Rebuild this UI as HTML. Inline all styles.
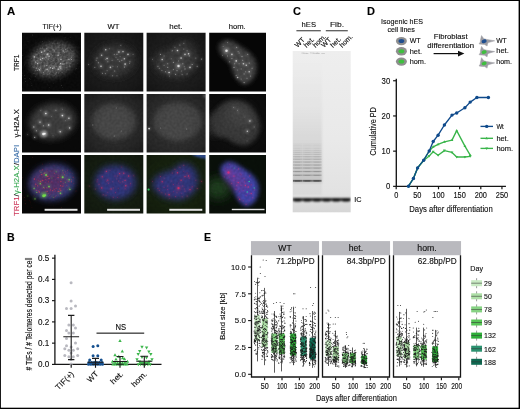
<!DOCTYPE html>
<html><head><meta charset="utf-8"><title>Figure</title>
<style>
html,body{margin:0;padding:0;background:#fff;}
svg{display:block;font-family:"Liberation Sans", sans-serif;}
text{stroke:#000;stroke-width:0.12px;}
</style></head><body>
<svg width="520" height="409" viewBox="0 0 520 409">
<rect width="520" height="409" fill="#fff"/>
<defs>
<filter id="b1" x="-30%" y="-30%" width="160%" height="160%"><feGaussianBlur stdDeviation="1"/></filter>
<filter id="b2" x="-30%" y="-30%" width="160%" height="160%"><feGaussianBlur stdDeviation="2"/></filter>
<filter id="b3" x="-30%" y="-30%" width="160%" height="160%"><feGaussianBlur stdDeviation="3"/></filter>
<filter id="b5" x="-40%" y="-40%" width="180%" height="180%"><feGaussianBlur stdDeviation="5"/></filter>
<filter id="bd" x="-50%" y="-50%" width="200%" height="200%"><feGaussianBlur stdDeviation="0.45"/></filter>
<filter id="bd2" x="-50%" y="-50%" width="200%" height="200%"><feGaussianBlur stdDeviation="0.75"/></filter>
<filter id="gbl" filterUnits="userSpaceOnUse" x="285" y="130" width="75" height="70"><feGaussianBlur stdDeviation="0.76"/></filter>
<filter id="gbi" filterUnits="userSpaceOnUse" x="285" y="185" width="75" height="30"><feGaussianBlur stdDeviation="0.85"/></filter>
</defs>
<clipPath id="cp00"><rect x="22" y="32.8" width="59" height="58.7"/></clipPath>
<clipPath id="cp01"><rect x="22" y="94" width="59" height="58.599999999999994"/></clipPath>
<clipPath id="cp02"><rect x="22" y="155" width="59" height="58.599999999999994"/></clipPath>
<clipPath id="cp10"><rect x="84.3" y="32.8" width="59.000000000000014" height="58.7"/></clipPath>
<clipPath id="cp11"><rect x="84.3" y="94" width="59.000000000000014" height="58.599999999999994"/></clipPath>
<clipPath id="cp12"><rect x="84.3" y="155" width="59.000000000000014" height="58.599999999999994"/></clipPath>
<clipPath id="cp20"><rect x="146.6" y="32.8" width="59.0" height="58.7"/></clipPath>
<clipPath id="cp21"><rect x="146.6" y="94" width="59.0" height="58.599999999999994"/></clipPath>
<clipPath id="cp22"><rect x="146.6" y="155" width="59.0" height="58.599999999999994"/></clipPath>
<clipPath id="cp30"><rect x="209.2" y="32.8" width="56.80000000000001" height="58.7"/></clipPath>
<clipPath id="cp31"><rect x="209.2" y="94" width="56.80000000000001" height="58.599999999999994"/></clipPath>
<clipPath id="cp32"><rect x="209.2" y="155" width="56.80000000000001" height="58.599999999999994"/></clipPath>
<radialGradient id="vig" cx="0.5" cy="0.5" r="0.75"><stop offset="0.25" stop-color="#000" stop-opacity="0"/><stop offset="0.6" stop-color="#000" stop-opacity="0.35"/><stop offset="1" stop-color="#000" stop-opacity="1"/></radialGradient>
<filter id="grain" x="0" y="0" width="100%" height="100%" color-interpolation-filters="sRGB">
<feTurbulence type="fractalNoise" baseFrequency="0.4" numOctaves="1" seed="4" result="n"/>
<feColorMatrix in="n" type="matrix" values="1 0 0 0 0  1 0 0 0 0  1 0 0 0 0  0 0 0 0 1" result="g"/>
<feComposite in="SourceGraphic" in2="g" operator="arithmetic" k1="0.3" k2="0.85" k3="0" k4="0"/></filter>
<filter id="grain2" x="0" y="0" width="100%" height="100%" color-interpolation-filters="sRGB">
<feTurbulence type="fractalNoise" baseFrequency="0.45" numOctaves="1" seed="9" result="n"/>
<feColorMatrix in="n" type="matrix" values="1.5 0 0 0 -0.25  1.5 0 0 0 -0.25  1.5 0 0 0 -0.25  0 0 0 0 1" result="g"/>
<feComposite in="SourceGraphic" in2="g" operator="arithmetic" k1="0.7" k2="0.65" k3="0" k4="0"/></filter>
<g clip-path="url(#cp00)"><g filter="url(#grain2)">
<rect x="19" y="29.799999999999997" width="65" height="64.7" fill="#0a0a0a"/>
<path d="M76.3 53.7 C77.0 56.5 76.6 60.0 75.3 63.0 C74.0 65.9 71.3 69.0 68.3 71.3 C65.3 73.6 61.1 75.5 57.2 76.5 C53.4 77.4 48.7 77.7 45.0 77.1 C41.3 76.5 37.5 75.0 34.9 73.0 C32.4 71.1 30.4 68.1 29.7 65.3 C29.0 62.5 29.4 59.0 30.7 56.0 C32.0 53.1 34.7 50.0 37.7 47.7 C40.7 45.4 44.9 43.5 48.8 42.5 C52.6 41.6 57.3 41.3 61.0 41.9 C64.7 42.5 68.5 44.0 71.1 46.0 C73.6 47.9 75.6 50.9 76.3 53.7Z" fill="#4a4a4a" filter="url(#b3)" opacity="1"/>
</g>
<g fill="#999" filter="url(#bd)">
<circle cx="67.9" cy="55.7" r="0.35" opacity="0.49"/>
<circle cx="24.3" cy="64.9" r="0.28" opacity="0.42"/>
<circle cx="77.5" cy="63.4" r="0.27" opacity="0.35"/>
<circle cx="53.9" cy="75.1" r="0.35" opacity="0.37"/>
<circle cx="70.9" cy="63.6" r="0.33" opacity="0.48"/>
<circle cx="34.4" cy="73.2" r="0.33" opacity="0.42"/>
<circle cx="29.2" cy="90.9" r="0.32" opacity="0.17"/>
<circle cx="38.2" cy="56.4" r="0.25" opacity="0.30"/>
<circle cx="46.8" cy="74.0" r="0.32" opacity="0.24"/>
<circle cx="35.2" cy="76.5" r="0.44" opacity="0.33"/>
<circle cx="34.9" cy="80.1" r="0.33" opacity="0.22"/>
<circle cx="29.6" cy="78.6" r="0.41" opacity="0.37"/>
<circle cx="49.7" cy="66.0" r="0.30" opacity="0.49"/>
<circle cx="42.8" cy="70.5" r="0.41" opacity="0.44"/>
<circle cx="49.6" cy="50.2" r="0.36" opacity="0.19"/>
<circle cx="71.2" cy="53.7" r="0.42" opacity="0.24"/>
<circle cx="44.2" cy="47.8" r="0.34" opacity="0.22"/>
<circle cx="22.2" cy="75.4" r="0.31" opacity="0.24"/>
<circle cx="39.8" cy="61.1" r="0.34" opacity="0.37"/>
<circle cx="60.9" cy="54.2" r="0.44" opacity="0.45"/>
<circle cx="25.4" cy="81.6" r="0.43" opacity="0.42"/>
<circle cx="30.3" cy="81.8" r="0.38" opacity="0.16"/>
<circle cx="22.7" cy="89.0" r="0.38" opacity="0.24"/>
<circle cx="28.0" cy="41.2" r="0.30" opacity="0.42"/>
<circle cx="42.4" cy="41.8" r="0.43" opacity="0.43"/>
<circle cx="31.9" cy="85.4" r="0.37" opacity="0.42"/>
<circle cx="61.4" cy="85.5" r="0.41" opacity="0.44"/>
<circle cx="33.6" cy="73.7" r="0.36" opacity="0.41"/>
<circle cx="47.9" cy="84.9" r="0.36" opacity="0.24"/>
<circle cx="35.8" cy="41.0" r="0.35" opacity="0.17"/>
<circle cx="49.6" cy="41.3" r="0.35" opacity="0.32"/>
<circle cx="53.8" cy="83.7" r="0.25" opacity="0.44"/>
<circle cx="49.6" cy="66.0" r="0.38" opacity="0.44"/>
<circle cx="44.1" cy="57.5" r="0.44" opacity="0.18"/>
<circle cx="59.6" cy="70.3" r="0.26" opacity="0.36"/>
<circle cx="62.3" cy="87.8" r="0.32" opacity="0.49"/>
<circle cx="52.1" cy="61.4" r="0.43" opacity="0.16"/>
<circle cx="64.4" cy="69.7" r="0.32" opacity="0.45"/>
<circle cx="43.6" cy="60.8" r="0.36" opacity="0.42"/>
<circle cx="34.4" cy="58.5" r="0.33" opacity="0.34"/>
<circle cx="70.8" cy="50.1" r="0.42" opacity="0.29"/>
<circle cx="51.7" cy="48.8" r="0.35" opacity="0.49"/>
<circle cx="60.6" cy="79.5" r="0.32" opacity="0.26"/>
<circle cx="39.7" cy="67.4" r="0.38" opacity="0.42"/>
<circle cx="24.4" cy="75.4" r="0.43" opacity="0.34"/>
<circle cx="24.9" cy="50.5" r="0.25" opacity="0.22"/>
<circle cx="76.4" cy="68.7" r="0.38" opacity="0.43"/>
<circle cx="75.7" cy="68.9" r="0.37" opacity="0.37"/>
<circle cx="63.1" cy="68.0" r="0.39" opacity="0.22"/>
<circle cx="61.4" cy="59.8" r="0.40" opacity="0.19"/>
<circle cx="32.7" cy="35.0" r="0.40" opacity="0.47"/>
<circle cx="60.7" cy="54.6" r="0.41" opacity="0.43"/>
<circle cx="55.2" cy="48.0" r="0.31" opacity="0.30"/>
<circle cx="40.8" cy="58.2" r="0.38" opacity="0.48"/>
<circle cx="25.2" cy="66.3" r="0.26" opacity="0.19"/>
<circle cx="69.8" cy="66.7" r="0.43" opacity="0.31"/>
<circle cx="22.8" cy="55.6" r="0.37" opacity="0.48"/>
<circle cx="79.9" cy="60.9" r="0.33" opacity="0.19"/>
<circle cx="60.0" cy="45.3" r="0.28" opacity="0.16"/>
<circle cx="22.3" cy="73.1" r="0.27" opacity="0.49"/>
<circle cx="27.2" cy="84.1" r="0.28" opacity="0.16"/>
<circle cx="64.4" cy="47.1" r="0.40" opacity="0.22"/>
<circle cx="25.0" cy="78.5" r="0.39" opacity="0.45"/>
<circle cx="65.1" cy="37.8" r="0.38" opacity="0.40"/>
<circle cx="49.2" cy="87.8" r="0.30" opacity="0.49"/>
<circle cx="64.3" cy="33.5" r="0.25" opacity="0.38"/>
<circle cx="70.2" cy="37.5" r="0.31" opacity="0.41"/>
<circle cx="31.8" cy="83.6" r="0.35" opacity="0.17"/>
<circle cx="43.7" cy="66.7" r="0.34" opacity="0.39"/>
<circle cx="30.5" cy="79.8" r="0.32" opacity="0.38"/>
</g>
<g fill="#bbb" filter="url(#bd)">
<circle cx="60.8" cy="44.6" r="0.34" opacity="0.15"/>
<circle cx="48.2" cy="56.1" r="0.37" opacity="0.27"/>
<circle cx="35.5" cy="64.0" r="0.54" opacity="0.19"/>
<circle cx="40.1" cy="48.2" r="0.54" opacity="0.22"/>
<circle cx="35.4" cy="54.9" r="0.39" opacity="0.44"/>
<circle cx="58.0" cy="47.7" r="0.51" opacity="0.30"/>
<circle cx="42.0" cy="54.4" r="0.31" opacity="0.32"/>
<circle cx="47.0" cy="46.9" r="0.39" opacity="0.47"/>
<circle cx="51.5" cy="59.0" r="0.35" opacity="0.28"/>
<circle cx="46.0" cy="51.6" r="0.52" opacity="0.16"/>
<circle cx="67.6" cy="48.2" r="0.40" opacity="0.43"/>
<circle cx="54.3" cy="47.7" r="0.49" opacity="0.16"/>
<circle cx="54.9" cy="43.7" r="0.31" opacity="0.17"/>
<circle cx="54.2" cy="75.5" r="0.53" opacity="0.24"/>
<circle cx="69.1" cy="66.1" r="0.49" opacity="0.46"/>
<circle cx="42.4" cy="55.0" r="0.38" opacity="0.25"/>
<circle cx="38.3" cy="68.6" r="0.54" opacity="0.37"/>
<circle cx="54.4" cy="68.8" r="0.37" opacity="0.40"/>
<circle cx="45.5" cy="50.2" r="0.38" opacity="0.25"/>
<circle cx="67.1" cy="67.5" r="0.30" opacity="0.41"/>
<circle cx="40.9" cy="60.1" r="0.53" opacity="0.37"/>
<circle cx="42.3" cy="65.9" r="0.54" opacity="0.16"/>
<circle cx="73.2" cy="57.7" r="0.36" opacity="0.32"/>
<circle cx="73.1" cy="55.0" r="0.54" opacity="0.48"/>
<circle cx="40.6" cy="50.4" r="0.40" opacity="0.24"/>
<circle cx="39.6" cy="49.6" r="0.41" opacity="0.32"/>
<circle cx="58.5" cy="72.9" r="0.53" opacity="0.21"/>
<circle cx="68.1" cy="58.8" r="0.50" opacity="0.41"/>
<circle cx="59.8" cy="69.5" r="0.51" opacity="0.42"/>
<circle cx="34.6" cy="64.9" r="0.45" opacity="0.26"/>
<circle cx="64.1" cy="58.8" r="0.38" opacity="0.28"/>
<circle cx="38.8" cy="69.2" r="0.50" opacity="0.18"/>
<circle cx="45.6" cy="69.6" r="0.35" opacity="0.41"/>
<circle cx="73.9" cy="56.0" r="0.36" opacity="0.17"/>
<circle cx="48.6" cy="74.4" r="0.31" opacity="0.34"/>
<circle cx="62.9" cy="48.5" r="0.38" opacity="0.49"/>
<circle cx="37.3" cy="70.4" r="0.52" opacity="0.50"/>
<circle cx="46.4" cy="61.1" r="0.37" opacity="0.18"/>
<circle cx="54.2" cy="74.0" r="0.32" opacity="0.32"/>
<circle cx="50.1" cy="71.9" r="0.48" opacity="0.31"/>
<circle cx="67.4" cy="49.8" r="0.36" opacity="0.30"/>
<circle cx="42.0" cy="52.6" r="0.46" opacity="0.39"/>
<circle cx="41.5" cy="62.4" r="0.49" opacity="0.45"/>
<circle cx="42.4" cy="56.8" r="0.47" opacity="0.19"/>
<circle cx="46.5" cy="58.1" r="0.51" opacity="0.25"/>
<circle cx="56.7" cy="73.0" r="0.44" opacity="0.28"/>
<circle cx="49.5" cy="73.5" r="0.48" opacity="0.22"/>
<circle cx="53.1" cy="60.6" r="0.36" opacity="0.24"/>
<circle cx="54.0" cy="43.4" r="0.34" opacity="0.46"/>
<circle cx="50.4" cy="48.9" r="0.44" opacity="0.26"/>
<circle cx="38.5" cy="58.6" r="0.40" opacity="0.50"/>
<circle cx="63.0" cy="61.4" r="0.43" opacity="0.23"/>
<circle cx="45.3" cy="60.1" r="0.50" opacity="0.38"/>
<circle cx="55.5" cy="69.0" r="0.55" opacity="0.19"/>
<circle cx="35.6" cy="61.5" r="0.42" opacity="0.44"/>
<circle cx="41.9" cy="52.0" r="0.51" opacity="0.47"/>
<circle cx="65.0" cy="59.8" r="0.31" opacity="0.25"/>
<circle cx="55.7" cy="68.2" r="0.33" opacity="0.22"/>
<circle cx="71.3" cy="57.6" r="0.54" opacity="0.35"/>
<circle cx="58.0" cy="59.7" r="0.53" opacity="0.28"/>
<circle cx="53.5" cy="65.9" r="0.52" opacity="0.31"/>
<circle cx="50.9" cy="60.6" r="0.36" opacity="0.42"/>
<circle cx="52.0" cy="74.3" r="0.54" opacity="0.19"/>
<circle cx="61.8" cy="72.1" r="0.45" opacity="0.37"/>
<circle cx="72.6" cy="51.5" r="0.35" opacity="0.28"/>
<circle cx="55.6" cy="74.3" r="0.34" opacity="0.22"/>
<circle cx="68.0" cy="47.4" r="0.36" opacity="0.36"/>
<circle cx="36.3" cy="57.6" r="0.46" opacity="0.22"/>
<circle cx="34.1" cy="65.2" r="0.30" opacity="0.26"/>
<circle cx="37.7" cy="66.7" r="0.47" opacity="0.21"/>
<circle cx="60.1" cy="47.6" r="0.38" opacity="0.22"/>
<circle cx="48.5" cy="59.1" r="0.50" opacity="0.34"/>
<circle cx="38.0" cy="57.2" r="0.32" opacity="0.19"/>
<circle cx="53.7" cy="54.1" r="0.40" opacity="0.34"/>
<circle cx="39.5" cy="53.4" r="0.46" opacity="0.18"/>
<circle cx="55.4" cy="57.5" r="0.34" opacity="0.39"/>
<circle cx="58.5" cy="59.9" r="0.40" opacity="0.25"/>
<circle cx="42.8" cy="47.1" r="0.38" opacity="0.48"/>
<circle cx="49.6" cy="73.3" r="0.38" opacity="0.35"/>
<circle cx="67.1" cy="51.4" r="0.39" opacity="0.30"/>
<circle cx="56.1" cy="66.2" r="0.52" opacity="0.50"/>
<circle cx="61.3" cy="57.0" r="0.39" opacity="0.22"/>
<circle cx="58.9" cy="69.6" r="0.48" opacity="0.22"/>
<circle cx="51.0" cy="54.1" r="0.30" opacity="0.47"/>
<circle cx="55.3" cy="73.8" r="0.41" opacity="0.44"/>
<circle cx="42.7" cy="47.1" r="0.40" opacity="0.46"/>
<circle cx="54.2" cy="50.7" r="0.42" opacity="0.21"/>
<circle cx="44.7" cy="53.0" r="0.30" opacity="0.34"/>
<circle cx="64.5" cy="52.5" r="0.46" opacity="0.47"/>
<circle cx="53.0" cy="48.7" r="0.32" opacity="0.37"/>
<circle cx="63.3" cy="61.2" r="0.39" opacity="0.33"/>
<circle cx="39.3" cy="58.7" r="0.34" opacity="0.25"/>
<circle cx="67.1" cy="57.2" r="0.43" opacity="0.47"/>
<circle cx="52.8" cy="70.7" r="0.33" opacity="0.32"/>
<circle cx="48.3" cy="59.7" r="0.50" opacity="0.49"/>
<circle cx="46.0" cy="70.6" r="0.35" opacity="0.19"/>
<circle cx="62.1" cy="64.0" r="0.54" opacity="0.49"/>
<circle cx="48.8" cy="54.4" r="0.42" opacity="0.17"/>
<circle cx="34.0" cy="67.6" r="0.53" opacity="0.29"/>
<circle cx="42.2" cy="48.2" r="0.53" opacity="0.37"/>
<circle cx="69.4" cy="65.2" r="0.51" opacity="0.21"/>
<circle cx="43.4" cy="50.9" r="0.50" opacity="0.23"/>
<circle cx="43.8" cy="58.1" r="0.40" opacity="0.45"/>
<circle cx="37.8" cy="57.7" r="0.51" opacity="0.21"/>
<circle cx="42.5" cy="74.9" r="0.35" opacity="0.29"/>
<circle cx="73.9" cy="61.1" r="0.43" opacity="0.28"/>
<circle cx="44.6" cy="54.7" r="0.33" opacity="0.24"/>
<circle cx="51.9" cy="59.6" r="0.48" opacity="0.46"/>
<circle cx="39.8" cy="59.7" r="0.31" opacity="0.35"/>
<circle cx="34.8" cy="56.1" r="0.49" opacity="0.16"/>
<circle cx="44.3" cy="50.6" r="0.51" opacity="0.19"/>
<circle cx="56.8" cy="60.5" r="0.45" opacity="0.34"/>
<circle cx="64.1" cy="64.8" r="0.46" opacity="0.26"/>
<circle cx="62.6" cy="72.2" r="0.41" opacity="0.35"/>
<circle cx="48.1" cy="53.7" r="0.41" opacity="0.38"/>
<circle cx="62.9" cy="64.3" r="0.41" opacity="0.30"/>
<circle cx="70.3" cy="63.8" r="0.31" opacity="0.37"/>
<circle cx="63.3" cy="69.9" r="0.42" opacity="0.23"/>
<circle cx="37.0" cy="60.3" r="0.49" opacity="0.42"/>
<circle cx="53.2" cy="70.7" r="0.41" opacity="0.21"/>
<circle cx="66.5" cy="70.4" r="0.42" opacity="0.19"/>
<circle cx="56.7" cy="72.6" r="0.33" opacity="0.30"/>
<circle cx="61.1" cy="66.0" r="0.32" opacity="0.30"/>
<circle cx="36.8" cy="54.8" r="0.43" opacity="0.16"/>
<circle cx="35.5" cy="70.7" r="0.46" opacity="0.18"/>
<circle cx="55.6" cy="63.8" r="0.48" opacity="0.42"/>
<circle cx="58.6" cy="65.5" r="0.43" opacity="0.17"/>
<circle cx="66.2" cy="67.8" r="0.43" opacity="0.28"/>
<circle cx="53.1" cy="60.7" r="0.54" opacity="0.20"/>
<circle cx="60.0" cy="45.0" r="0.51" opacity="0.50"/>
<circle cx="63.5" cy="51.2" r="0.48" opacity="0.44"/>
<circle cx="63.1" cy="49.6" r="0.35" opacity="0.49"/>
<circle cx="52.7" cy="55.6" r="0.42" opacity="0.48"/>
<circle cx="52.1" cy="65.6" r="0.53" opacity="0.21"/>
<circle cx="64.8" cy="63.4" r="0.50" opacity="0.48"/>
<circle cx="59.3" cy="45.4" r="0.32" opacity="0.27"/>
<circle cx="37.4" cy="51.3" r="0.49" opacity="0.21"/>
<circle cx="63.8" cy="53.0" r="0.52" opacity="0.25"/>
<circle cx="56.0" cy="43.2" r="0.50" opacity="0.20"/>
<circle cx="60.6" cy="65.9" r="0.43" opacity="0.47"/>
<circle cx="60.8" cy="52.5" r="0.35" opacity="0.24"/>
<circle cx="53.7" cy="58.3" r="0.43" opacity="0.26"/>
<circle cx="51.5" cy="46.7" r="0.31" opacity="0.21"/>
<circle cx="70.4" cy="49.4" r="0.34" opacity="0.48"/>
<circle cx="31.7" cy="58.1" r="0.47" opacity="0.46"/>
<circle cx="50.8" cy="51.8" r="0.34" opacity="0.42"/>
<circle cx="40.2" cy="62.2" r="0.33" opacity="0.34"/>
<circle cx="37.1" cy="60.3" r="0.46" opacity="0.28"/>
<circle cx="67.2" cy="59.8" r="0.52" opacity="0.34"/>
<circle cx="70.1" cy="66.3" r="0.45" opacity="0.46"/>
<circle cx="41.1" cy="72.8" r="0.33" opacity="0.50"/>
<circle cx="52.4" cy="43.6" r="0.46" opacity="0.29"/>
<circle cx="50.8" cy="52.9" r="0.50" opacity="0.24"/>
<circle cx="37.1" cy="54.3" r="0.55" opacity="0.35"/>
<circle cx="44.9" cy="70.9" r="0.39" opacity="0.42"/>
<circle cx="68.0" cy="46.8" r="0.41" opacity="0.21"/>
<circle cx="70.8" cy="52.5" r="0.49" opacity="0.17"/>
<circle cx="47.3" cy="55.9" r="0.50" opacity="0.24"/>
<circle cx="46.8" cy="57.1" r="0.46" opacity="0.49"/>
<circle cx="35.4" cy="70.7" r="0.45" opacity="0.38"/>
<circle cx="43.5" cy="74.1" r="0.38" opacity="0.15"/>
<circle cx="41.9" cy="51.7" r="0.31" opacity="0.20"/>
<circle cx="53.5" cy="49.1" r="0.45" opacity="0.30"/>
<circle cx="47.4" cy="74.8" r="0.43" opacity="0.46"/>
<circle cx="58.8" cy="73.3" r="0.33" opacity="0.23"/>
<circle cx="72.5" cy="61.1" r="0.46" opacity="0.16"/>
<circle cx="62.7" cy="44.4" r="0.30" opacity="0.27"/>
<circle cx="63.3" cy="57.9" r="0.33" opacity="0.28"/>
<circle cx="64.2" cy="64.3" r="0.36" opacity="0.35"/>
<circle cx="51.8" cy="54.3" r="0.45" opacity="0.22"/>
<circle cx="44.1" cy="67.5" r="0.46" opacity="0.32"/>
<circle cx="59.9" cy="52.8" r="0.33" opacity="0.48"/>
<circle cx="55.5" cy="56.0" r="0.36" opacity="0.20"/>
<circle cx="40.1" cy="73.1" r="0.32" opacity="0.37"/>
<circle cx="52.9" cy="50.1" r="0.52" opacity="0.42"/>
<circle cx="50.8" cy="47.4" r="0.40" opacity="0.24"/>
<circle cx="46.0" cy="45.8" r="0.30" opacity="0.38"/>
<circle cx="41.5" cy="51.4" r="0.44" opacity="0.27"/>
<circle cx="56.1" cy="72.5" r="0.46" opacity="0.31"/>
<circle cx="64.0" cy="56.6" r="0.53" opacity="0.41"/>
<circle cx="49.2" cy="60.3" r="0.36" opacity="0.47"/>
<circle cx="47.6" cy="54.1" r="0.31" opacity="0.34"/>
<circle cx="53.2" cy="63.8" r="0.40" opacity="0.23"/>
<circle cx="69.1" cy="50.0" r="0.31" opacity="0.42"/>
<circle cx="42.9" cy="51.1" r="0.30" opacity="0.34"/>
<circle cx="48.6" cy="57.7" r="0.54" opacity="0.20"/>
<circle cx="32.3" cy="66.5" r="0.35" opacity="0.36"/>
<circle cx="70.5" cy="58.6" r="0.43" opacity="0.37"/>
<circle cx="48.2" cy="73.8" r="0.50" opacity="0.21"/>
<circle cx="54.0" cy="65.6" r="0.38" opacity="0.26"/>
<circle cx="59.5" cy="68.4" r="0.31" opacity="0.46"/>
<circle cx="51.1" cy="61.2" r="0.50" opacity="0.40"/>
<circle cx="41.2" cy="73.5" r="0.30" opacity="0.45"/>
<circle cx="59.4" cy="52.9" r="0.49" opacity="0.31"/>
<circle cx="36.5" cy="51.2" r="0.49" opacity="0.31"/>
<circle cx="59.0" cy="66.1" r="0.36" opacity="0.19"/>
<circle cx="54.1" cy="62.3" r="0.36" opacity="0.16"/>
<circle cx="48.0" cy="50.3" r="0.38" opacity="0.41"/>
<circle cx="57.5" cy="43.1" r="0.47" opacity="0.45"/>
<circle cx="44.2" cy="58.2" r="0.48" opacity="0.24"/>
<circle cx="70.0" cy="58.7" r="0.44" opacity="0.30"/>
<circle cx="41.3" cy="51.0" r="0.50" opacity="0.33"/>
<circle cx="52.9" cy="65.3" r="0.37" opacity="0.37"/>
<circle cx="49.5" cy="51.4" r="0.54" opacity="0.23"/>
<circle cx="60.4" cy="73.7" r="0.52" opacity="0.16"/>
<circle cx="45.8" cy="56.8" r="0.37" opacity="0.23"/>
<circle cx="61.1" cy="49.4" r="0.49" opacity="0.48"/>
<circle cx="66.1" cy="67.5" r="0.49" opacity="0.26"/>
<circle cx="53.2" cy="49.6" r="0.52" opacity="0.26"/>
<circle cx="73.8" cy="53.2" r="0.36" opacity="0.47"/>
<circle cx="67.2" cy="50.5" r="0.46" opacity="0.39"/>
<circle cx="40.7" cy="68.2" r="0.47" opacity="0.49"/>
<circle cx="43.9" cy="74.6" r="0.42" opacity="0.44"/>
<circle cx="52.8" cy="49.0" r="0.47" opacity="0.45"/>
<circle cx="40.8" cy="56.7" r="0.41" opacity="0.40"/>
<circle cx="37.4" cy="55.9" r="0.44" opacity="0.26"/>
<circle cx="33.5" cy="55.9" r="0.35" opacity="0.37"/>
<circle cx="72.1" cy="53.8" r="0.32" opacity="0.47"/>
<circle cx="60.3" cy="55.4" r="0.34" opacity="0.16"/>
<circle cx="47.4" cy="53.9" r="0.33" opacity="0.48"/>
</g>
<g fill="#fff" filter="url(#b1)">
<circle cx="46.9" cy="48.8" r="1.27" opacity="0.14"/>
<circle cx="60.6" cy="63.5" r="1.68" opacity="0.15"/>
<circle cx="60.8" cy="66.6" r="1.24" opacity="0.14"/>
<circle cx="35.8" cy="62.2" r="1.76" opacity="0.11"/>
<circle cx="47.6" cy="69.0" r="1.28" opacity="0.12"/>
<circle cx="58.3" cy="69.2" r="1.64" opacity="0.18"/>
<circle cx="58.2" cy="53.1" r="1.26" opacity="0.11"/>
<circle cx="63.2" cy="50.7" r="1.32" opacity="0.12"/>
<circle cx="45.8" cy="57.2" r="1.51" opacity="0.11"/>
<circle cx="44.4" cy="66.0" r="1.38" opacity="0.11"/>
<circle cx="47.8" cy="54.1" r="1.82" opacity="0.17"/>
<circle cx="71.4" cy="59.6" r="1.22" opacity="0.19"/>
<circle cx="66.9" cy="63.0" r="1.22" opacity="0.13"/>
<circle cx="34.4" cy="56.9" r="1.83" opacity="0.18"/>
<circle cx="50.5" cy="67.7" r="1.66" opacity="0.14"/>
<circle cx="46.9" cy="65.6" r="1.29" opacity="0.16"/>
<circle cx="54.5" cy="51.0" r="1.22" opacity="0.11"/>
<circle cx="65.7" cy="49.6" r="1.42" opacity="0.09"/>
<circle cx="52.7" cy="68.4" r="1.43" opacity="0.18"/>
<circle cx="40.5" cy="59.3" r="1.63" opacity="0.14"/>
<circle cx="47.0" cy="69.4" r="1.59" opacity="0.14"/>
<circle cx="43.5" cy="72.8" r="1.25" opacity="0.15"/>
<circle cx="44.4" cy="51.0" r="1.43" opacity="0.17"/>
<circle cx="60.9" cy="59.4" r="1.78" opacity="0.14"/>
<circle cx="37.6" cy="63.6" r="1.55" opacity="0.17"/>
<circle cx="36.4" cy="68.1" r="1.44" opacity="0.11"/>
<circle cx="60.8" cy="68.1" r="1.65" opacity="0.18"/>
<circle cx="58.1" cy="55.2" r="1.68" opacity="0.17"/>
<circle cx="49.1" cy="56.3" r="1.74" opacity="0.16"/>
<circle cx="41.4" cy="52.4" r="1.59" opacity="0.14"/>
<circle cx="68.9" cy="59.5" r="1.37" opacity="0.16"/>
<circle cx="48.2" cy="71.0" r="1.22" opacity="0.13"/>
<circle cx="42.5" cy="58.3" r="1.69" opacity="0.17"/>
<circle cx="54.2" cy="67.1" r="1.58" opacity="0.12"/>
<circle cx="63.0" cy="63.9" r="1.44" opacity="0.14"/>
<circle cx="47.0" cy="54.3" r="1.58" opacity="0.13"/>
<circle cx="39.4" cy="69.8" r="1.62" opacity="0.19"/>
<circle cx="59.4" cy="66.7" r="1.28" opacity="0.16"/>
</g>
<g fill="#eee" filter="url(#bd2)">
<circle cx="46.9" cy="48.8" r="0.50" opacity="0.56"/>
<circle cx="60.6" cy="63.5" r="0.66" opacity="0.62"/>
<circle cx="60.8" cy="66.6" r="0.48" opacity="0.57"/>
<circle cx="35.8" cy="62.2" r="0.69" opacity="0.47"/>
<circle cx="47.6" cy="69.0" r="0.50" opacity="0.50"/>
<circle cx="58.3" cy="69.2" r="0.64" opacity="0.74"/>
<circle cx="58.2" cy="53.1" r="0.49" opacity="0.43"/>
<circle cx="63.2" cy="50.7" r="0.52" opacity="0.51"/>
<circle cx="45.8" cy="57.2" r="0.59" opacity="0.43"/>
<circle cx="44.4" cy="66.0" r="0.54" opacity="0.45"/>
<circle cx="47.8" cy="54.1" r="0.71" opacity="0.69"/>
<circle cx="71.4" cy="59.6" r="0.48" opacity="0.79"/>
<circle cx="66.9" cy="63.0" r="0.48" opacity="0.53"/>
<circle cx="34.4" cy="56.9" r="0.72" opacity="0.72"/>
<circle cx="50.5" cy="67.7" r="0.65" opacity="0.56"/>
<circle cx="46.9" cy="65.6" r="0.50" opacity="0.65"/>
<circle cx="54.5" cy="51.0" r="0.48" opacity="0.45"/>
<circle cx="65.7" cy="49.6" r="0.55" opacity="0.38"/>
<circle cx="52.7" cy="68.4" r="0.56" opacity="0.72"/>
<circle cx="40.5" cy="59.3" r="0.64" opacity="0.59"/>
<circle cx="47.0" cy="69.4" r="0.62" opacity="0.57"/>
<circle cx="43.5" cy="72.8" r="0.49" opacity="0.63"/>
<circle cx="44.4" cy="51.0" r="0.56" opacity="0.69"/>
<circle cx="60.9" cy="59.4" r="0.70" opacity="0.55"/>
<circle cx="37.6" cy="63.6" r="0.60" opacity="0.70"/>
<circle cx="36.4" cy="68.1" r="0.56" opacity="0.46"/>
<circle cx="60.8" cy="68.1" r="0.64" opacity="0.76"/>
<circle cx="58.1" cy="55.2" r="0.66" opacity="0.68"/>
<circle cx="49.1" cy="56.3" r="0.68" opacity="0.67"/>
<circle cx="41.4" cy="52.4" r="0.62" opacity="0.56"/>
<circle cx="68.9" cy="59.5" r="0.53" opacity="0.64"/>
<circle cx="48.2" cy="71.0" r="0.48" opacity="0.55"/>
<circle cx="42.5" cy="58.3" r="0.66" opacity="0.68"/>
<circle cx="54.2" cy="67.1" r="0.62" opacity="0.47"/>
<circle cx="63.0" cy="63.9" r="0.56" opacity="0.56"/>
<circle cx="47.0" cy="54.3" r="0.62" opacity="0.54"/>
<circle cx="39.4" cy="69.8" r="0.63" opacity="0.78"/>
<circle cx="59.4" cy="66.7" r="0.50" opacity="0.65"/>
</g>
</g>
<g clip-path="url(#cp10)"><g filter="url(#grain)">
<rect x="81.3" y="29.799999999999997" width="65.00000000000001" height="64.7" fill="#1e1e1e"/>
<path d="M136.5 58.9 C136.8 61.7 135.9 65.0 134.3 67.6 C132.7 70.2 129.9 72.8 126.8 74.5 C123.8 76.2 119.7 77.4 116.1 77.7 C112.4 78.1 108.2 77.6 104.9 76.4 C101.6 75.3 98.4 73.2 96.4 70.9 C94.3 68.6 92.9 65.5 92.7 62.7 C92.4 59.9 93.3 56.6 94.9 54.0 C96.5 51.4 99.3 48.8 102.4 47.1 C105.4 45.4 109.5 44.2 113.1 43.9 C116.8 43.5 121.0 44.0 124.3 45.2 C127.6 46.3 130.8 48.4 132.8 50.7 C134.9 53.0 136.3 56.1 136.5 58.9Z" fill="#303030" filter="url(#b3)" opacity="1"/>
<path d="M128.2 58.6 C128.4 60.2 127.9 62.2 126.8 63.7 C125.8 65.3 124.0 66.8 122.0 67.8 C120.1 68.8 117.5 69.6 115.2 69.8 C112.8 70.0 110.2 69.7 108.1 69.0 C106.0 68.4 103.9 67.2 102.7 65.8 C101.4 64.5 100.5 62.7 100.4 61.0 C100.2 59.4 100.7 57.4 101.8 55.9 C102.8 54.3 104.6 52.8 106.6 51.8 C108.5 50.8 111.1 50.0 113.4 49.8 C115.8 49.6 118.4 49.9 120.5 50.6 C122.6 51.2 124.7 52.4 125.9 53.8 C127.2 55.1 128.1 56.9 128.2 58.6Z" fill="#3a3a3a" filter="url(#b5)" opacity="0.5"/>
<rect x="84.3" y="32.8" width="59.000000000000014" height="58.7" fill="url(#vig)" opacity="0.45"/>
</g>
<g fill="#fff" filter="url(#b1)">
<circle cx="105.7" cy="49.8" r="1.95" opacity="0.17"/>
<circle cx="109.3" cy="48.7" r="1.43" opacity="0.08"/>
<circle cx="118.9" cy="52.0" r="1.95" opacity="0.19"/>
<circle cx="123.0" cy="51.6" r="1.95" opacity="0.16"/>
<circle cx="128.0" cy="54.4" r="1.95" opacity="0.18"/>
<circle cx="133.1" cy="54.2" r="1.43" opacity="0.09"/>
<circle cx="101.6" cy="55.2" r="1.95" opacity="0.16"/>
<circle cx="116.9" cy="54.4" r="1.43" opacity="0.10"/>
<circle cx="120.1" cy="56.6" r="1.43" opacity="0.07"/>
<circle cx="107.1" cy="58.5" r="1.95" opacity="0.18"/>
<circle cx="105.7" cy="59.5" r="1.43" opacity="0.07"/>
<circle cx="116.0" cy="57.3" r="1.43" opacity="0.07"/>
<circle cx="117.9" cy="59.5" r="1.43" opacity="0.09"/>
<circle cx="121.8" cy="60.2" r="1.43" opacity="0.12"/>
<circle cx="124.4" cy="58.8" r="1.95" opacity="0.16"/>
<circle cx="96.3" cy="60.2" r="1.43" opacity="0.08"/>
<circle cx="107.8" cy="61.7" r="1.43" opacity="0.11"/>
<circle cx="98.4" cy="62.7" r="1.43" opacity="0.13"/>
<circle cx="129.9" cy="61.7" r="1.43" opacity="0.10"/>
<circle cx="119.4" cy="61.2" r="1.43" opacity="0.09"/>
<circle cx="125.1" cy="64.1" r="1.95" opacity="0.21"/>
<circle cx="129.5" cy="63.4" r="1.43" opacity="0.07"/>
<circle cx="101.0" cy="66.3" r="1.95" opacity="0.20"/>
<circle cx="94.8" cy="67.4" r="1.43" opacity="0.09"/>
<circle cx="110.4" cy="67.4" r="1.95" opacity="0.16"/>
<circle cx="112.9" cy="66.3" r="1.43" opacity="0.07"/>
<circle cx="117.5" cy="66.7" r="1.43" opacity="0.09"/>
<circle cx="124.4" cy="67.1" r="1.43" opacity="0.12"/>
<circle cx="107.1" cy="70.6" r="1.43" opacity="0.08"/>
<circle cx="114.7" cy="71.0" r="1.43" opacity="0.10"/>
<circle cx="102.5" cy="73.2" r="1.43" opacity="0.11"/>
<circle cx="105.4" cy="73.6" r="1.43" opacity="0.09"/>
<circle cx="112.6" cy="75.7" r="1.43" opacity="0.10"/>
<circle cx="116.9" cy="75.8" r="1.43" opacity="0.07"/>
<circle cx="120.8" cy="45.4" r="1.43" opacity="0.07"/>
<circle cx="88.6" cy="64.5" r="1.43" opacity="0.08"/>
<circle cx="97.0" cy="58.1" r="1.43" opacity="0.11"/>
<circle cx="112.1" cy="60.2" r="1.43" opacity="0.09"/>
<circle cx="114.3" cy="54.4" r="1.43" opacity="0.09"/>
</g>
<g fill="#e0e0e0" filter="url(#bd2)">
<circle cx="105.7" cy="49.8" r="0.78" opacity="0.70"/>
<circle cx="109.3" cy="48.7" r="0.57" opacity="0.31"/>
<circle cx="118.9" cy="52.0" r="0.78" opacity="0.78"/>
<circle cx="123.0" cy="51.6" r="0.78" opacity="0.65"/>
<circle cx="128.0" cy="54.4" r="0.78" opacity="0.75"/>
<circle cx="133.1" cy="54.2" r="0.57" opacity="0.37"/>
<circle cx="101.6" cy="55.2" r="0.78" opacity="0.64"/>
<circle cx="116.9" cy="54.4" r="0.57" opacity="0.41"/>
<circle cx="120.1" cy="56.6" r="0.57" opacity="0.28"/>
<circle cx="107.1" cy="58.5" r="0.78" opacity="0.73"/>
<circle cx="105.7" cy="59.5" r="0.57" opacity="0.29"/>
<circle cx="116.0" cy="57.3" r="0.57" opacity="0.29"/>
<circle cx="117.9" cy="59.5" r="0.57" opacity="0.38"/>
<circle cx="121.8" cy="60.2" r="0.57" opacity="0.49"/>
<circle cx="124.4" cy="58.8" r="0.78" opacity="0.66"/>
<circle cx="96.3" cy="60.2" r="0.57" opacity="0.33"/>
<circle cx="107.8" cy="61.7" r="0.57" opacity="0.44"/>
<circle cx="98.4" cy="62.7" r="0.57" opacity="0.53"/>
<circle cx="129.9" cy="61.7" r="0.57" opacity="0.43"/>
<circle cx="119.4" cy="61.2" r="0.57" opacity="0.38"/>
<circle cx="125.1" cy="64.1" r="0.78" opacity="0.85"/>
<circle cx="129.5" cy="63.4" r="0.57" opacity="0.28"/>
<circle cx="101.0" cy="66.3" r="0.78" opacity="0.82"/>
<circle cx="94.8" cy="67.4" r="0.57" opacity="0.35"/>
<circle cx="110.4" cy="67.4" r="0.78" opacity="0.66"/>
<circle cx="112.9" cy="66.3" r="0.57" opacity="0.30"/>
<circle cx="117.5" cy="66.7" r="0.57" opacity="0.35"/>
<circle cx="124.4" cy="67.1" r="0.57" opacity="0.49"/>
<circle cx="107.1" cy="70.6" r="0.57" opacity="0.32"/>
<circle cx="114.7" cy="71.0" r="0.57" opacity="0.43"/>
<circle cx="102.5" cy="73.2" r="0.57" opacity="0.44"/>
<circle cx="105.4" cy="73.6" r="0.57" opacity="0.37"/>
<circle cx="112.6" cy="75.7" r="0.57" opacity="0.42"/>
<circle cx="116.9" cy="75.8" r="0.57" opacity="0.29"/>
<circle cx="120.8" cy="45.4" r="0.57" opacity="0.29"/>
<circle cx="88.6" cy="64.5" r="0.57" opacity="0.33"/>
<circle cx="97.0" cy="58.1" r="0.57" opacity="0.45"/>
<circle cx="112.1" cy="60.2" r="0.57" opacity="0.39"/>
<circle cx="114.3" cy="54.4" r="0.57" opacity="0.35"/>
</g>
</g>
<g clip-path="url(#cp20)"><g filter="url(#grain)">
<rect x="143.6" y="29.799999999999997" width="65.0" height="64.7" fill="#202020"/>
<path d="M152.5 61.7 C152.8 59.5 154.1 56.3 156.1 54.4 C158.1 52.5 161.9 51.3 164.8 50.1 C167.7 48.9 171.0 48.5 173.4 47.2 C175.8 45.9 176.8 43.1 179.2 42.2 C181.6 41.2 185.2 40.7 187.9 41.5 C190.5 42.3 193.4 44.8 195.1 47.2 C196.8 49.6 197.7 53.0 198.0 55.9 C198.3 58.8 198.2 61.9 197.2 64.5 C196.2 67.2 194.7 69.6 192.2 71.8 C189.7 74.0 185.7 76.7 182.1 77.5 C178.5 78.3 174.2 77.5 170.6 76.8 C167.0 76.1 163.3 74.8 160.5 73.2 C157.7 71.6 155.3 69.3 154.0 67.4 C152.7 65.5 152.2 63.9 152.5 61.7Z" fill="#363636" filter="url(#b3)" opacity="1"/>
<path d="M191.8 58.4 C192.3 59.8 192.3 61.6 191.7 63.2 C191.1 64.8 189.9 66.6 188.4 67.9 C186.9 69.2 184.7 70.5 182.7 71.3 C180.6 72.0 178.2 72.4 176.2 72.3 C174.1 72.3 172.0 71.7 170.6 70.9 C169.1 70.0 167.9 68.7 167.4 67.2 C166.9 65.8 166.9 64.0 167.5 62.4 C168.1 60.8 169.3 59.0 170.8 57.7 C172.3 56.4 174.5 55.1 176.5 54.3 C178.6 53.6 181.0 53.2 183.0 53.3 C185.1 53.3 187.2 53.9 188.6 54.7 C190.1 55.6 191.3 56.9 191.8 58.4Z" fill="#404040" filter="url(#b5)" opacity="0.5"/>
<rect x="146.6" y="32.8" width="59.0" height="58.7" fill="url(#vig)" opacity="0.45"/>
</g>
<g fill="#fff" filter="url(#b1)">
<circle cx="179.9" cy="45.1" r="1.43" opacity="0.10"/>
<circle cx="183.8" cy="43.2" r="1.43" opacity="0.10"/>
<circle cx="174.9" cy="47.2" r="1.43" opacity="0.09"/>
<circle cx="172.3" cy="50.8" r="1.43" opacity="0.12"/>
<circle cx="177.5" cy="50.5" r="1.95" opacity="0.19"/>
<circle cx="183.8" cy="49.1" r="1.43" opacity="0.08"/>
<circle cx="187.1" cy="50.8" r="1.43" opacity="0.10"/>
<circle cx="185.0" cy="54.4" r="1.95" opacity="0.18"/>
<circle cx="188.6" cy="53.7" r="1.95" opacity="0.20"/>
<circle cx="189.3" cy="55.9" r="1.43" opacity="0.11"/>
<circle cx="195.8" cy="58.1" r="1.43" opacity="0.09"/>
<circle cx="201.6" cy="59.1" r="1.43" opacity="0.13"/>
<circle cx="152.5" cy="59.2" r="1.43" opacity="0.07"/>
<circle cx="162.2" cy="59.5" r="1.95" opacity="0.18"/>
<circle cx="160.5" cy="54.4" r="1.43" opacity="0.12"/>
<circle cx="164.1" cy="55.9" r="1.43" opacity="0.08"/>
<circle cx="181.1" cy="58.1" r="1.95" opacity="0.18"/>
<circle cx="178.5" cy="60.9" r="1.43" opacity="0.07"/>
<circle cx="173.4" cy="62.4" r="1.43" opacity="0.11"/>
<circle cx="167.7" cy="63.8" r="1.43" opacity="0.12"/>
<circle cx="178.5" cy="66.0" r="1.43" opacity="0.10"/>
<circle cx="182.8" cy="63.8" r="1.43" opacity="0.12"/>
<circle cx="184.3" cy="66.7" r="1.43" opacity="0.09"/>
<circle cx="167.7" cy="67.4" r="1.43" opacity="0.11"/>
<circle cx="157.9" cy="66.3" r="1.43" opacity="0.11"/>
<circle cx="159.3" cy="68.2" r="1.43" opacity="0.10"/>
<circle cx="161.9" cy="70.6" r="1.43" opacity="0.10"/>
<circle cx="165.5" cy="71.8" r="1.43" opacity="0.12"/>
<circle cx="169.1" cy="72.5" r="1.95" opacity="0.21"/>
<circle cx="173.4" cy="69.6" r="1.43" opacity="0.10"/>
<circle cx="177.0" cy="70.6" r="1.43" opacity="0.11"/>
<circle cx="181.4" cy="71.0" r="1.43" opacity="0.07"/>
<circle cx="185.0" cy="68.9" r="1.43" opacity="0.11"/>
<circle cx="190.0" cy="67.4" r="1.95" opacity="0.19"/>
<circle cx="192.2" cy="64.5" r="1.43" opacity="0.13"/>
<circle cx="197.2" cy="66.3" r="1.43" opacity="0.12"/>
<circle cx="187.1" cy="73.9" r="1.43" opacity="0.08"/>
<circle cx="182.1" cy="74.6" r="1.43" opacity="0.09"/>
<circle cx="175.6" cy="74.4" r="1.43" opacity="0.11"/>
<circle cx="169.4" cy="76.1" r="1.43" opacity="0.07"/>
<circle cx="164.1" cy="65.3" r="1.43" opacity="0.10"/>
<circle cx="171.3" cy="58.8" r="1.43" opacity="0.08"/>
<circle cx="178.5" cy="66.0" r="3.10" opacity="0.22"/>
</g>
<g fill="#e0e0e0" filter="url(#bd2)">
<circle cx="179.9" cy="45.1" r="0.57" opacity="0.43"/>
<circle cx="183.8" cy="43.2" r="0.57" opacity="0.39"/>
<circle cx="174.9" cy="47.2" r="0.57" opacity="0.35"/>
<circle cx="172.3" cy="50.8" r="0.57" opacity="0.48"/>
<circle cx="177.5" cy="50.5" r="0.78" opacity="0.79"/>
<circle cx="183.8" cy="49.1" r="0.57" opacity="0.34"/>
<circle cx="187.1" cy="50.8" r="0.57" opacity="0.43"/>
<circle cx="185.0" cy="54.4" r="0.78" opacity="0.75"/>
<circle cx="188.6" cy="53.7" r="0.78" opacity="0.83"/>
<circle cx="189.3" cy="55.9" r="0.57" opacity="0.47"/>
<circle cx="195.8" cy="58.1" r="0.57" opacity="0.35"/>
<circle cx="201.6" cy="59.1" r="0.57" opacity="0.53"/>
<circle cx="152.5" cy="59.2" r="0.57" opacity="0.30"/>
<circle cx="162.2" cy="59.5" r="0.78" opacity="0.72"/>
<circle cx="160.5" cy="54.4" r="0.57" opacity="0.47"/>
<circle cx="164.1" cy="55.9" r="0.57" opacity="0.31"/>
<circle cx="181.1" cy="58.1" r="0.78" opacity="0.74"/>
<circle cx="178.5" cy="60.9" r="0.57" opacity="0.28"/>
<circle cx="173.4" cy="62.4" r="0.57" opacity="0.45"/>
<circle cx="167.7" cy="63.8" r="0.57" opacity="0.48"/>
<circle cx="178.5" cy="66.0" r="0.57" opacity="0.42"/>
<circle cx="182.8" cy="63.8" r="0.57" opacity="0.51"/>
<circle cx="184.3" cy="66.7" r="0.57" opacity="0.35"/>
<circle cx="167.7" cy="67.4" r="0.57" opacity="0.46"/>
<circle cx="157.9" cy="66.3" r="0.57" opacity="0.43"/>
<circle cx="159.3" cy="68.2" r="0.57" opacity="0.43"/>
<circle cx="161.9" cy="70.6" r="0.57" opacity="0.39"/>
<circle cx="165.5" cy="71.8" r="0.57" opacity="0.50"/>
<circle cx="169.1" cy="72.5" r="0.78" opacity="0.84"/>
<circle cx="173.4" cy="69.6" r="0.57" opacity="0.40"/>
<circle cx="177.0" cy="70.6" r="0.57" opacity="0.45"/>
<circle cx="181.4" cy="71.0" r="0.57" opacity="0.29"/>
<circle cx="185.0" cy="68.9" r="0.57" opacity="0.46"/>
<circle cx="190.0" cy="67.4" r="0.78" opacity="0.78"/>
<circle cx="192.2" cy="64.5" r="0.57" opacity="0.54"/>
<circle cx="197.2" cy="66.3" r="0.57" opacity="0.49"/>
<circle cx="187.1" cy="73.9" r="0.57" opacity="0.35"/>
<circle cx="182.1" cy="74.6" r="0.57" opacity="0.37"/>
<circle cx="175.6" cy="74.4" r="0.57" opacity="0.45"/>
<circle cx="169.4" cy="76.1" r="0.57" opacity="0.28"/>
<circle cx="164.1" cy="65.3" r="0.57" opacity="0.39"/>
<circle cx="171.3" cy="58.8" r="0.57" opacity="0.32"/>
<circle cx="178.5" cy="66.0" r="1.24" opacity="0.90"/>
</g>
</g>
<g clip-path="url(#cp30)"><g filter="url(#grain)">
<rect x="206.2" y="29.799999999999997" width="62.80000000000001" height="64.7" fill="#060606"/>
<path d="M218.9 45.8 C219.4 43.5 221.9 41.5 223.9 40.7 C225.9 39.8 228.4 39.8 231.1 40.7 C233.8 41.5 236.4 43.5 239.8 45.8 C243.2 48.1 248.5 51.3 251.3 54.4 C254.1 57.5 255.8 60.9 256.4 64.5 C257.0 68.1 256.2 73.0 254.9 76.1 C253.6 79.2 250.7 82.1 248.4 83.3 C246.1 84.5 243.6 84.8 241.2 83.3 C238.8 81.8 235.9 78.0 234.0 74.6 C232.1 71.2 231.9 66.5 229.7 63.1 C227.5 59.7 222.8 57.3 221.0 54.4 C219.2 51.5 218.4 48.1 218.9 45.8Z" fill="#414141" filter="url(#b2)" opacity="1"/>
</g>
<g fill="#fff" filter="url(#b1)">
<circle cx="227.5" cy="42.6" r="1.43" opacity="0.07"/>
<circle cx="223.2" cy="46.5" r="1.43" opacity="0.07"/>
<circle cx="226.5" cy="50.8" r="1.43" opacity="0.12"/>
<circle cx="222.5" cy="55.2" r="1.43" opacity="0.07"/>
<circle cx="227.5" cy="55.9" r="1.43" opacity="0.08"/>
<circle cx="231.9" cy="54.4" r="1.95" opacity="0.18"/>
<circle cx="236.6" cy="47.2" r="1.43" opacity="0.12"/>
<circle cx="238.1" cy="51.6" r="1.43" opacity="0.07"/>
<circle cx="239.1" cy="53.0" r="1.43" opacity="0.10"/>
<circle cx="231.9" cy="58.5" r="1.43" opacity="0.10"/>
<circle cx="236.2" cy="60.9" r="1.95" opacity="0.20"/>
<circle cx="242.0" cy="56.6" r="1.43" opacity="0.12"/>
<circle cx="247.7" cy="54.2" r="1.43" opacity="0.12"/>
<circle cx="239.1" cy="63.8" r="1.43" opacity="0.08"/>
<circle cx="243.4" cy="63.8" r="1.95" opacity="0.18"/>
<circle cx="246.3" cy="65.3" r="1.95" opacity="0.17"/>
<circle cx="249.2" cy="63.1" r="1.43" opacity="0.12"/>
<circle cx="234.0" cy="67.4" r="1.43" opacity="0.13"/>
<circle cx="237.6" cy="70.0" r="1.43" opacity="0.08"/>
<circle cx="241.2" cy="68.9" r="1.43" opacity="0.08"/>
<circle cx="245.6" cy="71.8" r="1.43" opacity="0.08"/>
<circle cx="249.2" cy="71.8" r="1.95" opacity="0.17"/>
<circle cx="252.1" cy="68.2" r="1.43" opacity="0.10"/>
<circle cx="244.1" cy="73.9" r="1.43" opacity="0.10"/>
<circle cx="236.2" cy="75.4" r="1.43" opacity="0.08"/>
<circle cx="237.6" cy="77.5" r="1.95" opacity="0.15"/>
<circle cx="241.2" cy="79.0" r="1.43" opacity="0.09"/>
<circle cx="247.0" cy="78.3" r="1.43" opacity="0.09"/>
<circle cx="250.6" cy="76.1" r="1.43" opacity="0.10"/>
<circle cx="244.1" cy="82.6" r="1.43" opacity="0.13"/>
<circle cx="234.7" cy="63.8" r="1.43" opacity="0.11"/>
<circle cx="229.7" cy="61.7" r="1.43" opacity="0.10"/>
<circle cx="242.7" cy="60.2" r="1.43" opacity="0.11"/>
<circle cx="226.5" cy="50.8" r="3.22" opacity="0.22"/>
</g>
<g fill="#e8e8e8" filter="url(#bd2)">
<circle cx="227.5" cy="42.6" r="0.57" opacity="0.30"/>
<circle cx="223.2" cy="46.5" r="0.57" opacity="0.29"/>
<circle cx="226.5" cy="50.8" r="0.57" opacity="0.48"/>
<circle cx="222.5" cy="55.2" r="0.57" opacity="0.30"/>
<circle cx="227.5" cy="55.9" r="0.57" opacity="0.34"/>
<circle cx="231.9" cy="54.4" r="0.78" opacity="0.72"/>
<circle cx="236.6" cy="47.2" r="0.57" opacity="0.51"/>
<circle cx="238.1" cy="51.6" r="0.57" opacity="0.29"/>
<circle cx="239.1" cy="53.0" r="0.57" opacity="0.39"/>
<circle cx="231.9" cy="58.5" r="0.57" opacity="0.42"/>
<circle cx="236.2" cy="60.9" r="0.78" opacity="0.83"/>
<circle cx="242.0" cy="56.6" r="0.57" opacity="0.49"/>
<circle cx="247.7" cy="54.2" r="0.57" opacity="0.50"/>
<circle cx="239.1" cy="63.8" r="0.57" opacity="0.35"/>
<circle cx="243.4" cy="63.8" r="0.78" opacity="0.72"/>
<circle cx="246.3" cy="65.3" r="0.78" opacity="0.71"/>
<circle cx="249.2" cy="63.1" r="0.57" opacity="0.51"/>
<circle cx="234.0" cy="67.4" r="0.57" opacity="0.53"/>
<circle cx="237.6" cy="70.0" r="0.57" opacity="0.31"/>
<circle cx="241.2" cy="68.9" r="0.57" opacity="0.32"/>
<circle cx="245.6" cy="71.8" r="0.57" opacity="0.33"/>
<circle cx="249.2" cy="71.8" r="0.78" opacity="0.68"/>
<circle cx="252.1" cy="68.2" r="0.57" opacity="0.40"/>
<circle cx="244.1" cy="73.9" r="0.57" opacity="0.43"/>
<circle cx="236.2" cy="75.4" r="0.57" opacity="0.34"/>
<circle cx="237.6" cy="77.5" r="0.78" opacity="0.63"/>
<circle cx="241.2" cy="79.0" r="0.57" opacity="0.38"/>
<circle cx="247.0" cy="78.3" r="0.57" opacity="0.37"/>
<circle cx="250.6" cy="76.1" r="0.57" opacity="0.42"/>
<circle cx="244.1" cy="82.6" r="0.57" opacity="0.53"/>
<circle cx="234.7" cy="63.8" r="0.57" opacity="0.46"/>
<circle cx="229.7" cy="61.7" r="0.57" opacity="0.41"/>
<circle cx="242.7" cy="60.2" r="0.57" opacity="0.44"/>
<circle cx="226.5" cy="50.8" r="1.29" opacity="0.90"/>
</g>
</g>
<g clip-path="url(#cp01)"><g filter="url(#grain)">
<rect x="19" y="91" width="65" height="64.6" fill="#090909"/>
<path d="M75.6 117.3 C76.2 120.3 75.6 123.8 74.1 126.7 C72.6 129.6 69.9 132.6 66.8 134.7 C63.7 136.8 59.5 138.4 55.6 139.1 C51.8 139.8 47.2 139.7 43.6 138.8 C40.0 137.9 36.4 136.0 34.0 133.8 C31.6 131.6 29.9 128.4 29.4 125.5 C28.8 122.5 29.4 119.0 30.9 116.1 C32.4 113.2 35.1 110.2 38.2 108.1 C41.3 106.0 45.5 104.4 49.4 103.7 C53.2 103.0 57.8 103.1 61.4 104.0 C65.0 104.9 68.6 106.8 71.0 109.0 C73.4 111.2 75.1 114.4 75.6 117.3Z" fill="#3a3a3a" filter="url(#b3)" opacity="1"/>
</g>
<g fill="#fff" filter="url(#b1)">
<circle cx="45.8" cy="113.5" r="2.42" opacity="0.27"/>
<circle cx="62.4" cy="115.6" r="2.42" opacity="0.27"/>
<circle cx="68.9" cy="118.2" r="1.98" opacity="0.24"/>
<circle cx="55.9" cy="110.2" r="1.54" opacity="0.15"/>
<circle cx="40.0" cy="122.1" r="1.98" opacity="0.24"/>
<circle cx="48.7" cy="125.0" r="2.20" opacity="0.26"/>
<circle cx="43.4" cy="125.7" r="1.54" opacity="0.18"/>
<circle cx="33.8" cy="126.9" r="1.76" opacity="0.21"/>
<circle cx="36.4" cy="130.8" r="1.54" opacity="0.18"/>
<circle cx="69.6" cy="127.9" r="1.98" opacity="0.24"/>
<circle cx="60.2" cy="131.8" r="1.98" opacity="0.24"/>
<circle cx="43.4" cy="134.1" r="3.74" opacity="0.30"/>
<circle cx="44.8" cy="133.7" r="2.64" opacity="0.30"/>
<circle cx="34.7" cy="137.3" r="1.76" opacity="0.21"/>
<circle cx="27.5" cy="134.4" r="1.32" opacity="0.12"/>
<circle cx="51.6" cy="116.4" r="1.32" opacity="0.12"/>
<circle cx="40.8" cy="110.6" r="1.32" opacity="0.12"/>
<circle cx="62.4" cy="109.2" r="1.32" opacity="0.12"/>
<circle cx="65.3" cy="120.7" r="1.32" opacity="0.12"/>
<circle cx="53.0" cy="135.8" r="1.32" opacity="0.10"/>
</g>
<g fill="#fff" filter="url(#bd2)">
<circle cx="45.8" cy="113.5" r="0.83" opacity="0.77"/>
<circle cx="62.4" cy="115.6" r="0.83" opacity="0.77"/>
<circle cx="68.9" cy="118.2" r="0.68" opacity="0.68"/>
<circle cx="55.9" cy="110.2" r="0.52" opacity="0.42"/>
<circle cx="40.0" cy="122.1" r="0.68" opacity="0.68"/>
<circle cx="48.7" cy="125.0" r="0.75" opacity="0.72"/>
<circle cx="43.4" cy="125.7" r="0.52" opacity="0.51"/>
<circle cx="33.8" cy="126.9" r="0.60" opacity="0.59"/>
<circle cx="36.4" cy="130.8" r="0.52" opacity="0.51"/>
<circle cx="69.6" cy="127.9" r="0.68" opacity="0.68"/>
<circle cx="60.2" cy="131.8" r="0.68" opacity="0.68"/>
<circle cx="43.4" cy="134.1" r="1.27" opacity="0.85"/>
<circle cx="44.8" cy="133.7" r="0.90" opacity="0.85"/>
<circle cx="34.7" cy="137.3" r="0.60" opacity="0.59"/>
<circle cx="27.5" cy="134.4" r="0.45" opacity="0.34"/>
<circle cx="51.6" cy="116.4" r="0.45" opacity="0.34"/>
<circle cx="40.8" cy="110.6" r="0.45" opacity="0.34"/>
<circle cx="62.4" cy="109.2" r="0.45" opacity="0.34"/>
<circle cx="65.3" cy="120.7" r="0.45" opacity="0.34"/>
<circle cx="53.0" cy="135.8" r="0.45" opacity="0.30"/>
</g>
</g>
<g clip-path="url(#cp11)"><g filter="url(#grain)">
<rect x="81.3" y="91" width="65.00000000000001" height="64.6" fill="#2d2d2d"/>
<path d="M136.4 121.4 C136.4 124.5 135.3 128.0 133.4 130.7 C131.5 133.3 128.4 135.9 125.2 137.4 C121.9 139.0 117.7 139.9 113.9 139.9 C110.2 139.9 105.9 139.0 102.7 137.4 C99.4 135.9 96.3 133.3 94.4 130.7 C92.5 128.0 91.4 124.5 91.4 121.4 C91.4 118.3 92.5 114.8 94.4 112.2 C96.3 109.5 99.4 106.9 102.6 105.4 C105.9 103.8 110.1 102.9 113.9 102.9 C117.6 102.9 121.9 103.8 125.2 105.4 C128.4 106.9 131.5 109.5 133.4 112.1 C135.3 114.8 136.4 118.3 136.4 121.4Z" fill="#4a4a4a" filter="url(#b2)" opacity="0.9"/>
<rect x="84.3" y="94" width="59.000000000000014" height="58.599999999999994" fill="url(#vig)" opacity="0.45"/>
</g>
<g fill="#fff" filter="url(#bd2)">
<circle cx="116.3" cy="108.0" r="0.60" opacity="0.30"/>
<circle cx="114.3" cy="136.0" r="0.60" opacity="0.30"/>
<circle cx="92.8" cy="125.0" r="0.70" opacity="0.25"/>
<circle cx="121.3" cy="131.0" r="0.60" opacity="0.25"/>
</g>
</g>
<g clip-path="url(#cp21)"><g filter="url(#grain)">
<rect x="143.6" y="91" width="65.0" height="64.6" fill="#2f2f2f"/>
<path d="M202.1 121.4 C202.1 124.7 200.9 128.3 198.8 131.2 C196.8 134.0 193.4 136.7 189.8 138.3 C186.3 139.9 181.7 140.9 177.6 140.9 C173.5 140.9 168.9 139.9 165.3 138.3 C161.8 136.7 158.4 134.0 156.4 131.2 C154.3 128.3 153.1 124.7 153.1 121.4 C153.1 118.2 154.3 114.5 156.4 111.7 C158.4 108.8 161.8 106.1 165.3 104.5 C168.9 102.9 173.5 101.9 177.6 101.9 C181.7 101.9 186.3 102.9 189.8 104.5 C193.4 106.1 196.8 108.8 198.8 111.6 C200.9 114.5 202.1 118.2 202.1 121.4Z" fill="#4a4a4a" filter="url(#b2)" opacity="0.9"/>
<rect x="146.6" y="94" width="59.0" height="58.599999999999994" fill="url(#vig)" opacity="0.35"/>
</g>
<g fill="#fff" filter="url(#b1)">
<circle cx="149.1" cy="128.6" r="1.50" opacity="0.25"/>
<circle cx="204.6" cy="96.0" r="1.60" opacity="0.30"/>
</g>
<g fill="#fff" filter="url(#bd2)">
<circle cx="149.1" cy="128.6" r="0.90" opacity="0.75"/>
<circle cx="160.6" cy="128.0" r="0.60" opacity="0.30"/>
<circle cx="186.6" cy="129.0" r="0.60" opacity="0.30"/>
</g>
</g>
<g clip-path="url(#cp31)"><g filter="url(#grain)">
<rect x="206.2" y="91" width="62.80000000000001" height="64.6" fill="#0e0e0e"/>
<path d="M227.2 125.0 C227.2 127.0 226.6 129.3 225.6 131.0 C224.6 132.7 222.9 134.4 221.2 135.4 C219.5 136.4 217.2 137.0 215.2 137.0 C213.2 137.0 210.9 136.4 209.2 135.4 C207.5 134.4 205.8 132.7 204.8 131.0 C203.8 129.3 203.2 127.0 203.2 125.0 C203.2 123.0 203.8 120.7 204.8 119.0 C205.8 117.3 207.5 115.6 209.2 114.6 C210.9 113.6 213.2 113.0 215.2 113.0 C217.2 113.0 219.5 113.6 221.2 114.6 C222.9 115.6 224.6 117.3 225.6 119.0 C226.6 120.7 227.2 123.0 227.2 125.0Z" fill="#2c2c2c" filter="url(#b3)" opacity="1"/>
<path d="M211.2 124.0 C210.7 120.2 212.2 115.5 214.2 112.0 C216.2 108.5 219.7 105.0 223.2 103.0 C226.7 101.0 231.2 99.8 235.2 100.0 C239.2 100.2 243.7 101.7 247.2 104.0 C250.7 106.3 254.0 110.3 256.2 114.0 C258.4 117.7 260.2 122.0 260.2 126.0 C260.2 130.0 258.4 134.8 256.2 138.0 C254.0 141.2 250.5 144.0 247.2 145.0 C243.9 146.0 239.5 145.0 236.2 144.0 C232.9 143.0 230.4 140.5 227.2 139.0 C224.0 137.5 219.9 137.5 217.2 135.0 C214.5 132.5 211.7 127.8 211.2 124.0Z" fill="#3b3b3b" filter="url(#b2)" opacity="0.95"/>
<path d="M252.4 118.8 C251.7 120.5 250.4 122.2 248.7 123.3 C247.1 124.4 244.7 125.2 242.5 125.3 C240.3 125.5 237.6 125.1 235.4 124.3 C233.2 123.5 230.9 122.1 229.4 120.6 C227.8 119.0 226.5 116.9 225.9 115.0 C225.4 113.1 225.4 110.9 226.0 109.2 C226.7 107.5 228.0 105.8 229.7 104.7 C231.3 103.6 233.7 102.8 235.9 102.7 C238.1 102.5 240.8 102.9 243.0 103.7 C245.2 104.5 247.5 105.9 249.0 107.4 C250.6 109.0 251.9 111.1 252.5 113.0 C253.0 114.9 253.0 117.1 252.4 118.8Z" fill="#484848" filter="url(#b5)" opacity="0.6"/>
<rect x="209.2" y="94" width="56.80000000000001" height="58.599999999999994" fill="url(#vig)" opacity="0.3"/>
</g>
<g fill="#fff" filter="url(#b1)">
<circle cx="233.7" cy="107.3" r="1.54" opacity="0.12"/>
<circle cx="237.6" cy="110.3" r="1.54" opacity="0.12"/>
<circle cx="244.8" cy="117.1" r="1.32" opacity="0.07"/>
<circle cx="249.9" cy="121.0" r="2.20" opacity="0.19"/>
<circle cx="254.2" cy="126.9" r="1.54" opacity="0.11"/>
<circle cx="247.3" cy="131.2" r="2.20" opacity="0.19"/>
<circle cx="247.0" cy="140.9" r="1.32" opacity="0.06"/>
</g>
<g fill="#fff" filter="url(#bd2)">
<circle cx="233.7" cy="107.3" r="0.49" opacity="0.42"/>
<circle cx="237.6" cy="110.3" r="0.49" opacity="0.42"/>
<circle cx="244.8" cy="117.1" r="0.42" opacity="0.24"/>
<circle cx="249.9" cy="121.0" r="0.70" opacity="0.66"/>
<circle cx="254.2" cy="126.9" r="0.49" opacity="0.39"/>
<circle cx="247.3" cy="131.2" r="0.70" opacity="0.66"/>
<circle cx="247.0" cy="140.9" r="0.42" opacity="0.21"/>
</g>
</g>
<g clip-path="url(#cp02)"><g filter="url(#grain)">
<rect x="19" y="152" width="65" height="64.6" fill="#070707"/>
<path d="M75.6 178.3 C76.2 181.3 75.6 184.8 74.1 187.7 C72.6 190.6 69.9 193.6 66.8 195.7 C63.7 197.8 59.5 199.4 55.6 200.1 C51.8 200.8 47.2 200.7 43.6 199.8 C40.0 198.9 36.4 197.0 34.0 194.8 C31.6 192.6 29.9 189.4 29.4 186.5 C28.8 183.5 29.4 180.0 30.9 177.1 C32.4 174.2 35.1 171.2 38.2 169.1 C41.3 167.0 45.5 165.4 49.4 164.7 C53.2 164.0 57.8 164.1 61.4 165.0 C65.0 165.9 68.6 167.8 71.0 170.0 C73.4 172.2 75.1 175.4 75.6 178.3Z" fill="#38407f" filter="url(#b3)" opacity="1"/>
<path d="M67.7 178.9 C68.1 181.0 67.6 183.6 66.5 185.7 C65.3 187.8 63.2 190.0 60.8 191.5 C58.4 193.0 55.2 194.3 52.3 194.8 C49.3 195.3 45.8 195.3 43.1 194.7 C40.3 194.0 37.6 192.7 35.8 191.1 C34.0 189.5 32.6 187.3 32.3 185.1 C31.9 183.0 32.4 180.4 33.5 178.3 C34.7 176.2 36.8 174.0 39.2 172.5 C41.6 171.0 44.8 169.7 47.7 169.2 C50.7 168.7 54.2 168.7 56.9 169.3 C59.7 170.0 62.4 171.3 64.2 172.9 C66.0 174.5 67.4 176.7 67.7 178.9Z" fill="#5a2a5c" filter="url(#b3)" opacity="0.7"/>
</g>
<g fill="#b02828" filter="url(#bd)">
<circle cx="67.9" cy="177.9" r="0.42" opacity="0.34"/>
<circle cx="24.3" cy="187.1" r="0.34" opacity="0.30"/>
<circle cx="77.5" cy="185.6" r="0.32" opacity="0.25"/>
<circle cx="53.9" cy="197.3" r="0.42" opacity="0.26"/>
<circle cx="70.9" cy="185.8" r="0.40" opacity="0.34"/>
<circle cx="34.4" cy="195.4" r="0.39" opacity="0.29"/>
<circle cx="29.2" cy="213.1" r="0.39" opacity="0.12"/>
<circle cx="38.2" cy="178.6" r="0.30" opacity="0.21"/>
<circle cx="46.8" cy="196.2" r="0.38" opacity="0.17"/>
<circle cx="35.2" cy="198.7" r="0.53" opacity="0.23"/>
<circle cx="34.9" cy="202.3" r="0.39" opacity="0.16"/>
<circle cx="29.6" cy="200.8" r="0.49" opacity="0.26"/>
<circle cx="49.7" cy="188.2" r="0.35" opacity="0.34"/>
<circle cx="42.8" cy="192.7" r="0.50" opacity="0.30"/>
<circle cx="49.6" cy="172.4" r="0.43" opacity="0.14"/>
<circle cx="71.2" cy="175.9" r="0.50" opacity="0.17"/>
<circle cx="44.2" cy="170.0" r="0.40" opacity="0.15"/>
<circle cx="22.2" cy="197.6" r="0.37" opacity="0.17"/>
<circle cx="39.8" cy="183.3" r="0.40" opacity="0.26"/>
<circle cx="60.9" cy="176.4" r="0.52" opacity="0.31"/>
<circle cx="25.4" cy="203.8" r="0.52" opacity="0.30"/>
<circle cx="30.3" cy="204.0" r="0.45" opacity="0.11"/>
<circle cx="22.7" cy="211.2" r="0.46" opacity="0.17"/>
<circle cx="28.0" cy="163.4" r="0.36" opacity="0.30"/>
<circle cx="42.4" cy="164.0" r="0.52" opacity="0.30"/>
<circle cx="31.9" cy="207.6" r="0.45" opacity="0.30"/>
<circle cx="61.4" cy="207.7" r="0.49" opacity="0.31"/>
<circle cx="33.6" cy="195.9" r="0.43" opacity="0.29"/>
<circle cx="47.9" cy="207.1" r="0.43" opacity="0.17"/>
<circle cx="35.8" cy="163.2" r="0.42" opacity="0.12"/>
<circle cx="49.6" cy="163.5" r="0.42" opacity="0.23"/>
<circle cx="53.8" cy="205.9" r="0.30" opacity="0.31"/>
<circle cx="49.6" cy="188.2" r="0.46" opacity="0.31"/>
<circle cx="44.1" cy="179.7" r="0.53" opacity="0.12"/>
<circle cx="59.6" cy="192.5" r="0.31" opacity="0.25"/>
<circle cx="62.3" cy="210.0" r="0.38" opacity="0.35"/>
<circle cx="52.1" cy="183.6" r="0.52" opacity="0.11"/>
<circle cx="64.4" cy="191.9" r="0.38" opacity="0.32"/>
<circle cx="43.6" cy="183.0" r="0.43" opacity="0.29"/>
<circle cx="34.4" cy="180.7" r="0.40" opacity="0.24"/>
<circle cx="70.8" cy="172.3" r="0.50" opacity="0.20"/>
<circle cx="51.7" cy="171.0" r="0.42" opacity="0.34"/>
<circle cx="60.6" cy="201.7" r="0.38" opacity="0.18"/>
<circle cx="39.7" cy="189.6" r="0.45" opacity="0.30"/>
<circle cx="24.4" cy="197.6" r="0.51" opacity="0.24"/>
<circle cx="24.9" cy="172.7" r="0.30" opacity="0.15"/>
<circle cx="76.4" cy="190.9" r="0.46" opacity="0.30"/>
<circle cx="75.7" cy="191.1" r="0.45" opacity="0.26"/>
<circle cx="63.1" cy="190.2" r="0.46" opacity="0.16"/>
<circle cx="61.4" cy="182.0" r="0.48" opacity="0.13"/>
<circle cx="32.7" cy="157.2" r="0.49" opacity="0.33"/>
<circle cx="60.7" cy="176.8" r="0.50" opacity="0.30"/>
<circle cx="55.2" cy="170.2" r="0.37" opacity="0.21"/>
<circle cx="40.8" cy="180.4" r="0.45" opacity="0.33"/>
<circle cx="25.2" cy="188.5" r="0.31" opacity="0.13"/>
<circle cx="69.8" cy="188.9" r="0.52" opacity="0.21"/>
<circle cx="22.8" cy="177.8" r="0.44" opacity="0.33"/>
<circle cx="79.9" cy="183.1" r="0.40" opacity="0.13"/>
<circle cx="60.0" cy="167.5" r="0.34" opacity="0.11"/>
<circle cx="22.3" cy="195.3" r="0.33" opacity="0.34"/>
<circle cx="27.2" cy="206.3" r="0.33" opacity="0.11"/>
<circle cx="64.4" cy="169.3" r="0.48" opacity="0.15"/>
<circle cx="25.0" cy="200.7" r="0.47" opacity="0.31"/>
<circle cx="65.1" cy="160.0" r="0.45" opacity="0.28"/>
<circle cx="49.2" cy="210.0" r="0.36" opacity="0.34"/>
<circle cx="64.3" cy="155.7" r="0.30" opacity="0.26"/>
<circle cx="70.2" cy="159.7" r="0.37" opacity="0.28"/>
<circle cx="31.8" cy="205.8" r="0.42" opacity="0.12"/>
<circle cx="43.7" cy="188.9" r="0.41" opacity="0.27"/>
<circle cx="30.5" cy="202.0" r="0.39" opacity="0.26"/>
</g>
<g fill="#c03050" filter="url(#bd2)">
<circle cx="60.8" cy="166.8" r="0.45" opacity="0.14"/>
<circle cx="48.2" cy="178.3" r="0.48" opacity="0.25"/>
<circle cx="35.5" cy="186.2" r="0.70" opacity="0.17"/>
<circle cx="40.1" cy="170.4" r="0.70" opacity="0.20"/>
<circle cx="35.4" cy="177.1" r="0.51" opacity="0.39"/>
<circle cx="58.0" cy="169.9" r="0.66" opacity="0.27"/>
<circle cx="42.0" cy="176.6" r="0.41" opacity="0.28"/>
<circle cx="47.0" cy="169.1" r="0.51" opacity="0.42"/>
<circle cx="51.5" cy="181.2" r="0.45" opacity="0.25"/>
<circle cx="46.0" cy="173.8" r="0.68" opacity="0.14"/>
<circle cx="67.6" cy="170.4" r="0.52" opacity="0.39"/>
<circle cx="54.3" cy="169.9" r="0.64" opacity="0.15"/>
<circle cx="54.9" cy="165.9" r="0.40" opacity="0.15"/>
<circle cx="54.2" cy="197.7" r="0.69" opacity="0.22"/>
<circle cx="69.1" cy="188.3" r="0.63" opacity="0.42"/>
<circle cx="42.4" cy="177.2" r="0.50" opacity="0.22"/>
<circle cx="38.3" cy="190.8" r="0.70" opacity="0.33"/>
<circle cx="54.4" cy="191.0" r="0.48" opacity="0.36"/>
<circle cx="45.5" cy="172.4" r="0.49" opacity="0.22"/>
<circle cx="67.1" cy="189.7" r="0.39" opacity="0.37"/>
<circle cx="40.9" cy="182.3" r="0.69" opacity="0.33"/>
<circle cx="42.3" cy="188.1" r="0.70" opacity="0.14"/>
<circle cx="73.2" cy="179.9" r="0.47" opacity="0.28"/>
<circle cx="73.1" cy="177.2" r="0.70" opacity="0.44"/>
<circle cx="40.6" cy="172.6" r="0.52" opacity="0.21"/>
<circle cx="39.6" cy="171.8" r="0.53" opacity="0.29"/>
<circle cx="58.5" cy="195.1" r="0.69" opacity="0.19"/>
<circle cx="68.1" cy="181.0" r="0.65" opacity="0.37"/>
<circle cx="59.8" cy="191.7" r="0.66" opacity="0.38"/>
<circle cx="34.6" cy="187.1" r="0.59" opacity="0.24"/>
<circle cx="64.1" cy="181.0" r="0.49" opacity="0.25"/>
<circle cx="38.8" cy="191.4" r="0.64" opacity="0.16"/>
<circle cx="45.6" cy="191.8" r="0.45" opacity="0.37"/>
<circle cx="73.9" cy="178.2" r="0.47" opacity="0.16"/>
<circle cx="48.6" cy="196.6" r="0.40" opacity="0.31"/>
<circle cx="62.9" cy="170.7" r="0.50" opacity="0.44"/>
<circle cx="37.3" cy="192.6" r="0.68" opacity="0.45"/>
<circle cx="46.4" cy="183.3" r="0.48" opacity="0.16"/>
<circle cx="54.2" cy="196.2" r="0.42" opacity="0.29"/>
<circle cx="50.1" cy="194.1" r="0.62" opacity="0.28"/>
<circle cx="67.4" cy="172.0" r="0.47" opacity="0.27"/>
<circle cx="42.0" cy="174.8" r="0.59" opacity="0.35"/>
<circle cx="41.5" cy="184.6" r="0.63" opacity="0.40"/>
<circle cx="42.4" cy="179.0" r="0.61" opacity="0.17"/>
<circle cx="46.5" cy="180.3" r="0.66" opacity="0.23"/>
<circle cx="56.7" cy="195.2" r="0.57" opacity="0.25"/>
<circle cx="49.5" cy="195.7" r="0.63" opacity="0.20"/>
<circle cx="53.1" cy="182.8" r="0.47" opacity="0.21"/>
<circle cx="54.0" cy="165.6" r="0.44" opacity="0.41"/>
<circle cx="50.4" cy="171.1" r="0.58" opacity="0.24"/>
<circle cx="38.5" cy="180.8" r="0.52" opacity="0.45"/>
<circle cx="63.0" cy="183.6" r="0.55" opacity="0.21"/>
<circle cx="45.3" cy="182.3" r="0.65" opacity="0.34"/>
<circle cx="55.5" cy="191.2" r="0.71" opacity="0.17"/>
<circle cx="35.6" cy="183.7" r="0.54" opacity="0.39"/>
<circle cx="41.9" cy="174.2" r="0.66" opacity="0.42"/>
<circle cx="65.0" cy="182.0" r="0.40" opacity="0.23"/>
<circle cx="55.7" cy="190.4" r="0.43" opacity="0.19"/>
<circle cx="71.3" cy="179.8" r="0.71" opacity="0.32"/>
<circle cx="58.0" cy="181.9" r="0.69" opacity="0.25"/>
<circle cx="53.5" cy="188.1" r="0.67" opacity="0.28"/>
<circle cx="50.9" cy="182.8" r="0.47" opacity="0.38"/>
<circle cx="52.0" cy="196.5" r="0.70" opacity="0.17"/>
<circle cx="61.8" cy="194.3" r="0.58" opacity="0.33"/>
<circle cx="72.6" cy="173.7" r="0.46" opacity="0.25"/>
<circle cx="55.6" cy="196.5" r="0.44" opacity="0.20"/>
<circle cx="68.0" cy="169.6" r="0.47" opacity="0.32"/>
<circle cx="36.3" cy="179.8" r="0.60" opacity="0.20"/>
<circle cx="34.1" cy="187.4" r="0.39" opacity="0.24"/>
<circle cx="37.7" cy="188.9" r="0.61" opacity="0.19"/>
<circle cx="60.1" cy="169.8" r="0.49" opacity="0.20"/>
<circle cx="48.5" cy="181.3" r="0.65" opacity="0.31"/>
<circle cx="38.0" cy="179.4" r="0.41" opacity="0.17"/>
<circle cx="53.7" cy="176.3" r="0.52" opacity="0.31"/>
<circle cx="39.5" cy="175.6" r="0.60" opacity="0.16"/>
<circle cx="55.4" cy="179.7" r="0.44" opacity="0.35"/>
<circle cx="58.5" cy="182.1" r="0.52" opacity="0.22"/>
<circle cx="42.8" cy="169.3" r="0.49" opacity="0.44"/>
<circle cx="49.6" cy="195.5" r="0.49" opacity="0.31"/>
<circle cx="67.1" cy="173.6" r="0.51" opacity="0.27"/>
<circle cx="56.1" cy="188.4" r="0.67" opacity="0.45"/>
<circle cx="61.3" cy="179.2" r="0.51" opacity="0.20"/>
<circle cx="58.9" cy="191.8" r="0.63" opacity="0.20"/>
<circle cx="51.0" cy="176.3" r="0.39" opacity="0.42"/>
<circle cx="55.3" cy="196.0" r="0.53" opacity="0.39"/>
<circle cx="42.7" cy="169.3" r="0.52" opacity="0.41"/>
<circle cx="54.2" cy="172.9" r="0.54" opacity="0.19"/>
<circle cx="44.7" cy="175.2" r="0.39" opacity="0.31"/>
<circle cx="64.5" cy="174.7" r="0.60" opacity="0.42"/>
<circle cx="53.0" cy="170.9" r="0.42" opacity="0.33"/>
<circle cx="63.3" cy="183.4" r="0.51" opacity="0.29"/>
<circle cx="39.3" cy="180.9" r="0.44" opacity="0.22"/>
<circle cx="67.1" cy="179.4" r="0.56" opacity="0.43"/>
<circle cx="52.8" cy="192.9" r="0.43" opacity="0.29"/>
<circle cx="48.3" cy="181.9" r="0.65" opacity="0.44"/>
<circle cx="46.0" cy="192.8" r="0.45" opacity="0.17"/>
<circle cx="62.1" cy="186.2" r="0.70" opacity="0.44"/>
<circle cx="48.8" cy="176.6" r="0.55" opacity="0.15"/>
<circle cx="34.0" cy="189.8" r="0.69" opacity="0.26"/>
<circle cx="42.2" cy="170.4" r="0.68" opacity="0.33"/>
<circle cx="69.4" cy="187.4" r="0.66" opacity="0.19"/>
<circle cx="43.4" cy="173.1" r="0.65" opacity="0.20"/>
<circle cx="43.8" cy="180.3" r="0.52" opacity="0.40"/>
<circle cx="37.8" cy="179.9" r="0.66" opacity="0.19"/>
<circle cx="42.5" cy="197.1" r="0.46" opacity="0.26"/>
<circle cx="73.9" cy="183.3" r="0.56" opacity="0.26"/>
<circle cx="44.6" cy="176.9" r="0.43" opacity="0.21"/>
<circle cx="51.9" cy="181.8" r="0.63" opacity="0.42"/>
<circle cx="39.8" cy="181.9" r="0.40" opacity="0.31"/>
<circle cx="34.8" cy="178.3" r="0.64" opacity="0.15"/>
</g>
<g fill="#e03a50" filter="url(#bd2)">
<circle cx="46.9" cy="171.0" r="0.55" opacity="0.50"/>
<circle cx="60.6" cy="185.7" r="0.73" opacity="0.55"/>
<circle cx="60.8" cy="188.8" r="0.54" opacity="0.50"/>
<circle cx="35.8" cy="184.4" r="0.77" opacity="0.42"/>
<circle cx="47.6" cy="191.2" r="0.56" opacity="0.44"/>
<circle cx="58.3" cy="191.4" r="0.71" opacity="0.66"/>
<circle cx="58.2" cy="175.3" r="0.55" opacity="0.38"/>
<circle cx="63.2" cy="172.9" r="0.57" opacity="0.45"/>
<circle cx="45.8" cy="179.4" r="0.66" opacity="0.38"/>
<circle cx="44.4" cy="188.2" r="0.60" opacity="0.40"/>
<circle cx="47.8" cy="176.3" r="0.79" opacity="0.61"/>
<circle cx="71.4" cy="181.8" r="0.53" opacity="0.70"/>
<circle cx="66.9" cy="185.2" r="0.53" opacity="0.47"/>
<circle cx="34.4" cy="179.1" r="0.80" opacity="0.64"/>
<circle cx="50.5" cy="189.9" r="0.72" opacity="0.49"/>
<circle cx="46.9" cy="187.8" r="0.56" opacity="0.58"/>
<circle cx="54.5" cy="173.2" r="0.53" opacity="0.40"/>
<circle cx="65.7" cy="171.8" r="0.62" opacity="0.33"/>
<circle cx="52.7" cy="190.6" r="0.62" opacity="0.64"/>
<circle cx="40.5" cy="181.5" r="0.71" opacity="0.52"/>
<circle cx="47.0" cy="191.6" r="0.69" opacity="0.51"/>
<circle cx="43.5" cy="195.0" r="0.54" opacity="0.56"/>
<circle cx="44.4" cy="173.2" r="0.62" opacity="0.62"/>
<circle cx="60.9" cy="181.6" r="0.77" opacity="0.49"/>
<circle cx="37.6" cy="185.8" r="0.67" opacity="0.62"/>
<circle cx="36.4" cy="190.3" r="0.63" opacity="0.41"/>
<circle cx="60.8" cy="190.3" r="0.72" opacity="0.67"/>
<circle cx="58.1" cy="177.4" r="0.73" opacity="0.60"/>
<circle cx="49.1" cy="178.5" r="0.76" opacity="0.59"/>
<circle cx="41.4" cy="174.6" r="0.69" opacity="0.50"/>
<circle cx="68.9" cy="181.7" r="0.59" opacity="0.57"/>
<circle cx="48.2" cy="193.2" r="0.53" opacity="0.49"/>
<circle cx="42.5" cy="180.5" r="0.73" opacity="0.61"/>
<circle cx="54.2" cy="189.3" r="0.69" opacity="0.42"/>
<circle cx="63.0" cy="186.1" r="0.63" opacity="0.50"/>
<circle cx="47.0" cy="176.5" r="0.69" opacity="0.48"/>
<circle cx="39.4" cy="192.0" r="0.70" opacity="0.69"/>
<circle cx="59.4" cy="188.9" r="0.55" opacity="0.58"/>
</g>
<g fill="#70e050" filter="url(#b1)">
<circle cx="45.8" cy="174.5" r="2.20" opacity="0.27"/>
<circle cx="62.4" cy="176.6" r="2.20" opacity="0.27"/>
<circle cx="68.9" cy="179.2" r="1.80" opacity="0.24"/>
<circle cx="55.9" cy="171.2" r="1.40" opacity="0.15"/>
<circle cx="40.0" cy="183.1" r="1.80" opacity="0.24"/>
<circle cx="48.7" cy="186.0" r="2.00" opacity="0.26"/>
<circle cx="43.4" cy="186.7" r="1.40" opacity="0.18"/>
<circle cx="33.8" cy="187.9" r="1.60" opacity="0.21"/>
<circle cx="36.4" cy="191.8" r="1.40" opacity="0.18"/>
<circle cx="69.6" cy="188.9" r="1.80" opacity="0.24"/>
<circle cx="60.2" cy="192.8" r="1.80" opacity="0.24"/>
<circle cx="43.4" cy="195.1" r="3.40" opacity="0.30"/>
<circle cx="44.8" cy="194.7" r="2.40" opacity="0.30"/>
<circle cx="34.7" cy="198.3" r="1.60" opacity="0.21"/>
<circle cx="27.5" cy="195.4" r="1.20" opacity="0.12"/>
<circle cx="51.6" cy="177.4" r="1.20" opacity="0.12"/>
<circle cx="40.8" cy="171.6" r="1.20" opacity="0.12"/>
<circle cx="62.4" cy="170.2" r="1.20" opacity="0.12"/>
<circle cx="65.3" cy="181.7" r="1.20" opacity="0.12"/>
<circle cx="53.0" cy="196.8" r="1.20" opacity="0.10"/>
</g>
<g fill="#74e04a" filter="url(#bd2)">
<circle cx="46.1" cy="175.1" r="0.99" opacity="0.81"/>
<circle cx="62.7" cy="177.2" r="0.99" opacity="0.81"/>
<circle cx="69.2" cy="179.8" r="0.81" opacity="0.72"/>
<circle cx="56.2" cy="171.8" r="0.63" opacity="0.45"/>
<circle cx="40.3" cy="183.7" r="0.81" opacity="0.72"/>
<circle cx="49.0" cy="186.6" r="0.90" opacity="0.77"/>
<circle cx="43.7" cy="187.3" r="0.63" opacity="0.54"/>
<circle cx="34.1" cy="188.5" r="0.72" opacity="0.63"/>
<circle cx="36.7" cy="192.4" r="0.63" opacity="0.54"/>
<circle cx="69.9" cy="189.5" r="0.81" opacity="0.72"/>
<circle cx="60.5" cy="193.4" r="0.81" opacity="0.72"/>
<circle cx="43.7" cy="195.7" r="1.53" opacity="0.90"/>
<circle cx="45.1" cy="195.3" r="1.08" opacity="0.90"/>
<circle cx="35.0" cy="198.9" r="0.72" opacity="0.63"/>
<circle cx="27.8" cy="196.0" r="0.54" opacity="0.36"/>
<circle cx="51.9" cy="178.0" r="0.54" opacity="0.36"/>
<circle cx="41.1" cy="172.2" r="0.54" opacity="0.36"/>
<circle cx="62.7" cy="170.8" r="0.54" opacity="0.36"/>
<circle cx="65.6" cy="182.3" r="0.54" opacity="0.36"/>
<circle cx="53.3" cy="197.4" r="0.54" opacity="0.32"/>
</g>
</g>
<g clip-path="url(#cp12)"><g filter="url(#grain)">
<rect x="81.3" y="152" width="65.00000000000001" height="64.6" fill="#161f12"/>
<path d="M136.3 182.4 C136.3 185.3 135.2 188.6 133.5 191.2 C131.7 193.7 128.8 196.1 125.8 197.6 C122.8 199.0 118.8 199.9 115.3 199.9 C111.8 199.9 107.8 199.0 104.8 197.6 C101.8 196.1 98.9 193.7 97.1 191.2 C95.4 188.6 94.3 185.3 94.3 182.4 C94.3 179.5 95.4 176.2 97.1 173.7 C98.9 171.1 101.8 168.7 104.8 167.2 C107.8 165.8 111.8 164.9 115.3 164.9 C118.8 164.9 122.8 165.8 125.8 167.2 C128.8 168.7 131.7 171.1 133.5 173.6 C135.2 176.2 136.3 179.5 136.3 182.4Z" fill="#2e3478" filter="url(#b3)" opacity="1"/>
<rect x="84.3" y="155" width="59.000000000000014" height="58.599999999999994" fill="url(#vig)" opacity="0.3"/>
</g>
<g fill="#d03070" filter="url(#b1)">
<circle cx="106.4" cy="171.4" r="1.87" opacity="0.23"/>
<circle cx="110.0" cy="170.3" r="1.36" opacity="0.10"/>
<circle cx="119.6" cy="173.6" r="1.87" opacity="0.26"/>
<circle cx="123.7" cy="173.2" r="1.87" opacity="0.22"/>
<circle cx="128.7" cy="176.0" r="1.87" opacity="0.25"/>
<circle cx="133.8" cy="175.8" r="1.36" opacity="0.12"/>
<circle cx="102.3" cy="176.8" r="1.87" opacity="0.21"/>
<circle cx="117.6" cy="176.0" r="1.36" opacity="0.14"/>
<circle cx="120.8" cy="178.2" r="1.36" opacity="0.09"/>
<circle cx="107.8" cy="180.1" r="1.87" opacity="0.24"/>
<circle cx="106.4" cy="181.1" r="1.36" opacity="0.10"/>
<circle cx="116.7" cy="178.9" r="1.36" opacity="0.10"/>
<circle cx="118.6" cy="181.1" r="1.36" opacity="0.13"/>
<circle cx="122.5" cy="181.8" r="1.36" opacity="0.16"/>
<circle cx="125.1" cy="180.4" r="1.87" opacity="0.22"/>
<circle cx="97.0" cy="181.8" r="1.36" opacity="0.11"/>
<circle cx="108.5" cy="183.3" r="1.36" opacity="0.15"/>
<circle cx="99.1" cy="184.3" r="1.36" opacity="0.18"/>
<circle cx="130.6" cy="183.3" r="1.36" opacity="0.14"/>
<circle cx="120.1" cy="182.8" r="1.36" opacity="0.13"/>
<circle cx="125.8" cy="185.7" r="1.87" opacity="0.28"/>
<circle cx="130.2" cy="185.0" r="1.36" opacity="0.09"/>
<circle cx="101.7" cy="187.9" r="1.87" opacity="0.27"/>
<circle cx="95.5" cy="189.0" r="1.36" opacity="0.12"/>
<circle cx="111.1" cy="189.0" r="1.87" opacity="0.22"/>
<circle cx="113.6" cy="187.9" r="1.36" opacity="0.10"/>
<circle cx="118.2" cy="188.3" r="1.36" opacity="0.12"/>
<circle cx="125.1" cy="188.7" r="1.36" opacity="0.16"/>
<circle cx="107.8" cy="192.2" r="1.36" opacity="0.11"/>
<circle cx="115.4" cy="192.6" r="1.36" opacity="0.14"/>
<circle cx="103.2" cy="194.8" r="1.36" opacity="0.15"/>
<circle cx="106.1" cy="195.2" r="1.36" opacity="0.12"/>
<circle cx="113.3" cy="197.3" r="1.36" opacity="0.14"/>
<circle cx="117.6" cy="197.4" r="1.36" opacity="0.10"/>
<circle cx="121.5" cy="167.0" r="1.36" opacity="0.10"/>
<circle cx="89.3" cy="186.1" r="1.36" opacity="0.11"/>
<circle cx="97.7" cy="179.7" r="1.36" opacity="0.15"/>
<circle cx="112.8" cy="181.8" r="1.36" opacity="0.13"/>
<circle cx="115.0" cy="176.0" r="1.36" opacity="0.12"/>
</g>
<g fill="#d82f60" filter="url(#bd2)">
<circle cx="106.4" cy="171.4" r="0.72" opacity="0.62"/>
<circle cx="110.0" cy="170.3" r="0.53" opacity="0.28"/>
<circle cx="119.6" cy="173.6" r="0.72" opacity="0.69"/>
<circle cx="123.7" cy="173.2" r="0.72" opacity="0.57"/>
<circle cx="128.7" cy="176.0" r="0.72" opacity="0.67"/>
<circle cx="133.8" cy="175.8" r="0.53" opacity="0.33"/>
<circle cx="102.3" cy="176.8" r="0.72" opacity="0.57"/>
<circle cx="117.6" cy="176.0" r="0.53" opacity="0.36"/>
<circle cx="120.8" cy="178.2" r="0.53" opacity="0.25"/>
<circle cx="107.8" cy="180.1" r="0.72" opacity="0.65"/>
<circle cx="106.4" cy="181.1" r="0.53" opacity="0.26"/>
<circle cx="116.7" cy="178.9" r="0.53" opacity="0.26"/>
<circle cx="118.6" cy="181.1" r="0.53" opacity="0.34"/>
<circle cx="122.5" cy="181.8" r="0.53" opacity="0.44"/>
<circle cx="125.1" cy="180.4" r="0.72" opacity="0.58"/>
<circle cx="97.0" cy="181.8" r="0.53" opacity="0.29"/>
<circle cx="108.5" cy="183.3" r="0.53" opacity="0.39"/>
<circle cx="99.1" cy="184.3" r="0.53" opacity="0.47"/>
<circle cx="130.6" cy="183.3" r="0.53" opacity="0.38"/>
<circle cx="120.1" cy="182.8" r="0.53" opacity="0.34"/>
<circle cx="125.8" cy="185.7" r="0.72" opacity="0.76"/>
<circle cx="130.2" cy="185.0" r="0.53" opacity="0.25"/>
<circle cx="101.7" cy="187.9" r="0.72" opacity="0.73"/>
<circle cx="95.5" cy="189.0" r="0.53" opacity="0.31"/>
<circle cx="111.1" cy="189.0" r="0.72" opacity="0.59"/>
<circle cx="113.6" cy="187.9" r="0.53" opacity="0.27"/>
<circle cx="118.2" cy="188.3" r="0.53" opacity="0.31"/>
<circle cx="125.1" cy="188.7" r="0.53" opacity="0.44"/>
<circle cx="107.8" cy="192.2" r="0.53" opacity="0.28"/>
<circle cx="115.4" cy="192.6" r="0.53" opacity="0.38"/>
<circle cx="103.2" cy="194.8" r="0.53" opacity="0.39"/>
<circle cx="106.1" cy="195.2" r="0.53" opacity="0.33"/>
<circle cx="113.3" cy="197.3" r="0.53" opacity="0.37"/>
<circle cx="117.6" cy="197.4" r="0.53" opacity="0.26"/>
<circle cx="121.5" cy="167.0" r="0.53" opacity="0.25"/>
<circle cx="89.3" cy="186.1" r="0.53" opacity="0.29"/>
<circle cx="97.7" cy="179.7" r="0.53" opacity="0.40"/>
<circle cx="112.8" cy="181.8" r="0.53" opacity="0.34"/>
<circle cx="115.0" cy="176.0" r="0.53" opacity="0.32"/>
</g>
</g>
<g clip-path="url(#cp22)"><g filter="url(#grain)">
<rect x="143.6" y="152" width="65.0" height="64.6" fill="#17230f"/>
<path d="M152.5 183.9 C152.8 181.7 154.1 178.5 156.1 176.6 C158.1 174.7 161.9 173.5 164.8 172.3 C167.7 171.1 171.0 170.7 173.4 169.4 C175.8 168.1 176.8 165.4 179.2 164.4 C181.6 163.4 185.2 162.9 187.9 163.7 C190.5 164.5 193.4 167.0 195.1 169.4 C196.8 171.8 197.7 175.2 198.0 178.1 C198.3 181.0 198.2 184.0 197.2 186.7 C196.2 189.3 194.7 191.8 192.2 194.0 C189.7 196.2 185.7 198.9 182.1 199.7 C178.5 200.5 174.2 199.7 170.6 199.0 C167.0 198.3 163.3 197.0 160.5 195.4 C157.7 193.8 155.3 191.5 154.0 189.6 C152.7 187.7 152.2 186.1 152.5 183.9Z" fill="#2e3478" filter="url(#b3)" opacity="1"/>
<ellipse cx="202.6" cy="156" rx="11" ry="2.2" transform="rotate(12 202.6 156)" fill="#3c62b8" filter="url(#b1)"/>
<rect x="146.6" y="155" width="59.0" height="58.599999999999994" fill="url(#vig)" opacity="0.3"/>
</g>
<g fill="#d03070" filter="url(#b1)">
<circle cx="179.9" cy="167.3" r="1.36" opacity="0.14"/>
<circle cx="183.8" cy="165.4" r="1.36" opacity="0.13"/>
<circle cx="174.9" cy="169.4" r="1.36" opacity="0.12"/>
<circle cx="172.3" cy="173.0" r="1.36" opacity="0.16"/>
<circle cx="177.5" cy="172.7" r="1.87" opacity="0.26"/>
<circle cx="183.8" cy="171.3" r="1.36" opacity="0.11"/>
<circle cx="187.1" cy="173.0" r="1.36" opacity="0.14"/>
<circle cx="185.0" cy="176.6" r="1.87" opacity="0.25"/>
<circle cx="188.6" cy="175.9" r="1.87" opacity="0.28"/>
<circle cx="189.3" cy="178.1" r="1.36" opacity="0.16"/>
<circle cx="195.8" cy="180.3" r="1.36" opacity="0.12"/>
<circle cx="201.6" cy="181.3" r="1.36" opacity="0.18"/>
<circle cx="152.5" cy="181.4" r="1.36" opacity="0.10"/>
<circle cx="162.2" cy="181.7" r="1.87" opacity="0.24"/>
<circle cx="160.5" cy="176.6" r="1.36" opacity="0.16"/>
<circle cx="164.1" cy="178.1" r="1.36" opacity="0.10"/>
<circle cx="181.1" cy="180.3" r="1.87" opacity="0.25"/>
<circle cx="178.5" cy="183.1" r="1.36" opacity="0.09"/>
<circle cx="173.4" cy="184.6" r="1.36" opacity="0.15"/>
<circle cx="167.7" cy="186.0" r="1.36" opacity="0.16"/>
<circle cx="178.5" cy="188.2" r="1.36" opacity="0.14"/>
<circle cx="182.8" cy="186.0" r="1.36" opacity="0.17"/>
<circle cx="184.3" cy="188.9" r="1.36" opacity="0.12"/>
<circle cx="167.7" cy="189.6" r="1.36" opacity="0.15"/>
<circle cx="157.9" cy="188.5" r="1.36" opacity="0.14"/>
<circle cx="159.3" cy="190.4" r="1.36" opacity="0.14"/>
<circle cx="161.9" cy="192.8" r="1.36" opacity="0.13"/>
<circle cx="165.5" cy="194.0" r="1.36" opacity="0.17"/>
<circle cx="169.1" cy="194.7" r="1.87" opacity="0.28"/>
<circle cx="173.4" cy="191.8" r="1.36" opacity="0.13"/>
<circle cx="177.0" cy="192.8" r="1.36" opacity="0.15"/>
<circle cx="181.4" cy="193.2" r="1.36" opacity="0.10"/>
<circle cx="185.0" cy="191.1" r="1.36" opacity="0.15"/>
<circle cx="190.0" cy="189.6" r="1.87" opacity="0.26"/>
<circle cx="192.2" cy="186.7" r="1.36" opacity="0.18"/>
<circle cx="197.2" cy="188.5" r="1.36" opacity="0.16"/>
<circle cx="187.1" cy="196.1" r="1.36" opacity="0.12"/>
<circle cx="182.1" cy="196.8" r="1.36" opacity="0.12"/>
<circle cx="175.6" cy="196.6" r="1.36" opacity="0.15"/>
<circle cx="169.4" cy="198.3" r="1.36" opacity="0.09"/>
<circle cx="164.1" cy="187.5" r="1.36" opacity="0.13"/>
<circle cx="171.3" cy="181.0" r="1.36" opacity="0.11"/>
<circle cx="178.5" cy="188.2" r="2.97" opacity="0.30"/>
</g>
<g fill="#d82f60" filter="url(#bd2)">
<circle cx="179.9" cy="167.3" r="0.53" opacity="0.38"/>
<circle cx="183.8" cy="165.4" r="0.53" opacity="0.35"/>
<circle cx="174.9" cy="169.4" r="0.53" opacity="0.31"/>
<circle cx="172.3" cy="173.0" r="0.53" opacity="0.43"/>
<circle cx="177.5" cy="172.7" r="0.72" opacity="0.70"/>
<circle cx="183.8" cy="171.3" r="0.53" opacity="0.30"/>
<circle cx="187.1" cy="173.0" r="0.53" opacity="0.38"/>
<circle cx="185.0" cy="176.6" r="0.72" opacity="0.67"/>
<circle cx="188.6" cy="175.9" r="0.72" opacity="0.74"/>
<circle cx="189.3" cy="178.1" r="0.53" opacity="0.42"/>
<circle cx="195.8" cy="180.3" r="0.53" opacity="0.31"/>
<circle cx="201.6" cy="181.3" r="0.53" opacity="0.48"/>
<circle cx="152.5" cy="181.4" r="0.53" opacity="0.27"/>
<circle cx="162.2" cy="181.7" r="0.72" opacity="0.64"/>
<circle cx="160.5" cy="176.6" r="0.53" opacity="0.42"/>
<circle cx="164.1" cy="178.1" r="0.53" opacity="0.28"/>
<circle cx="181.1" cy="180.3" r="0.72" opacity="0.66"/>
<circle cx="178.5" cy="183.1" r="0.53" opacity="0.25"/>
<circle cx="173.4" cy="184.6" r="0.53" opacity="0.40"/>
<circle cx="167.7" cy="186.0" r="0.53" opacity="0.42"/>
<circle cx="178.5" cy="188.2" r="0.53" opacity="0.38"/>
<circle cx="182.8" cy="186.0" r="0.53" opacity="0.45"/>
<circle cx="184.3" cy="188.9" r="0.53" opacity="0.32"/>
<circle cx="167.7" cy="189.6" r="0.53" opacity="0.41"/>
<circle cx="157.9" cy="188.5" r="0.53" opacity="0.38"/>
<circle cx="159.3" cy="190.4" r="0.53" opacity="0.38"/>
<circle cx="161.9" cy="192.8" r="0.53" opacity="0.35"/>
<circle cx="165.5" cy="194.0" r="0.53" opacity="0.44"/>
<circle cx="169.1" cy="194.7" r="0.72" opacity="0.75"/>
<circle cx="173.4" cy="191.8" r="0.53" opacity="0.35"/>
<circle cx="177.0" cy="192.8" r="0.53" opacity="0.40"/>
<circle cx="181.4" cy="193.2" r="0.53" opacity="0.25"/>
<circle cx="185.0" cy="191.1" r="0.53" opacity="0.41"/>
<circle cx="190.0" cy="189.6" r="0.72" opacity="0.69"/>
<circle cx="192.2" cy="186.7" r="0.53" opacity="0.48"/>
<circle cx="197.2" cy="188.5" r="0.53" opacity="0.44"/>
<circle cx="187.1" cy="196.1" r="0.53" opacity="0.31"/>
<circle cx="182.1" cy="196.8" r="0.53" opacity="0.33"/>
<circle cx="175.6" cy="196.6" r="0.53" opacity="0.40"/>
<circle cx="169.4" cy="198.3" r="0.53" opacity="0.25"/>
<circle cx="164.1" cy="187.5" r="0.53" opacity="0.35"/>
<circle cx="171.3" cy="181.0" r="0.53" opacity="0.28"/>
<circle cx="178.5" cy="188.2" r="1.15" opacity="0.80"/>
</g>
<g fill="#30d060" filter="url(#bd2)">
<circle cx="148.6" cy="189.6" r="1.10" opacity="0.90"/>
</g>
</g>
<g clip-path="url(#cp32)"><g filter="url(#grain)">
<rect x="206.2" y="152" width="62.80000000000001" height="64.6" fill="#090f09"/>
<path d="M231.2 188.2 C231.2 190.0 230.5 192.1 229.5 193.7 C228.4 195.3 226.6 196.8 224.7 197.7 C222.8 198.6 220.4 199.2 218.2 199.2 C216.0 199.2 213.6 198.6 211.7 197.7 C209.8 196.8 208.0 195.3 206.9 193.7 C205.9 192.1 205.2 190.0 205.2 188.2 C205.2 186.4 205.9 184.3 206.9 182.7 C208.0 181.1 209.8 179.6 211.7 178.7 C213.6 177.8 216.0 177.2 218.2 177.2 C220.4 177.2 222.8 177.8 224.7 178.7 C226.6 179.6 228.4 181.1 229.5 182.7 C230.5 184.3 231.2 186.4 231.2 188.2Z" fill="#1a3a1a" filter="url(#b5)" opacity="1"/>
<path d="M220.9 167.5 C221.4 165.2 223.9 163.2 225.9 162.4 C227.9 161.6 230.4 161.6 233.1 162.4 C235.8 163.2 238.4 165.2 241.8 167.5 C245.2 169.8 250.5 173.0 253.3 176.1 C256.1 179.2 257.8 182.6 258.4 186.2 C259.0 189.8 258.2 194.7 256.9 197.8 C255.6 200.9 252.7 203.8 250.4 205.0 C248.1 206.2 245.6 206.4 243.2 205.0 C240.8 203.6 237.9 199.7 236.0 196.3 C234.1 192.9 233.9 188.2 231.7 184.8 C229.5 181.4 224.8 179.0 223.0 176.1 C221.2 173.2 220.4 169.8 220.9 167.5Z" fill="#3c42a2" filter="url(#b2)" opacity="1"/>
<path d="M242.1 173.2 C243.7 175.1 245.2 177.6 246.0 179.7 C246.8 181.9 247.2 184.3 247.0 186.1 C246.8 187.9 246.0 189.5 244.8 190.5 C243.7 191.5 241.9 192.0 240.1 191.8 C238.3 191.7 236.0 190.9 234.1 189.8 C232.1 188.6 229.9 186.7 228.3 184.8 C226.7 182.9 225.2 180.4 224.4 178.3 C223.6 176.1 223.2 173.7 223.4 171.9 C223.6 170.1 224.4 168.5 225.6 167.5 C226.7 166.5 228.5 166.0 230.3 166.2 C232.1 166.3 234.4 167.1 236.3 168.2 C238.3 169.4 240.5 171.3 242.1 173.2Z" fill="#6a3a90" filter="url(#b3)" opacity="0.5"/>
</g>
<g fill="#d03090" filter="url(#b1)">
<circle cx="229.5" cy="164.3" r="1.36" opacity="0.10"/>
<circle cx="225.2" cy="168.2" r="1.36" opacity="0.10"/>
<circle cx="228.5" cy="172.5" r="1.36" opacity="0.16"/>
<circle cx="224.5" cy="176.9" r="1.36" opacity="0.10"/>
<circle cx="229.5" cy="177.6" r="1.36" opacity="0.11"/>
<circle cx="233.9" cy="176.1" r="1.87" opacity="0.24"/>
<circle cx="238.6" cy="168.9" r="1.36" opacity="0.17"/>
<circle cx="240.1" cy="173.3" r="1.36" opacity="0.10"/>
<circle cx="241.1" cy="174.7" r="1.36" opacity="0.13"/>
<circle cx="233.9" cy="180.2" r="1.36" opacity="0.14"/>
<circle cx="238.2" cy="182.6" r="1.87" opacity="0.28"/>
<circle cx="244.0" cy="178.3" r="1.36" opacity="0.16"/>
<circle cx="249.7" cy="175.9" r="1.36" opacity="0.17"/>
<circle cx="241.1" cy="185.5" r="1.36" opacity="0.12"/>
<circle cx="245.4" cy="185.5" r="1.87" opacity="0.24"/>
<circle cx="248.3" cy="187.0" r="1.87" opacity="0.24"/>
<circle cx="251.2" cy="184.8" r="1.36" opacity="0.17"/>
<circle cx="236.0" cy="189.1" r="1.36" opacity="0.18"/>
<circle cx="239.6" cy="191.7" r="1.36" opacity="0.10"/>
<circle cx="243.2" cy="190.6" r="1.36" opacity="0.11"/>
<circle cx="247.6" cy="193.5" r="1.36" opacity="0.11"/>
<circle cx="251.2" cy="193.5" r="1.87" opacity="0.23"/>
<circle cx="254.1" cy="189.9" r="1.36" opacity="0.13"/>
<circle cx="246.1" cy="195.6" r="1.36" opacity="0.14"/>
<circle cx="238.2" cy="197.1" r="1.36" opacity="0.11"/>
<circle cx="239.6" cy="199.2" r="1.87" opacity="0.21"/>
<circle cx="243.2" cy="200.7" r="1.36" opacity="0.13"/>
<circle cx="249.0" cy="200.0" r="1.36" opacity="0.12"/>
<circle cx="252.6" cy="197.8" r="1.36" opacity="0.14"/>
<circle cx="246.1" cy="204.3" r="1.36" opacity="0.18"/>
<circle cx="236.7" cy="185.5" r="1.36" opacity="0.15"/>
<circle cx="231.7" cy="183.4" r="1.36" opacity="0.14"/>
<circle cx="244.7" cy="181.9" r="1.36" opacity="0.15"/>
<circle cx="228.5" cy="172.5" r="3.08" opacity="0.30"/>
</g>
<g fill="#dc3078" filter="url(#bd2)">
<circle cx="229.5" cy="164.3" r="0.53" opacity="0.27"/>
<circle cx="225.2" cy="168.2" r="0.53" opacity="0.25"/>
<circle cx="228.5" cy="172.5" r="0.53" opacity="0.42"/>
<circle cx="224.5" cy="176.9" r="0.53" opacity="0.27"/>
<circle cx="229.5" cy="177.6" r="0.53" opacity="0.30"/>
<circle cx="233.9" cy="176.1" r="0.72" opacity="0.64"/>
<circle cx="238.6" cy="168.9" r="0.53" opacity="0.45"/>
<circle cx="240.1" cy="173.3" r="0.53" opacity="0.26"/>
<circle cx="241.1" cy="174.7" r="0.53" opacity="0.35"/>
<circle cx="233.9" cy="180.2" r="0.53" opacity="0.37"/>
<circle cx="238.2" cy="182.6" r="0.72" opacity="0.74"/>
<circle cx="244.0" cy="178.3" r="0.53" opacity="0.44"/>
<circle cx="249.7" cy="175.9" r="0.53" opacity="0.45"/>
<circle cx="241.1" cy="185.5" r="0.53" opacity="0.31"/>
<circle cx="245.4" cy="185.5" r="0.72" opacity="0.64"/>
<circle cx="248.3" cy="187.0" r="0.72" opacity="0.63"/>
<circle cx="251.2" cy="184.8" r="0.53" opacity="0.45"/>
<circle cx="236.0" cy="189.1" r="0.53" opacity="0.47"/>
<circle cx="239.6" cy="191.7" r="0.53" opacity="0.28"/>
<circle cx="243.2" cy="190.6" r="0.53" opacity="0.28"/>
<circle cx="247.6" cy="193.5" r="0.53" opacity="0.30"/>
<circle cx="251.2" cy="193.5" r="0.72" opacity="0.61"/>
<circle cx="254.1" cy="189.9" r="0.53" opacity="0.36"/>
<circle cx="246.1" cy="195.6" r="0.53" opacity="0.38"/>
<circle cx="238.2" cy="197.1" r="0.53" opacity="0.30"/>
<circle cx="239.6" cy="199.2" r="0.72" opacity="0.56"/>
<circle cx="243.2" cy="200.7" r="0.53" opacity="0.34"/>
<circle cx="249.0" cy="200.0" r="0.53" opacity="0.33"/>
<circle cx="252.6" cy="197.8" r="0.53" opacity="0.38"/>
<circle cx="246.1" cy="204.3" r="0.53" opacity="0.47"/>
<circle cx="236.7" cy="185.5" r="0.53" opacity="0.41"/>
<circle cx="231.7" cy="183.4" r="0.53" opacity="0.36"/>
<circle cx="244.7" cy="181.9" r="0.53" opacity="0.39"/>
<circle cx="228.5" cy="172.5" r="1.19" opacity="0.80"/>
</g>
<g fill="#30d0a0" filter="url(#bd2)">
<circle cx="249.2" cy="181.5" r="0.80" opacity="0.80"/>
<circle cx="254.2" cy="188.0" r="0.70" opacity="0.70"/>
<circle cx="247.2" cy="192.0" r="0.80" opacity="0.80"/>
<circle cx="234.2" cy="168.0" r="0.60" opacity="0.50"/>
</g>
</g>
<rect x="44.6" y="208.8" width="32.9" height="2" fill="#e4e4e4"/>
<rect x="107.1" y="208.8" width="32.900000000000006" height="2" fill="#e4e4e4"/>
<rect x="169.3" y="208.8" width="33.0" height="2" fill="#e4e4e4"/>
<rect x="231.8" y="208.8" width="32.69999999999999" height="1.4" fill="#e4e4e4"/>
<text x="7" y="15" font-size="11.4" text-anchor="start" fill="#000" font-weight="bold">A</text>
<text x="52.1" y="29.3" font-size="7.2" text-anchor="middle" fill="#111" font-weight="normal" textLength="19.2" lengthAdjust="spacingAndGlyphs">TIF(+)</text>
<text x="113.5" y="29.3" font-size="7.2" text-anchor="middle" fill="#111" font-weight="normal" textLength="12" lengthAdjust="spacingAndGlyphs">WT</text>
<text x="175.9" y="29.3" font-size="7.2" text-anchor="middle" fill="#111" font-weight="normal" textLength="13.3" lengthAdjust="spacingAndGlyphs">het.</text>
<text x="237.2" y="29.3" font-size="7.2" text-anchor="middle" fill="#111" font-weight="normal" textLength="17" lengthAdjust="spacingAndGlyphs">hom.</text>
<text x="19" y="62.8" font-size="7.2" text-anchor="middle" fill="#111" font-weight="normal" transform="rotate(-90 19 62.8)" textLength="16.6" lengthAdjust="spacingAndGlyphs">TRF1</text>
<text x="19" y="123.4" font-size="7.2" text-anchor="middle" fill="#111" font-weight="normal" transform="rotate(-90 19 123.4)" textLength="28.4" lengthAdjust="spacingAndGlyphs">γ-H2A.X</text>
<text x="19" y="180.4" font-size="7.2" text-anchor="middle" textLength="71" lengthAdjust="spacingAndGlyphs" transform="rotate(-90 19 180.4)"><tspan fill="#cc3558" stroke="#cc3558">TRF1</tspan><tspan fill="#222">/</tspan><tspan fill="#38a853" stroke="#38a853">γ-H2A.X</tspan><tspan fill="#222">/</tspan><tspan fill="#3a6ea8" stroke="#3a6ea8">DAPI</tspan></text>
<text x="293" y="15" font-size="11" text-anchor="start" fill="#000" font-weight="bold">C</text>
<text x="308.8" y="27.2" font-size="8" text-anchor="middle" fill="#111" font-weight="normal" textLength="14.4" lengthAdjust="spacingAndGlyphs">hES</text>
<text x="337" y="27.2" font-size="8" text-anchor="middle" fill="#111" font-weight="normal" textLength="14.2" lengthAdjust="spacingAndGlyphs">Fib.</text>
<rect x="296.4" y="30.3" width="24.4" height="0.95" fill="#222"/>
<rect x="325.8" y="30.3" width="22" height="0.95" fill="#222"/>
<text x="297.6" y="48" font-size="7" text-anchor="start" fill="#111" font-weight="normal" transform="rotate(-45 297.6 48)">WT</text>
<text x="306.4" y="48" font-size="7" text-anchor="start" fill="#111" font-weight="normal" transform="rotate(-45 306.4 48)">het.</text>
<text x="315.4" y="48" font-size="7" text-anchor="start" fill="#111" font-weight="normal" transform="rotate(-45 315.4 48)">hom.</text>
<text x="324" y="48" font-size="7" text-anchor="start" fill="#111" font-weight="normal" transform="rotate(-45 324 48)">WT</text>
<text x="333" y="48" font-size="7" text-anchor="start" fill="#111" font-weight="normal" transform="rotate(-45 333 48)">het.</text>
<text x="342.2" y="48" font-size="7" text-anchor="start" fill="#111" font-weight="normal" transform="rotate(-45 342.2 48)">hom.</text>
<linearGradient id="gelbg" x1="0" y1="0" x2="0" y2="1"><stop offset="0" stop-color="#eeeeee"/><stop offset="0.55" stop-color="#e9e9e9"/><stop offset="0.88" stop-color="#e2e2e2"/><stop offset="1" stop-color="#d6d6d6"/></linearGradient>
<rect x="292.7" y="51" width="58" height="161.3" fill="url(#gelbg)"/>
<clipPath id="gelclip"><rect x="292.7" y="51" width="58" height="161.3"/></clipPath>
<linearGradient id="smear" x1="0" y1="0" x2="0" y2="1"><stop offset="0" stop-color="#000" stop-opacity="0"/><stop offset="0.35" stop-color="#000" stop-opacity="0.025"/><stop offset="0.7" stop-color="#000" stop-opacity="0.08"/><stop offset="1" stop-color="#000" stop-opacity="0.14"/></linearGradient>
<g clip-path="url(#gelclip)">
<rect x="292" y="60" width="30" height="123" fill="url(#smear)" filter="url(#b1)"/>
<rect x="292" y="183" width="30" height="12" fill="#000" opacity="0.03" filter="url(#b1)"/>
<g fill="#888" opacity="0.45" filter="url(#bd)">
<rect x="311.6" y="52.7" width="2.5" height="0.7"/>
<rect x="316.0" y="53.2" width="3.5" height="0.7"/>
<rect x="309.9" y="52.6" width="1.7" height="0.7"/>
<rect x="321.3" y="53.0" width="3.6" height="0.7"/>
<rect x="303.3" y="52.9" width="3.9" height="0.7"/>
<rect x="317.3" y="52.9" width="2.3" height="0.7"/>
<rect x="306.0" y="53.2" width="2.4" height="0.7"/>
<rect x="313.2" y="52.9" width="3.7" height="0.7"/>
<rect x="316.6" y="52.6" width="1.5" height="0.7"/>
<rect x="301.4" y="52.7" width="3.0" height="0.7"/>
</g>
<g filter="url(#gbl)">
<rect x="292.85" y="179.85" width="9.37" height="1.9" fill="#000" opacity="0.50"/>
<rect x="294.9" y="180.05" width="5.3" height="1.9" fill="#000" opacity="0.17"/>
<rect x="292.85" y="174.57" width="9.37" height="1.25" fill="#000" opacity="0.21"/>
<rect x="294.9" y="174.77" width="5.3" height="1.25" fill="#000" opacity="0.07"/>
<rect x="292.85" y="170.88" width="9.37" height="1.25" fill="#000" opacity="0.20"/>
<rect x="294.9" y="171.07" width="5.3" height="1.25" fill="#000" opacity="0.07"/>
<rect x="292.85" y="167.38" width="9.37" height="1.25" fill="#000" opacity="0.18"/>
<rect x="294.9" y="167.57" width="5.3" height="1.25" fill="#000" opacity="0.06"/>
<rect x="292.85" y="164.38" width="9.37" height="1.25" fill="#000" opacity="0.16"/>
<rect x="294.9" y="164.57" width="5.3" height="1.25" fill="#000" opacity="0.06"/>
<rect x="292.85" y="161.38" width="9.37" height="1.25" fill="#000" opacity="0.15"/>
<rect x="294.9" y="161.57" width="5.3" height="1.25" fill="#000" opacity="0.05"/>
<rect x="292.85" y="158.57" width="9.37" height="1.25" fill="#000" opacity="0.13"/>
<rect x="294.9" y="158.77" width="5.3" height="1.25" fill="#000" opacity="0.04"/>
<rect x="292.85" y="156.07" width="9.37" height="1.25" fill="#000" opacity="0.11"/>
<rect x="294.9" y="156.27" width="5.3" height="1.25" fill="#000" opacity="0.04"/>
<rect x="292.85" y="153.68" width="9.37" height="1.25" fill="#000" opacity="0.09"/>
<rect x="294.9" y="153.88" width="5.3" height="1.25" fill="#000" opacity="0.03"/>
<rect x="292.85" y="151.68" width="9.37" height="1.25" fill="#000" opacity="0.08"/>
<rect x="294.9" y="151.88" width="5.3" height="1.25" fill="#000" opacity="0.03"/>
<rect x="292.85" y="149.78" width="9.37" height="1.25" fill="#000" opacity="0.06"/>
<rect x="294.9" y="149.97" width="5.3" height="1.25" fill="#000" opacity="0.02"/>
<rect x="292.85" y="147.97" width="9.37" height="1.25" fill="#000" opacity="0.04"/>
<rect x="294.9" y="148.17" width="5.3" height="1.25" fill="#000" opacity="0.02"/>
<rect x="292.85" y="146.38" width="9.37" height="1.25" fill="#000" opacity="0.03"/>
<rect x="294.9" y="146.57" width="5.3" height="1.25" fill="#000" opacity="0.01"/>
<rect x="292.85" y="144.88" width="9.37" height="1.25" fill="#000" opacity="0.03"/>
<rect x="294.9" y="145.07" width="5.3" height="1.25" fill="#000" opacity="0.01"/>
<rect x="292.85" y="143.47" width="9.37" height="1.25" fill="#000" opacity="0.03"/>
<rect x="294.9" y="143.67" width="5.3" height="1.25" fill="#000" opacity="0.01"/>
<rect x="302.52" y="179.85" width="9.37" height="1.9" fill="#000" opacity="0.50"/>
<rect x="304.6" y="180.05" width="5.3" height="1.9" fill="#000" opacity="0.17"/>
<rect x="302.52" y="174.57" width="9.37" height="1.25" fill="#000" opacity="0.21"/>
<rect x="304.6" y="174.77" width="5.3" height="1.25" fill="#000" opacity="0.07"/>
<rect x="302.52" y="170.88" width="9.37" height="1.25" fill="#000" opacity="0.20"/>
<rect x="304.6" y="171.07" width="5.3" height="1.25" fill="#000" opacity="0.07"/>
<rect x="302.52" y="167.38" width="9.37" height="1.25" fill="#000" opacity="0.18"/>
<rect x="304.6" y="167.57" width="5.3" height="1.25" fill="#000" opacity="0.06"/>
<rect x="302.52" y="164.38" width="9.37" height="1.25" fill="#000" opacity="0.16"/>
<rect x="304.6" y="164.57" width="5.3" height="1.25" fill="#000" opacity="0.06"/>
<rect x="302.52" y="161.38" width="9.37" height="1.25" fill="#000" opacity="0.15"/>
<rect x="304.6" y="161.57" width="5.3" height="1.25" fill="#000" opacity="0.05"/>
<rect x="302.52" y="158.57" width="9.37" height="1.25" fill="#000" opacity="0.13"/>
<rect x="304.6" y="158.77" width="5.3" height="1.25" fill="#000" opacity="0.04"/>
<rect x="302.52" y="156.07" width="9.37" height="1.25" fill="#000" opacity="0.11"/>
<rect x="304.6" y="156.27" width="5.3" height="1.25" fill="#000" opacity="0.04"/>
<rect x="302.52" y="153.68" width="9.37" height="1.25" fill="#000" opacity="0.09"/>
<rect x="304.6" y="153.88" width="5.3" height="1.25" fill="#000" opacity="0.03"/>
<rect x="302.52" y="151.68" width="9.37" height="1.25" fill="#000" opacity="0.08"/>
<rect x="304.6" y="151.88" width="5.3" height="1.25" fill="#000" opacity="0.03"/>
<rect x="302.52" y="149.78" width="9.37" height="1.25" fill="#000" opacity="0.06"/>
<rect x="304.6" y="149.97" width="5.3" height="1.25" fill="#000" opacity="0.02"/>
<rect x="302.52" y="147.97" width="9.37" height="1.25" fill="#000" opacity="0.04"/>
<rect x="304.6" y="148.17" width="5.3" height="1.25" fill="#000" opacity="0.02"/>
<rect x="302.52" y="146.38" width="9.37" height="1.25" fill="#000" opacity="0.03"/>
<rect x="304.6" y="146.57" width="5.3" height="1.25" fill="#000" opacity="0.01"/>
<rect x="302.52" y="144.88" width="9.37" height="1.25" fill="#000" opacity="0.03"/>
<rect x="304.6" y="145.07" width="5.3" height="1.25" fill="#000" opacity="0.01"/>
<rect x="302.52" y="143.47" width="9.37" height="1.25" fill="#000" opacity="0.03"/>
<rect x="304.6" y="143.67" width="5.3" height="1.25" fill="#000" opacity="0.01"/>
<rect x="312.19" y="179.85" width="9.37" height="1.9" fill="#000" opacity="0.50"/>
<rect x="314.2" y="180.05" width="5.3" height="1.9" fill="#000" opacity="0.17"/>
<rect x="312.19" y="174.57" width="9.37" height="1.25" fill="#000" opacity="0.21"/>
<rect x="314.2" y="174.77" width="5.3" height="1.25" fill="#000" opacity="0.07"/>
<rect x="312.19" y="170.88" width="9.37" height="1.25" fill="#000" opacity="0.20"/>
<rect x="314.2" y="171.07" width="5.3" height="1.25" fill="#000" opacity="0.07"/>
<rect x="312.19" y="167.38" width="9.37" height="1.25" fill="#000" opacity="0.18"/>
<rect x="314.2" y="167.57" width="5.3" height="1.25" fill="#000" opacity="0.06"/>
<rect x="312.19" y="164.38" width="9.37" height="1.25" fill="#000" opacity="0.16"/>
<rect x="314.2" y="164.57" width="5.3" height="1.25" fill="#000" opacity="0.06"/>
<rect x="312.19" y="161.38" width="9.37" height="1.25" fill="#000" opacity="0.15"/>
<rect x="314.2" y="161.57" width="5.3" height="1.25" fill="#000" opacity="0.05"/>
<rect x="312.19" y="158.57" width="9.37" height="1.25" fill="#000" opacity="0.13"/>
<rect x="314.2" y="158.77" width="5.3" height="1.25" fill="#000" opacity="0.04"/>
<rect x="312.19" y="156.07" width="9.37" height="1.25" fill="#000" opacity="0.11"/>
<rect x="314.2" y="156.27" width="5.3" height="1.25" fill="#000" opacity="0.04"/>
<rect x="312.19" y="153.68" width="9.37" height="1.25" fill="#000" opacity="0.09"/>
<rect x="314.2" y="153.88" width="5.3" height="1.25" fill="#000" opacity="0.03"/>
<rect x="312.19" y="151.68" width="9.37" height="1.25" fill="#000" opacity="0.08"/>
<rect x="314.2" y="151.88" width="5.3" height="1.25" fill="#000" opacity="0.03"/>
<rect x="312.19" y="149.78" width="9.37" height="1.25" fill="#000" opacity="0.06"/>
<rect x="314.2" y="149.97" width="5.3" height="1.25" fill="#000" opacity="0.02"/>
<rect x="312.19" y="147.97" width="9.37" height="1.25" fill="#000" opacity="0.04"/>
<rect x="314.2" y="148.17" width="5.3" height="1.25" fill="#000" opacity="0.02"/>
<rect x="312.19" y="146.38" width="9.37" height="1.25" fill="#000" opacity="0.03"/>
<rect x="314.2" y="146.57" width="5.3" height="1.25" fill="#000" opacity="0.01"/>
<rect x="312.19" y="144.88" width="9.37" height="1.25" fill="#000" opacity="0.03"/>
<rect x="314.2" y="145.07" width="5.3" height="1.25" fill="#000" opacity="0.01"/>
<rect x="312.19" y="143.47" width="9.37" height="1.25" fill="#000" opacity="0.03"/>
<rect x="314.2" y="143.67" width="5.3" height="1.25" fill="#000" opacity="0.01"/>
</g>
<g filter="url(#gbi)">
<rect x="292.5" y="198.3" width="10.1" height="2.5" fill="#000" opacity="0.92"/>
<rect x="294.3" y="198.6" width="6.5" height="2.9" fill="#000" opacity="0.92"/>
<rect x="302.2" y="198.3" width="10.1" height="2.5" fill="#000" opacity="0.92"/>
<rect x="304.0" y="198.6" width="6.5" height="2.9" fill="#000" opacity="0.92"/>
<rect x="311.8" y="198.3" width="10.1" height="2.5" fill="#000" opacity="0.92"/>
<rect x="313.6" y="198.6" width="6.5" height="2.9" fill="#000" opacity="0.92"/>
<rect x="321.5" y="198.3" width="10.1" height="2.5" fill="#000" opacity="0.92"/>
<rect x="323.3" y="198.6" width="6.5" height="2.9" fill="#000" opacity="0.92"/>
<rect x="331.2" y="198.3" width="10.1" height="2.5" fill="#000" opacity="0.92"/>
<rect x="333.0" y="198.6" width="6.5" height="2.9" fill="#000" opacity="0.92"/>
<rect x="340.9" y="198.3" width="10.1" height="2.5" fill="#000" opacity="0.92"/>
<rect x="342.7" y="198.6" width="6.5" height="2.9" fill="#000" opacity="0.92"/>
</g>
</g>
<text x="354.2" y="202.3" font-size="7.4" text-anchor="start" fill="#111" font-weight="normal" textLength="7.3" lengthAdjust="spacingAndGlyphs">IC</text>
<text x="367" y="15" font-size="11" text-anchor="start" fill="#000" font-weight="bold">D</text>
<text x="402" y="24" font-size="7.3" text-anchor="middle" fill="#111" font-weight="normal" textLength="42" lengthAdjust="spacingAndGlyphs">Isogenic hES</text>
<text x="401.2" y="32.4" font-size="7.3" text-anchor="middle" fill="#111" font-weight="normal" textLength="27.5" lengthAdjust="spacingAndGlyphs">cell lines</text>
<ellipse cx="401.4" cy="41.1" rx="5.5" ry="4.2" fill="#8f8f8f"/>
<ellipse cx="401.4" cy="41.1" rx="2.9" ry="2" fill="#1f4e8f"/>
<text x="409.7" y="43.4" font-size="7.3" text-anchor="start" fill="#111" font-weight="normal" textLength="10.9" lengthAdjust="spacingAndGlyphs">WT</text>
<ellipse cx="401.4" cy="51.2" rx="5.5" ry="4.2" fill="#8f8f8f"/>
<ellipse cx="401.4" cy="51.2" rx="2.9" ry="2" fill="#3fbf3f"/>
<text x="409.7" y="53.5" font-size="7.3" text-anchor="start" fill="#111" font-weight="normal" textLength="12.4" lengthAdjust="spacingAndGlyphs">het.</text>
<ellipse cx="401.4" cy="61.6" rx="5.5" ry="4.2" fill="#8f8f8f"/>
<ellipse cx="401.4" cy="61.6" rx="2.9" ry="2" fill="#3fbf3f"/>
<text x="409.7" y="63.9" font-size="7.3" text-anchor="start" fill="#111" font-weight="normal" textLength="16.3" lengthAdjust="spacingAndGlyphs">hom.</text>
<text x="450.7" y="39.3" font-size="7.3" text-anchor="middle" fill="#111" font-weight="normal" textLength="33.8" lengthAdjust="spacingAndGlyphs">Fibroblast</text>
<text x="450.7" y="47.6" font-size="7.3" text-anchor="middle" fill="#111" font-weight="normal" textLength="46.7" lengthAdjust="spacingAndGlyphs">differentiation</text>
<rect x="433.6" y="53" width="25" height="1.2" fill="#111"/><path d="M458 50.8 L464.4 53.6 L458 56.4 Z" fill="#111"/>
<path d="M481.5 35.6 L483.8 38.7 L486.6 39.4 L494.7 40.8 L488.3 42.6 L487.5 43.9 L487.1 46.0 L484.6 44.5 L482.1 44.3 L479.1 43.9 L480.3 41.9 L480.5 39.8Z" fill="#9c9ca2" stroke="#9c9ca2" stroke-width="0.5" stroke-linejoin="round"/>
<ellipse cx="484.1" cy="41.3" rx="2.6" ry="1.8" transform="rotate(-15 484.1 41.3)" fill="#1f4e8f"/>
<text x="496.2" y="43" font-size="7.3" text-anchor="start" fill="#111" font-weight="normal" textLength="10.5" lengthAdjust="spacingAndGlyphs">WT</text>
<path d="M481.5 46.4 L483.8 49.5 L486.6 50.2 L494.7 51.6 L488.3 53.4 L487.5 54.7 L487.1 56.8 L484.6 55.3 L482.1 55.1 L479.1 54.7 L480.3 52.7 L480.5 50.6Z" fill="#9c9ca2" stroke="#9c9ca2" stroke-width="0.5" stroke-linejoin="round"/>
<ellipse cx="484.1" cy="52.1" rx="2.6" ry="1.8" transform="rotate(-15 484.1 52.1)" fill="#3fbf3f"/>
<text x="496.2" y="53.4" font-size="7.3" text-anchor="start" fill="#111" font-weight="normal" textLength="12.6" lengthAdjust="spacingAndGlyphs">het.</text>
<path d="M481.5 57.7 L483.8 60.8 L486.6 61.5 L494.7 62.9 L488.3 64.7 L487.5 66.0 L487.1 68.1 L484.6 66.6 L482.1 66.4 L479.1 66.0 L480.3 64.0 L480.5 61.9Z" fill="#9c9ca2" stroke="#9c9ca2" stroke-width="0.5" stroke-linejoin="round"/>
<ellipse cx="484.1" cy="63.4" rx="2.6" ry="1.8" transform="rotate(-15 484.1 63.4)" fill="#3fbf3f"/>
<text x="496.2" y="64.4" font-size="7.3" text-anchor="start" fill="#111" font-weight="normal" textLength="15.8" lengthAdjust="spacingAndGlyphs">hom.</text>
<path d="M396.3 78.83999999999997 V186.35 H505.95" fill="none" stroke="#161616" stroke-width="1.35"/>
<path d="M393.09999999999997 186.35 H396.2" stroke="#161616" stroke-width="1.2"/>
<text x="390.2" y="189.2" font-size="8.3" text-anchor="end" fill="#111" font-weight="normal" textLength="4.3" lengthAdjust="spacingAndGlyphs">0</text>
<path d="M393.09999999999997 151.15 H396.2" stroke="#161616" stroke-width="1.2"/>
<text x="390.2" y="154.0" font-size="8.3" text-anchor="end" fill="#111" font-weight="normal" textLength="8.6" lengthAdjust="spacingAndGlyphs">10</text>
<path d="M393.09999999999997 115.94999999999999 H396.2" stroke="#161616" stroke-width="1.2"/>
<text x="390.2" y="118.79999999999998" font-size="8.3" text-anchor="end" fill="#111" font-weight="normal" textLength="8.6" lengthAdjust="spacingAndGlyphs">20</text>
<path d="M393.09999999999997 80.74999999999999 H396.2" stroke="#161616" stroke-width="1.2"/>
<text x="390.2" y="83.59999999999998" font-size="8.3" text-anchor="end" fill="#111" font-weight="normal" textLength="8.6" lengthAdjust="spacingAndGlyphs">30</text>
<path d="M396.2 186.2 V189.29999999999998" stroke="#161616" stroke-width="1.2"/>
<text x="396.2" y="197.79999999999998" font-size="8.3" text-anchor="middle" fill="#111" font-weight="normal" textLength="4.1" lengthAdjust="spacingAndGlyphs">0</text>
<path d="M417.34999999999997 186.2 V189.29999999999998" stroke="#161616" stroke-width="1.2"/>
<text x="417.34999999999997" y="197.79999999999998" font-size="8.3" text-anchor="middle" fill="#111" font-weight="normal" textLength="8.2" lengthAdjust="spacingAndGlyphs">50</text>
<path d="M438.5 186.2 V189.29999999999998" stroke="#161616" stroke-width="1.2"/>
<text x="438.5" y="197.79999999999998" font-size="8.3" text-anchor="middle" fill="#111" font-weight="normal" textLength="12.299999999999999" lengthAdjust="spacingAndGlyphs">100</text>
<path d="M459.65 186.2 V189.29999999999998" stroke="#161616" stroke-width="1.2"/>
<text x="459.65" y="197.79999999999998" font-size="8.3" text-anchor="middle" fill="#111" font-weight="normal" textLength="12.299999999999999" lengthAdjust="spacingAndGlyphs">150</text>
<path d="M480.79999999999995 186.2 V189.29999999999998" stroke="#161616" stroke-width="1.2"/>
<text x="480.79999999999995" y="197.79999999999998" font-size="8.3" text-anchor="middle" fill="#111" font-weight="normal" textLength="12.299999999999999" lengthAdjust="spacingAndGlyphs">200</text>
<path d="M501.95 186.2 V189.29999999999998" stroke="#161616" stroke-width="1.2"/>
<text x="501.95" y="197.79999999999998" font-size="8.3" text-anchor="middle" fill="#111" font-weight="normal" textLength="12.299999999999999" lengthAdjust="spacingAndGlyphs">250</text>
<text x="375.7" y="131.4" font-size="9" text-anchor="middle" fill="#111" font-weight="normal" transform="rotate(-90 375.7 131.4)" textLength="48.4" lengthAdjust="spacingAndGlyphs">Cumulative PD</text>
<text x="451" y="211.6" font-size="9" text-anchor="middle" fill="#111" font-weight="normal" textLength="83.4" lengthAdjust="spacingAndGlyphs">Days after differentiation</text>
<path d="M408.5 186.2 L413.4 178.5 L417.6 167.9 L423.7 160.5 L429.2 155.9 L433.2 151.7 L438.1 155.2 L444.4 150.6 L452.0 152.4 L456.7 157.0 L464.9 157.0 L470.2 156.3" fill="none" stroke="#39b54a" stroke-width="1.35" stroke-linejoin="round"/>
<path d="M407.1 185.2 L409.9 185.2 L408.5 187.7 Z" fill="#39b54a"/>
<path d="M412.0 177.5 L414.8 177.5 L413.4 180.0 Z" fill="#39b54a"/>
<path d="M416.2 166.9 L419.0 166.9 L417.6 169.4 Z" fill="#39b54a"/>
<path d="M422.3 159.5 L425.1 159.5 L423.7 162.0 Z" fill="#39b54a"/>
<path d="M427.8 154.9 L430.6 154.9 L429.2 157.4 Z" fill="#39b54a"/>
<path d="M431.8 150.7 L434.6 150.7 L433.2 153.2 Z" fill="#39b54a"/>
<path d="M436.7 154.2 L439.5 154.2 L438.1 156.7 Z" fill="#39b54a"/>
<path d="M443.0 149.6 L445.8 149.6 L444.4 152.1 Z" fill="#39b54a"/>
<path d="M450.6 151.4 L453.4 151.4 L452.0 153.9 Z" fill="#39b54a"/>
<path d="M455.3 156.0 L458.1 156.0 L456.7 158.5 Z" fill="#39b54a"/>
<path d="M463.5 156.0 L466.3 156.0 L464.9 158.5 Z" fill="#39b54a"/>
<path d="M468.8 155.3 L471.6 155.3 L470.2 157.8 Z" fill="#39b54a"/>
<path d="M408.5 186.2 L413.4 178.5 L417.6 167.9 L423.7 160.2 L429.2 151.0 L433.2 146.8 L438.1 144.3 L444.4 141.8 L452.0 140.1 L456.7 130.6 L464.9 146.1 L470.2 155.2" fill="none" stroke="#39b54a" stroke-width="1.35" stroke-linejoin="round"/>
<path d="M407.1 187.2 L409.9 187.2 L408.5 184.7 Z" fill="#39b54a"/>
<path d="M412.0 179.5 L414.8 179.5 L413.4 177.0 Z" fill="#39b54a"/>
<path d="M416.2 168.9 L419.0 168.9 L417.6 166.4 Z" fill="#39b54a"/>
<path d="M422.3 161.2 L425.1 161.2 L423.7 158.7 Z" fill="#39b54a"/>
<path d="M427.8 152.0 L430.6 152.0 L429.2 149.5 Z" fill="#39b54a"/>
<path d="M431.8 147.8 L434.6 147.8 L433.2 145.3 Z" fill="#39b54a"/>
<path d="M436.7 145.3 L439.5 145.3 L438.1 142.8 Z" fill="#39b54a"/>
<path d="M443.0 142.8 L445.8 142.8 L444.4 140.3 Z" fill="#39b54a"/>
<path d="M450.6 141.1 L453.4 141.1 L452.0 138.6 Z" fill="#39b54a"/>
<path d="M455.3 131.6 L458.1 131.6 L456.7 129.1 Z" fill="#39b54a"/>
<path d="M463.5 147.1 L466.3 147.1 L464.9 144.6 Z" fill="#39b54a"/>
<path d="M468.8 156.2 L471.6 156.2 L470.2 153.7 Z" fill="#39b54a"/>
<path d="M408.5 186.2 L413.4 178.5 L417.6 167.9 L423.7 160.2 L429.2 151.0 L433.2 141.5 L438.1 135.2 L444.4 125.0 L452.0 115.1 L456.7 113.0 L464.9 107.7 L470.2 102.1 L476.9 97.5 L488.4 97.5" fill="none" stroke="#0f4a8b" stroke-width="1.35" stroke-linejoin="round"/>
<circle cx="408.5" cy="186.2" r="1.7" fill="#0f4a8b"/>
<circle cx="413.4" cy="178.5" r="1.7" fill="#0f4a8b"/>
<circle cx="417.6" cy="167.9" r="1.7" fill="#0f4a8b"/>
<circle cx="423.7" cy="160.2" r="1.7" fill="#0f4a8b"/>
<circle cx="429.2" cy="151.0" r="1.7" fill="#0f4a8b"/>
<circle cx="433.2" cy="141.5" r="1.7" fill="#0f4a8b"/>
<circle cx="438.1" cy="135.2" r="1.7" fill="#0f4a8b"/>
<circle cx="444.4" cy="125.0" r="1.7" fill="#0f4a8b"/>
<circle cx="452.0" cy="115.1" r="1.7" fill="#0f4a8b"/>
<circle cx="456.7" cy="113.0" r="1.7" fill="#0f4a8b"/>
<circle cx="464.9" cy="107.7" r="1.7" fill="#0f4a8b"/>
<circle cx="470.2" cy="102.1" r="1.7" fill="#0f4a8b"/>
<circle cx="476.9" cy="97.5" r="1.7" fill="#0f4a8b"/>
<circle cx="488.4" cy="97.5" r="1.7" fill="#0f4a8b"/>
<path d="M480.5 126.4 H493" stroke="#0f4a8b" stroke-width="1.35"/>
<circle cx="486.7" cy="126.4" r="1.7" fill="#0f4a8b"/>
<text x="496.4" y="128.9" font-size="7.3" text-anchor="start" fill="#111" font-weight="normal" textLength="7.4" lengthAdjust="spacingAndGlyphs">Wt</text>
<path d="M480.5 138.3 H493" stroke="#39b54a" stroke-width="1.35"/>
<path d="M485.3 139.3 L488.09999999999997 139.3 L486.7 136.8 Z" fill="#39b54a"/>
<text x="496.4" y="140.8" font-size="7.3" text-anchor="start" fill="#111" font-weight="normal" textLength="12.3" lengthAdjust="spacingAndGlyphs">het.</text>
<path d="M480.5 148.4 H493" stroke="#39b54a" stroke-width="1.35"/>
<path d="M485.3 147.4 L488.09999999999997 147.4 L486.7 149.9 Z" fill="#39b54a"/>
<text x="496.4" y="150.9" font-size="7.3" text-anchor="start" fill="#111" font-weight="normal" textLength="16.8" lengthAdjust="spacingAndGlyphs">hom.</text>
<text x="7" y="241.3" font-size="10.6" text-anchor="start" fill="#000" font-weight="bold">B</text>
<path d="M54.9 254.7 V364.4 H161.5" fill="none" stroke="#161616" stroke-width="1.3"/>
<path d="M52.0 364.4 H55.1" stroke="#161616" stroke-width="1.15"/>
<text x="49.2" y="367.2" font-size="8.2" text-anchor="end" fill="#111" font-weight="normal" textLength="11.3" lengthAdjust="spacingAndGlyphs">0.0</text>
<path d="M52.0 343.15 H55.1" stroke="#161616" stroke-width="1.15"/>
<text x="49.2" y="345.95" font-size="8.2" text-anchor="end" fill="#111" font-weight="normal" textLength="11.3" lengthAdjust="spacingAndGlyphs">0.1</text>
<path d="M52.0 321.9 H55.1" stroke="#161616" stroke-width="1.15"/>
<text x="49.2" y="324.7" font-size="8.2" text-anchor="end" fill="#111" font-weight="normal" textLength="11.3" lengthAdjust="spacingAndGlyphs">0.2</text>
<path d="M52.0 300.65 H55.1" stroke="#161616" stroke-width="1.15"/>
<text x="49.2" y="303.45" font-size="8.2" text-anchor="end" fill="#111" font-weight="normal" textLength="11.3" lengthAdjust="spacingAndGlyphs">0.3</text>
<path d="M52.0 279.4 H55.1" stroke="#161616" stroke-width="1.15"/>
<text x="49.2" y="282.2" font-size="8.2" text-anchor="end" fill="#111" font-weight="normal" textLength="11.3" lengthAdjust="spacingAndGlyphs">0.4</text>
<path d="M52.0 258.15 H55.1" stroke="#161616" stroke-width="1.15"/>
<text x="49.2" y="260.95" font-size="8.2" text-anchor="end" fill="#111" font-weight="normal" textLength="11.3" lengthAdjust="spacingAndGlyphs">0.5</text>
<text x="31.7" y="314" font-size="9" text-anchor="middle" fill="#111" font-weight="normal" transform="rotate(-90 31.7 314)" textLength="113" lengthAdjust="spacingAndGlyphs"># TIFs / # Telomeres detected per cell</text>
<circle cx="71.1" cy="282.7" r="1.5" fill="#b9b9c0"/>
<circle cx="71.1" cy="301.0" r="1.5" fill="#b9b9c0"/>
<circle cx="75.5" cy="305.9" r="1.5" fill="#b9b9c0"/>
<circle cx="66.5" cy="308.6" r="1.5" fill="#b9b9c0"/>
<circle cx="71.1" cy="308.6" r="1.5" fill="#b9b9c0"/>
<circle cx="68.9" cy="325.0" r="1.5" fill="#b9b9c0"/>
<circle cx="73.3" cy="325.0" r="1.5" fill="#b9b9c0"/>
<circle cx="75.5" cy="328.0" r="1.5" fill="#b9b9c0"/>
<circle cx="66.5" cy="330.6" r="1.5" fill="#b9b9c0"/>
<circle cx="68.9" cy="333.0" r="1.5" fill="#b9b9c0"/>
<circle cx="73.3" cy="333.0" r="1.5" fill="#b9b9c0"/>
<circle cx="66.5" cy="338.5" r="1.5" fill="#b9b9c0"/>
<circle cx="75.5" cy="342.9" r="1.5" fill="#b9b9c0"/>
<circle cx="66.5" cy="345.8" r="1.5" fill="#b9b9c0"/>
<circle cx="71.1" cy="347.0" r="1.5" fill="#b9b9c0"/>
<circle cx="64.8" cy="348.7" r="1.5" fill="#b9b9c0"/>
<circle cx="68.9" cy="350.2" r="1.5" fill="#b9b9c0"/>
<circle cx="73.3" cy="350.2" r="1.5" fill="#b9b9c0"/>
<circle cx="77.7" cy="348.7" r="1.5" fill="#b9b9c0"/>
<circle cx="71.1" cy="353.1" r="1.5" fill="#b9b9c0"/>
<circle cx="64.8" cy="355.6" r="1.5" fill="#b9b9c0"/>
<circle cx="77.7" cy="355.6" r="1.5" fill="#b9b9c0"/>
<circle cx="68.9" cy="356.8" r="1.5" fill="#b9b9c0"/>
<circle cx="73.3" cy="356.8" r="1.5" fill="#b9b9c0"/>
<circle cx="71.1" cy="359.5" r="1.5" fill="#b9b9c0"/>
<circle cx="71.1" cy="364.1" r="1.5" fill="#b9b9c0"/>
<circle cx="93.1" cy="346.5" r="1.5" fill="#15508f"/>
<circle cx="97.8" cy="345.8" r="1.5" fill="#15508f"/>
<circle cx="93.1" cy="355.8" r="1.5" fill="#15508f"/>
<circle cx="97.8" cy="355.8" r="1.5" fill="#15508f"/>
<circle cx="89.7" cy="360.1" r="1.5" fill="#15508f"/>
<circle cx="101.2" cy="360.1" r="1.5" fill="#15508f"/>
<circle cx="89.0" cy="362.4" r="1.5" fill="#15508f"/>
<circle cx="91.6" cy="362.4" r="1.5" fill="#15508f"/>
<circle cx="94.2" cy="362.4" r="1.5" fill="#15508f"/>
<circle cx="96.8" cy="362.4" r="1.5" fill="#15508f"/>
<circle cx="99.4" cy="362.4" r="1.5" fill="#15508f"/>
<circle cx="102.0" cy="362.4" r="1.5" fill="#15508f"/>
<circle cx="88.5" cy="364.3" r="1.5" fill="#15508f"/>
<circle cx="90.8" cy="364.3" r="1.5" fill="#15508f"/>
<circle cx="93.2" cy="364.3" r="1.5" fill="#15508f"/>
<circle cx="95.5" cy="364.3" r="1.5" fill="#15508f"/>
<circle cx="97.8" cy="364.3" r="1.5" fill="#15508f"/>
<circle cx="100.2" cy="364.3" r="1.5" fill="#15508f"/>
<circle cx="102.5" cy="364.3" r="1.5" fill="#15508f"/>
<path d="M118.3 342.0 L121.7 342.0 L120.0 339.0 Z" fill="#3cb64b"/>
<path d="M120.6 352.4 L124.0 352.4 L122.3 349.4 Z" fill="#3cb64b"/>
<path d="M113.3 356.2 L116.7 356.2 L115.0 353.2 Z" fill="#3cb64b"/>
<path d="M117.1 357.7 L120.5 357.7 L118.8 354.7 Z" fill="#3cb64b"/>
<path d="M121.0 359.2 L124.4 359.2 L122.7 356.2 Z" fill="#3cb64b"/>
<path d="M114.3 360.5 L117.7 360.5 L116.0 357.5 Z" fill="#3cb64b"/>
<path d="M122.8 360.2 L126.2 360.2 L124.5 357.2 Z" fill="#3cb64b"/>
<path d="M110.8 362.7 L114.2 362.7 L112.5 359.7 Z" fill="#3cb64b"/>
<path d="M125.8 362.7 L129.2 362.7 L127.5 359.7 Z" fill="#3cb64b"/>
<path d="M113.3 363.8 L116.7 363.8 L115.0 360.8 Z" fill="#3cb64b"/>
<path d="M115.8 363.8 L119.2 363.8 L117.5 360.8 Z" fill="#3cb64b"/>
<path d="M118.3 363.8 L121.7 363.8 L120.0 360.8 Z" fill="#3cb64b"/>
<path d="M120.8 363.8 L124.2 363.8 L122.5 360.8 Z" fill="#3cb64b"/>
<path d="M123.3 363.8 L126.7 363.8 L125.0 360.8 Z" fill="#3cb64b"/>
<path d="M111.3 365.5 L114.7 365.5 L113.0 362.5 Z" fill="#3cb64b"/>
<path d="M113.6 365.5 L117.0 365.5 L115.3 362.5 Z" fill="#3cb64b"/>
<path d="M116.0 365.5 L119.4 365.5 L117.7 362.5 Z" fill="#3cb64b"/>
<path d="M118.3 365.5 L121.7 365.5 L120.0 362.5 Z" fill="#3cb64b"/>
<path d="M120.6 365.5 L124.0 365.5 L122.3 362.5 Z" fill="#3cb64b"/>
<path d="M123.0 365.5 L126.4 365.5 L124.7 362.5 Z" fill="#3cb64b"/>
<path d="M125.3 365.5 L128.7 365.5 L127.0 362.5 Z" fill="#3cb64b"/>
<path d="M140.3 345.8 L143.7 345.8 L142.0 348.8 Z" fill="#3cb64b"/>
<path d="M144.9 346.4 L148.3 346.4 L146.6 349.4 Z" fill="#3cb64b"/>
<path d="M138.0 350.0 L141.4 350.0 L139.7 353.0 Z" fill="#3cb64b"/>
<path d="M147.2 350.4 L150.6 350.4 L148.9 353.4 Z" fill="#3cb64b"/>
<path d="M136.5 353.0 L139.9 353.0 L138.2 356.0 Z" fill="#3cb64b"/>
<path d="M149.1 353.0 L152.5 353.0 L150.8 356.0 Z" fill="#3cb64b"/>
<path d="M140.3 356.1 L143.7 356.1 L142.0 359.1 Z" fill="#3cb64b"/>
<path d="M144.8 356.6 L148.2 356.6 L146.5 359.6 Z" fill="#3cb64b"/>
<path d="M135.3 358.3 L138.7 358.3 L137.0 361.3 Z" fill="#3cb64b"/>
<path d="M150.3 358.3 L153.7 358.3 L152.0 361.3 Z" fill="#3cb64b"/>
<path d="M137.8 360.6 L141.2 360.6 L139.5 363.6 Z" fill="#3cb64b"/>
<path d="M147.8 360.6 L151.2 360.6 L149.5 363.6 Z" fill="#3cb64b"/>
<path d="M139.1 361.8 L142.5 361.8 L140.8 364.8 Z" fill="#3cb64b"/>
<path d="M141.4 361.8 L144.8 361.8 L143.1 364.8 Z" fill="#3cb64b"/>
<path d="M143.8 361.8 L147.2 361.8 L145.5 364.8 Z" fill="#3cb64b"/>
<path d="M146.1 361.8 L149.5 361.8 L147.8 364.8 Z" fill="#3cb64b"/>
<path d="M136.6 363.3 L140.0 363.3 L138.3 366.3 Z" fill="#3cb64b"/>
<path d="M139.0 363.3 L142.4 363.3 L140.7 366.3 Z" fill="#3cb64b"/>
<path d="M141.4 363.3 L144.8 363.3 L143.1 366.3 Z" fill="#3cb64b"/>
<path d="M143.8 363.3 L147.2 363.3 L145.5 366.3 Z" fill="#3cb64b"/>
<path d="M146.2 363.3 L149.6 363.3 L147.9 366.3 Z" fill="#3cb64b"/>
<path d="M148.6 363.3 L152.0 363.3 L150.3 366.3 Z" fill="#3cb64b"/>
<path d="M63.300000000000004 336.8 H79.10000000000001 M71.2 359.6 V315.4 M68.0 315.4 H74.4 M68.0 359.6 H74.4" stroke="#1c1c1c" stroke-width="1.1" fill="none"/>
<path d="M71.2 364.2 V367.8" stroke="#161616" stroke-width="1.15"/>
<path d="M87.5 362.3 H103.5 M95.5 364.2 V358.4 M92.0 358.4 H99.0 M92.0 364.2 H99.0" stroke="#1c1c1c" stroke-width="1.1" fill="none"/>
<path d="M95.5 364.2 V367.8" stroke="#161616" stroke-width="1.15"/>
<path d="M113 361.5 H127 M120 364.2 V356.5 M116.5 356.5 H123.5 M116.5 364.2 H123.5" stroke="#1c1c1c" stroke-width="1.1" fill="none"/>
<path d="M120 364.2 V367.8" stroke="#161616" stroke-width="1.15"/>
<path d="M136.3 361.2 H152.3 M144.3 364.2 V356.2 M140.5 356.2 H148.10000000000002 M140.5 364.2 H148.10000000000002" stroke="#1c1c1c" stroke-width="1.1" fill="none"/>
<path d="M144.3 364.2 V367.8" stroke="#161616" stroke-width="1.15"/>
<rect x="96.5" y="332.6" width="47.7" height="1.1" fill="#161616"/>
<text x="120.7" y="329.8" font-size="8.3" text-anchor="middle" fill="#111" font-weight="normal" textLength="10.6" lengthAdjust="spacingAndGlyphs">NS</text>
<text x="74.5" y="374.5" font-size="8" text-anchor="end" fill="#111" font-weight="normal" transform="rotate(-45 74.5 374.5)" textLength="22.5" lengthAdjust="spacingAndGlyphs">TIF(+)</text>
<text x="98.8" y="374.5" font-size="8" text-anchor="end" fill="#111" font-weight="normal" transform="rotate(-45 98.8 374.5)" textLength="12" lengthAdjust="spacingAndGlyphs">WT</text>
<text x="123.8" y="374.5" font-size="8" text-anchor="end" fill="#111" font-weight="normal" transform="rotate(-45 123.8 374.5)" textLength="14.5" lengthAdjust="spacingAndGlyphs">het.</text>
<text x="147.5" y="374.5" font-size="8" text-anchor="end" fill="#111" font-weight="normal" transform="rotate(-45 147.5 374.5)" textLength="18.5" lengthAdjust="spacingAndGlyphs">hom.</text>
<text x="204" y="241.3" font-size="10.6" text-anchor="start" fill="#000" font-weight="bold">E</text>
<rect x="250.95" y="241.1" width="68.1" height="14.1" fill="#b9b9be"/>
<text x="285.0" y="251" font-size="8.7" text-anchor="middle" fill="#111" font-weight="normal" textLength="13.3" lengthAdjust="spacingAndGlyphs">WT</text>
<path d="M251.5 255.2 V377 H318.5 V255.2" fill="none" stroke="#161616" stroke-width="1.3"/>
<text x="314.6" y="263.9" font-size="8.6" text-anchor="end" fill="#111" font-weight="normal" textLength="38.7" lengthAdjust="spacingAndGlyphs">71.2bp/PD</text>
<path d="M264.6 377.6 V380.2" stroke="#161616" stroke-width="1.15"/>
<text x="264.70000000000005" y="389.2" font-size="8.3" text-anchor="middle" fill="#111" font-weight="normal" textLength="8" lengthAdjust="spacingAndGlyphs">50</text>
<path d="M282.0 377.6 V380.2" stroke="#161616" stroke-width="1.15"/>
<text x="282.1" y="389.2" font-size="8.3" text-anchor="middle" fill="#111" font-weight="normal" textLength="10.4" lengthAdjust="spacingAndGlyphs">100</text>
<path d="M299.4 377.6 V380.2" stroke="#161616" stroke-width="1.15"/>
<text x="299.50000000000006" y="389.2" font-size="8.3" text-anchor="middle" fill="#111" font-weight="normal" textLength="10.4" lengthAdjust="spacingAndGlyphs">150</text>
<path d="M316.8 377.6 V380.2" stroke="#161616" stroke-width="1.15"/>
<text x="314.70000000000005" y="389.2" font-size="8.3" text-anchor="middle" fill="#111" font-weight="normal" textLength="11" lengthAdjust="spacingAndGlyphs">200</text>
<path d="M257.5 277.7 V361.4" stroke="#2a2a2a" stroke-width="0.9" opacity="0.85"/>
<rect x="254.4" y="315.3" width="5.9" height="25.8" fill="#c9ebc4"/>
<g fill="#1a1a1a">
<circle cx="259.5" cy="326.6" r="0.59" opacity="0.96"/>
<circle cx="255.9" cy="332.7" r="0.60" opacity="0.94"/>
<circle cx="254.7" cy="316.7" r="0.56" opacity="0.94"/>
<circle cx="258.9" cy="336.5" r="0.61" opacity="0.77"/>
<circle cx="255.5" cy="336.6" r="0.52" opacity="0.93"/>
<circle cx="257.1" cy="342.5" r="0.49" opacity="0.94"/>
<circle cx="259.9" cy="327.9" r="0.60" opacity="0.86"/>
<circle cx="257.9" cy="305.9" r="0.51" opacity="0.76"/>
<circle cx="257.8" cy="334.0" r="0.54" opacity="0.86"/>
<circle cx="254.4" cy="341.5" r="0.62" opacity="0.81"/>
<circle cx="259.2" cy="297.2" r="0.50" opacity="0.88"/>
<circle cx="254.4" cy="332.9" r="0.62" opacity="0.96"/>
<circle cx="257.8" cy="330.3" r="0.52" opacity="0.93"/>
<circle cx="259.4" cy="298.7" r="0.61" opacity="0.78"/>
<circle cx="255.3" cy="312.4" r="0.49" opacity="0.72"/>
<circle cx="259.7" cy="337.5" r="0.54" opacity="0.98"/>
<circle cx="256.7" cy="307.4" r="0.50" opacity="0.99"/>
<circle cx="257.8" cy="321.5" r="0.57" opacity="0.99"/>
<circle cx="255.2" cy="340.9" r="0.62" opacity="1.00"/>
<circle cx="254.4" cy="318.8" r="0.52" opacity="0.81"/>
<circle cx="254.4" cy="299.7" r="0.59" opacity="0.91"/>
<circle cx="260.4" cy="343.3" r="0.49" opacity="0.74"/>
<circle cx="256.1" cy="303.9" r="0.56" opacity="0.93"/>
<circle cx="255.8" cy="309.1" r="0.50" opacity="0.84"/>
<circle cx="255.7" cy="337.5" r="0.50" opacity="0.90"/>
<circle cx="255.4" cy="293.2" r="0.49" opacity="0.98"/>
<circle cx="259.8" cy="292.8" r="0.50" opacity="0.83"/>
<circle cx="259.5" cy="281.9" r="0.57" opacity="0.84"/>
<circle cx="259.4" cy="340.4" r="0.55" opacity="0.89"/>
<circle cx="258.7" cy="329.1" r="0.56" opacity="0.74"/>
<circle cx="255.8" cy="324.8" r="0.54" opacity="0.75"/>
<circle cx="255.2" cy="322.3" r="0.55" opacity="0.80"/>
<circle cx="254.9" cy="339.9" r="0.62" opacity="0.72"/>
<circle cx="257.2" cy="334.7" r="0.52" opacity="0.78"/>
<circle cx="256.5" cy="338.0" r="0.62" opacity="1.00"/>
<circle cx="259.9" cy="318.9" r="0.49" opacity="0.92"/>
<circle cx="260.4" cy="322.4" r="0.48" opacity="0.94"/>
<circle cx="259.5" cy="329.4" r="0.55" opacity="0.76"/>
<circle cx="260.0" cy="329.3" r="0.51" opacity="0.87"/>
<circle cx="258.7" cy="317.9" r="0.51" opacity="0.72"/>
<circle cx="257.3" cy="298.3" r="0.52" opacity="0.76"/>
<circle cx="258.7" cy="300.2" r="0.59" opacity="0.87"/>
<circle cx="256.8" cy="301.8" r="0.58" opacity="0.72"/>
<circle cx="256.3" cy="319.3" r="0.60" opacity="0.96"/>
<circle cx="257.2" cy="282.9" r="0.60" opacity="0.78"/>
<circle cx="259.5" cy="326.8" r="0.53" opacity="0.75"/>
<circle cx="257.5" cy="331.1" r="0.54" opacity="0.85"/>
<circle cx="258.7" cy="330.8" r="0.59" opacity="0.96"/>
<circle cx="259.0" cy="333.3" r="0.49" opacity="0.96"/>
<circle cx="257.3" cy="342.0" r="0.55" opacity="0.86"/>
<circle cx="255.3" cy="324.7" r="0.49" opacity="0.78"/>
<circle cx="258.6" cy="323.0" r="0.51" opacity="0.71"/>
<circle cx="257.8" cy="328.7" r="0.55" opacity="0.91"/>
<circle cx="258.7" cy="285.2" r="0.49" opacity="0.74"/>
<circle cx="254.9" cy="340.4" r="0.54" opacity="0.74"/>
<circle cx="259.7" cy="330.0" r="0.50" opacity="0.87"/>
<circle cx="260.1" cy="313.4" r="0.53" opacity="0.83"/>
<circle cx="257.5" cy="298.9" r="0.54" opacity="0.98"/>
<circle cx="256.3" cy="335.4" r="0.54" opacity="0.99"/>
<circle cx="260.0" cy="319.7" r="0.59" opacity="0.95"/>
<circle cx="260.3" cy="302.2" r="0.61" opacity="0.77"/>
<circle cx="257.5" cy="338.5" r="0.49" opacity="0.83"/>
<circle cx="254.3" cy="339.2" r="0.50" opacity="0.99"/>
<circle cx="259.3" cy="306.0" r="0.60" opacity="0.97"/>
<circle cx="255.8" cy="296.8" r="0.57" opacity="0.78"/>
<circle cx="260.1" cy="337.3" r="0.57" opacity="0.78"/>
<circle cx="256.0" cy="353.2" r="0.52" opacity="0.89"/>
<circle cx="257.9" cy="312.7" r="0.61" opacity="0.85"/>
<circle cx="255.1" cy="344.6" r="0.50" opacity="0.74"/>
<circle cx="256.7" cy="326.0" r="0.52" opacity="0.77"/>
<circle cx="259.5" cy="301.0" r="0.57" opacity="0.87"/>
<circle cx="257.1" cy="322.4" r="0.56" opacity="0.88"/>
<circle cx="256.1" cy="301.4" r="0.51" opacity="0.77"/>
<circle cx="254.2" cy="342.3" r="0.53" opacity="0.96"/>
<circle cx="257.7" cy="314.8" r="0.55" opacity="0.79"/>
<circle cx="255.2" cy="336.6" r="0.49" opacity="0.96"/>
<circle cx="254.5" cy="297.8" r="0.53" opacity="0.83"/>
<circle cx="260.3" cy="321.1" r="0.58" opacity="0.75"/>
<circle cx="256.4" cy="322.8" r="0.57" opacity="0.88"/>
<circle cx="258.9" cy="321.6" r="0.58" opacity="0.93"/>
<circle cx="259.2" cy="343.4" r="0.58" opacity="0.97"/>
<circle cx="259.0" cy="329.0" r="0.56" opacity="0.85"/>
<circle cx="257.8" cy="331.0" r="0.54" opacity="0.94"/>
<circle cx="257.0" cy="339.9" r="0.54" opacity="0.92"/>
<circle cx="256.6" cy="338.1" r="0.56" opacity="0.82"/>
<circle cx="257.3" cy="322.9" r="0.54" opacity="0.76"/>
<circle cx="255.1" cy="350.6" r="0.56" opacity="0.87"/>
<circle cx="256.2" cy="282.4" r="0.60" opacity="0.95"/>
<circle cx="260.0" cy="325.4" r="0.48" opacity="0.71"/>
<circle cx="257.3" cy="312.4" r="0.61" opacity="0.93"/>
<circle cx="257.5" cy="308.2" r="0.58" opacity="0.82"/>
<circle cx="257.9" cy="330.2" r="0.53" opacity="0.98"/>
<circle cx="256.5" cy="336.1" r="0.54" opacity="0.87"/>
<circle cx="259.8" cy="331.0" r="0.62" opacity="0.85"/>
<circle cx="256.3" cy="354.0" r="0.55" opacity="0.94"/>
<circle cx="256.2" cy="354.0" r="0.62" opacity="0.95"/>
<circle cx="258.6" cy="298.3" r="0.59" opacity="1.00"/>
<circle cx="256.8" cy="304.8" r="0.50" opacity="0.79"/>
<circle cx="255.3" cy="338.5" r="0.57" opacity="0.88"/>
<circle cx="260.5" cy="330.3" r="0.57" opacity="0.71"/>
<circle cx="258.6" cy="326.9" r="0.48" opacity="0.79"/>
<circle cx="257.9" cy="340.7" r="0.57" opacity="0.76"/>
<circle cx="258.3" cy="339.7" r="0.55" opacity="1.00"/>
<circle cx="256.8" cy="333.6" r="0.50" opacity="0.75"/>
<circle cx="255.2" cy="324.4" r="0.55" opacity="0.95"/>
<circle cx="259.3" cy="325.6" r="0.49" opacity="0.70"/>
<circle cx="256.4" cy="339.2" r="0.50" opacity="0.78"/>
<circle cx="257.9" cy="283.3" r="0.53" opacity="0.83"/>
<circle cx="254.5" cy="303.3" r="0.60" opacity="0.87"/>
<circle cx="255.7" cy="345.4" r="0.49" opacity="0.98"/>
<circle cx="256.2" cy="321.7" r="0.61" opacity="0.94"/>
<circle cx="257.3" cy="351.7" r="0.61" opacity="0.77"/>
<circle cx="258.7" cy="347.6" r="0.51" opacity="0.79"/>
<circle cx="255.7" cy="349.6" r="0.50" opacity="0.81"/>
<circle cx="260.4" cy="327.4" r="0.52" opacity="0.87"/>
<circle cx="256.6" cy="301.5" r="0.54" opacity="0.72"/>
<circle cx="255.7" cy="323.3" r="0.51" opacity="0.79"/>
<circle cx="254.4" cy="340.6" r="0.57" opacity="0.80"/>
<circle cx="255.9" cy="331.7" r="0.60" opacity="0.74"/>
<circle cx="259.5" cy="335.8" r="0.59" opacity="0.75"/>
<circle cx="260.3" cy="332.4" r="0.51" opacity="0.99"/>
<circle cx="255.6" cy="342.0" r="0.54" opacity="0.74"/>
<circle cx="257.9" cy="332.1" r="0.53" opacity="0.77"/>
<circle cx="255.5" cy="284.3" r="0.60" opacity="0.74"/>
<circle cx="259.1" cy="339.9" r="0.53" opacity="0.90"/>
<circle cx="256.1" cy="333.0" r="0.53" opacity="0.73"/>
<circle cx="258.4" cy="321.6" r="0.50" opacity="0.87"/>
<circle cx="257.3" cy="339.3" r="0.52" opacity="0.72"/>
<circle cx="258.7" cy="328.8" r="0.52" opacity="0.82"/>
<circle cx="259.1" cy="321.8" r="0.60" opacity="0.96"/>
<circle cx="258.5" cy="330.6" r="0.57" opacity="0.81"/>
<circle cx="258.4" cy="326.3" r="0.58" opacity="0.77"/>
<circle cx="255.3" cy="340.8" r="0.50" opacity="0.97"/>
<circle cx="258.7" cy="309.9" r="0.49" opacity="0.71"/>
<circle cx="256.6" cy="325.8" r="0.49" opacity="0.79"/>
<circle cx="255.3" cy="316.4" r="0.60" opacity="0.87"/>
<circle cx="258.5" cy="330.4" r="0.53" opacity="0.70"/>
<circle cx="259.1" cy="311.2" r="0.52" opacity="0.71"/>
<circle cx="255.7" cy="333.4" r="0.50" opacity="0.94"/>
<circle cx="260.0" cy="332.8" r="0.58" opacity="0.73"/>
<circle cx="259.4" cy="345.5" r="0.52" opacity="0.73"/>
<circle cx="256.9" cy="312.0" r="0.61" opacity="0.91"/>
<circle cx="257.0" cy="318.8" r="0.49" opacity="0.91"/>
<circle cx="257.4" cy="344.8" r="0.61" opacity="0.74"/>
<circle cx="259.3" cy="301.5" r="0.52" opacity="0.86"/>
<circle cx="258.2" cy="323.3" r="0.56" opacity="0.77"/>
<circle cx="256.8" cy="308.0" r="0.51" opacity="0.79"/>
<circle cx="255.7" cy="335.5" r="0.51" opacity="0.85"/>
<circle cx="260.1" cy="346.8" r="0.53" opacity="0.79"/>
<circle cx="256.3" cy="316.4" r="0.59" opacity="0.86"/>
<circle cx="255.2" cy="312.6" r="0.57" opacity="0.88"/>
<circle cx="254.9" cy="327.1" r="0.52" opacity="0.81"/>
<circle cx="254.5" cy="350.5" r="0.52" opacity="0.76"/>
<circle cx="256.2" cy="336.3" r="0.55" opacity="0.81"/>
<circle cx="254.6" cy="327.6" r="0.48" opacity="1.00"/>
<circle cx="260.4" cy="304.5" r="0.56" opacity="0.73"/>
<circle cx="256.9" cy="316.5" r="0.51" opacity="0.86"/>
<circle cx="258.3" cy="282.4" r="0.57" opacity="0.98"/>
<circle cx="255.0" cy="330.1" r="0.48" opacity="0.93"/>
<circle cx="256.0" cy="317.5" r="0.51" opacity="0.89"/>
<circle cx="259.2" cy="321.2" r="0.60" opacity="0.92"/>
<circle cx="255.3" cy="333.8" r="0.60" opacity="0.80"/>
<circle cx="259.5" cy="341.5" r="0.51" opacity="0.71"/>
<circle cx="258.2" cy="334.2" r="0.59" opacity="0.91"/>
<circle cx="257.3" cy="310.5" r="0.50" opacity="0.79"/>
<circle cx="254.7" cy="335.4" r="0.58" opacity="0.75"/>
<circle cx="254.4" cy="323.3" r="0.54" opacity="0.76"/>
<circle cx="254.2" cy="331.2" r="0.60" opacity="0.96"/>
<circle cx="258.4" cy="339.5" r="0.55" opacity="0.83"/>
<circle cx="256.9" cy="324.2" r="0.57" opacity="0.95"/>
<circle cx="257.0" cy="323.2" r="0.56" opacity="0.80"/>
<circle cx="254.7" cy="318.1" r="0.53" opacity="0.84"/>
<circle cx="260.4" cy="296.9" r="0.61" opacity="0.89"/>
<circle cx="254.5" cy="343.4" r="0.57" opacity="0.88"/>
<circle cx="257.2" cy="353.1" r="0.57" opacity="0.79"/>
<circle cx="259.8" cy="343.2" r="0.48" opacity="0.76"/>
<circle cx="258.4" cy="335.5" r="0.53" opacity="0.87"/>
<circle cx="257.5" cy="327.9" r="0.56" opacity="0.82"/>
<circle cx="259.8" cy="312.8" r="0.56" opacity="0.73"/>
<circle cx="257.5" cy="330.1" r="0.52" opacity="0.85"/>
<circle cx="255.6" cy="322.9" r="0.56" opacity="0.73"/>
<circle cx="256.8" cy="334.8" r="0.49" opacity="0.83"/>
<circle cx="257.7" cy="333.0" r="0.58" opacity="0.93"/>
<circle cx="258.8" cy="278.3" r="0.49" opacity="0.95"/>
<circle cx="257.7" cy="308.2" r="0.59" opacity="0.74"/>
<circle cx="254.5" cy="281.4" r="0.51" opacity="0.81"/>
<circle cx="255.5" cy="298.9" r="0.52" opacity="0.91"/>
<circle cx="259.7" cy="311.2" r="0.56" opacity="0.98"/>
<circle cx="255.2" cy="341.4" r="0.58" opacity="0.80"/>
<circle cx="254.9" cy="340.2" r="0.53" opacity="0.92"/>
<circle cx="258.8" cy="349.0" r="0.49" opacity="0.88"/>
<circle cx="259.3" cy="300.9" r="0.50" opacity="0.98"/>
<circle cx="257.0" cy="330.3" r="0.60" opacity="0.87"/>
<circle cx="254.8" cy="315.2" r="0.59" opacity="0.76"/>
<circle cx="256.0" cy="319.2" r="0.58" opacity="0.81"/>
<circle cx="258.6" cy="315.0" r="0.59" opacity="0.98"/>
<circle cx="255.1" cy="308.5" r="0.55" opacity="0.96"/>
<circle cx="254.4" cy="341.2" r="0.51" opacity="0.95"/>
<circle cx="255.2" cy="341.3" r="0.60" opacity="0.82"/>
<circle cx="258.1" cy="318.2" r="0.49" opacity="0.80"/>
<circle cx="254.4" cy="311.6" r="0.50" opacity="0.81"/>
<circle cx="257.8" cy="340.6" r="0.53" opacity="0.81"/>
<circle cx="256.3" cy="299.6" r="0.48" opacity="0.84"/>
<circle cx="258.4" cy="321.3" r="0.52" opacity="0.78"/>
<circle cx="255.8" cy="327.6" r="0.56" opacity="0.86"/>
<circle cx="260.2" cy="267.0" r="0.5" opacity="0.95"/>
<circle cx="260.3" cy="273.4" r="0.5" opacity="0.95"/>
</g>
<path d="M264.5 287.9 V365.2" stroke="#2a2a2a" stroke-width="0.9" opacity="0.85"/>
<rect x="261.7" y="318.5" width="5.9" height="28.4" fill="#addfa6"/>
<g fill="#1a1a1a">
<circle cx="266.4" cy="306.4" r="0.60" opacity="0.93"/>
<circle cx="263.3" cy="344.1" r="0.59" opacity="0.96"/>
<circle cx="265.8" cy="345.1" r="0.52" opacity="0.93"/>
<circle cx="263.7" cy="352.5" r="0.56" opacity="0.82"/>
<circle cx="263.5" cy="313.1" r="0.62" opacity="0.84"/>
<circle cx="263.0" cy="336.5" r="0.51" opacity="0.80"/>
<circle cx="264.3" cy="333.7" r="0.56" opacity="0.79"/>
<circle cx="263.4" cy="320.5" r="0.58" opacity="0.87"/>
<circle cx="263.6" cy="329.3" r="0.61" opacity="0.88"/>
<circle cx="265.2" cy="316.5" r="0.62" opacity="0.81"/>
<circle cx="261.9" cy="355.8" r="0.55" opacity="0.97"/>
<circle cx="263.1" cy="318.2" r="0.48" opacity="0.75"/>
<circle cx="264.0" cy="338.3" r="0.51" opacity="0.88"/>
<circle cx="265.6" cy="344.7" r="0.51" opacity="0.92"/>
<circle cx="266.6" cy="340.1" r="0.60" opacity="0.80"/>
<circle cx="262.7" cy="338.9" r="0.56" opacity="0.96"/>
<circle cx="263.5" cy="324.0" r="0.58" opacity="0.89"/>
<circle cx="265.8" cy="340.1" r="0.53" opacity="0.72"/>
<circle cx="263.6" cy="306.3" r="0.55" opacity="0.88"/>
<circle cx="264.4" cy="328.3" r="0.48" opacity="0.98"/>
<circle cx="265.4" cy="329.4" r="0.58" opacity="0.80"/>
<circle cx="262.4" cy="316.9" r="0.59" opacity="0.73"/>
<circle cx="264.2" cy="335.6" r="0.56" opacity="0.88"/>
<circle cx="263.6" cy="345.6" r="0.58" opacity="0.78"/>
<circle cx="266.3" cy="349.8" r="0.59" opacity="0.79"/>
<circle cx="263.2" cy="313.1" r="0.55" opacity="0.98"/>
<circle cx="261.5" cy="337.6" r="0.55" opacity="0.90"/>
<circle cx="262.9" cy="356.9" r="0.59" opacity="0.73"/>
<circle cx="261.8" cy="317.3" r="0.55" opacity="0.87"/>
<circle cx="262.6" cy="340.8" r="0.58" opacity="0.98"/>
<circle cx="261.6" cy="327.7" r="0.59" opacity="0.77"/>
<circle cx="263.7" cy="352.5" r="0.59" opacity="0.84"/>
<circle cx="267.2" cy="335.1" r="0.50" opacity="0.92"/>
<circle cx="264.0" cy="303.3" r="0.60" opacity="0.72"/>
<circle cx="267.5" cy="356.4" r="0.57" opacity="0.77"/>
<circle cx="263.1" cy="310.2" r="0.54" opacity="0.77"/>
<circle cx="263.4" cy="333.9" r="0.62" opacity="0.76"/>
<circle cx="262.5" cy="352.6" r="0.60" opacity="0.96"/>
<circle cx="263.3" cy="334.9" r="0.53" opacity="0.85"/>
<circle cx="262.5" cy="356.1" r="0.58" opacity="0.88"/>
<circle cx="262.8" cy="355.8" r="0.60" opacity="0.81"/>
<circle cx="267.0" cy="348.3" r="0.51" opacity="0.96"/>
<circle cx="262.2" cy="336.3" r="0.62" opacity="0.70"/>
<circle cx="262.4" cy="331.6" r="0.58" opacity="0.73"/>
<circle cx="263.6" cy="338.0" r="0.61" opacity="0.91"/>
<circle cx="267.7" cy="341.1" r="0.48" opacity="0.77"/>
<circle cx="264.7" cy="336.8" r="0.51" opacity="0.83"/>
<circle cx="267.8" cy="318.4" r="0.52" opacity="0.96"/>
<circle cx="264.6" cy="339.2" r="0.50" opacity="0.83"/>
<circle cx="266.2" cy="338.7" r="0.55" opacity="0.73"/>
<circle cx="264.6" cy="342.7" r="0.61" opacity="0.80"/>
<circle cx="263.2" cy="341.4" r="0.50" opacity="0.78"/>
<circle cx="264.7" cy="318.3" r="0.54" opacity="0.87"/>
<circle cx="265.6" cy="301.1" r="0.56" opacity="0.86"/>
<circle cx="267.7" cy="333.6" r="0.60" opacity="0.92"/>
<circle cx="267.7" cy="341.6" r="0.53" opacity="0.82"/>
<circle cx="262.4" cy="316.6" r="0.62" opacity="0.70"/>
<circle cx="265.4" cy="322.5" r="0.53" opacity="0.77"/>
<circle cx="262.2" cy="340.4" r="0.60" opacity="0.94"/>
<circle cx="263.5" cy="302.9" r="0.57" opacity="0.86"/>
<circle cx="267.7" cy="326.9" r="0.48" opacity="0.92"/>
<circle cx="267.8" cy="351.8" r="0.51" opacity="0.89"/>
<circle cx="263.9" cy="336.6" r="0.58" opacity="0.82"/>
<circle cx="263.5" cy="349.9" r="0.57" opacity="0.86"/>
<circle cx="265.4" cy="348.2" r="0.52" opacity="0.97"/>
<circle cx="264.5" cy="338.5" r="0.51" opacity="0.74"/>
<circle cx="264.8" cy="350.4" r="0.55" opacity="0.86"/>
<circle cx="266.7" cy="334.5" r="0.54" opacity="0.89"/>
<circle cx="267.2" cy="324.0" r="0.60" opacity="0.71"/>
<circle cx="262.2" cy="317.4" r="0.50" opacity="0.78"/>
<circle cx="266.6" cy="312.6" r="0.55" opacity="0.84"/>
<circle cx="267.8" cy="311.6" r="0.58" opacity="0.83"/>
<circle cx="266.6" cy="354.1" r="0.59" opacity="0.74"/>
<circle cx="263.0" cy="346.3" r="0.53" opacity="0.80"/>
<circle cx="261.6" cy="317.7" r="0.51" opacity="0.87"/>
<circle cx="266.0" cy="316.6" r="0.52" opacity="0.80"/>
<circle cx="265.5" cy="331.5" r="0.60" opacity="0.76"/>
<circle cx="266.5" cy="340.9" r="0.57" opacity="0.81"/>
<circle cx="263.8" cy="310.2" r="0.58" opacity="0.79"/>
<circle cx="263.7" cy="349.3" r="0.53" opacity="0.87"/>
<circle cx="262.7" cy="352.9" r="0.62" opacity="0.91"/>
<circle cx="261.9" cy="341.9" r="0.59" opacity="0.81"/>
<circle cx="264.6" cy="345.9" r="0.61" opacity="0.93"/>
<circle cx="264.4" cy="305.2" r="0.54" opacity="0.95"/>
<circle cx="264.3" cy="357.7" r="0.55" opacity="0.85"/>
<circle cx="265.7" cy="329.2" r="0.58" opacity="0.82"/>
<circle cx="265.0" cy="302.0" r="0.59" opacity="0.93"/>
<circle cx="261.9" cy="315.8" r="0.59" opacity="0.73"/>
<circle cx="265.1" cy="299.1" r="0.49" opacity="0.90"/>
<circle cx="265.9" cy="340.2" r="0.54" opacity="0.88"/>
<circle cx="266.7" cy="334.6" r="0.60" opacity="0.74"/>
<circle cx="267.8" cy="336.9" r="0.52" opacity="0.78"/>
<circle cx="263.1" cy="335.4" r="0.60" opacity="0.87"/>
<circle cx="263.4" cy="339.5" r="0.60" opacity="0.94"/>
<circle cx="263.1" cy="332.6" r="0.51" opacity="0.72"/>
<circle cx="264.6" cy="346.0" r="0.56" opacity="0.81"/>
<circle cx="262.7" cy="320.1" r="0.61" opacity="0.87"/>
<circle cx="264.9" cy="313.7" r="0.54" opacity="0.87"/>
<circle cx="263.3" cy="339.2" r="0.58" opacity="0.94"/>
<circle cx="264.4" cy="293.5" r="0.61" opacity="0.83"/>
<circle cx="265.5" cy="315.4" r="0.49" opacity="0.96"/>
<circle cx="262.6" cy="305.1" r="0.61" opacity="0.87"/>
<circle cx="264.6" cy="328.6" r="0.57" opacity="0.90"/>
<circle cx="262.4" cy="327.0" r="0.61" opacity="0.76"/>
<circle cx="266.5" cy="317.8" r="0.61" opacity="0.82"/>
<circle cx="263.1" cy="290.5" r="0.61" opacity="0.91"/>
<circle cx="261.7" cy="303.4" r="0.60" opacity="0.79"/>
<circle cx="265.2" cy="325.5" r="0.52" opacity="0.87"/>
<circle cx="266.8" cy="321.0" r="0.50" opacity="0.94"/>
<circle cx="264.0" cy="342.0" r="0.48" opacity="0.81"/>
<circle cx="262.0" cy="331.7" r="0.55" opacity="0.92"/>
<circle cx="265.8" cy="309.2" r="0.50" opacity="0.95"/>
<circle cx="264.8" cy="353.6" r="0.52" opacity="0.80"/>
<circle cx="262.0" cy="359.2" r="0.55" opacity="0.96"/>
<circle cx="264.9" cy="334.4" r="0.49" opacity="0.74"/>
<circle cx="262.9" cy="301.5" r="0.61" opacity="0.71"/>
<circle cx="267.6" cy="350.5" r="0.53" opacity="0.98"/>
<circle cx="264.3" cy="318.7" r="0.51" opacity="0.92"/>
<circle cx="266.5" cy="330.5" r="0.52" opacity="0.72"/>
<circle cx="266.5" cy="314.2" r="0.56" opacity="0.84"/>
<circle cx="262.1" cy="308.0" r="0.57" opacity="0.74"/>
<circle cx="263.7" cy="321.8" r="0.53" opacity="0.90"/>
<circle cx="263.6" cy="311.5" r="0.60" opacity="0.96"/>
<circle cx="262.2" cy="295.4" r="0.55" opacity="0.86"/>
<circle cx="262.5" cy="309.4" r="0.55" opacity="0.85"/>
<circle cx="262.7" cy="311.7" r="0.54" opacity="0.76"/>
<circle cx="264.7" cy="333.1" r="0.60" opacity="0.70"/>
<circle cx="265.9" cy="329.5" r="0.51" opacity="0.93"/>
<circle cx="263.1" cy="351.0" r="0.48" opacity="0.82"/>
<circle cx="262.0" cy="343.1" r="0.56" opacity="0.77"/>
<circle cx="263.0" cy="336.6" r="0.56" opacity="0.99"/>
<circle cx="265.9" cy="304.3" r="0.59" opacity="0.80"/>
<circle cx="264.4" cy="340.4" r="0.61" opacity="0.70"/>
<circle cx="262.0" cy="347.0" r="0.51" opacity="0.92"/>
<circle cx="262.4" cy="325.5" r="0.53" opacity="0.74"/>
<circle cx="267.7" cy="332.4" r="0.62" opacity="0.94"/>
<circle cx="264.6" cy="318.1" r="0.59" opacity="0.97"/>
<circle cx="265.5" cy="341.6" r="0.60" opacity="0.94"/>
<circle cx="263.7" cy="300.5" r="0.50" opacity="0.99"/>
<circle cx="266.2" cy="342.5" r="0.50" opacity="0.95"/>
<circle cx="266.8" cy="305.7" r="0.59" opacity="0.88"/>
<circle cx="266.7" cy="347.7" r="0.59" opacity="0.96"/>
<circle cx="267.5" cy="310.4" r="0.50" opacity="0.99"/>
<circle cx="263.1" cy="339.8" r="0.60" opacity="0.77"/>
<circle cx="264.6" cy="345.1" r="0.61" opacity="0.91"/>
<circle cx="264.0" cy="332.0" r="0.59" opacity="0.94"/>
<circle cx="264.0" cy="294.1" r="0.49" opacity="0.90"/>
<circle cx="263.6" cy="344.6" r="0.56" opacity="0.95"/>
<circle cx="261.6" cy="311.3" r="0.50" opacity="0.94"/>
<circle cx="265.3" cy="334.7" r="0.54" opacity="0.80"/>
<circle cx="265.4" cy="350.2" r="0.52" opacity="0.73"/>
<circle cx="265.9" cy="300.8" r="0.54" opacity="0.90"/>
<circle cx="261.7" cy="312.8" r="0.60" opacity="0.76"/>
<circle cx="267.6" cy="314.3" r="0.53" opacity="0.77"/>
<circle cx="264.0" cy="354.3" r="0.55" opacity="0.99"/>
<circle cx="267.8" cy="351.9" r="0.51" opacity="0.95"/>
<circle cx="262.6" cy="335.6" r="0.61" opacity="0.84"/>
<circle cx="263.1" cy="335.3" r="0.53" opacity="0.73"/>
<circle cx="263.9" cy="320.5" r="0.61" opacity="0.97"/>
<circle cx="261.9" cy="347.5" r="0.57" opacity="0.83"/>
<circle cx="265.5" cy="347.9" r="0.53" opacity="0.86"/>
<circle cx="267.3" cy="312.3" r="0.55" opacity="0.81"/>
<circle cx="265.8" cy="293.1" r="0.56" opacity="0.83"/>
<circle cx="267.2" cy="322.9" r="0.58" opacity="0.92"/>
<circle cx="262.3" cy="313.4" r="0.61" opacity="0.97"/>
<circle cx="261.7" cy="349.6" r="0.53" opacity="0.92"/>
<circle cx="263.2" cy="344.8" r="0.59" opacity="0.79"/>
<circle cx="265.6" cy="359.9" r="0.59" opacity="0.90"/>
<circle cx="267.6" cy="307.0" r="0.58" opacity="0.91"/>
<circle cx="266.7" cy="322.4" r="0.59" opacity="0.80"/>
<circle cx="264.8" cy="312.5" r="0.60" opacity="0.75"/>
<circle cx="261.8" cy="328.0" r="0.52" opacity="0.81"/>
<circle cx="267.6" cy="320.9" r="0.51" opacity="0.79"/>
<circle cx="264.3" cy="330.3" r="0.50" opacity="0.78"/>
<circle cx="263.9" cy="319.3" r="0.61" opacity="0.78"/>
<circle cx="266.8" cy="317.2" r="0.57" opacity="0.93"/>
<circle cx="262.4" cy="343.7" r="0.59" opacity="0.84"/>
<circle cx="263.2" cy="346.2" r="0.53" opacity="0.98"/>
<circle cx="263.3" cy="352.9" r="0.57" opacity="0.78"/>
<circle cx="265.1" cy="292.0" r="0.53" opacity="0.98"/>
<circle cx="263.0" cy="326.7" r="0.49" opacity="0.86"/>
<circle cx="266.6" cy="341.8" r="0.50" opacity="0.79"/>
<circle cx="267.6" cy="347.6" r="0.57" opacity="0.91"/>
<circle cx="266.2" cy="356.2" r="0.53" opacity="0.82"/>
<circle cx="263.7" cy="303.0" r="0.51" opacity="0.96"/>
<circle cx="267.2" cy="353.0" r="0.50" opacity="0.80"/>
<circle cx="264.7" cy="311.1" r="0.60" opacity="0.90"/>
<circle cx="264.0" cy="338.3" r="0.56" opacity="0.78"/>
<circle cx="262.4" cy="327.1" r="0.57" opacity="0.93"/>
<circle cx="267.2" cy="356.1" r="0.61" opacity="0.92"/>
<circle cx="262.3" cy="350.6" r="0.58" opacity="0.91"/>
<circle cx="263.2" cy="354.5" r="0.49" opacity="0.88"/>
<circle cx="262.9" cy="336.8" r="0.49" opacity="0.90"/>
<circle cx="266.6" cy="322.5" r="0.53" opacity="0.91"/>
<circle cx="263.5" cy="295.4" r="0.48" opacity="0.89"/>
<circle cx="264.3" cy="336.1" r="0.56" opacity="0.94"/>
<circle cx="262.2" cy="295.9" r="0.51" opacity="0.89"/>
<circle cx="263.6" cy="329.3" r="0.56" opacity="0.77"/>
<circle cx="266.6" cy="326.5" r="0.56" opacity="0.71"/>
<circle cx="261.6" cy="290.6" r="0.55" opacity="0.83"/>
<circle cx="266.1" cy="303.9" r="0.56" opacity="0.82"/>
<circle cx="267.0" cy="343.9" r="0.62" opacity="0.94"/>
<circle cx="263.6" cy="340.9" r="0.62" opacity="0.72"/>
<circle cx="265.8" cy="321.4" r="0.58" opacity="0.84"/>
<circle cx="262.7" cy="319.5" r="0.54" opacity="0.78"/>
<circle cx="263.2" cy="260.0" r="0.5" opacity="0.95"/>
<circle cx="266.2" cy="260.5" r="0.5" opacity="0.95"/>
<circle cx="265.0" cy="276.6" r="0.5" opacity="0.95"/>
</g>
<path d="M274.5 311.0 V372.7" stroke="#2a2a2a" stroke-width="0.9" opacity="0.85"/>
<rect x="271.4" y="333.5" width="5.9" height="19.3" fill="#86d283"/>
<g fill="#1a1a1a">
<circle cx="272.5" cy="338.6" r="0.52" opacity="0.87"/>
<circle cx="277.4" cy="323.1" r="0.58" opacity="0.98"/>
<circle cx="271.6" cy="347.6" r="0.51" opacity="0.70"/>
<circle cx="275.8" cy="357.8" r="0.57" opacity="0.78"/>
<circle cx="277.5" cy="335.5" r="0.52" opacity="0.71"/>
<circle cx="273.5" cy="327.9" r="0.61" opacity="0.94"/>
<circle cx="272.2" cy="340.2" r="0.59" opacity="0.84"/>
<circle cx="277.0" cy="341.4" r="0.59" opacity="0.84"/>
<circle cx="274.8" cy="340.8" r="0.55" opacity="0.76"/>
<circle cx="271.3" cy="340.7" r="0.61" opacity="0.91"/>
<circle cx="275.9" cy="330.4" r="0.53" opacity="0.94"/>
<circle cx="272.1" cy="346.1" r="0.48" opacity="0.76"/>
<circle cx="276.5" cy="345.8" r="0.59" opacity="0.84"/>
<circle cx="274.6" cy="314.8" r="0.49" opacity="0.80"/>
<circle cx="276.9" cy="343.7" r="0.55" opacity="0.89"/>
<circle cx="273.6" cy="343.7" r="0.49" opacity="0.88"/>
<circle cx="275.3" cy="355.9" r="0.58" opacity="0.83"/>
<circle cx="271.5" cy="320.1" r="0.55" opacity="0.82"/>
<circle cx="275.8" cy="340.5" r="0.51" opacity="0.89"/>
<circle cx="277.0" cy="350.1" r="0.56" opacity="0.72"/>
<circle cx="277.5" cy="343.6" r="0.51" opacity="0.82"/>
<circle cx="275.9" cy="336.9" r="0.49" opacity="0.73"/>
<circle cx="276.3" cy="355.8" r="0.49" opacity="0.71"/>
<circle cx="275.5" cy="336.8" r="0.61" opacity="0.89"/>
<circle cx="272.9" cy="347.8" r="0.50" opacity="0.71"/>
<circle cx="272.4" cy="320.1" r="0.59" opacity="0.75"/>
<circle cx="276.9" cy="324.9" r="0.61" opacity="0.70"/>
<circle cx="274.8" cy="330.1" r="0.59" opacity="0.85"/>
<circle cx="271.7" cy="357.2" r="0.49" opacity="0.86"/>
<circle cx="273.7" cy="353.9" r="0.48" opacity="0.92"/>
<circle cx="276.4" cy="316.8" r="0.54" opacity="0.74"/>
<circle cx="271.9" cy="341.5" r="0.62" opacity="0.86"/>
<circle cx="271.8" cy="331.1" r="0.58" opacity="0.95"/>
<circle cx="273.1" cy="334.9" r="0.59" opacity="0.74"/>
<circle cx="277.5" cy="337.8" r="0.59" opacity="0.70"/>
<circle cx="275.6" cy="332.8" r="0.56" opacity="0.86"/>
<circle cx="275.3" cy="355.0" r="0.61" opacity="0.92"/>
<circle cx="277.0" cy="335.2" r="0.60" opacity="0.92"/>
<circle cx="276.6" cy="321.3" r="0.54" opacity="0.96"/>
<circle cx="275.7" cy="331.3" r="0.52" opacity="0.79"/>
<circle cx="273.3" cy="348.6" r="0.49" opacity="0.83"/>
<circle cx="276.1" cy="356.1" r="0.60" opacity="1.00"/>
<circle cx="272.9" cy="359.7" r="0.51" opacity="0.82"/>
<circle cx="276.9" cy="331.4" r="0.61" opacity="0.80"/>
<circle cx="276.3" cy="340.9" r="0.55" opacity="0.73"/>
<circle cx="273.2" cy="360.6" r="0.57" opacity="0.81"/>
<circle cx="274.6" cy="337.6" r="0.57" opacity="0.86"/>
<circle cx="273.8" cy="346.1" r="0.61" opacity="0.91"/>
<circle cx="273.0" cy="337.6" r="0.61" opacity="0.70"/>
<circle cx="275.8" cy="340.4" r="0.62" opacity="0.75"/>
<circle cx="276.0" cy="350.5" r="0.59" opacity="0.77"/>
<circle cx="271.4" cy="356.8" r="0.58" opacity="0.76"/>
<circle cx="275.0" cy="324.6" r="0.57" opacity="0.88"/>
<circle cx="273.1" cy="348.0" r="0.49" opacity="0.72"/>
<circle cx="272.1" cy="329.1" r="0.50" opacity="0.85"/>
<circle cx="276.1" cy="347.9" r="0.50" opacity="0.73"/>
<circle cx="273.8" cy="351.8" r="0.58" opacity="0.83"/>
<circle cx="273.4" cy="314.0" r="0.60" opacity="0.71"/>
<circle cx="272.6" cy="326.3" r="0.60" opacity="0.94"/>
<circle cx="272.4" cy="345.0" r="0.61" opacity="0.75"/>
<circle cx="275.0" cy="343.2" r="0.57" opacity="0.75"/>
<circle cx="275.4" cy="320.1" r="0.56" opacity="0.77"/>
<circle cx="276.7" cy="333.5" r="0.50" opacity="0.99"/>
<circle cx="276.2" cy="345.7" r="0.52" opacity="0.81"/>
<circle cx="271.9" cy="350.1" r="0.51" opacity="0.94"/>
<circle cx="272.6" cy="355.7" r="0.51" opacity="0.77"/>
<circle cx="273.5" cy="328.8" r="0.57" opacity="0.84"/>
<circle cx="276.5" cy="324.5" r="0.51" opacity="0.71"/>
<circle cx="271.9" cy="339.2" r="0.54" opacity="0.91"/>
<circle cx="274.3" cy="332.8" r="0.50" opacity="0.77"/>
<circle cx="273.5" cy="341.5" r="0.55" opacity="0.98"/>
<circle cx="271.7" cy="341.8" r="0.51" opacity="0.92"/>
<circle cx="276.7" cy="317.5" r="0.50" opacity="0.98"/>
<circle cx="272.7" cy="359.5" r="0.50" opacity="0.96"/>
<circle cx="277.1" cy="336.2" r="0.54" opacity="0.92"/>
<circle cx="273.2" cy="327.2" r="0.51" opacity="0.90"/>
<circle cx="272.0" cy="340.1" r="0.62" opacity="0.84"/>
<circle cx="274.5" cy="323.6" r="0.48" opacity="0.84"/>
<circle cx="274.6" cy="343.6" r="0.51" opacity="0.85"/>
<circle cx="276.3" cy="348.1" r="0.61" opacity="0.92"/>
<circle cx="273.5" cy="349.3" r="0.61" opacity="0.75"/>
<circle cx="271.7" cy="358.9" r="0.51" opacity="0.71"/>
<circle cx="272.1" cy="355.6" r="0.51" opacity="0.92"/>
<circle cx="275.5" cy="332.4" r="0.48" opacity="0.98"/>
<circle cx="274.2" cy="348.6" r="0.55" opacity="0.98"/>
<circle cx="272.6" cy="324.7" r="0.60" opacity="0.76"/>
<circle cx="274.1" cy="345.5" r="0.51" opacity="0.99"/>
<circle cx="275.5" cy="352.0" r="0.48" opacity="0.81"/>
<circle cx="276.5" cy="338.6" r="0.48" opacity="0.88"/>
<circle cx="275.7" cy="355.6" r="0.50" opacity="0.77"/>
<circle cx="277.3" cy="340.4" r="0.50" opacity="0.74"/>
<circle cx="271.6" cy="359.2" r="0.51" opacity="0.75"/>
<circle cx="274.1" cy="354.0" r="0.54" opacity="0.97"/>
<circle cx="272.9" cy="320.7" r="0.61" opacity="0.82"/>
<circle cx="271.9" cy="314.0" r="0.48" opacity="0.79"/>
<circle cx="277.4" cy="359.8" r="0.60" opacity="0.83"/>
<circle cx="275.4" cy="330.5" r="0.55" opacity="0.73"/>
<circle cx="275.4" cy="357.2" r="0.56" opacity="0.94"/>
<circle cx="271.7" cy="336.8" r="0.61" opacity="0.87"/>
<circle cx="275.6" cy="346.3" r="0.52" opacity="0.77"/>
<circle cx="271.7" cy="357.3" r="0.58" opacity="0.89"/>
<circle cx="275.5" cy="347.1" r="0.59" opacity="0.70"/>
<circle cx="275.3" cy="351.4" r="0.51" opacity="0.99"/>
<circle cx="272.7" cy="356.8" r="0.54" opacity="0.99"/>
<circle cx="277.0" cy="361.0" r="0.51" opacity="0.92"/>
<circle cx="275.4" cy="324.9" r="0.59" opacity="0.74"/>
<circle cx="271.4" cy="342.8" r="0.50" opacity="0.82"/>
<circle cx="271.7" cy="335.0" r="0.56" opacity="0.98"/>
<circle cx="274.0" cy="353.6" r="0.50" opacity="0.84"/>
<circle cx="272.2" cy="321.5" r="0.53" opacity="0.99"/>
<circle cx="276.5" cy="327.6" r="0.57" opacity="0.89"/>
<circle cx="276.1" cy="336.7" r="0.52" opacity="0.78"/>
<circle cx="275.0" cy="346.2" r="0.60" opacity="0.96"/>
<circle cx="274.6" cy="344.1" r="0.58" opacity="0.78"/>
<circle cx="272.3" cy="333.5" r="0.58" opacity="0.70"/>
<circle cx="272.9" cy="342.8" r="0.58" opacity="1.00"/>
<circle cx="277.2" cy="332.8" r="0.62" opacity="0.74"/>
<circle cx="273.9" cy="352.9" r="0.55" opacity="0.78"/>
<circle cx="272.2" cy="333.1" r="0.49" opacity="0.89"/>
<circle cx="272.9" cy="346.0" r="0.59" opacity="0.92"/>
<circle cx="277.1" cy="351.0" r="0.56" opacity="0.72"/>
<circle cx="275.6" cy="344.3" r="0.53" opacity="0.92"/>
<circle cx="271.8" cy="338.3" r="0.56" opacity="0.76"/>
<circle cx="276.3" cy="358.7" r="0.59" opacity="0.77"/>
<circle cx="274.8" cy="321.8" r="0.50" opacity="0.76"/>
<circle cx="272.7" cy="329.7" r="0.52" opacity="0.83"/>
<circle cx="275.8" cy="333.2" r="0.48" opacity="0.92"/>
<circle cx="275.6" cy="348.4" r="0.57" opacity="0.97"/>
<circle cx="273.2" cy="324.9" r="0.57" opacity="0.78"/>
<circle cx="276.5" cy="341.8" r="0.58" opacity="0.99"/>
<circle cx="273.2" cy="318.7" r="0.52" opacity="0.92"/>
<circle cx="271.8" cy="323.3" r="0.49" opacity="0.85"/>
<circle cx="274.1" cy="315.3" r="0.51" opacity="0.74"/>
<circle cx="274.5" cy="352.7" r="0.53" opacity="0.91"/>
<circle cx="271.6" cy="343.9" r="0.53" opacity="0.85"/>
<circle cx="275.5" cy="349.4" r="0.51" opacity="0.80"/>
<circle cx="273.6" cy="348.8" r="0.54" opacity="0.98"/>
<circle cx="275.2" cy="358.4" r="0.49" opacity="0.84"/>
<circle cx="277.5" cy="345.3" r="0.61" opacity="0.74"/>
<circle cx="275.2" cy="341.6" r="0.52" opacity="0.72"/>
<circle cx="271.7" cy="343.1" r="0.54" opacity="0.73"/>
<circle cx="271.5" cy="354.4" r="0.52" opacity="0.93"/>
<circle cx="272.2" cy="341.2" r="0.55" opacity="0.95"/>
<circle cx="272.3" cy="342.0" r="0.59" opacity="0.83"/>
<circle cx="277.4" cy="338.2" r="0.50" opacity="0.78"/>
<circle cx="276.9" cy="338.4" r="0.61" opacity="0.84"/>
<circle cx="274.2" cy="351.1" r="0.58" opacity="0.92"/>
<circle cx="272.4" cy="349.7" r="0.61" opacity="0.73"/>
<circle cx="272.8" cy="348.8" r="0.55" opacity="1.00"/>
<circle cx="276.7" cy="336.8" r="0.52" opacity="0.75"/>
<circle cx="273.9" cy="348.3" r="0.60" opacity="0.96"/>
<circle cx="271.3" cy="338.1" r="0.59" opacity="0.88"/>
<circle cx="276.6" cy="333.8" r="0.59" opacity="0.78"/>
<circle cx="273.6" cy="347.5" r="0.53" opacity="0.81"/>
<circle cx="277.0" cy="331.4" r="0.54" opacity="0.89"/>
<circle cx="277.1" cy="344.4" r="0.59" opacity="1.00"/>
<circle cx="276.0" cy="351.9" r="0.59" opacity="0.78"/>
<circle cx="272.0" cy="356.7" r="0.56" opacity="0.80"/>
<circle cx="273.4" cy="326.3" r="0.60" opacity="0.95"/>
<circle cx="276.0" cy="322.4" r="0.57" opacity="0.90"/>
<circle cx="274.7" cy="315.5" r="0.54" opacity="0.80"/>
<circle cx="276.2" cy="316.4" r="0.60" opacity="0.76"/>
<circle cx="273.3" cy="344.7" r="0.48" opacity="0.94"/>
<circle cx="271.6" cy="339.2" r="0.49" opacity="0.92"/>
<circle cx="276.3" cy="353.8" r="0.61" opacity="0.79"/>
<circle cx="276.9" cy="342.0" r="0.55" opacity="0.97"/>
<circle cx="274.9" cy="352.0" r="0.49" opacity="0.88"/>
<circle cx="274.5" cy="314.8" r="0.55" opacity="0.82"/>
<circle cx="273.5" cy="348.3" r="0.53" opacity="0.99"/>
<circle cx="272.0" cy="350.5" r="0.61" opacity="0.71"/>
<circle cx="273.9" cy="357.0" r="0.49" opacity="0.86"/>
<circle cx="276.2" cy="336.6" r="0.53" opacity="0.77"/>
<circle cx="276.8" cy="342.1" r="0.62" opacity="0.83"/>
<circle cx="275.7" cy="351.2" r="0.61" opacity="0.76"/>
<circle cx="272.4" cy="352.1" r="0.56" opacity="0.85"/>
<circle cx="272.1" cy="324.1" r="0.61" opacity="1.00"/>
<circle cx="277.0" cy="342.7" r="0.56" opacity="0.93"/>
<circle cx="273.5" cy="350.7" r="0.61" opacity="0.76"/>
<circle cx="276.9" cy="326.0" r="0.61" opacity="0.99"/>
<circle cx="272.1" cy="328.7" r="0.57" opacity="0.94"/>
<circle cx="275.0" cy="350.0" r="0.52" opacity="0.78"/>
<circle cx="271.8" cy="354.8" r="0.48" opacity="0.80"/>
<circle cx="276.0" cy="345.7" r="0.51" opacity="0.78"/>
<circle cx="277.0" cy="337.2" r="0.51" opacity="0.88"/>
<circle cx="276.0" cy="327.9" r="0.58" opacity="0.91"/>
<circle cx="271.5" cy="328.1" r="0.61" opacity="0.83"/>
<circle cx="276.3" cy="333.2" r="0.57" opacity="0.74"/>
<circle cx="275.3" cy="359.9" r="0.62" opacity="0.80"/>
<circle cx="272.2" cy="344.5" r="0.54" opacity="0.89"/>
<circle cx="272.2" cy="336.4" r="0.51" opacity="0.73"/>
<circle cx="272.4" cy="349.5" r="0.55" opacity="0.83"/>
<circle cx="274.3" cy="330.1" r="0.61" opacity="0.84"/>
<circle cx="272.3" cy="349.4" r="0.49" opacity="0.91"/>
<circle cx="273.8" cy="347.9" r="0.53" opacity="0.83"/>
<circle cx="272.2" cy="348.4" r="0.60" opacity="0.87"/>
<circle cx="275.9" cy="316.2" r="0.53" opacity="0.89"/>
<circle cx="273.8" cy="353.3" r="0.54" opacity="0.79"/>
<circle cx="277.3" cy="352.7" r="0.50" opacity="0.81"/>
<circle cx="276.3" cy="356.6" r="0.56" opacity="0.90"/>
<circle cx="273.8" cy="328.3" r="0.51" opacity="0.73"/>
<circle cx="276.3" cy="349.1" r="0.48" opacity="0.80"/>
<circle cx="276.9" cy="353.5" r="0.53" opacity="0.86"/>
<circle cx="275.3" cy="344.4" r="0.55" opacity="0.80"/>
<circle cx="272.9" cy="356.4" r="0.53" opacity="0.82"/>
<circle cx="277.0" cy="354.7" r="0.56" opacity="0.78"/>
<circle cx="273.7" cy="303.5" r="0.5" opacity="0.95"/>
<circle cx="276.4" cy="302.4" r="0.5" opacity="0.95"/>
</g>
<path d="M281.5 305.6 V371.4" stroke="#2a2a2a" stroke-width="0.9" opacity="0.85"/>
<rect x="278.8" y="333.5" width="5.9" height="20.4" fill="#58c557"/>
<g fill="#1a1a1a">
<circle cx="279.7" cy="346.3" r="0.49" opacity="0.94"/>
<circle cx="280.0" cy="347.6" r="0.49" opacity="0.78"/>
<circle cx="284.6" cy="349.8" r="0.56" opacity="0.98"/>
<circle cx="281.3" cy="308.9" r="0.51" opacity="0.92"/>
<circle cx="281.0" cy="362.1" r="0.49" opacity="0.96"/>
<circle cx="278.7" cy="362.6" r="0.49" opacity="0.74"/>
<circle cx="282.5" cy="317.4" r="0.50" opacity="0.75"/>
<circle cx="282.4" cy="358.9" r="0.57" opacity="0.99"/>
<circle cx="281.0" cy="330.2" r="0.52" opacity="0.77"/>
<circle cx="284.9" cy="347.0" r="0.58" opacity="0.75"/>
<circle cx="283.2" cy="338.6" r="0.49" opacity="0.86"/>
<circle cx="278.7" cy="335.2" r="0.54" opacity="0.94"/>
<circle cx="282.3" cy="361.2" r="0.53" opacity="0.82"/>
<circle cx="284.0" cy="337.4" r="0.61" opacity="0.87"/>
<circle cx="282.9" cy="339.8" r="0.48" opacity="0.94"/>
<circle cx="281.8" cy="333.3" r="0.48" opacity="0.94"/>
<circle cx="283.2" cy="351.9" r="0.54" opacity="0.99"/>
<circle cx="284.4" cy="356.0" r="0.57" opacity="0.79"/>
<circle cx="283.6" cy="348.3" r="0.59" opacity="0.95"/>
<circle cx="282.9" cy="306.1" r="0.52" opacity="0.93"/>
<circle cx="284.0" cy="350.2" r="0.55" opacity="0.78"/>
<circle cx="279.0" cy="349.5" r="0.61" opacity="0.93"/>
<circle cx="284.3" cy="344.4" r="0.56" opacity="0.83"/>
<circle cx="279.1" cy="357.2" r="0.59" opacity="0.73"/>
<circle cx="281.3" cy="321.1" r="0.58" opacity="0.78"/>
<circle cx="282.7" cy="325.2" r="0.49" opacity="0.85"/>
<circle cx="280.3" cy="341.5" r="0.53" opacity="0.98"/>
<circle cx="284.9" cy="323.3" r="0.54" opacity="0.87"/>
<circle cx="284.0" cy="344.8" r="0.54" opacity="0.99"/>
<circle cx="279.3" cy="355.8" r="0.58" opacity="0.74"/>
<circle cx="283.2" cy="331.5" r="0.50" opacity="0.89"/>
<circle cx="278.7" cy="345.3" r="0.55" opacity="0.73"/>
<circle cx="284.2" cy="314.1" r="0.48" opacity="0.84"/>
<circle cx="280.7" cy="348.9" r="0.61" opacity="0.76"/>
<circle cx="283.7" cy="359.0" r="0.50" opacity="0.76"/>
<circle cx="284.5" cy="348.8" r="0.55" opacity="0.94"/>
<circle cx="284.3" cy="338.9" r="0.51" opacity="0.97"/>
<circle cx="282.5" cy="317.6" r="0.55" opacity="0.96"/>
<circle cx="279.1" cy="348.8" r="0.61" opacity="0.94"/>
<circle cx="281.5" cy="345.7" r="0.60" opacity="0.99"/>
<circle cx="279.5" cy="352.7" r="0.58" opacity="0.87"/>
<circle cx="281.5" cy="342.2" r="0.55" opacity="0.78"/>
<circle cx="282.0" cy="339.5" r="0.59" opacity="0.88"/>
<circle cx="284.6" cy="335.8" r="0.62" opacity="0.74"/>
<circle cx="284.7" cy="351.9" r="0.53" opacity="0.86"/>
<circle cx="279.3" cy="336.7" r="0.52" opacity="0.89"/>
<circle cx="284.6" cy="344.0" r="0.58" opacity="0.81"/>
<circle cx="284.0" cy="353.6" r="0.57" opacity="0.81"/>
<circle cx="280.4" cy="354.5" r="0.62" opacity="0.77"/>
<circle cx="282.0" cy="343.9" r="0.51" opacity="0.85"/>
<circle cx="282.8" cy="312.5" r="0.58" opacity="0.98"/>
<circle cx="282.8" cy="344.8" r="0.58" opacity="0.70"/>
<circle cx="284.7" cy="326.4" r="0.52" opacity="0.87"/>
<circle cx="284.3" cy="326.7" r="0.56" opacity="0.95"/>
<circle cx="279.6" cy="331.3" r="0.60" opacity="0.73"/>
<circle cx="281.8" cy="348.0" r="0.53" opacity="0.99"/>
<circle cx="283.0" cy="308.8" r="0.49" opacity="0.95"/>
<circle cx="280.2" cy="326.3" r="0.50" opacity="0.81"/>
<circle cx="284.6" cy="330.2" r="0.62" opacity="1.00"/>
<circle cx="283.1" cy="349.1" r="0.56" opacity="0.81"/>
<circle cx="280.1" cy="350.6" r="0.50" opacity="0.75"/>
<circle cx="279.5" cy="358.6" r="0.55" opacity="0.87"/>
<circle cx="281.1" cy="354.6" r="0.56" opacity="0.70"/>
<circle cx="280.0" cy="326.5" r="0.59" opacity="0.77"/>
<circle cx="281.6" cy="345.2" r="0.53" opacity="0.80"/>
<circle cx="279.9" cy="339.9" r="0.57" opacity="0.95"/>
<circle cx="282.4" cy="362.7" r="0.51" opacity="0.72"/>
<circle cx="279.1" cy="328.7" r="0.57" opacity="0.83"/>
<circle cx="281.8" cy="346.0" r="0.61" opacity="0.77"/>
<circle cx="284.3" cy="348.7" r="0.58" opacity="0.83"/>
<circle cx="278.8" cy="334.1" r="0.50" opacity="0.95"/>
<circle cx="278.9" cy="335.0" r="0.55" opacity="0.80"/>
<circle cx="283.1" cy="316.2" r="0.55" opacity="0.75"/>
<circle cx="281.3" cy="328.3" r="0.57" opacity="0.73"/>
<circle cx="281.1" cy="336.0" r="0.51" opacity="0.73"/>
<circle cx="284.9" cy="345.3" r="0.53" opacity="0.78"/>
<circle cx="282.9" cy="343.4" r="0.54" opacity="0.75"/>
<circle cx="284.8" cy="323.0" r="0.61" opacity="0.73"/>
<circle cx="281.6" cy="331.3" r="0.51" opacity="0.90"/>
<circle cx="284.5" cy="341.8" r="0.59" opacity="0.84"/>
<circle cx="281.6" cy="353.2" r="0.50" opacity="0.91"/>
<circle cx="278.8" cy="363.3" r="0.58" opacity="0.94"/>
<circle cx="278.8" cy="329.0" r="0.56" opacity="0.92"/>
<circle cx="283.0" cy="357.1" r="0.53" opacity="0.91"/>
<circle cx="278.5" cy="330.2" r="0.49" opacity="0.92"/>
<circle cx="282.6" cy="347.1" r="0.50" opacity="0.96"/>
<circle cx="282.8" cy="335.6" r="0.48" opacity="0.71"/>
<circle cx="284.1" cy="336.9" r="0.62" opacity="0.80"/>
<circle cx="282.3" cy="339.8" r="0.62" opacity="0.89"/>
<circle cx="282.1" cy="361.1" r="0.51" opacity="0.86"/>
<circle cx="281.8" cy="350.7" r="0.56" opacity="0.77"/>
<circle cx="281.7" cy="334.2" r="0.55" opacity="0.83"/>
<circle cx="280.3" cy="339.3" r="0.59" opacity="0.91"/>
<circle cx="281.8" cy="328.9" r="0.51" opacity="0.98"/>
<circle cx="281.1" cy="351.5" r="0.58" opacity="0.95"/>
<circle cx="283.2" cy="337.8" r="0.51" opacity="0.84"/>
<circle cx="283.3" cy="349.0" r="0.58" opacity="0.76"/>
<circle cx="283.5" cy="333.2" r="0.57" opacity="0.90"/>
<circle cx="278.9" cy="348.5" r="0.53" opacity="0.71"/>
<circle cx="281.9" cy="352.9" r="0.57" opacity="0.99"/>
<circle cx="279.2" cy="344.1" r="0.59" opacity="0.92"/>
<circle cx="280.9" cy="333.0" r="0.52" opacity="0.85"/>
<circle cx="284.1" cy="320.9" r="0.54" opacity="0.83"/>
<circle cx="284.7" cy="356.4" r="0.51" opacity="0.75"/>
<circle cx="280.6" cy="316.7" r="0.60" opacity="0.97"/>
<circle cx="279.7" cy="354.4" r="0.59" opacity="0.81"/>
<circle cx="281.3" cy="309.8" r="0.54" opacity="0.88"/>
<circle cx="280.9" cy="331.5" r="0.48" opacity="0.81"/>
<circle cx="280.6" cy="344.0" r="0.58" opacity="0.89"/>
<circle cx="282.4" cy="322.0" r="0.52" opacity="0.76"/>
<circle cx="284.3" cy="343.2" r="0.51" opacity="0.88"/>
<circle cx="280.6" cy="346.8" r="0.57" opacity="0.88"/>
<circle cx="279.3" cy="342.5" r="0.51" opacity="0.79"/>
<circle cx="279.2" cy="357.9" r="0.62" opacity="0.77"/>
<circle cx="280.1" cy="318.8" r="0.56" opacity="0.81"/>
<circle cx="283.7" cy="314.1" r="0.52" opacity="0.93"/>
<circle cx="280.9" cy="341.3" r="0.51" opacity="0.89"/>
<circle cx="283.9" cy="345.8" r="0.56" opacity="0.82"/>
<circle cx="283.3" cy="337.4" r="0.54" opacity="1.00"/>
<circle cx="279.9" cy="325.4" r="0.48" opacity="0.73"/>
<circle cx="281.3" cy="327.9" r="0.55" opacity="0.79"/>
<circle cx="281.8" cy="339.4" r="0.62" opacity="0.75"/>
<circle cx="284.0" cy="354.7" r="0.51" opacity="0.96"/>
<circle cx="280.6" cy="345.0" r="0.57" opacity="0.87"/>
<circle cx="280.9" cy="306.1" r="0.50" opacity="0.90"/>
<circle cx="280.6" cy="326.5" r="0.53" opacity="0.95"/>
<circle cx="280.8" cy="362.2" r="0.54" opacity="0.75"/>
<circle cx="282.8" cy="326.8" r="0.54" opacity="0.82"/>
<circle cx="283.8" cy="342.1" r="0.53" opacity="0.92"/>
<circle cx="284.6" cy="331.0" r="0.58" opacity="0.90"/>
<circle cx="281.5" cy="355.5" r="0.51" opacity="0.75"/>
<circle cx="282.6" cy="348.4" r="0.50" opacity="0.88"/>
<circle cx="281.8" cy="352.7" r="0.52" opacity="0.87"/>
<circle cx="279.4" cy="357.7" r="0.52" opacity="0.90"/>
<circle cx="282.4" cy="343.7" r="0.59" opacity="0.87"/>
<circle cx="282.1" cy="360.1" r="0.59" opacity="0.81"/>
<circle cx="284.7" cy="336.7" r="0.60" opacity="0.90"/>
<circle cx="278.7" cy="320.8" r="0.61" opacity="0.99"/>
<circle cx="279.6" cy="347.8" r="0.60" opacity="0.86"/>
<circle cx="281.3" cy="310.4" r="0.60" opacity="0.91"/>
<circle cx="284.0" cy="312.0" r="0.51" opacity="0.97"/>
<circle cx="278.9" cy="333.1" r="0.49" opacity="0.89"/>
<circle cx="279.5" cy="343.7" r="0.52" opacity="0.78"/>
<circle cx="284.8" cy="317.9" r="0.54" opacity="0.94"/>
<circle cx="284.4" cy="356.0" r="0.59" opacity="0.92"/>
<circle cx="282.0" cy="312.3" r="0.57" opacity="0.96"/>
<circle cx="283.0" cy="327.0" r="0.54" opacity="0.94"/>
<circle cx="280.3" cy="334.2" r="0.58" opacity="0.95"/>
<circle cx="279.9" cy="351.3" r="0.61" opacity="0.81"/>
<circle cx="281.7" cy="340.0" r="0.48" opacity="0.93"/>
<circle cx="279.8" cy="336.6" r="0.53" opacity="0.92"/>
<circle cx="281.1" cy="352.2" r="0.55" opacity="0.75"/>
<circle cx="283.5" cy="356.3" r="0.51" opacity="0.92"/>
<circle cx="283.7" cy="342.9" r="0.49" opacity="0.78"/>
<circle cx="282.2" cy="354.7" r="0.51" opacity="0.83"/>
<circle cx="280.1" cy="314.0" r="0.60" opacity="0.87"/>
<circle cx="282.5" cy="344.2" r="0.50" opacity="0.93"/>
<circle cx="282.8" cy="328.7" r="0.59" opacity="0.83"/>
<circle cx="284.6" cy="357.4" r="0.51" opacity="0.73"/>
<circle cx="279.9" cy="351.3" r="0.60" opacity="0.82"/>
<circle cx="279.7" cy="345.9" r="0.56" opacity="0.76"/>
<circle cx="281.7" cy="355.3" r="0.60" opacity="0.71"/>
<circle cx="279.8" cy="348.2" r="0.49" opacity="0.93"/>
<circle cx="283.5" cy="352.3" r="0.52" opacity="0.92"/>
<circle cx="282.2" cy="347.3" r="0.57" opacity="0.81"/>
<circle cx="282.9" cy="325.4" r="0.50" opacity="0.87"/>
<circle cx="279.1" cy="338.0" r="0.60" opacity="0.96"/>
<circle cx="279.0" cy="330.5" r="0.52" opacity="0.73"/>
<circle cx="281.5" cy="345.5" r="0.53" opacity="0.94"/>
<circle cx="279.2" cy="333.9" r="0.51" opacity="0.70"/>
<circle cx="283.5" cy="327.6" r="0.62" opacity="0.76"/>
<circle cx="281.1" cy="315.6" r="0.61" opacity="0.82"/>
<circle cx="279.0" cy="331.8" r="0.61" opacity="0.85"/>
<circle cx="283.8" cy="359.0" r="0.55" opacity="0.75"/>
<circle cx="284.2" cy="336.8" r="0.54" opacity="0.90"/>
<circle cx="280.1" cy="357.0" r="0.56" opacity="0.96"/>
<circle cx="284.1" cy="327.9" r="0.62" opacity="0.70"/>
<circle cx="282.5" cy="341.6" r="0.60" opacity="0.84"/>
<circle cx="283.2" cy="350.6" r="0.51" opacity="0.89"/>
<circle cx="282.7" cy="321.7" r="0.48" opacity="0.83"/>
<circle cx="279.3" cy="352.9" r="0.57" opacity="0.79"/>
<circle cx="280.5" cy="350.9" r="0.56" opacity="0.94"/>
<circle cx="278.9" cy="316.6" r="0.61" opacity="0.71"/>
<circle cx="281.0" cy="350.0" r="0.55" opacity="0.82"/>
<circle cx="281.8" cy="339.6" r="0.52" opacity="0.99"/>
<circle cx="284.7" cy="352.2" r="0.53" opacity="0.89"/>
<circle cx="281.0" cy="342.0" r="0.59" opacity="0.78"/>
<circle cx="281.4" cy="333.3" r="0.60" opacity="0.76"/>
<circle cx="279.5" cy="344.7" r="0.55" opacity="0.83"/>
<circle cx="284.2" cy="353.4" r="0.51" opacity="0.87"/>
<circle cx="284.4" cy="330.2" r="0.52" opacity="0.88"/>
<circle cx="278.9" cy="342.7" r="0.61" opacity="0.73"/>
<circle cx="280.9" cy="345.9" r="0.50" opacity="0.84"/>
<circle cx="279.9" cy="332.2" r="0.49" opacity="0.73"/>
<circle cx="281.8" cy="347.6" r="0.50" opacity="0.95"/>
<circle cx="283.9" cy="345.6" r="0.49" opacity="0.92"/>
<circle cx="281.1" cy="308.0" r="0.56" opacity="0.96"/>
<circle cx="282.9" cy="333.2" r="0.56" opacity="0.92"/>
<circle cx="281.7" cy="335.5" r="0.51" opacity="0.83"/>
<circle cx="280.3" cy="352.7" r="0.57" opacity="0.73"/>
<circle cx="281.7" cy="350.0" r="0.51" opacity="0.73"/>
<circle cx="280.9" cy="359.1" r="0.54" opacity="0.97"/>
<circle cx="284.8" cy="345.9" r="0.60" opacity="1.00"/>
<circle cx="282.4" cy="346.4" r="0.51" opacity="1.00"/>
<circle cx="283.7" cy="314.2" r="0.56" opacity="0.72"/>
<circle cx="284.0" cy="303.5" r="0.5" opacity="0.95"/>
<circle cx="280.1" cy="302.4" r="0.5" opacity="0.95"/>
</g>
<path d="M293.5 306.7 V365.2" stroke="#2a2a2a" stroke-width="0.9" opacity="0.85"/>
<rect x="290.2" y="333.5" width="5.9" height="22.0" fill="#2fae3a"/>
<g fill="#1a1a1a">
<circle cx="292.9" cy="352.1" r="0.58" opacity="0.73"/>
<circle cx="290.7" cy="351.6" r="0.55" opacity="0.89"/>
<circle cx="296.1" cy="337.6" r="0.53" opacity="0.83"/>
<circle cx="294.4" cy="344.4" r="0.58" opacity="0.90"/>
<circle cx="291.2" cy="357.3" r="0.61" opacity="0.99"/>
<circle cx="296.3" cy="352.3" r="0.55" opacity="0.95"/>
<circle cx="296.0" cy="347.5" r="0.60" opacity="0.96"/>
<circle cx="295.0" cy="360.7" r="0.55" opacity="0.79"/>
<circle cx="295.4" cy="338.4" r="0.57" opacity="0.75"/>
<circle cx="293.6" cy="362.1" r="0.51" opacity="0.80"/>
<circle cx="294.6" cy="332.2" r="0.51" opacity="0.95"/>
<circle cx="291.7" cy="339.8" r="0.54" opacity="0.70"/>
<circle cx="292.4" cy="354.0" r="0.48" opacity="0.96"/>
<circle cx="291.6" cy="346.5" r="0.48" opacity="0.73"/>
<circle cx="291.6" cy="356.9" r="0.52" opacity="0.99"/>
<circle cx="296.3" cy="353.0" r="0.60" opacity="0.74"/>
<circle cx="295.2" cy="318.6" r="0.58" opacity="0.86"/>
<circle cx="291.0" cy="343.9" r="0.56" opacity="0.78"/>
<circle cx="293.7" cy="338.6" r="0.59" opacity="0.89"/>
<circle cx="295.9" cy="321.0" r="0.59" opacity="0.87"/>
<circle cx="290.6" cy="333.5" r="0.53" opacity="0.91"/>
<circle cx="294.1" cy="351.4" r="0.57" opacity="0.98"/>
<circle cx="294.8" cy="357.0" r="0.52" opacity="0.73"/>
<circle cx="295.2" cy="341.6" r="0.51" opacity="0.91"/>
<circle cx="293.1" cy="341.6" r="0.53" opacity="0.98"/>
<circle cx="292.8" cy="341.4" r="0.59" opacity="0.89"/>
<circle cx="290.5" cy="337.9" r="0.54" opacity="0.71"/>
<circle cx="292.6" cy="347.9" r="0.61" opacity="0.82"/>
<circle cx="291.5" cy="343.4" r="0.52" opacity="0.85"/>
<circle cx="294.1" cy="358.9" r="0.55" opacity="0.80"/>
<circle cx="292.1" cy="336.9" r="0.48" opacity="0.73"/>
<circle cx="295.3" cy="326.7" r="0.58" opacity="0.99"/>
<circle cx="293.7" cy="346.8" r="0.56" opacity="0.70"/>
<circle cx="290.4" cy="347.9" r="0.56" opacity="0.81"/>
<circle cx="292.6" cy="322.7" r="0.49" opacity="0.92"/>
<circle cx="293.8" cy="351.2" r="0.60" opacity="1.00"/>
<circle cx="290.3" cy="350.0" r="0.60" opacity="0.90"/>
<circle cx="295.7" cy="316.6" r="0.51" opacity="0.87"/>
<circle cx="291.9" cy="355.8" r="0.59" opacity="0.88"/>
<circle cx="293.6" cy="364.0" r="0.61" opacity="0.87"/>
<circle cx="290.2" cy="353.3" r="0.54" opacity="0.87"/>
<circle cx="293.0" cy="323.2" r="0.57" opacity="0.86"/>
<circle cx="296.0" cy="349.8" r="0.48" opacity="0.80"/>
<circle cx="290.2" cy="316.5" r="0.57" opacity="0.94"/>
<circle cx="292.4" cy="337.3" r="0.51" opacity="0.91"/>
<circle cx="293.7" cy="354.1" r="0.61" opacity="0.93"/>
<circle cx="291.6" cy="352.6" r="0.55" opacity="0.82"/>
<circle cx="293.6" cy="344.0" r="0.59" opacity="0.98"/>
<circle cx="293.1" cy="330.2" r="0.61" opacity="0.75"/>
<circle cx="292.5" cy="353.0" r="0.56" opacity="0.98"/>
<circle cx="291.0" cy="329.0" r="0.50" opacity="0.79"/>
<circle cx="295.1" cy="351.6" r="0.55" opacity="0.74"/>
<circle cx="295.2" cy="349.5" r="0.51" opacity="0.98"/>
<circle cx="295.5" cy="346.6" r="0.60" opacity="0.73"/>
<circle cx="294.9" cy="346.1" r="0.57" opacity="0.95"/>
<circle cx="295.9" cy="355.7" r="0.52" opacity="0.91"/>
<circle cx="295.4" cy="315.7" r="0.56" opacity="0.78"/>
<circle cx="295.5" cy="352.4" r="0.60" opacity="0.77"/>
<circle cx="294.3" cy="348.3" r="0.50" opacity="0.93"/>
<circle cx="291.8" cy="348.5" r="0.59" opacity="0.84"/>
<circle cx="291.0" cy="340.8" r="0.49" opacity="0.80"/>
<circle cx="294.8" cy="344.0" r="0.49" opacity="0.90"/>
<circle cx="294.2" cy="330.7" r="0.60" opacity="0.82"/>
<circle cx="290.2" cy="342.2" r="0.53" opacity="0.77"/>
<circle cx="293.4" cy="351.1" r="0.58" opacity="0.74"/>
<circle cx="291.9" cy="361.4" r="0.52" opacity="0.92"/>
<circle cx="295.5" cy="350.9" r="0.57" opacity="0.84"/>
<circle cx="295.9" cy="336.0" r="0.61" opacity="0.83"/>
<circle cx="291.6" cy="339.7" r="0.49" opacity="0.85"/>
<circle cx="291.0" cy="353.0" r="0.54" opacity="1.00"/>
<circle cx="295.7" cy="359.6" r="0.53" opacity="0.74"/>
<circle cx="294.7" cy="325.0" r="0.61" opacity="0.90"/>
<circle cx="292.8" cy="355.1" r="0.55" opacity="0.97"/>
<circle cx="295.9" cy="347.6" r="0.55" opacity="0.99"/>
<circle cx="295.6" cy="325.7" r="0.54" opacity="1.00"/>
<circle cx="295.2" cy="312.9" r="0.53" opacity="0.95"/>
<circle cx="294.8" cy="353.9" r="0.55" opacity="0.82"/>
<circle cx="290.6" cy="339.7" r="0.62" opacity="0.77"/>
<circle cx="292.6" cy="360.4" r="0.56" opacity="0.97"/>
<circle cx="290.7" cy="353.5" r="0.49" opacity="0.86"/>
<circle cx="292.8" cy="354.2" r="0.62" opacity="0.82"/>
<circle cx="296.0" cy="352.5" r="0.56" opacity="0.86"/>
<circle cx="291.6" cy="342.6" r="0.52" opacity="0.85"/>
<circle cx="291.3" cy="325.3" r="0.49" opacity="0.75"/>
<circle cx="295.0" cy="348.6" r="0.60" opacity="0.77"/>
<circle cx="293.4" cy="357.8" r="0.49" opacity="0.72"/>
<circle cx="294.4" cy="340.5" r="0.53" opacity="0.98"/>
<circle cx="293.5" cy="348.1" r="0.57" opacity="0.77"/>
<circle cx="290.2" cy="325.0" r="0.58" opacity="0.89"/>
<circle cx="292.8" cy="341.9" r="0.51" opacity="0.76"/>
<circle cx="294.6" cy="340.6" r="0.53" opacity="0.94"/>
<circle cx="294.2" cy="356.7" r="0.53" opacity="0.87"/>
<circle cx="293.4" cy="320.8" r="0.57" opacity="0.73"/>
<circle cx="291.5" cy="349.5" r="0.60" opacity="0.70"/>
<circle cx="294.6" cy="327.3" r="0.52" opacity="0.77"/>
<circle cx="291.9" cy="358.7" r="0.58" opacity="0.80"/>
<circle cx="296.3" cy="361.1" r="0.53" opacity="1.00"/>
<circle cx="290.2" cy="311.8" r="0.56" opacity="0.82"/>
<circle cx="292.0" cy="355.1" r="0.51" opacity="0.94"/>
<circle cx="290.2" cy="346.1" r="0.59" opacity="0.77"/>
<circle cx="290.0" cy="357.8" r="0.52" opacity="0.90"/>
<circle cx="294.7" cy="354.1" r="0.57" opacity="0.76"/>
<circle cx="293.8" cy="355.1" r="0.58" opacity="0.76"/>
<circle cx="292.2" cy="349.5" r="0.58" opacity="0.87"/>
<circle cx="294.7" cy="341.6" r="0.50" opacity="0.93"/>
<circle cx="293.3" cy="337.7" r="0.52" opacity="0.97"/>
<circle cx="291.8" cy="340.7" r="0.58" opacity="0.91"/>
<circle cx="296.1" cy="347.5" r="0.48" opacity="0.80"/>
<circle cx="290.1" cy="362.7" r="0.60" opacity="0.79"/>
<circle cx="291.7" cy="310.9" r="0.51" opacity="0.74"/>
<circle cx="290.8" cy="332.8" r="0.51" opacity="0.78"/>
<circle cx="293.4" cy="355.0" r="0.59" opacity="0.92"/>
<circle cx="295.9" cy="342.9" r="0.59" opacity="0.87"/>
<circle cx="295.7" cy="349.6" r="0.57" opacity="0.73"/>
<circle cx="295.7" cy="340.1" r="0.48" opacity="0.91"/>
<circle cx="292.2" cy="362.2" r="0.55" opacity="0.90"/>
<circle cx="294.0" cy="351.4" r="0.54" opacity="0.99"/>
<circle cx="291.7" cy="347.5" r="0.50" opacity="0.74"/>
<circle cx="291.1" cy="349.9" r="0.59" opacity="0.73"/>
<circle cx="291.4" cy="342.2" r="0.59" opacity="0.84"/>
<circle cx="292.1" cy="351.2" r="0.54" opacity="0.99"/>
<circle cx="293.5" cy="351.6" r="0.61" opacity="0.74"/>
<circle cx="293.8" cy="343.3" r="0.49" opacity="0.99"/>
<circle cx="294.6" cy="315.4" r="0.52" opacity="0.91"/>
<circle cx="294.8" cy="361.1" r="0.49" opacity="0.98"/>
<circle cx="295.2" cy="341.6" r="0.52" opacity="0.86"/>
<circle cx="290.5" cy="325.0" r="0.60" opacity="0.90"/>
<circle cx="296.2" cy="357.1" r="0.61" opacity="0.99"/>
<circle cx="294.6" cy="318.2" r="0.56" opacity="0.70"/>
<circle cx="295.2" cy="358.5" r="0.52" opacity="0.71"/>
<circle cx="291.7" cy="339.6" r="0.49" opacity="0.74"/>
<circle cx="290.9" cy="347.2" r="0.61" opacity="0.90"/>
<circle cx="290.8" cy="353.9" r="0.54" opacity="0.98"/>
<circle cx="290.4" cy="326.8" r="0.62" opacity="0.73"/>
<circle cx="290.3" cy="333.3" r="0.58" opacity="0.85"/>
<circle cx="290.9" cy="359.3" r="0.55" opacity="0.94"/>
<circle cx="291.7" cy="335.7" r="0.51" opacity="0.84"/>
<circle cx="293.6" cy="354.4" r="0.60" opacity="0.85"/>
<circle cx="290.1" cy="336.5" r="0.53" opacity="0.79"/>
<circle cx="292.7" cy="347.2" r="0.48" opacity="0.98"/>
<circle cx="294.7" cy="328.6" r="0.59" opacity="0.79"/>
<circle cx="291.3" cy="357.1" r="0.56" opacity="0.88"/>
<circle cx="295.3" cy="340.4" r="0.59" opacity="0.99"/>
<circle cx="290.7" cy="331.3" r="0.58" opacity="0.92"/>
<circle cx="295.0" cy="334.7" r="0.55" opacity="0.87"/>
<circle cx="293.8" cy="355.6" r="0.55" opacity="0.93"/>
<circle cx="290.8" cy="357.9" r="0.54" opacity="0.83"/>
<circle cx="292.5" cy="355.6" r="0.54" opacity="0.81"/>
<circle cx="290.6" cy="350.7" r="0.48" opacity="0.92"/>
<circle cx="292.3" cy="358.6" r="0.51" opacity="0.70"/>
<circle cx="296.0" cy="340.9" r="0.52" opacity="0.84"/>
<circle cx="295.3" cy="307.3" r="0.51" opacity="0.78"/>
<circle cx="295.1" cy="335.4" r="0.55" opacity="0.82"/>
<circle cx="295.5" cy="338.2" r="0.50" opacity="0.88"/>
<circle cx="294.6" cy="362.5" r="0.54" opacity="0.74"/>
<circle cx="290.4" cy="317.2" r="0.59" opacity="0.90"/>
<circle cx="293.9" cy="312.2" r="0.49" opacity="0.88"/>
<circle cx="291.6" cy="359.9" r="0.61" opacity="0.92"/>
<circle cx="293.7" cy="345.1" r="0.53" opacity="0.83"/>
<circle cx="291.1" cy="332.7" r="0.58" opacity="0.80"/>
<circle cx="293.9" cy="333.8" r="0.50" opacity="0.82"/>
<circle cx="294.1" cy="349.7" r="0.53" opacity="0.71"/>
<circle cx="291.9" cy="352.9" r="0.57" opacity="0.97"/>
<circle cx="291.6" cy="349.3" r="0.56" opacity="0.78"/>
<circle cx="292.8" cy="340.7" r="0.61" opacity="0.75"/>
<circle cx="290.8" cy="337.3" r="0.51" opacity="0.80"/>
<circle cx="293.0" cy="345.9" r="0.54" opacity="0.93"/>
<circle cx="292.7" cy="356.7" r="0.61" opacity="0.78"/>
<circle cx="292.4" cy="360.1" r="0.52" opacity="0.74"/>
<circle cx="292.3" cy="349.4" r="0.58" opacity="0.84"/>
<circle cx="292.1" cy="344.5" r="0.58" opacity="0.86"/>
<circle cx="292.8" cy="318.0" r="0.49" opacity="0.78"/>
<circle cx="295.3" cy="338.1" r="0.56" opacity="0.80"/>
<circle cx="292.2" cy="349.1" r="0.59" opacity="0.94"/>
<circle cx="295.6" cy="335.0" r="0.57" opacity="0.73"/>
<circle cx="291.6" cy="332.0" r="0.55" opacity="0.95"/>
<circle cx="296.3" cy="353.8" r="0.59" opacity="0.80"/>
<circle cx="291.6" cy="307.5" r="0.60" opacity="0.74"/>
<circle cx="292.3" cy="342.4" r="0.60" opacity="0.79"/>
<circle cx="295.1" cy="331.5" r="0.62" opacity="0.89"/>
<circle cx="290.5" cy="348.5" r="0.62" opacity="0.71"/>
<circle cx="292.2" cy="335.0" r="0.51" opacity="0.83"/>
<circle cx="294.0" cy="346.5" r="0.57" opacity="0.85"/>
<circle cx="295.6" cy="338.1" r="0.50" opacity="0.75"/>
<circle cx="293.5" cy="357.6" r="0.58" opacity="0.97"/>
<circle cx="290.3" cy="347.8" r="0.60" opacity="0.71"/>
<circle cx="295.0" cy="333.9" r="0.50" opacity="0.79"/>
<circle cx="294.4" cy="329.7" r="0.50" opacity="0.91"/>
<circle cx="294.2" cy="352.1" r="0.52" opacity="0.74"/>
<circle cx="292.6" cy="342.4" r="0.50" opacity="0.82"/>
<circle cx="295.1" cy="356.3" r="0.49" opacity="0.80"/>
<circle cx="295.5" cy="350.4" r="0.61" opacity="0.93"/>
<circle cx="290.7" cy="342.6" r="0.52" opacity="0.73"/>
<circle cx="292.0" cy="358.6" r="0.54" opacity="0.86"/>
<circle cx="295.1" cy="318.2" r="0.59" opacity="0.96"/>
<circle cx="294.4" cy="330.3" r="0.53" opacity="0.80"/>
<circle cx="295.3" cy="323.8" r="0.54" opacity="0.94"/>
<circle cx="294.8" cy="352.4" r="0.60" opacity="0.81"/>
<circle cx="292.6" cy="329.4" r="0.60" opacity="0.93"/>
<circle cx="295.6" cy="352.4" r="0.59" opacity="0.79"/>
<circle cx="296.2" cy="331.6" r="0.49" opacity="0.94"/>
<circle cx="293.5" cy="338.0" r="0.56" opacity="0.82"/>
<circle cx="290.6" cy="309.6" r="0.50" opacity="0.90"/>
<circle cx="295.1" cy="326.8" r="0.58" opacity="0.98"/>
<circle cx="291.5" cy="333.5" r="0.59" opacity="0.75"/>
<circle cx="293.6" cy="293.8" r="0.5" opacity="0.95"/>
<circle cx="294.9" cy="293.8" r="0.5" opacity="0.95"/>
<circle cx="291.5" cy="308.8" r="0.5" opacity="0.95"/>
<circle cx="293.6" cy="308.8" r="0.5" opacity="0.95"/>
</g>
<path d="M303.5 316.3 V366.5" stroke="#2a2a2a" stroke-width="0.9" opacity="0.85"/>
<rect x="300.7" y="336.7" width="5.9" height="19.3" fill="#2b9270"/>
<g fill="#1a1a1a">
<circle cx="303.5" cy="348.3" r="0.52" opacity="0.99"/>
<circle cx="304.8" cy="357.1" r="0.52" opacity="0.92"/>
<circle cx="306.1" cy="344.8" r="0.58" opacity="0.84"/>
<circle cx="305.6" cy="356.4" r="0.55" opacity="0.99"/>
<circle cx="305.0" cy="319.6" r="0.55" opacity="0.95"/>
<circle cx="305.7" cy="355.8" r="0.53" opacity="1.00"/>
<circle cx="300.7" cy="328.4" r="0.50" opacity="0.72"/>
<circle cx="303.3" cy="351.6" r="0.49" opacity="0.97"/>
<circle cx="304.0" cy="339.2" r="0.54" opacity="0.79"/>
<circle cx="306.5" cy="360.6" r="0.58" opacity="0.95"/>
<circle cx="302.6" cy="336.0" r="0.50" opacity="0.83"/>
<circle cx="301.8" cy="339.5" r="0.48" opacity="0.78"/>
<circle cx="302.3" cy="329.4" r="0.57" opacity="0.87"/>
<circle cx="302.3" cy="350.0" r="0.58" opacity="0.91"/>
<circle cx="302.3" cy="357.7" r="0.49" opacity="0.84"/>
<circle cx="301.6" cy="345.8" r="0.60" opacity="0.96"/>
<circle cx="301.6" cy="342.5" r="0.52" opacity="0.92"/>
<circle cx="301.1" cy="357.5" r="0.48" opacity="0.81"/>
<circle cx="305.8" cy="352.1" r="0.53" opacity="0.97"/>
<circle cx="302.4" cy="351.0" r="0.50" opacity="0.99"/>
<circle cx="303.9" cy="346.3" r="0.58" opacity="1.00"/>
<circle cx="301.1" cy="351.4" r="0.53" opacity="1.00"/>
<circle cx="300.6" cy="338.7" r="0.61" opacity="0.78"/>
<circle cx="302.7" cy="350.3" r="0.56" opacity="0.98"/>
<circle cx="305.7" cy="341.3" r="0.48" opacity="0.82"/>
<circle cx="302.1" cy="353.4" r="0.53" opacity="0.87"/>
<circle cx="301.0" cy="351.9" r="0.61" opacity="0.72"/>
<circle cx="302.7" cy="359.7" r="0.50" opacity="0.72"/>
<circle cx="305.5" cy="344.1" r="0.62" opacity="0.98"/>
<circle cx="302.2" cy="357.4" r="0.55" opacity="0.99"/>
<circle cx="303.0" cy="356.5" r="0.56" opacity="0.95"/>
<circle cx="305.9" cy="361.3" r="0.48" opacity="0.86"/>
<circle cx="303.2" cy="327.9" r="0.51" opacity="0.82"/>
<circle cx="303.2" cy="318.9" r="0.48" opacity="0.73"/>
<circle cx="305.6" cy="341.8" r="0.60" opacity="0.96"/>
<circle cx="300.5" cy="341.1" r="0.59" opacity="0.88"/>
<circle cx="301.9" cy="333.6" r="0.56" opacity="0.99"/>
<circle cx="300.9" cy="346.7" r="0.58" opacity="0.73"/>
<circle cx="302.5" cy="365.9" r="0.52" opacity="0.84"/>
<circle cx="303.0" cy="333.0" r="0.58" opacity="0.80"/>
<circle cx="304.4" cy="346.0" r="0.54" opacity="0.98"/>
<circle cx="304.7" cy="324.0" r="0.53" opacity="0.74"/>
<circle cx="305.3" cy="343.1" r="0.55" opacity="0.84"/>
<circle cx="301.6" cy="355.6" r="0.54" opacity="0.86"/>
<circle cx="306.8" cy="354.5" r="0.56" opacity="0.80"/>
<circle cx="302.0" cy="357.9" r="0.58" opacity="1.00"/>
<circle cx="306.4" cy="358.4" r="0.54" opacity="0.90"/>
<circle cx="306.7" cy="345.0" r="0.49" opacity="0.79"/>
<circle cx="305.2" cy="336.5" r="0.57" opacity="0.98"/>
<circle cx="300.7" cy="343.6" r="0.54" opacity="0.71"/>
<circle cx="304.5" cy="348.1" r="0.51" opacity="0.96"/>
<circle cx="304.4" cy="336.0" r="0.56" opacity="0.78"/>
<circle cx="300.5" cy="350.6" r="0.51" opacity="0.80"/>
<circle cx="302.3" cy="350.9" r="0.57" opacity="0.94"/>
<circle cx="302.9" cy="323.1" r="0.55" opacity="0.83"/>
<circle cx="306.8" cy="348.1" r="0.61" opacity="0.98"/>
<circle cx="300.7" cy="349.9" r="0.60" opacity="0.90"/>
<circle cx="302.4" cy="353.3" r="0.52" opacity="0.98"/>
<circle cx="302.7" cy="336.1" r="0.49" opacity="0.99"/>
<circle cx="305.6" cy="346.9" r="0.48" opacity="0.83"/>
<circle cx="305.6" cy="324.5" r="0.59" opacity="0.94"/>
<circle cx="305.8" cy="342.8" r="0.60" opacity="0.85"/>
<circle cx="305.9" cy="347.7" r="0.50" opacity="0.80"/>
<circle cx="303.1" cy="316.9" r="0.59" opacity="0.94"/>
<circle cx="306.4" cy="320.6" r="0.61" opacity="0.72"/>
<circle cx="301.9" cy="349.6" r="0.53" opacity="0.80"/>
<circle cx="301.2" cy="334.7" r="0.62" opacity="0.85"/>
<circle cx="303.8" cy="343.4" r="0.59" opacity="0.80"/>
<circle cx="306.1" cy="348.7" r="0.52" opacity="0.95"/>
<circle cx="304.1" cy="360.6" r="0.54" opacity="0.87"/>
<circle cx="302.4" cy="336.2" r="0.50" opacity="0.71"/>
<circle cx="301.7" cy="349.8" r="0.58" opacity="0.95"/>
<circle cx="301.9" cy="359.5" r="0.56" opacity="0.82"/>
<circle cx="304.5" cy="331.3" r="0.61" opacity="0.75"/>
<circle cx="303.7" cy="323.1" r="0.49" opacity="0.79"/>
<circle cx="304.1" cy="363.8" r="0.57" opacity="0.88"/>
<circle cx="302.8" cy="345.2" r="0.48" opacity="0.99"/>
<circle cx="301.8" cy="344.1" r="0.57" opacity="0.74"/>
<circle cx="300.5" cy="330.1" r="0.52" opacity="0.81"/>
<circle cx="300.4" cy="344.0" r="0.52" opacity="0.77"/>
<circle cx="302.5" cy="355.6" r="0.48" opacity="0.95"/>
<circle cx="303.6" cy="342.3" r="0.48" opacity="0.77"/>
<circle cx="305.7" cy="354.4" r="0.60" opacity="0.74"/>
<circle cx="304.0" cy="346.1" r="0.50" opacity="0.80"/>
<circle cx="304.4" cy="354.3" r="0.53" opacity="0.72"/>
<circle cx="306.0" cy="321.4" r="0.61" opacity="0.72"/>
<circle cx="301.5" cy="358.7" r="0.53" opacity="0.76"/>
<circle cx="302.9" cy="337.8" r="0.61" opacity="0.78"/>
<circle cx="304.7" cy="361.5" r="0.51" opacity="0.81"/>
<circle cx="301.6" cy="322.6" r="0.50" opacity="0.78"/>
<circle cx="305.9" cy="355.5" r="0.59" opacity="0.76"/>
<circle cx="301.5" cy="356.5" r="0.51" opacity="0.74"/>
<circle cx="306.1" cy="332.9" r="0.57" opacity="0.73"/>
<circle cx="300.6" cy="357.3" r="0.49" opacity="0.87"/>
<circle cx="300.9" cy="354.5" r="0.59" opacity="0.77"/>
<circle cx="306.5" cy="356.3" r="0.54" opacity="0.83"/>
<circle cx="305.8" cy="349.9" r="0.62" opacity="0.93"/>
<circle cx="306.6" cy="351.2" r="0.62" opacity="0.93"/>
<circle cx="304.1" cy="359.7" r="0.54" opacity="0.77"/>
<circle cx="303.6" cy="344.8" r="0.54" opacity="0.91"/>
<circle cx="306.8" cy="324.4" r="0.62" opacity="0.94"/>
<circle cx="306.4" cy="353.7" r="0.54" opacity="0.81"/>
<circle cx="303.8" cy="330.6" r="0.52" opacity="0.73"/>
<circle cx="300.9" cy="357.2" r="0.50" opacity="0.83"/>
<circle cx="302.9" cy="358.6" r="0.50" opacity="0.71"/>
<circle cx="306.6" cy="348.1" r="0.52" opacity="0.81"/>
<circle cx="305.5" cy="348.7" r="0.48" opacity="0.74"/>
<circle cx="302.8" cy="358.2" r="0.54" opacity="0.82"/>
<circle cx="306.6" cy="358.5" r="0.57" opacity="0.88"/>
<circle cx="302.6" cy="342.2" r="0.49" opacity="0.99"/>
<circle cx="305.2" cy="351.4" r="0.53" opacity="0.89"/>
<circle cx="306.3" cy="350.0" r="0.53" opacity="0.78"/>
<circle cx="303.5" cy="346.6" r="0.62" opacity="0.73"/>
<circle cx="305.5" cy="338.0" r="0.49" opacity="0.82"/>
<circle cx="301.2" cy="352.3" r="0.60" opacity="0.81"/>
<circle cx="303.4" cy="361.6" r="0.60" opacity="0.84"/>
<circle cx="300.7" cy="339.5" r="0.50" opacity="0.96"/>
<circle cx="306.0" cy="335.4" r="0.50" opacity="0.84"/>
<circle cx="306.3" cy="340.5" r="0.58" opacity="0.85"/>
<circle cx="305.9" cy="342.2" r="0.61" opacity="0.88"/>
<circle cx="301.5" cy="320.4" r="0.51" opacity="0.74"/>
<circle cx="303.4" cy="356.8" r="0.50" opacity="0.92"/>
<circle cx="302.4" cy="353.5" r="0.60" opacity="0.98"/>
<circle cx="302.9" cy="343.7" r="0.54" opacity="0.78"/>
<circle cx="306.2" cy="348.5" r="0.50" opacity="0.85"/>
<circle cx="301.1" cy="337.2" r="0.54" opacity="0.86"/>
<circle cx="301.6" cy="354.8" r="0.52" opacity="1.00"/>
<circle cx="301.0" cy="327.5" r="0.59" opacity="0.83"/>
<circle cx="301.9" cy="344.1" r="0.49" opacity="0.73"/>
<circle cx="306.6" cy="332.2" r="0.53" opacity="0.92"/>
<circle cx="303.9" cy="329.7" r="0.49" opacity="0.87"/>
<circle cx="301.2" cy="338.6" r="0.49" opacity="0.72"/>
<circle cx="304.5" cy="359.3" r="0.62" opacity="0.99"/>
<circle cx="305.3" cy="330.1" r="0.55" opacity="1.00"/>
<circle cx="301.2" cy="330.2" r="0.51" opacity="0.74"/>
<circle cx="300.5" cy="359.7" r="0.48" opacity="0.99"/>
<circle cx="302.1" cy="359.6" r="0.60" opacity="0.73"/>
<circle cx="304.3" cy="334.2" r="0.48" opacity="0.88"/>
<circle cx="305.4" cy="355.4" r="0.55" opacity="0.73"/>
<circle cx="301.1" cy="350.5" r="0.52" opacity="0.94"/>
<circle cx="302.7" cy="351.5" r="0.61" opacity="0.87"/>
<circle cx="302.8" cy="362.0" r="0.54" opacity="0.87"/>
<circle cx="304.5" cy="355.4" r="0.51" opacity="0.87"/>
<circle cx="300.6" cy="360.6" r="0.55" opacity="0.79"/>
<circle cx="305.7" cy="345.1" r="0.55" opacity="0.89"/>
<circle cx="303.8" cy="348.6" r="0.51" opacity="0.93"/>
<circle cx="302.7" cy="331.2" r="0.52" opacity="0.95"/>
<circle cx="300.9" cy="339.3" r="0.57" opacity="0.71"/>
<circle cx="304.8" cy="351.1" r="0.53" opacity="0.83"/>
<circle cx="305.5" cy="341.9" r="0.58" opacity="0.88"/>
<circle cx="302.1" cy="335.0" r="0.48" opacity="0.89"/>
<circle cx="306.3" cy="337.7" r="0.56" opacity="0.98"/>
<circle cx="303.4" cy="355.6" r="0.61" opacity="0.85"/>
<circle cx="301.7" cy="332.9" r="0.57" opacity="0.85"/>
<circle cx="306.4" cy="349.1" r="0.59" opacity="0.73"/>
<circle cx="304.2" cy="325.2" r="0.57" opacity="0.85"/>
<circle cx="305.8" cy="331.0" r="0.56" opacity="0.71"/>
<circle cx="301.5" cy="334.0" r="0.58" opacity="0.98"/>
<circle cx="304.6" cy="354.8" r="0.59" opacity="0.73"/>
<circle cx="301.3" cy="344.2" r="0.60" opacity="0.91"/>
<circle cx="304.0" cy="336.5" r="0.61" opacity="0.89"/>
<circle cx="301.1" cy="355.9" r="0.56" opacity="0.75"/>
<circle cx="300.7" cy="339.8" r="0.57" opacity="0.89"/>
<circle cx="305.3" cy="336.2" r="0.49" opacity="0.96"/>
<circle cx="300.9" cy="333.4" r="0.58" opacity="0.75"/>
<circle cx="303.9" cy="352.6" r="0.61" opacity="0.85"/>
<circle cx="303.4" cy="355.7" r="0.52" opacity="0.83"/>
<circle cx="301.9" cy="359.3" r="0.50" opacity="0.85"/>
<circle cx="306.6" cy="338.8" r="0.52" opacity="0.93"/>
<circle cx="301.0" cy="344.3" r="0.55" opacity="0.96"/>
<circle cx="304.4" cy="325.6" r="0.55" opacity="0.90"/>
<circle cx="301.6" cy="342.5" r="0.58" opacity="0.74"/>
<circle cx="303.7" cy="338.2" r="0.58" opacity="0.85"/>
<circle cx="304.0" cy="357.3" r="0.48" opacity="0.81"/>
<circle cx="306.2" cy="316.5" r="0.57" opacity="0.75"/>
<circle cx="304.6" cy="351.9" r="0.56" opacity="0.92"/>
<circle cx="305.8" cy="319.5" r="0.56" opacity="0.93"/>
<circle cx="302.7" cy="348.4" r="0.49" opacity="0.96"/>
<circle cx="303.6" cy="334.1" r="0.56" opacity="0.96"/>
<circle cx="304.8" cy="332.8" r="0.55" opacity="0.85"/>
<circle cx="302.6" cy="345.2" r="0.61" opacity="0.97"/>
<circle cx="302.2" cy="326.0" r="0.55" opacity="0.73"/>
<circle cx="306.6" cy="333.7" r="0.59" opacity="0.81"/>
<circle cx="306.4" cy="341.6" r="0.49" opacity="0.95"/>
<circle cx="302.9" cy="334.1" r="0.54" opacity="0.88"/>
<circle cx="302.5" cy="326.7" r="0.48" opacity="0.93"/>
<circle cx="304.6" cy="360.7" r="0.49" opacity="0.72"/>
<circle cx="306.7" cy="355.1" r="0.51" opacity="0.89"/>
<circle cx="305.2" cy="328.6" r="0.50" opacity="0.93"/>
<circle cx="305.7" cy="336.9" r="0.59" opacity="0.98"/>
<circle cx="305.6" cy="361.9" r="0.57" opacity="0.90"/>
<circle cx="302.6" cy="353.5" r="0.53" opacity="0.96"/>
<circle cx="300.8" cy="355.6" r="0.49" opacity="0.80"/>
<circle cx="302.7" cy="318.0" r="0.53" opacity="0.96"/>
<circle cx="306.6" cy="357.3" r="0.52" opacity="0.86"/>
<circle cx="301.3" cy="343.2" r="0.50" opacity="0.85"/>
<circle cx="306.4" cy="351.4" r="0.50" opacity="0.97"/>
<circle cx="301.4" cy="326.5" r="0.52" opacity="0.83"/>
<circle cx="303.2" cy="346.5" r="0.54" opacity="0.82"/>
<circle cx="301.6" cy="352.8" r="0.50" opacity="0.86"/>
<circle cx="302.8" cy="326.2" r="0.61" opacity="0.79"/>
<circle cx="302.5" cy="343.8" r="0.55" opacity="0.78"/>
<circle cx="302.3" cy="359.3" r="0.54" opacity="0.87"/>
<circle cx="304.6" cy="337.3" r="0.54" opacity="0.73"/>
<circle cx="301.6" cy="335.8" r="0.51" opacity="0.90"/>
<circle cx="303.0" cy="308.8" r="0.5" opacity="0.95"/>
<circle cx="306.2" cy="308.8" r="0.5" opacity="0.95"/>
</g>
<path d="M312.5 311.0 V367.9" stroke="#2a2a2a" stroke-width="0.9" opacity="0.85"/>
<rect x="309.7" y="337.8" width="5.9" height="21.5" fill="#0e6a52"/>
<g fill="#1a1a1a">
<circle cx="310.4" cy="350.7" r="0.58" opacity="0.87"/>
<circle cx="314.7" cy="341.9" r="0.57" opacity="0.83"/>
<circle cx="310.1" cy="357.1" r="0.53" opacity="0.98"/>
<circle cx="313.6" cy="359.5" r="0.49" opacity="0.93"/>
<circle cx="312.8" cy="357.7" r="0.52" opacity="0.76"/>
<circle cx="313.9" cy="340.9" r="0.55" opacity="0.99"/>
<circle cx="314.8" cy="318.6" r="0.48" opacity="0.74"/>
<circle cx="315.1" cy="364.6" r="0.57" opacity="0.89"/>
<circle cx="313.0" cy="356.2" r="0.52" opacity="0.74"/>
<circle cx="313.2" cy="347.6" r="0.60" opacity="0.79"/>
<circle cx="310.8" cy="354.4" r="0.57" opacity="0.87"/>
<circle cx="310.0" cy="313.6" r="0.55" opacity="0.86"/>
<circle cx="311.4" cy="348.5" r="0.59" opacity="0.77"/>
<circle cx="309.7" cy="342.2" r="0.49" opacity="0.91"/>
<circle cx="315.5" cy="337.9" r="0.53" opacity="0.87"/>
<circle cx="312.7" cy="340.2" r="0.49" opacity="0.96"/>
<circle cx="310.7" cy="355.9" r="0.61" opacity="0.95"/>
<circle cx="313.3" cy="341.3" r="0.56" opacity="0.76"/>
<circle cx="310.5" cy="321.4" r="0.56" opacity="0.71"/>
<circle cx="313.7" cy="336.3" r="0.57" opacity="1.00"/>
<circle cx="315.6" cy="352.7" r="0.55" opacity="0.96"/>
<circle cx="312.5" cy="317.7" r="0.51" opacity="0.82"/>
<circle cx="310.9" cy="326.6" r="0.58" opacity="0.75"/>
<circle cx="313.4" cy="351.2" r="0.58" opacity="0.99"/>
<circle cx="315.2" cy="355.3" r="0.60" opacity="0.93"/>
<circle cx="311.1" cy="359.7" r="0.61" opacity="0.99"/>
<circle cx="313.8" cy="360.1" r="0.60" opacity="0.94"/>
<circle cx="312.0" cy="321.7" r="0.59" opacity="0.90"/>
<circle cx="309.6" cy="348.6" r="0.55" opacity="0.73"/>
<circle cx="310.0" cy="353.0" r="0.60" opacity="0.77"/>
<circle cx="312.1" cy="350.5" r="0.56" opacity="0.87"/>
<circle cx="312.7" cy="363.5" r="0.56" opacity="0.84"/>
<circle cx="313.9" cy="352.9" r="0.61" opacity="0.93"/>
<circle cx="311.7" cy="355.7" r="0.49" opacity="0.73"/>
<circle cx="310.6" cy="324.7" r="0.58" opacity="0.94"/>
<circle cx="315.0" cy="362.7" r="0.51" opacity="0.80"/>
<circle cx="311.4" cy="352.7" r="0.60" opacity="0.82"/>
<circle cx="310.9" cy="360.8" r="0.55" opacity="0.91"/>
<circle cx="309.5" cy="357.2" r="0.61" opacity="0.79"/>
<circle cx="315.6" cy="360.2" r="0.51" opacity="0.72"/>
<circle cx="312.8" cy="332.8" r="0.49" opacity="0.78"/>
<circle cx="310.6" cy="321.1" r="0.52" opacity="0.97"/>
<circle cx="310.2" cy="349.1" r="0.55" opacity="0.89"/>
<circle cx="311.5" cy="327.5" r="0.58" opacity="0.88"/>
<circle cx="313.4" cy="327.7" r="0.51" opacity="0.76"/>
<circle cx="312.1" cy="349.2" r="0.52" opacity="0.84"/>
<circle cx="313.1" cy="354.6" r="0.58" opacity="0.93"/>
<circle cx="312.5" cy="358.0" r="0.55" opacity="0.90"/>
<circle cx="314.8" cy="357.6" r="0.50" opacity="0.79"/>
<circle cx="315.6" cy="336.2" r="0.49" opacity="0.99"/>
<circle cx="309.7" cy="351.9" r="0.59" opacity="0.75"/>
<circle cx="311.8" cy="343.8" r="0.49" opacity="0.84"/>
<circle cx="314.2" cy="350.6" r="0.55" opacity="0.99"/>
<circle cx="315.2" cy="334.0" r="0.56" opacity="0.86"/>
<circle cx="313.4" cy="349.4" r="0.53" opacity="0.93"/>
<circle cx="314.8" cy="341.6" r="0.49" opacity="0.95"/>
<circle cx="313.9" cy="356.2" r="0.54" opacity="0.92"/>
<circle cx="310.4" cy="356.6" r="0.52" opacity="0.93"/>
<circle cx="313.0" cy="324.9" r="0.58" opacity="0.80"/>
<circle cx="309.9" cy="364.2" r="0.55" opacity="0.78"/>
<circle cx="311.1" cy="347.8" r="0.51" opacity="0.77"/>
<circle cx="314.2" cy="362.6" r="0.52" opacity="0.87"/>
<circle cx="313.5" cy="313.8" r="0.50" opacity="0.86"/>
<circle cx="313.8" cy="322.3" r="0.52" opacity="0.97"/>
<circle cx="315.1" cy="319.5" r="0.52" opacity="0.91"/>
<circle cx="315.1" cy="338.7" r="0.49" opacity="0.95"/>
<circle cx="312.5" cy="344.2" r="0.61" opacity="0.94"/>
<circle cx="315.6" cy="363.1" r="0.56" opacity="0.92"/>
<circle cx="312.7" cy="359.9" r="0.51" opacity="0.78"/>
<circle cx="314.9" cy="341.0" r="0.58" opacity="0.91"/>
<circle cx="309.5" cy="362.4" r="0.54" opacity="0.99"/>
<circle cx="312.5" cy="357.6" r="0.49" opacity="0.78"/>
<circle cx="314.6" cy="316.8" r="0.60" opacity="0.78"/>
<circle cx="311.9" cy="346.1" r="0.54" opacity="0.99"/>
<circle cx="309.5" cy="353.2" r="0.52" opacity="0.73"/>
<circle cx="311.1" cy="355.6" r="0.61" opacity="0.90"/>
<circle cx="312.8" cy="353.3" r="0.49" opacity="0.95"/>
<circle cx="313.2" cy="359.1" r="0.58" opacity="0.80"/>
<circle cx="313.1" cy="358.3" r="0.50" opacity="0.77"/>
<circle cx="309.6" cy="324.8" r="0.49" opacity="0.83"/>
<circle cx="314.3" cy="345.5" r="0.59" opacity="0.79"/>
<circle cx="315.8" cy="354.6" r="0.57" opacity="0.82"/>
<circle cx="311.5" cy="352.6" r="0.54" opacity="0.79"/>
<circle cx="315.8" cy="353.6" r="0.58" opacity="0.85"/>
<circle cx="310.2" cy="357.0" r="0.56" opacity="0.94"/>
<circle cx="312.5" cy="352.8" r="0.52" opacity="0.88"/>
<circle cx="312.4" cy="354.4" r="0.56" opacity="0.88"/>
<circle cx="310.7" cy="352.7" r="0.50" opacity="0.95"/>
<circle cx="310.3" cy="339.3" r="0.53" opacity="0.97"/>
<circle cx="309.9" cy="355.5" r="0.51" opacity="0.85"/>
<circle cx="312.5" cy="334.8" r="0.58" opacity="0.75"/>
<circle cx="310.3" cy="353.3" r="0.49" opacity="0.94"/>
<circle cx="309.7" cy="345.8" r="0.59" opacity="0.95"/>
<circle cx="310.0" cy="356.8" r="0.49" opacity="0.99"/>
<circle cx="315.3" cy="316.5" r="0.59" opacity="0.71"/>
<circle cx="310.4" cy="324.5" r="0.57" opacity="0.90"/>
<circle cx="315.1" cy="357.8" r="0.57" opacity="0.91"/>
<circle cx="309.9" cy="349.6" r="0.60" opacity="0.93"/>
<circle cx="314.3" cy="360.1" r="0.55" opacity="0.78"/>
<circle cx="310.8" cy="357.3" r="0.48" opacity="0.86"/>
<circle cx="312.7" cy="352.4" r="0.56" opacity="0.87"/>
<circle cx="312.7" cy="357.7" r="0.58" opacity="0.96"/>
<circle cx="310.2" cy="346.7" r="0.52" opacity="0.79"/>
<circle cx="312.6" cy="363.3" r="0.52" opacity="1.00"/>
<circle cx="315.4" cy="360.8" r="0.50" opacity="0.89"/>
<circle cx="311.9" cy="332.7" r="0.60" opacity="0.94"/>
<circle cx="312.1" cy="332.8" r="0.53" opacity="0.84"/>
<circle cx="315.2" cy="325.6" r="0.61" opacity="0.93"/>
<circle cx="310.8" cy="351.8" r="0.53" opacity="0.75"/>
<circle cx="310.3" cy="349.8" r="0.57" opacity="0.82"/>
<circle cx="309.6" cy="354.7" r="0.60" opacity="0.93"/>
<circle cx="311.4" cy="358.9" r="0.52" opacity="0.91"/>
<circle cx="313.0" cy="325.7" r="0.49" opacity="0.78"/>
<circle cx="315.8" cy="354.3" r="0.50" opacity="0.88"/>
<circle cx="314.3" cy="312.2" r="0.59" opacity="0.92"/>
<circle cx="313.0" cy="350.7" r="0.49" opacity="0.76"/>
<circle cx="315.4" cy="347.2" r="0.59" opacity="0.79"/>
<circle cx="311.9" cy="347.0" r="0.59" opacity="0.73"/>
<circle cx="313.0" cy="344.6" r="0.59" opacity="0.80"/>
<circle cx="314.1" cy="337.1" r="0.55" opacity="0.93"/>
<circle cx="314.9" cy="352.4" r="0.58" opacity="0.75"/>
<circle cx="309.7" cy="341.2" r="0.55" opacity="0.78"/>
<circle cx="310.7" cy="354.2" r="0.49" opacity="0.89"/>
<circle cx="309.5" cy="363.4" r="0.60" opacity="0.97"/>
<circle cx="315.4" cy="363.1" r="0.57" opacity="0.85"/>
<circle cx="312.6" cy="352.9" r="0.48" opacity="0.86"/>
<circle cx="310.9" cy="356.3" r="0.52" opacity="0.92"/>
<circle cx="312.4" cy="337.9" r="0.60" opacity="0.74"/>
<circle cx="312.0" cy="351.6" r="0.50" opacity="0.99"/>
<circle cx="313.7" cy="364.7" r="0.53" opacity="0.73"/>
<circle cx="313.7" cy="364.7" r="0.59" opacity="0.87"/>
<circle cx="310.3" cy="331.3" r="0.62" opacity="0.87"/>
<circle cx="314.0" cy="348.9" r="0.58" opacity="0.90"/>
<circle cx="312.6" cy="345.5" r="0.59" opacity="0.89"/>
<circle cx="309.6" cy="324.7" r="0.57" opacity="0.86"/>
<circle cx="313.7" cy="331.1" r="0.60" opacity="0.72"/>
<circle cx="314.6" cy="336.8" r="0.50" opacity="0.97"/>
<circle cx="310.4" cy="355.0" r="0.51" opacity="0.83"/>
<circle cx="315.5" cy="342.9" r="0.56" opacity="0.99"/>
<circle cx="312.2" cy="351.0" r="0.48" opacity="0.74"/>
<circle cx="310.2" cy="351.1" r="0.52" opacity="0.86"/>
<circle cx="313.8" cy="344.4" r="0.54" opacity="0.73"/>
<circle cx="311.9" cy="349.8" r="0.62" opacity="0.71"/>
<circle cx="315.6" cy="332.5" r="0.59" opacity="0.73"/>
<circle cx="311.8" cy="342.9" r="0.62" opacity="0.91"/>
<circle cx="312.8" cy="351.4" r="0.53" opacity="0.87"/>
<circle cx="315.8" cy="331.1" r="0.54" opacity="0.85"/>
<circle cx="314.7" cy="333.8" r="0.58" opacity="0.81"/>
<circle cx="309.6" cy="345.1" r="0.51" opacity="0.75"/>
<circle cx="314.2" cy="328.3" r="0.48" opacity="0.96"/>
<circle cx="315.5" cy="313.1" r="0.57" opacity="0.95"/>
<circle cx="309.7" cy="365.3" r="0.59" opacity="0.89"/>
<circle cx="310.4" cy="341.9" r="0.49" opacity="0.86"/>
<circle cx="313.1" cy="353.6" r="0.62" opacity="0.78"/>
<circle cx="315.6" cy="356.9" r="0.57" opacity="0.83"/>
<circle cx="310.0" cy="356.2" r="0.52" opacity="0.75"/>
<circle cx="311.8" cy="349.6" r="0.60" opacity="0.87"/>
<circle cx="312.3" cy="329.7" r="0.51" opacity="0.87"/>
<circle cx="314.8" cy="359.9" r="0.49" opacity="0.89"/>
<circle cx="315.8" cy="361.0" r="0.62" opacity="0.81"/>
<circle cx="315.6" cy="342.4" r="0.55" opacity="0.87"/>
<circle cx="314.4" cy="347.3" r="0.61" opacity="0.89"/>
<circle cx="313.0" cy="361.1" r="0.50" opacity="0.84"/>
<circle cx="315.7" cy="336.1" r="0.53" opacity="0.74"/>
<circle cx="310.9" cy="329.4" r="0.51" opacity="0.89"/>
<circle cx="309.6" cy="344.0" r="0.58" opacity="0.87"/>
<circle cx="311.7" cy="352.4" r="0.55" opacity="0.80"/>
<circle cx="311.7" cy="350.0" r="0.60" opacity="0.94"/>
<circle cx="314.9" cy="361.5" r="0.50" opacity="0.77"/>
<circle cx="312.4" cy="329.2" r="0.61" opacity="0.98"/>
<circle cx="312.6" cy="350.2" r="0.49" opacity="0.93"/>
<circle cx="309.7" cy="335.0" r="0.51" opacity="0.84"/>
<circle cx="310.4" cy="316.0" r="0.52" opacity="0.94"/>
<circle cx="311.0" cy="348.7" r="0.52" opacity="0.95"/>
<circle cx="315.1" cy="323.5" r="0.62" opacity="0.94"/>
<circle cx="310.9" cy="329.4" r="0.50" opacity="0.77"/>
<circle cx="313.2" cy="351.9" r="0.50" opacity="0.79"/>
<circle cx="314.3" cy="314.1" r="0.55" opacity="0.99"/>
<circle cx="310.7" cy="348.3" r="0.57" opacity="0.88"/>
<circle cx="314.4" cy="340.1" r="0.55" opacity="0.79"/>
<circle cx="312.6" cy="346.9" r="0.50" opacity="0.92"/>
<circle cx="314.8" cy="352.1" r="0.57" opacity="0.99"/>
<circle cx="314.6" cy="366.8" r="0.53" opacity="0.73"/>
<circle cx="309.9" cy="363.6" r="0.61" opacity="0.98"/>
<circle cx="314.2" cy="328.8" r="0.56" opacity="0.77"/>
<circle cx="312.4" cy="321.1" r="0.50" opacity="0.87"/>
<circle cx="311.2" cy="355.5" r="0.60" opacity="0.89"/>
<circle cx="312.4" cy="345.0" r="0.54" opacity="0.81"/>
<circle cx="315.1" cy="360.1" r="0.52" opacity="0.91"/>
<circle cx="314.4" cy="323.3" r="0.53" opacity="1.00"/>
<circle cx="311.5" cy="350.0" r="0.59" opacity="0.95"/>
<circle cx="311.2" cy="337.0" r="0.53" opacity="0.86"/>
<circle cx="311.4" cy="356.7" r="0.49" opacity="0.89"/>
<circle cx="315.0" cy="354.6" r="0.48" opacity="0.74"/>
<circle cx="312.8" cy="327.4" r="0.51" opacity="0.86"/>
<circle cx="315.6" cy="337.7" r="0.60" opacity="0.72"/>
<circle cx="312.7" cy="359.9" r="0.56" opacity="0.95"/>
<circle cx="315.3" cy="326.1" r="0.50" opacity="0.95"/>
<circle cx="315.4" cy="356.6" r="0.59" opacity="0.99"/>
<circle cx="314.5" cy="359.9" r="0.49" opacity="0.86"/>
<circle cx="314.1" cy="339.5" r="0.53" opacity="0.88"/>
<circle cx="315.3" cy="361.1" r="0.53" opacity="0.86"/>
<circle cx="314.8" cy="334.7" r="0.52" opacity="0.79"/>
<circle cx="315.7" cy="354.6" r="0.55" opacity="0.92"/>
<circle cx="309.6" cy="355.9" r="0.53" opacity="0.87"/>
<circle cx="310.6" cy="287.4" r="0.5" opacity="0.95"/>
<circle cx="315.6" cy="287.4" r="0.5" opacity="0.95"/>
<circle cx="313.4" cy="303.5" r="0.5" opacity="0.95"/>
<circle cx="312.7" cy="305.6" r="0.5" opacity="0.95"/>
</g>
<rect x="321.95" y="241.1" width="68.1" height="14.1" fill="#b9b9be"/>
<text x="356.0" y="251" font-size="8.7" text-anchor="middle" fill="#111" font-weight="normal" textLength="14.3" lengthAdjust="spacingAndGlyphs">het.</text>
<path d="M322.5 255.2 V377 H389.5 V255.2" fill="none" stroke="#161616" stroke-width="1.3"/>
<text x="385.6" y="263.9" font-size="8.6" text-anchor="end" fill="#111" font-weight="normal" textLength="38.9" lengthAdjust="spacingAndGlyphs">84.3bp/PD</text>
<path d="M335.6 377.6 V380.2" stroke="#161616" stroke-width="1.15"/>
<text x="335.70000000000005" y="389.2" font-size="8.3" text-anchor="middle" fill="#111" font-weight="normal" textLength="8" lengthAdjust="spacingAndGlyphs">50</text>
<path d="M353.0 377.6 V380.2" stroke="#161616" stroke-width="1.15"/>
<text x="353.1" y="389.2" font-size="8.3" text-anchor="middle" fill="#111" font-weight="normal" textLength="10.4" lengthAdjust="spacingAndGlyphs">100</text>
<path d="M370.4 377.6 V380.2" stroke="#161616" stroke-width="1.15"/>
<text x="370.50000000000006" y="389.2" font-size="8.3" text-anchor="middle" fill="#111" font-weight="normal" textLength="10.4" lengthAdjust="spacingAndGlyphs">150</text>
<path d="M387.8 377.6 V380.2" stroke="#161616" stroke-width="1.15"/>
<text x="385.70000000000005" y="389.2" font-size="8.3" text-anchor="middle" fill="#111" font-weight="normal" textLength="11" lengthAdjust="spacingAndGlyphs">200</text>
<path d="M328.5 322.8 V366.0" stroke="#2a2a2a" stroke-width="0.9" opacity="0.85"/>
<rect x="325.4" y="340.4" width="5.9" height="15.8" fill="#c9ebc4"/>
<g fill="#1a1a1a">
<circle cx="327.3" cy="338.5" r="0.57" opacity="0.75"/>
<circle cx="329.5" cy="351.0" r="0.55" opacity="0.93"/>
<circle cx="325.7" cy="334.9" r="0.57" opacity="0.85"/>
<circle cx="330.6" cy="340.5" r="0.51" opacity="0.90"/>
<circle cx="328.0" cy="327.5" r="0.54" opacity="0.85"/>
<circle cx="326.6" cy="352.5" r="0.58" opacity="0.89"/>
<circle cx="331.1" cy="338.2" r="0.52" opacity="0.79"/>
<circle cx="331.4" cy="360.9" r="0.50" opacity="0.77"/>
<circle cx="328.0" cy="327.7" r="0.52" opacity="0.90"/>
<circle cx="325.9" cy="347.6" r="0.52" opacity="0.74"/>
<circle cx="327.5" cy="348.6" r="0.58" opacity="0.99"/>
<circle cx="326.0" cy="358.6" r="0.57" opacity="0.97"/>
<circle cx="326.0" cy="342.5" r="0.50" opacity="0.97"/>
<circle cx="329.1" cy="349.2" r="0.48" opacity="0.92"/>
<circle cx="327.2" cy="352.6" r="0.48" opacity="0.92"/>
<circle cx="327.2" cy="355.0" r="0.59" opacity="0.99"/>
<circle cx="326.6" cy="354.7" r="0.62" opacity="0.83"/>
<circle cx="331.4" cy="354.3" r="0.55" opacity="0.96"/>
<circle cx="327.8" cy="331.8" r="0.59" opacity="0.99"/>
<circle cx="331.0" cy="353.8" r="0.61" opacity="0.86"/>
<circle cx="325.2" cy="361.4" r="0.55" opacity="0.81"/>
<circle cx="327.1" cy="323.0" r="0.61" opacity="0.70"/>
<circle cx="329.4" cy="346.5" r="0.55" opacity="0.73"/>
<circle cx="330.0" cy="359.7" r="0.55" opacity="0.87"/>
<circle cx="328.2" cy="357.9" r="0.58" opacity="0.92"/>
<circle cx="330.1" cy="349.1" r="0.53" opacity="0.90"/>
<circle cx="330.1" cy="324.8" r="0.53" opacity="0.81"/>
<circle cx="329.0" cy="359.4" r="0.48" opacity="0.86"/>
<circle cx="328.8" cy="324.3" r="0.62" opacity="0.92"/>
<circle cx="330.0" cy="340.9" r="0.54" opacity="0.74"/>
<circle cx="326.5" cy="336.8" r="0.55" opacity="0.85"/>
<circle cx="328.3" cy="357.7" r="0.54" opacity="0.99"/>
<circle cx="330.1" cy="352.2" r="0.53" opacity="0.88"/>
<circle cx="329.5" cy="350.0" r="0.53" opacity="0.93"/>
<circle cx="329.3" cy="356.0" r="0.62" opacity="0.78"/>
<circle cx="328.5" cy="325.6" r="0.57" opacity="0.95"/>
<circle cx="327.6" cy="363.2" r="0.58" opacity="0.95"/>
<circle cx="327.8" cy="324.3" r="0.53" opacity="0.80"/>
<circle cx="331.5" cy="347.6" r="0.59" opacity="0.87"/>
<circle cx="327.1" cy="352.0" r="0.59" opacity="0.96"/>
<circle cx="326.7" cy="355.1" r="0.60" opacity="0.89"/>
<circle cx="329.2" cy="349.5" r="0.51" opacity="0.70"/>
<circle cx="328.6" cy="354.1" r="0.53" opacity="0.78"/>
<circle cx="327.5" cy="352.0" r="0.58" opacity="0.92"/>
<circle cx="328.7" cy="325.3" r="0.56" opacity="0.91"/>
<circle cx="330.9" cy="345.8" r="0.48" opacity="0.99"/>
<circle cx="330.9" cy="361.5" r="0.56" opacity="0.70"/>
<circle cx="327.8" cy="336.0" r="0.56" opacity="0.95"/>
<circle cx="326.8" cy="344.8" r="0.49" opacity="0.73"/>
<circle cx="328.5" cy="355.2" r="0.61" opacity="0.75"/>
<circle cx="327.4" cy="357.0" r="0.57" opacity="0.75"/>
<circle cx="329.8" cy="333.0" r="0.50" opacity="0.71"/>
<circle cx="325.6" cy="338.4" r="0.61" opacity="0.91"/>
<circle cx="325.7" cy="351.9" r="0.53" opacity="0.96"/>
<circle cx="330.0" cy="347.8" r="0.57" opacity="0.88"/>
<circle cx="327.7" cy="354.7" r="0.60" opacity="0.79"/>
<circle cx="329.5" cy="356.9" r="0.61" opacity="0.80"/>
<circle cx="327.4" cy="354.0" r="0.59" opacity="0.76"/>
<circle cx="327.0" cy="345.7" r="0.56" opacity="0.93"/>
<circle cx="326.3" cy="334.8" r="0.57" opacity="0.90"/>
<circle cx="327.2" cy="348.6" r="0.60" opacity="0.96"/>
<circle cx="327.7" cy="340.7" r="0.54" opacity="0.76"/>
<circle cx="327.7" cy="345.5" r="0.51" opacity="0.95"/>
<circle cx="328.3" cy="350.7" r="0.49" opacity="0.91"/>
<circle cx="329.9" cy="344.6" r="0.52" opacity="0.78"/>
<circle cx="325.5" cy="360.0" r="0.61" opacity="0.92"/>
<circle cx="328.7" cy="351.7" r="0.59" opacity="0.74"/>
<circle cx="328.1" cy="330.8" r="0.59" opacity="0.82"/>
<circle cx="330.7" cy="346.6" r="0.52" opacity="0.86"/>
<circle cx="329.7" cy="361.2" r="0.59" opacity="0.78"/>
<circle cx="328.6" cy="343.9" r="0.56" opacity="0.70"/>
<circle cx="330.6" cy="354.0" r="0.56" opacity="0.92"/>
<circle cx="329.1" cy="347.7" r="0.61" opacity="0.72"/>
<circle cx="326.5" cy="342.0" r="0.48" opacity="0.74"/>
<circle cx="328.6" cy="335.8" r="0.54" opacity="0.84"/>
<circle cx="326.8" cy="334.0" r="0.49" opacity="0.72"/>
<circle cx="328.1" cy="353.5" r="0.50" opacity="0.92"/>
<circle cx="327.2" cy="346.1" r="0.49" opacity="0.99"/>
<circle cx="330.0" cy="331.6" r="0.55" opacity="0.97"/>
<circle cx="330.9" cy="352.9" r="0.60" opacity="0.83"/>
<circle cx="330.6" cy="362.9" r="0.53" opacity="0.78"/>
<circle cx="326.0" cy="339.0" r="0.61" opacity="0.79"/>
<circle cx="327.9" cy="331.4" r="0.49" opacity="0.81"/>
<circle cx="331.2" cy="351.6" r="0.54" opacity="0.99"/>
<circle cx="329.0" cy="328.4" r="0.52" opacity="0.95"/>
<circle cx="331.4" cy="343.2" r="0.56" opacity="0.98"/>
<circle cx="329.8" cy="357.6" r="0.57" opacity="0.71"/>
<circle cx="330.0" cy="337.7" r="0.51" opacity="0.73"/>
<circle cx="325.8" cy="333.7" r="0.60" opacity="0.82"/>
<circle cx="326.3" cy="350.4" r="0.54" opacity="0.88"/>
<circle cx="330.9" cy="357.3" r="0.53" opacity="0.71"/>
<circle cx="330.3" cy="354.0" r="0.59" opacity="0.89"/>
<circle cx="325.9" cy="359.0" r="0.61" opacity="0.90"/>
<circle cx="329.2" cy="339.4" r="0.52" opacity="0.98"/>
<circle cx="331.2" cy="358.1" r="0.52" opacity="0.97"/>
<circle cx="328.8" cy="348.5" r="0.61" opacity="0.97"/>
<circle cx="326.6" cy="351.9" r="0.57" opacity="0.74"/>
<circle cx="327.4" cy="350.2" r="0.53" opacity="0.95"/>
<circle cx="328.6" cy="349.6" r="0.62" opacity="0.98"/>
<circle cx="325.6" cy="357.6" r="0.61" opacity="0.71"/>
<circle cx="326.4" cy="331.4" r="0.59" opacity="0.91"/>
<circle cx="331.4" cy="362.0" r="0.59" opacity="0.84"/>
<circle cx="325.7" cy="332.7" r="0.53" opacity="0.91"/>
<circle cx="326.2" cy="354.2" r="0.54" opacity="0.74"/>
<circle cx="326.5" cy="334.5" r="0.61" opacity="0.73"/>
<circle cx="329.3" cy="339.5" r="0.51" opacity="0.89"/>
<circle cx="328.2" cy="353.4" r="0.60" opacity="0.89"/>
<circle cx="327.3" cy="353.0" r="0.60" opacity="0.72"/>
<circle cx="325.2" cy="357.4" r="0.49" opacity="0.95"/>
<circle cx="327.0" cy="350.3" r="0.54" opacity="0.72"/>
<circle cx="330.0" cy="327.4" r="0.51" opacity="0.80"/>
<circle cx="328.5" cy="337.6" r="0.59" opacity="0.85"/>
<circle cx="325.4" cy="334.7" r="0.50" opacity="0.90"/>
<circle cx="330.9" cy="349.6" r="0.49" opacity="0.72"/>
<circle cx="329.0" cy="357.4" r="0.50" opacity="0.80"/>
<circle cx="329.9" cy="342.3" r="0.59" opacity="0.91"/>
<circle cx="326.3" cy="362.9" r="0.53" opacity="0.88"/>
<circle cx="325.3" cy="344.2" r="0.58" opacity="0.84"/>
<circle cx="329.0" cy="347.2" r="0.52" opacity="0.93"/>
<circle cx="327.8" cy="352.7" r="0.50" opacity="0.93"/>
<circle cx="331.2" cy="360.0" r="0.51" opacity="0.91"/>
<circle cx="326.8" cy="354.7" r="0.61" opacity="0.79"/>
<circle cx="330.8" cy="363.6" r="0.59" opacity="0.81"/>
<circle cx="328.9" cy="359.0" r="0.59" opacity="0.82"/>
<circle cx="326.1" cy="347.1" r="0.50" opacity="0.79"/>
<circle cx="329.1" cy="333.2" r="0.54" opacity="0.94"/>
<circle cx="329.5" cy="336.2" r="0.49" opacity="0.80"/>
<circle cx="330.6" cy="339.5" r="0.50" opacity="0.88"/>
<circle cx="330.5" cy="356.7" r="0.62" opacity="0.99"/>
<circle cx="331.5" cy="361.3" r="0.59" opacity="0.78"/>
<circle cx="325.8" cy="361.9" r="0.60" opacity="0.90"/>
<circle cx="327.7" cy="351.9" r="0.53" opacity="0.82"/>
<circle cx="330.7" cy="359.8" r="0.49" opacity="0.71"/>
<circle cx="326.4" cy="344.0" r="0.59" opacity="0.82"/>
<circle cx="329.0" cy="338.0" r="0.49" opacity="0.70"/>
<circle cx="330.8" cy="348.8" r="0.59" opacity="0.78"/>
<circle cx="327.0" cy="359.1" r="0.53" opacity="0.85"/>
<circle cx="327.9" cy="341.3" r="0.58" opacity="0.85"/>
<circle cx="328.8" cy="337.1" r="0.51" opacity="0.82"/>
<circle cx="330.7" cy="353.0" r="0.49" opacity="0.97"/>
<circle cx="328.6" cy="333.5" r="0.54" opacity="0.89"/>
<circle cx="327.2" cy="344.8" r="0.49" opacity="0.76"/>
<circle cx="327.6" cy="359.1" r="0.53" opacity="0.91"/>
<circle cx="331.0" cy="356.9" r="0.50" opacity="0.80"/>
<circle cx="330.2" cy="339.5" r="0.50" opacity="0.89"/>
<circle cx="329.6" cy="354.5" r="0.52" opacity="0.76"/>
<circle cx="331.0" cy="351.7" r="0.54" opacity="0.72"/>
<circle cx="326.8" cy="360.2" r="0.58" opacity="0.85"/>
<circle cx="329.9" cy="342.3" r="0.54" opacity="0.96"/>
<circle cx="328.6" cy="348.2" r="0.62" opacity="0.70"/>
<circle cx="328.0" cy="309.9" r="0.5" opacity="0.95"/>
<circle cx="328.8" cy="311.0" r="0.5" opacity="0.95"/>
<circle cx="326.1" cy="313.1" r="0.5" opacity="0.95"/>
<circle cx="330.7" cy="317.4" r="0.5" opacity="0.95"/>
</g>
<path d="M335.5 330.6 V367.0" stroke="#2a2a2a" stroke-width="0.9" opacity="0.85"/>
<rect x="332.7" y="346.4" width="5.9" height="14.0" fill="#addfa6"/>
<g fill="#1a1a1a">
<circle cx="334.9" cy="359.4" r="0.55" opacity="0.79"/>
<circle cx="336.7" cy="357.4" r="0.57" opacity="0.72"/>
<circle cx="334.3" cy="349.6" r="0.53" opacity="0.85"/>
<circle cx="333.1" cy="350.8" r="0.56" opacity="0.89"/>
<circle cx="338.1" cy="359.2" r="0.59" opacity="0.84"/>
<circle cx="337.7" cy="343.3" r="0.54" opacity="0.82"/>
<circle cx="332.7" cy="346.5" r="0.57" opacity="0.91"/>
<circle cx="337.9" cy="342.5" r="0.52" opacity="0.86"/>
<circle cx="334.7" cy="360.8" r="0.61" opacity="0.91"/>
<circle cx="334.6" cy="357.0" r="0.55" opacity="0.81"/>
<circle cx="333.6" cy="361.2" r="0.56" opacity="0.78"/>
<circle cx="334.8" cy="343.4" r="0.61" opacity="0.87"/>
<circle cx="336.9" cy="366.1" r="0.60" opacity="0.87"/>
<circle cx="333.3" cy="359.6" r="0.60" opacity="0.89"/>
<circle cx="335.8" cy="358.6" r="0.52" opacity="1.00"/>
<circle cx="336.8" cy="336.8" r="0.60" opacity="0.91"/>
<circle cx="335.2" cy="358.8" r="0.55" opacity="0.71"/>
<circle cx="335.4" cy="348.7" r="0.59" opacity="0.71"/>
<circle cx="334.1" cy="362.0" r="0.57" opacity="0.81"/>
<circle cx="333.2" cy="346.9" r="0.48" opacity="0.95"/>
<circle cx="335.3" cy="358.9" r="0.48" opacity="0.73"/>
<circle cx="332.8" cy="333.2" r="0.53" opacity="0.84"/>
<circle cx="336.5" cy="352.5" r="0.62" opacity="0.73"/>
<circle cx="333.1" cy="339.5" r="0.52" opacity="0.76"/>
<circle cx="334.2" cy="335.2" r="0.58" opacity="0.94"/>
<circle cx="337.9" cy="340.9" r="0.57" opacity="0.88"/>
<circle cx="337.7" cy="352.9" r="0.55" opacity="0.81"/>
<circle cx="336.8" cy="359.0" r="0.60" opacity="0.90"/>
<circle cx="337.4" cy="342.7" r="0.50" opacity="0.85"/>
<circle cx="335.9" cy="353.6" r="0.53" opacity="0.71"/>
<circle cx="335.8" cy="348.4" r="0.58" opacity="0.73"/>
<circle cx="337.2" cy="342.7" r="0.60" opacity="0.76"/>
<circle cx="336.9" cy="361.7" r="0.54" opacity="0.98"/>
<circle cx="335.4" cy="344.0" r="0.58" opacity="0.75"/>
<circle cx="333.4" cy="361.2" r="0.50" opacity="0.88"/>
<circle cx="335.3" cy="333.4" r="0.51" opacity="0.92"/>
<circle cx="332.8" cy="356.2" r="0.56" opacity="0.72"/>
<circle cx="336.0" cy="358.1" r="0.61" opacity="0.95"/>
<circle cx="334.3" cy="349.6" r="0.49" opacity="0.91"/>
<circle cx="336.5" cy="361.4" r="0.55" opacity="0.84"/>
<circle cx="338.5" cy="357.4" r="0.59" opacity="0.97"/>
<circle cx="335.2" cy="351.3" r="0.50" opacity="0.85"/>
<circle cx="334.1" cy="362.7" r="0.62" opacity="0.76"/>
<circle cx="337.8" cy="343.1" r="0.51" opacity="0.92"/>
<circle cx="334.0" cy="360.8" r="0.60" opacity="0.98"/>
<circle cx="333.5" cy="349.1" r="0.48" opacity="0.83"/>
<circle cx="338.8" cy="366.9" r="0.58" opacity="0.78"/>
<circle cx="332.9" cy="359.6" r="0.54" opacity="0.93"/>
<circle cx="338.2" cy="350.3" r="0.57" opacity="0.73"/>
<circle cx="333.9" cy="343.1" r="0.59" opacity="0.83"/>
<circle cx="335.3" cy="349.2" r="0.62" opacity="0.79"/>
<circle cx="336.6" cy="358.7" r="0.53" opacity="0.89"/>
<circle cx="337.1" cy="349.0" r="0.56" opacity="0.91"/>
<circle cx="333.4" cy="361.7" r="0.53" opacity="0.80"/>
<circle cx="335.8" cy="336.0" r="0.55" opacity="0.91"/>
<circle cx="337.0" cy="345.8" r="0.49" opacity="0.96"/>
<circle cx="335.1" cy="331.4" r="0.53" opacity="0.83"/>
<circle cx="335.4" cy="357.5" r="0.58" opacity="1.00"/>
<circle cx="335.6" cy="364.1" r="0.56" opacity="0.83"/>
<circle cx="338.8" cy="355.6" r="0.56" opacity="0.87"/>
<circle cx="338.4" cy="340.1" r="0.51" opacity="0.93"/>
<circle cx="336.3" cy="356.0" r="0.59" opacity="0.71"/>
<circle cx="335.8" cy="359.9" r="0.51" opacity="0.79"/>
<circle cx="332.9" cy="354.8" r="0.51" opacity="0.89"/>
<circle cx="337.3" cy="358.9" r="0.58" opacity="0.81"/>
<circle cx="336.6" cy="346.7" r="0.51" opacity="0.90"/>
<circle cx="338.7" cy="343.8" r="0.56" opacity="0.98"/>
<circle cx="336.4" cy="351.5" r="0.53" opacity="0.91"/>
<circle cx="336.8" cy="337.1" r="0.51" opacity="0.99"/>
<circle cx="338.8" cy="365.8" r="0.53" opacity="0.76"/>
<circle cx="335.6" cy="345.8" r="0.50" opacity="0.77"/>
<circle cx="335.1" cy="340.2" r="0.58" opacity="0.78"/>
<circle cx="333.8" cy="353.3" r="0.48" opacity="0.96"/>
<circle cx="334.8" cy="359.1" r="0.56" opacity="0.74"/>
<circle cx="338.3" cy="346.8" r="0.51" opacity="0.72"/>
<circle cx="336.6" cy="364.1" r="0.56" opacity="0.81"/>
<circle cx="335.1" cy="352.4" r="0.50" opacity="0.93"/>
<circle cx="337.6" cy="340.5" r="0.59" opacity="0.83"/>
<circle cx="336.9" cy="353.3" r="0.53" opacity="0.87"/>
<circle cx="334.2" cy="349.9" r="0.50" opacity="0.93"/>
<circle cx="333.4" cy="342.8" r="0.51" opacity="0.75"/>
<circle cx="337.4" cy="335.9" r="0.48" opacity="0.98"/>
<circle cx="335.2" cy="350.1" r="0.49" opacity="0.78"/>
<circle cx="334.3" cy="360.6" r="0.61" opacity="0.95"/>
<circle cx="337.8" cy="348.5" r="0.52" opacity="0.77"/>
<circle cx="336.0" cy="340.6" r="0.51" opacity="0.78"/>
<circle cx="333.6" cy="347.0" r="0.59" opacity="0.96"/>
<circle cx="334.3" cy="346.1" r="0.49" opacity="0.91"/>
<circle cx="334.2" cy="345.4" r="0.51" opacity="0.92"/>
<circle cx="333.9" cy="359.9" r="0.55" opacity="0.87"/>
<circle cx="336.3" cy="344.1" r="0.56" opacity="0.71"/>
<circle cx="333.4" cy="342.5" r="0.56" opacity="0.88"/>
<circle cx="337.4" cy="344.5" r="0.50" opacity="0.96"/>
<circle cx="336.2" cy="360.6" r="0.60" opacity="0.87"/>
<circle cx="337.0" cy="349.1" r="0.59" opacity="0.97"/>
<circle cx="338.5" cy="345.2" r="0.53" opacity="0.71"/>
<circle cx="333.9" cy="364.2" r="0.48" opacity="0.92"/>
<circle cx="337.9" cy="357.7" r="0.56" opacity="0.74"/>
<circle cx="338.6" cy="353.8" r="0.49" opacity="0.74"/>
<circle cx="336.8" cy="359.4" r="0.56" opacity="0.98"/>
<circle cx="334.7" cy="342.5" r="0.54" opacity="0.82"/>
<circle cx="334.3" cy="351.6" r="0.58" opacity="0.87"/>
<circle cx="334.4" cy="348.7" r="0.51" opacity="0.91"/>
<circle cx="334.8" cy="357.5" r="0.50" opacity="0.88"/>
<circle cx="332.5" cy="363.0" r="0.49" opacity="0.95"/>
<circle cx="333.0" cy="357.9" r="0.51" opacity="0.83"/>
<circle cx="333.0" cy="360.6" r="0.61" opacity="0.72"/>
<circle cx="334.7" cy="357.4" r="0.61" opacity="0.97"/>
<circle cx="337.4" cy="366.1" r="0.61" opacity="0.76"/>
<circle cx="338.3" cy="353.2" r="0.54" opacity="0.83"/>
<circle cx="334.2" cy="362.6" r="0.60" opacity="0.78"/>
<circle cx="334.4" cy="350.9" r="0.48" opacity="0.74"/>
<circle cx="338.6" cy="362.2" r="0.61" opacity="0.78"/>
<circle cx="338.3" cy="360.5" r="0.59" opacity="0.90"/>
<circle cx="333.1" cy="351.6" r="0.51" opacity="0.78"/>
<circle cx="333.8" cy="359.9" r="0.60" opacity="0.81"/>
<circle cx="336.0" cy="346.4" r="0.48" opacity="0.87"/>
<circle cx="336.4" cy="341.7" r="0.56" opacity="0.76"/>
<circle cx="338.7" cy="357.3" r="0.59" opacity="0.98"/>
<circle cx="335.1" cy="360.2" r="0.59" opacity="0.75"/>
<circle cx="335.3" cy="345.7" r="0.56" opacity="1.00"/>
<circle cx="338.1" cy="345.0" r="0.49" opacity="0.86"/>
<circle cx="337.8" cy="354.4" r="0.53" opacity="0.88"/>
<circle cx="334.6" cy="341.5" r="0.57" opacity="0.92"/>
<circle cx="336.8" cy="356.3" r="0.53" opacity="0.91"/>
<circle cx="336.0" cy="354.2" r="0.50" opacity="0.78"/>
<circle cx="334.8" cy="350.6" r="0.54" opacity="0.99"/>
<circle cx="336.0" cy="360.9" r="0.59" opacity="0.86"/>
<circle cx="334.7" cy="356.9" r="0.51" opacity="0.76"/>
<circle cx="332.7" cy="344.3" r="0.54" opacity="0.87"/>
<circle cx="335.3" cy="336.3" r="0.57" opacity="0.83"/>
<circle cx="336.0" cy="356.2" r="0.52" opacity="0.92"/>
<circle cx="333.9" cy="357.9" r="0.48" opacity="1.00"/>
<circle cx="338.4" cy="344.7" r="0.49" opacity="0.82"/>
<circle cx="338.7" cy="359.6" r="0.52" opacity="0.73"/>
<circle cx="332.5" cy="363.8" r="0.52" opacity="0.89"/>
<circle cx="338.1" cy="348.8" r="0.56" opacity="0.82"/>
<circle cx="333.8" cy="346.2" r="0.57" opacity="0.72"/>
<circle cx="337.7" cy="350.6" r="0.48" opacity="0.79"/>
<circle cx="336.8" cy="362.4" r="0.54" opacity="0.80"/>
<circle cx="335.4" cy="361.3" r="0.61" opacity="0.86"/>
<circle cx="335.6" cy="358.6" r="0.57" opacity="0.88"/>
<circle cx="334.4" cy="361.0" r="0.55" opacity="0.99"/>
<circle cx="333.6" cy="360.0" r="0.54" opacity="0.83"/>
<circle cx="334.1" cy="356.7" r="0.55" opacity="0.87"/>
<circle cx="337.0" cy="338.3" r="0.51" opacity="0.77"/>
<circle cx="336.8" cy="341.7" r="0.54" opacity="0.88"/>
<circle cx="335.7" cy="351.9" r="0.61" opacity="0.91"/>
<circle cx="334.1" cy="353.8" r="0.50" opacity="0.89"/>
<circle cx="334.2" cy="357.0" r="0.58" opacity="0.93"/>
<circle cx="335.3" cy="317.4" r="0.5" opacity="0.95"/>
<circle cx="338.1" cy="317.4" r="0.5" opacity="0.95"/>
<circle cx="335.3" cy="323.9" r="0.5" opacity="0.95"/>
<circle cx="333.2" cy="323.9" r="0.5" opacity="0.95"/>
</g>
<path d="M345.5 345.3 V367.9" stroke="#2a2a2a" stroke-width="0.9" opacity="0.85"/>
<rect x="342.4" y="353.2" width="5.9" height="9.9" fill="#86d283"/>
<g fill="#1a1a1a">
<circle cx="347.9" cy="357.3" r="0.58" opacity="0.73"/>
<circle cx="342.4" cy="363.2" r="0.61" opacity="0.86"/>
<circle cx="342.4" cy="354.4" r="0.56" opacity="0.98"/>
<circle cx="346.5" cy="349.7" r="0.49" opacity="0.79"/>
<circle cx="344.9" cy="365.6" r="0.51" opacity="0.72"/>
<circle cx="345.2" cy="361.0" r="0.60" opacity="0.74"/>
<circle cx="343.7" cy="362.5" r="0.61" opacity="0.94"/>
<circle cx="344.3" cy="363.1" r="0.53" opacity="0.99"/>
<circle cx="348.6" cy="353.7" r="0.61" opacity="0.85"/>
<circle cx="348.1" cy="353.0" r="0.59" opacity="0.79"/>
<circle cx="346.6" cy="361.8" r="0.50" opacity="0.78"/>
<circle cx="348.6" cy="345.5" r="0.59" opacity="0.85"/>
<circle cx="346.6" cy="349.0" r="0.54" opacity="0.86"/>
<circle cx="344.5" cy="358.6" r="0.57" opacity="0.77"/>
<circle cx="347.8" cy="352.8" r="0.59" opacity="0.98"/>
<circle cx="347.5" cy="356.5" r="0.59" opacity="0.77"/>
<circle cx="346.0" cy="351.4" r="0.48" opacity="0.77"/>
<circle cx="345.8" cy="361.6" r="0.55" opacity="0.80"/>
<circle cx="347.1" cy="348.3" r="0.54" opacity="0.93"/>
<circle cx="346.6" cy="363.3" r="0.59" opacity="0.99"/>
<circle cx="345.1" cy="346.0" r="0.59" opacity="0.92"/>
<circle cx="342.8" cy="349.8" r="0.58" opacity="0.80"/>
<circle cx="346.3" cy="360.3" r="0.52" opacity="0.92"/>
<circle cx="346.1" cy="364.9" r="0.62" opacity="0.91"/>
<circle cx="346.0" cy="363.7" r="0.56" opacity="0.79"/>
<circle cx="348.4" cy="355.4" r="0.58" opacity="0.85"/>
<circle cx="346.7" cy="366.2" r="0.57" opacity="0.98"/>
<circle cx="342.5" cy="361.9" r="0.59" opacity="0.83"/>
<circle cx="342.5" cy="355.5" r="0.55" opacity="0.97"/>
<circle cx="346.4" cy="359.3" r="0.56" opacity="0.77"/>
<circle cx="345.9" cy="365.9" r="0.62" opacity="0.85"/>
<circle cx="344.4" cy="350.7" r="0.57" opacity="0.75"/>
<circle cx="347.9" cy="362.7" r="0.54" opacity="0.94"/>
<circle cx="347.3" cy="362.4" r="0.56" opacity="0.82"/>
<circle cx="343.5" cy="358.1" r="0.51" opacity="0.91"/>
<circle cx="345.1" cy="353.8" r="0.62" opacity="0.82"/>
<circle cx="348.4" cy="355.1" r="0.58" opacity="0.84"/>
<circle cx="345.2" cy="358.4" r="0.57" opacity="0.73"/>
<circle cx="343.3" cy="355.3" r="0.56" opacity="0.80"/>
<circle cx="344.6" cy="357.6" r="0.49" opacity="0.76"/>
<circle cx="347.4" cy="363.6" r="0.50" opacity="0.99"/>
<circle cx="346.5" cy="362.9" r="0.53" opacity="0.81"/>
<circle cx="345.3" cy="352.7" r="0.54" opacity="0.87"/>
<circle cx="344.1" cy="350.8" r="0.50" opacity="0.86"/>
<circle cx="346.5" cy="364.2" r="0.54" opacity="0.99"/>
<circle cx="342.2" cy="359.9" r="0.56" opacity="0.91"/>
<circle cx="343.7" cy="362.5" r="0.59" opacity="0.96"/>
<circle cx="345.8" cy="355.5" r="0.54" opacity="0.74"/>
<circle cx="348.0" cy="361.9" r="0.52" opacity="0.73"/>
<circle cx="343.3" cy="350.6" r="0.58" opacity="0.72"/>
<circle cx="345.5" cy="346.9" r="0.54" opacity="0.99"/>
<circle cx="343.6" cy="352.4" r="0.58" opacity="0.82"/>
<circle cx="344.1" cy="360.3" r="0.52" opacity="0.76"/>
<circle cx="344.6" cy="354.7" r="0.56" opacity="0.94"/>
<circle cx="348.2" cy="348.9" r="0.60" opacity="0.80"/>
<circle cx="346.7" cy="352.5" r="0.56" opacity="0.98"/>
<circle cx="347.5" cy="357.8" r="0.62" opacity="0.80"/>
<circle cx="345.0" cy="350.6" r="0.49" opacity="0.89"/>
<circle cx="343.6" cy="358.7" r="0.51" opacity="0.93"/>
<circle cx="348.2" cy="353.3" r="0.52" opacity="0.79"/>
<circle cx="347.9" cy="358.3" r="0.59" opacity="0.82"/>
<circle cx="344.6" cy="356.7" r="0.57" opacity="0.74"/>
<circle cx="343.4" cy="347.1" r="0.49" opacity="0.73"/>
<circle cx="345.9" cy="352.1" r="0.57" opacity="0.79"/>
<circle cx="344.3" cy="358.5" r="0.56" opacity="0.73"/>
<circle cx="345.7" cy="358.8" r="0.51" opacity="0.83"/>
<circle cx="347.6" cy="364.0" r="0.62" opacity="0.84"/>
<circle cx="344.4" cy="364.8" r="0.52" opacity="0.85"/>
<circle cx="344.3" cy="347.1" r="0.56" opacity="0.78"/>
<circle cx="345.4" cy="355.3" r="0.52" opacity="0.83"/>
<circle cx="348.0" cy="353.0" r="0.49" opacity="0.82"/>
<circle cx="348.4" cy="355.6" r="0.54" opacity="0.88"/>
<circle cx="347.0" cy="352.0" r="0.59" opacity="0.92"/>
<circle cx="343.0" cy="354.9" r="0.54" opacity="0.85"/>
<circle cx="342.8" cy="348.0" r="0.56" opacity="0.78"/>
<circle cx="346.9" cy="349.3" r="0.56" opacity="0.87"/>
<circle cx="342.6" cy="361.0" r="0.53" opacity="0.77"/>
<circle cx="343.7" cy="366.2" r="0.52" opacity="0.98"/>
<circle cx="344.9" cy="348.7" r="0.53" opacity="0.92"/>
<circle cx="347.4" cy="359.6" r="0.49" opacity="0.97"/>
<circle cx="342.4" cy="362.4" r="0.50" opacity="0.97"/>
<circle cx="345.9" cy="361.3" r="0.51" opacity="0.91"/>
<circle cx="343.8" cy="352.5" r="0.54" opacity="0.90"/>
<circle cx="343.8" cy="364.6" r="0.55" opacity="0.99"/>
<circle cx="345.3" cy="352.3" r="0.62" opacity="1.00"/>
<circle cx="343.1" cy="349.3" r="0.51" opacity="0.74"/>
<circle cx="347.9" cy="359.4" r="0.58" opacity="0.72"/>
<circle cx="343.0" cy="361.0" r="0.61" opacity="0.85"/>
<circle cx="345.8" cy="365.9" r="0.62" opacity="0.86"/>
<circle cx="343.0" cy="358.2" r="0.58" opacity="0.88"/>
<circle cx="347.4" cy="361.8" r="0.52" opacity="0.81"/>
<circle cx="346.3" cy="352.4" r="0.55" opacity="0.70"/>
<circle cx="344.7" cy="362.0" r="0.50" opacity="0.95"/>
<circle cx="348.4" cy="356.6" r="0.57" opacity="0.75"/>
<circle cx="344.4" cy="358.6" r="0.50" opacity="0.75"/>
<circle cx="346.2" cy="358.9" r="0.49" opacity="0.96"/>
<circle cx="345.6" cy="357.6" r="0.53" opacity="0.85"/>
<circle cx="345.4" cy="351.7" r="0.49" opacity="0.85"/>
<circle cx="346.0" cy="356.4" r="0.50" opacity="0.89"/>
<circle cx="342.3" cy="352.8" r="0.55" opacity="0.75"/>
<circle cx="343.1" cy="347.3" r="0.57" opacity="0.94"/>
<circle cx="345.9" cy="348.1" r="0.53" opacity="0.95"/>
<circle cx="343.1" cy="348.8" r="0.55" opacity="0.76"/>
<circle cx="346.4" cy="354.2" r="0.58" opacity="0.80"/>
<circle cx="348.0" cy="351.0" r="0.56" opacity="0.89"/>
<circle cx="348.3" cy="365.6" r="0.58" opacity="0.94"/>
<circle cx="343.9" cy="366.4" r="0.58" opacity="0.87"/>
<circle cx="343.3" cy="358.1" r="0.57" opacity="0.73"/>
<circle cx="344.0" cy="363.1" r="0.54" opacity="0.90"/>
<circle cx="347.9" cy="360.3" r="0.58" opacity="0.97"/>
<circle cx="346.3" cy="332.4" r="0.5" opacity="0.95"/>
<circle cx="346.5" cy="334.6" r="0.5" opacity="0.95"/>
<circle cx="347.8" cy="336.7" r="0.5" opacity="0.95"/>
<circle cx="347.0" cy="337.8" r="0.5" opacity="0.95"/>
</g>
<path d="M352.5 347.5 V367.0" stroke="#2a2a2a" stroke-width="0.9" opacity="0.85"/>
<rect x="349.8" y="353.2" width="5.9" height="9.9" fill="#58c557"/>
<g fill="#1a1a1a">
<circle cx="349.8" cy="360.1" r="0.48" opacity="0.92"/>
<circle cx="352.3" cy="361.5" r="0.60" opacity="0.93"/>
<circle cx="350.8" cy="356.1" r="0.51" opacity="0.92"/>
<circle cx="350.7" cy="353.7" r="0.54" opacity="0.74"/>
<circle cx="349.7" cy="362.2" r="0.54" opacity="0.81"/>
<circle cx="355.8" cy="352.6" r="0.60" opacity="0.83"/>
<circle cx="353.1" cy="363.9" r="0.55" opacity="0.91"/>
<circle cx="355.3" cy="355.0" r="0.59" opacity="0.83"/>
<circle cx="351.3" cy="359.4" r="0.53" opacity="0.87"/>
<circle cx="353.7" cy="358.3" r="0.61" opacity="0.79"/>
<circle cx="354.9" cy="350.8" r="0.57" opacity="0.87"/>
<circle cx="352.8" cy="363.7" r="0.62" opacity="0.98"/>
<circle cx="351.0" cy="352.3" r="0.60" opacity="0.75"/>
<circle cx="355.7" cy="357.1" r="0.50" opacity="0.87"/>
<circle cx="354.3" cy="353.2" r="0.49" opacity="0.90"/>
<circle cx="353.8" cy="353.2" r="0.48" opacity="0.98"/>
<circle cx="355.4" cy="360.1" r="0.58" opacity="0.72"/>
<circle cx="355.2" cy="361.4" r="0.57" opacity="0.80"/>
<circle cx="349.9" cy="350.3" r="0.51" opacity="0.71"/>
<circle cx="354.3" cy="356.1" r="0.52" opacity="1.00"/>
<circle cx="353.6" cy="355.8" r="0.56" opacity="0.74"/>
<circle cx="355.4" cy="365.5" r="0.55" opacity="0.76"/>
<circle cx="355.7" cy="352.5" r="0.52" opacity="0.78"/>
<circle cx="351.5" cy="356.6" r="0.48" opacity="0.97"/>
<circle cx="355.6" cy="358.5" r="0.57" opacity="0.71"/>
<circle cx="354.0" cy="362.3" r="0.51" opacity="0.97"/>
<circle cx="350.9" cy="359.7" r="0.59" opacity="0.70"/>
<circle cx="349.9" cy="359.8" r="0.56" opacity="0.74"/>
<circle cx="355.3" cy="365.9" r="0.62" opacity="0.76"/>
<circle cx="354.6" cy="355.6" r="0.53" opacity="0.98"/>
<circle cx="354.1" cy="361.6" r="0.52" opacity="0.83"/>
<circle cx="354.8" cy="361.7" r="0.50" opacity="0.75"/>
<circle cx="354.1" cy="357.9" r="0.59" opacity="0.77"/>
<circle cx="349.5" cy="365.3" r="0.53" opacity="0.88"/>
<circle cx="352.3" cy="357.7" r="0.58" opacity="0.77"/>
<circle cx="352.1" cy="362.2" r="0.49" opacity="0.73"/>
<circle cx="355.0" cy="354.7" r="0.57" opacity="0.93"/>
<circle cx="353.3" cy="364.9" r="0.55" opacity="0.75"/>
<circle cx="352.0" cy="356.3" r="0.52" opacity="0.87"/>
<circle cx="351.2" cy="357.4" r="0.61" opacity="0.95"/>
<circle cx="349.9" cy="361.7" r="0.51" opacity="0.76"/>
<circle cx="354.7" cy="353.1" r="0.60" opacity="0.96"/>
<circle cx="355.0" cy="353.1" r="0.53" opacity="0.80"/>
<circle cx="352.9" cy="360.7" r="0.53" opacity="0.75"/>
<circle cx="355.3" cy="349.9" r="0.49" opacity="0.77"/>
<circle cx="352.7" cy="359.5" r="0.52" opacity="0.74"/>
<circle cx="354.7" cy="350.8" r="0.50" opacity="0.86"/>
<circle cx="355.4" cy="362.9" r="0.59" opacity="1.00"/>
<circle cx="352.6" cy="360.9" r="0.54" opacity="0.95"/>
<circle cx="355.2" cy="364.1" r="0.53" opacity="0.74"/>
<circle cx="351.1" cy="360.8" r="0.49" opacity="0.99"/>
<circle cx="352.8" cy="356.9" r="0.51" opacity="0.97"/>
<circle cx="352.1" cy="363.8" r="0.58" opacity="0.96"/>
<circle cx="354.8" cy="363.7" r="0.54" opacity="0.76"/>
<circle cx="351.5" cy="358.2" r="0.52" opacity="0.93"/>
<circle cx="350.2" cy="361.9" r="0.59" opacity="0.93"/>
<circle cx="353.4" cy="361.9" r="0.50" opacity="0.85"/>
<circle cx="353.5" cy="357.2" r="0.50" opacity="0.72"/>
<circle cx="349.6" cy="364.7" r="0.52" opacity="0.82"/>
<circle cx="355.5" cy="362.1" r="0.52" opacity="0.77"/>
<circle cx="351.6" cy="366.6" r="0.49" opacity="0.99"/>
<circle cx="355.3" cy="360.7" r="0.51" opacity="0.93"/>
<circle cx="351.2" cy="358.8" r="0.50" opacity="0.86"/>
<circle cx="350.9" cy="365.1" r="0.50" opacity="0.85"/>
<circle cx="352.4" cy="362.3" r="0.53" opacity="0.75"/>
<circle cx="353.9" cy="360.0" r="0.57" opacity="0.85"/>
<circle cx="355.4" cy="365.0" r="0.55" opacity="0.84"/>
<circle cx="352.1" cy="366.9" r="0.59" opacity="0.74"/>
<circle cx="352.0" cy="358.4" r="0.57" opacity="0.82"/>
<circle cx="350.5" cy="353.3" r="0.60" opacity="0.83"/>
<circle cx="355.2" cy="361.9" r="0.57" opacity="0.92"/>
<circle cx="354.0" cy="356.0" r="0.61" opacity="0.92"/>
<circle cx="355.2" cy="361.4" r="0.60" opacity="0.97"/>
<circle cx="352.1" cy="354.5" r="0.61" opacity="0.76"/>
<circle cx="352.2" cy="356.4" r="0.53" opacity="0.84"/>
<circle cx="352.8" cy="352.1" r="0.49" opacity="0.84"/>
<circle cx="353.7" cy="354.0" r="0.61" opacity="0.96"/>
<circle cx="353.2" cy="356.8" r="0.60" opacity="0.80"/>
<circle cx="354.4" cy="358.6" r="0.56" opacity="0.84"/>
<circle cx="354.0" cy="364.4" r="0.61" opacity="0.72"/>
<circle cx="351.6" cy="361.1" r="0.54" opacity="0.80"/>
<circle cx="352.5" cy="360.8" r="0.50" opacity="0.70"/>
<circle cx="352.4" cy="351.9" r="0.48" opacity="0.74"/>
<circle cx="353.0" cy="358.1" r="0.62" opacity="0.86"/>
<circle cx="349.8" cy="360.7" r="0.50" opacity="0.94"/>
<circle cx="351.4" cy="363.3" r="0.50" opacity="0.89"/>
<circle cx="352.9" cy="358.7" r="0.51" opacity="0.75"/>
<circle cx="350.4" cy="357.6" r="0.51" opacity="0.77"/>
<circle cx="351.0" cy="354.3" r="0.57" opacity="0.77"/>
<circle cx="349.8" cy="361.6" r="0.49" opacity="0.70"/>
<circle cx="349.8" cy="357.1" r="0.55" opacity="0.97"/>
<circle cx="352.2" cy="360.7" r="0.52" opacity="0.72"/>
<circle cx="350.4" cy="352.5" r="0.51" opacity="0.80"/>
<circle cx="350.8" cy="350.5" r="0.55" opacity="0.91"/>
<circle cx="352.4" cy="359.4" r="0.51" opacity="0.71"/>
<circle cx="351.9" cy="366.1" r="0.52" opacity="0.73"/>
<circle cx="354.9" cy="353.1" r="0.60" opacity="0.77"/>
<circle cx="355.2" cy="362.4" r="0.51" opacity="0.88"/>
<circle cx="355.6" cy="363.7" r="0.60" opacity="0.98"/>
<circle cx="350.9" cy="357.6" r="0.49" opacity="0.71"/>
</g>
<path d="M364.5 348.5 V367.9" stroke="#2a2a2a" stroke-width="0.9" opacity="0.85"/>
<rect x="361.2" y="355.6" width="5.9" height="8.5" fill="#2fae3a"/>
<g fill="#1a1a1a">
<circle cx="367.1" cy="367.4" r="0.51" opacity="0.99"/>
<circle cx="362.1" cy="362.9" r="0.52" opacity="1.00"/>
<circle cx="366.3" cy="363.5" r="0.59" opacity="0.97"/>
<circle cx="362.5" cy="355.3" r="0.55" opacity="0.98"/>
<circle cx="364.2" cy="358.1" r="0.61" opacity="0.87"/>
<circle cx="366.2" cy="362.6" r="0.54" opacity="0.91"/>
<circle cx="366.2" cy="365.0" r="0.60" opacity="1.00"/>
<circle cx="365.3" cy="358.2" r="0.56" opacity="0.96"/>
<circle cx="366.1" cy="363.7" r="0.58" opacity="0.70"/>
<circle cx="364.8" cy="355.3" r="0.59" opacity="0.80"/>
<circle cx="364.9" cy="352.6" r="0.54" opacity="0.78"/>
<circle cx="362.5" cy="359.7" r="0.59" opacity="0.81"/>
<circle cx="362.8" cy="363.5" r="0.57" opacity="0.96"/>
<circle cx="362.0" cy="361.5" r="0.52" opacity="0.73"/>
<circle cx="366.8" cy="365.2" r="0.56" opacity="0.74"/>
<circle cx="361.9" cy="354.4" r="0.52" opacity="0.87"/>
<circle cx="366.7" cy="358.6" r="0.57" opacity="0.88"/>
<circle cx="362.9" cy="356.6" r="0.59" opacity="0.70"/>
<circle cx="361.3" cy="352.0" r="0.48" opacity="0.94"/>
<circle cx="363.7" cy="362.2" r="0.57" opacity="0.90"/>
<circle cx="364.0" cy="364.3" r="0.54" opacity="0.91"/>
<circle cx="365.4" cy="367.5" r="0.61" opacity="0.93"/>
<circle cx="362.3" cy="360.5" r="0.50" opacity="0.80"/>
<circle cx="362.9" cy="351.0" r="0.52" opacity="0.98"/>
<circle cx="366.3" cy="360.3" r="0.49" opacity="0.70"/>
<circle cx="362.5" cy="354.4" r="0.60" opacity="0.83"/>
<circle cx="364.1" cy="364.3" r="0.53" opacity="0.80"/>
<circle cx="367.1" cy="353.6" r="0.62" opacity="0.98"/>
<circle cx="366.3" cy="353.7" r="0.50" opacity="0.72"/>
<circle cx="365.5" cy="351.6" r="0.62" opacity="0.72"/>
<circle cx="366.1" cy="355.9" r="0.50" opacity="0.72"/>
<circle cx="362.2" cy="360.0" r="0.57" opacity="0.75"/>
<circle cx="361.9" cy="362.2" r="0.49" opacity="0.85"/>
<circle cx="363.3" cy="360.3" r="0.49" opacity="0.87"/>
<circle cx="363.1" cy="360.8" r="0.62" opacity="0.89"/>
<circle cx="365.4" cy="362.8" r="0.62" opacity="0.73"/>
<circle cx="363.2" cy="362.4" r="0.51" opacity="0.90"/>
<circle cx="364.2" cy="358.8" r="0.51" opacity="0.85"/>
<circle cx="361.2" cy="357.4" r="0.54" opacity="0.76"/>
<circle cx="364.0" cy="367.6" r="0.56" opacity="0.91"/>
<circle cx="367.2" cy="365.5" r="0.53" opacity="0.75"/>
<circle cx="361.9" cy="366.5" r="0.59" opacity="0.74"/>
<circle cx="361.8" cy="365.5" r="0.53" opacity="0.82"/>
<circle cx="364.7" cy="354.9" r="0.54" opacity="0.81"/>
<circle cx="361.0" cy="362.3" r="0.52" opacity="0.92"/>
<circle cx="363.6" cy="362.4" r="0.51" opacity="0.77"/>
<circle cx="364.7" cy="364.5" r="0.54" opacity="0.86"/>
<circle cx="363.7" cy="361.8" r="0.61" opacity="0.97"/>
<circle cx="363.9" cy="354.7" r="0.51" opacity="0.99"/>
<circle cx="363.9" cy="361.2" r="0.54" opacity="0.70"/>
<circle cx="364.2" cy="360.4" r="0.55" opacity="0.79"/>
<circle cx="363.2" cy="354.5" r="0.49" opacity="0.88"/>
<circle cx="361.1" cy="366.3" r="0.55" opacity="0.89"/>
<circle cx="365.4" cy="361.9" r="0.60" opacity="0.90"/>
<circle cx="364.1" cy="357.0" r="0.61" opacity="0.71"/>
<circle cx="363.3" cy="366.3" r="0.56" opacity="0.94"/>
<circle cx="361.2" cy="361.3" r="0.61" opacity="0.77"/>
<circle cx="361.8" cy="360.5" r="0.61" opacity="0.85"/>
<circle cx="362.6" cy="361.2" r="0.56" opacity="0.91"/>
<circle cx="364.7" cy="354.0" r="0.52" opacity="0.99"/>
<circle cx="365.3" cy="355.2" r="0.62" opacity="0.95"/>
<circle cx="364.6" cy="354.5" r="0.57" opacity="0.89"/>
<circle cx="366.7" cy="362.2" r="0.52" opacity="0.97"/>
<circle cx="365.1" cy="361.6" r="0.52" opacity="1.00"/>
<circle cx="363.5" cy="362.9" r="0.61" opacity="0.73"/>
<circle cx="363.9" cy="361.0" r="0.50" opacity="1.00"/>
<circle cx="364.5" cy="352.2" r="0.50" opacity="0.98"/>
<circle cx="364.9" cy="361.2" r="0.52" opacity="0.75"/>
<circle cx="364.2" cy="357.0" r="0.53" opacity="0.93"/>
<circle cx="362.3" cy="359.8" r="0.55" opacity="0.91"/>
<circle cx="363.3" cy="359.8" r="0.53" opacity="0.94"/>
<circle cx="363.2" cy="357.9" r="0.58" opacity="0.76"/>
<circle cx="366.8" cy="348.9" r="0.52" opacity="0.79"/>
<circle cx="366.7" cy="358.2" r="0.58" opacity="0.82"/>
<circle cx="367.0" cy="349.3" r="0.51" opacity="0.90"/>
<circle cx="363.6" cy="348.6" r="0.58" opacity="0.79"/>
<circle cx="361.5" cy="353.2" r="0.54" opacity="0.96"/>
<circle cx="362.7" cy="361.2" r="0.51" opacity="0.87"/>
<circle cx="364.0" cy="357.8" r="0.54" opacity="0.81"/>
<circle cx="363.4" cy="362.1" r="0.56" opacity="0.76"/>
<circle cx="363.2" cy="362.3" r="0.48" opacity="0.86"/>
<circle cx="364.9" cy="355.7" r="0.53" opacity="0.92"/>
<circle cx="361.4" cy="356.3" r="0.49" opacity="0.86"/>
<circle cx="363.2" cy="363.4" r="0.58" opacity="0.82"/>
<circle cx="362.4" cy="361.7" r="0.57" opacity="0.84"/>
<circle cx="366.1" cy="351.1" r="0.62" opacity="0.98"/>
<circle cx="365.5" cy="363.8" r="0.54" opacity="0.80"/>
<circle cx="365.5" cy="352.5" r="0.59" opacity="0.75"/>
<circle cx="365.1" cy="359.7" r="0.50" opacity="0.97"/>
<circle cx="364.6" cy="362.8" r="0.59" opacity="0.80"/>
<circle cx="364.8" cy="363.0" r="0.61" opacity="0.93"/>
<circle cx="364.8" cy="367.5" r="0.58" opacity="0.79"/>
<circle cx="362.4" cy="352.8" r="0.62" opacity="0.77"/>
<circle cx="363.1" cy="363.1" r="0.51" opacity="0.87"/>
<circle cx="361.6" cy="351.9" r="0.52" opacity="0.73"/>
<circle cx="364.4" cy="360.8" r="0.52" opacity="0.90"/>
<circle cx="362.6" cy="357.0" r="0.60" opacity="0.71"/>
<circle cx="361.2" cy="365.7" r="0.61" opacity="0.86"/>
<circle cx="366.7" cy="358.2" r="0.48" opacity="0.91"/>
<circle cx="363.4" cy="360.6" r="0.60" opacity="0.93"/>
<circle cx="364.4" cy="343.2" r="0.5" opacity="0.95"/>
<circle cx="363.2" cy="343.2" r="0.5" opacity="0.95"/>
</g>
<rect x="392.95" y="241.1" width="68.1" height="14.1" fill="#b9b9be"/>
<text x="427.0" y="251" font-size="8.7" text-anchor="middle" fill="#111" font-weight="normal" textLength="19.4" lengthAdjust="spacingAndGlyphs">hom.</text>
<path d="M393.5 255.2 V377 H460.5 V255.2" fill="none" stroke="#161616" stroke-width="1.3"/>
<text x="456.6" y="263.9" font-size="8.6" text-anchor="end" fill="#111" font-weight="normal" textLength="38.8" lengthAdjust="spacingAndGlyphs">62.8bp/PD</text>
<path d="M406.6 377.6 V380.2" stroke="#161616" stroke-width="1.15"/>
<text x="406.70000000000005" y="389.2" font-size="8.3" text-anchor="middle" fill="#111" font-weight="normal" textLength="8" lengthAdjust="spacingAndGlyphs">50</text>
<path d="M424.0 377.6 V380.2" stroke="#161616" stroke-width="1.15"/>
<text x="424.1" y="389.2" font-size="8.3" text-anchor="middle" fill="#111" font-weight="normal" textLength="10.4" lengthAdjust="spacingAndGlyphs">100</text>
<path d="M441.4 377.6 V380.2" stroke="#161616" stroke-width="1.15"/>
<text x="441.50000000000006" y="389.2" font-size="8.3" text-anchor="middle" fill="#111" font-weight="normal" textLength="10.4" lengthAdjust="spacingAndGlyphs">150</text>
<path d="M458.8 377.6 V380.2" stroke="#161616" stroke-width="1.15"/>
<text x="456.70000000000005" y="389.2" font-size="8.3" text-anchor="middle" fill="#111" font-weight="normal" textLength="11" lengthAdjust="spacingAndGlyphs">200</text>
<path d="M399.5 312.1 V366.3" stroke="#2a2a2a" stroke-width="0.9" opacity="0.85"/>
<rect x="396.4" y="336.7" width="5.9" height="19.6" fill="#c9ebc4"/>
<g fill="#1a1a1a">
<circle cx="399.5" cy="332.6" r="0.51" opacity="0.86"/>
<circle cx="400.4" cy="333.1" r="0.50" opacity="0.86"/>
<circle cx="401.8" cy="341.1" r="0.51" opacity="0.98"/>
<circle cx="400.5" cy="337.9" r="0.49" opacity="0.99"/>
<circle cx="396.4" cy="350.3" r="0.50" opacity="0.73"/>
<circle cx="398.2" cy="322.2" r="0.59" opacity="0.70"/>
<circle cx="398.6" cy="354.9" r="0.49" opacity="0.98"/>
<circle cx="400.1" cy="326.5" r="0.50" opacity="0.84"/>
<circle cx="399.7" cy="348.8" r="0.57" opacity="0.84"/>
<circle cx="397.3" cy="339.3" r="0.49" opacity="0.72"/>
<circle cx="402.5" cy="347.8" r="0.58" opacity="0.95"/>
<circle cx="401.6" cy="341.1" r="0.51" opacity="0.79"/>
<circle cx="397.6" cy="355.8" r="0.52" opacity="0.92"/>
<circle cx="398.4" cy="326.1" r="0.55" opacity="0.88"/>
<circle cx="402.0" cy="350.0" r="0.56" opacity="0.99"/>
<circle cx="398.2" cy="350.8" r="0.55" opacity="0.70"/>
<circle cx="396.9" cy="347.4" r="0.52" opacity="0.97"/>
<circle cx="399.3" cy="334.5" r="0.49" opacity="0.79"/>
<circle cx="398.9" cy="336.6" r="0.56" opacity="0.72"/>
<circle cx="399.8" cy="353.3" r="0.61" opacity="0.97"/>
<circle cx="399.5" cy="352.6" r="0.58" opacity="0.84"/>
<circle cx="400.8" cy="356.5" r="0.56" opacity="0.88"/>
<circle cx="398.4" cy="336.0" r="0.57" opacity="0.83"/>
<circle cx="400.1" cy="354.2" r="0.60" opacity="0.76"/>
<circle cx="399.5" cy="341.2" r="0.57" opacity="0.90"/>
<circle cx="399.5" cy="335.4" r="0.57" opacity="0.98"/>
<circle cx="400.3" cy="347.7" r="0.53" opacity="0.94"/>
<circle cx="399.0" cy="336.6" r="0.58" opacity="0.86"/>
<circle cx="396.9" cy="355.6" r="0.49" opacity="0.88"/>
<circle cx="399.5" cy="342.1" r="0.52" opacity="0.81"/>
<circle cx="400.8" cy="318.0" r="0.53" opacity="0.73"/>
<circle cx="399.7" cy="321.4" r="0.62" opacity="0.83"/>
<circle cx="396.2" cy="332.2" r="0.56" opacity="0.77"/>
<circle cx="398.3" cy="344.3" r="0.59" opacity="0.91"/>
<circle cx="399.8" cy="312.2" r="0.53" opacity="0.78"/>
<circle cx="398.2" cy="339.7" r="0.60" opacity="0.70"/>
<circle cx="399.4" cy="342.0" r="0.50" opacity="0.91"/>
<circle cx="401.8" cy="348.6" r="0.52" opacity="0.73"/>
<circle cx="397.4" cy="354.3" r="0.50" opacity="0.79"/>
<circle cx="401.0" cy="355.1" r="0.49" opacity="0.73"/>
<circle cx="398.2" cy="339.2" r="0.50" opacity="0.76"/>
<circle cx="400.7" cy="334.5" r="0.54" opacity="0.76"/>
<circle cx="398.3" cy="349.9" r="0.52" opacity="0.94"/>
<circle cx="400.8" cy="331.3" r="0.48" opacity="0.99"/>
<circle cx="397.4" cy="352.2" r="0.60" opacity="0.99"/>
<circle cx="397.4" cy="318.9" r="0.49" opacity="0.88"/>
<circle cx="401.5" cy="318.0" r="0.52" opacity="0.74"/>
<circle cx="400.9" cy="353.7" r="0.49" opacity="0.91"/>
<circle cx="396.7" cy="352.7" r="0.55" opacity="0.79"/>
<circle cx="401.9" cy="343.3" r="0.58" opacity="0.85"/>
<circle cx="399.6" cy="353.9" r="0.54" opacity="0.83"/>
<circle cx="402.5" cy="334.9" r="0.58" opacity="0.96"/>
<circle cx="399.3" cy="340.3" r="0.59" opacity="0.92"/>
<circle cx="401.1" cy="344.6" r="0.52" opacity="0.72"/>
<circle cx="401.9" cy="357.2" r="0.56" opacity="0.93"/>
<circle cx="399.5" cy="319.0" r="0.54" opacity="0.99"/>
<circle cx="397.1" cy="366.0" r="0.59" opacity="0.87"/>
<circle cx="397.0" cy="359.3" r="0.56" opacity="0.96"/>
<circle cx="399.7" cy="362.0" r="0.55" opacity="0.80"/>
<circle cx="402.2" cy="333.7" r="0.60" opacity="0.99"/>
<circle cx="398.9" cy="352.0" r="0.56" opacity="1.00"/>
<circle cx="396.4" cy="324.1" r="0.62" opacity="0.76"/>
<circle cx="400.2" cy="348.3" r="0.51" opacity="0.84"/>
<circle cx="396.5" cy="343.1" r="0.58" opacity="0.99"/>
<circle cx="398.7" cy="336.1" r="0.55" opacity="0.74"/>
<circle cx="398.6" cy="350.2" r="0.50" opacity="0.91"/>
<circle cx="396.6" cy="317.0" r="0.60" opacity="0.76"/>
<circle cx="400.7" cy="352.8" r="0.61" opacity="0.96"/>
<circle cx="397.2" cy="350.8" r="0.54" opacity="0.98"/>
<circle cx="399.6" cy="322.8" r="0.60" opacity="0.84"/>
<circle cx="401.6" cy="357.6" r="0.50" opacity="0.91"/>
<circle cx="401.6" cy="341.2" r="0.50" opacity="0.98"/>
<circle cx="402.1" cy="346.0" r="0.49" opacity="0.90"/>
<circle cx="397.6" cy="362.6" r="0.62" opacity="0.87"/>
<circle cx="397.7" cy="359.4" r="0.62" opacity="0.92"/>
<circle cx="399.7" cy="343.3" r="0.62" opacity="0.97"/>
<circle cx="400.8" cy="313.0" r="0.50" opacity="0.95"/>
<circle cx="396.8" cy="344.7" r="0.51" opacity="0.93"/>
<circle cx="400.6" cy="345.8" r="0.53" opacity="0.98"/>
<circle cx="397.8" cy="346.6" r="0.58" opacity="0.95"/>
<circle cx="398.2" cy="333.3" r="0.56" opacity="0.79"/>
<circle cx="401.6" cy="353.9" r="0.59" opacity="0.93"/>
<circle cx="400.9" cy="334.3" r="0.59" opacity="0.89"/>
<circle cx="398.9" cy="349.6" r="0.51" opacity="0.84"/>
<circle cx="398.2" cy="359.3" r="0.58" opacity="0.88"/>
<circle cx="401.7" cy="328.3" r="0.57" opacity="0.96"/>
<circle cx="402.5" cy="331.2" r="0.49" opacity="0.83"/>
<circle cx="400.4" cy="348.0" r="0.57" opacity="0.71"/>
<circle cx="398.2" cy="356.1" r="0.52" opacity="0.89"/>
<circle cx="396.6" cy="344.1" r="0.49" opacity="0.97"/>
<circle cx="402.2" cy="324.3" r="0.62" opacity="0.92"/>
<circle cx="402.2" cy="358.9" r="0.62" opacity="0.83"/>
<circle cx="399.6" cy="350.8" r="0.54" opacity="0.94"/>
<circle cx="399.6" cy="351.5" r="0.50" opacity="0.86"/>
<circle cx="400.4" cy="351.3" r="0.55" opacity="0.75"/>
<circle cx="396.5" cy="337.8" r="0.57" opacity="0.82"/>
<circle cx="398.6" cy="356.2" r="0.52" opacity="0.74"/>
<circle cx="400.9" cy="357.8" r="0.55" opacity="0.75"/>
<circle cx="399.7" cy="349.7" r="0.57" opacity="0.89"/>
<circle cx="399.9" cy="357.9" r="0.52" opacity="0.74"/>
<circle cx="401.6" cy="328.5" r="0.61" opacity="0.94"/>
<circle cx="398.0" cy="354.5" r="0.60" opacity="0.78"/>
<circle cx="399.7" cy="352.4" r="0.48" opacity="0.73"/>
<circle cx="396.7" cy="342.2" r="0.50" opacity="1.00"/>
<circle cx="401.3" cy="361.7" r="0.56" opacity="0.96"/>
<circle cx="400.7" cy="327.0" r="0.49" opacity="0.98"/>
<circle cx="399.1" cy="334.8" r="0.55" opacity="0.87"/>
<circle cx="399.5" cy="318.4" r="0.49" opacity="0.85"/>
<circle cx="398.9" cy="338.0" r="0.58" opacity="0.93"/>
<circle cx="400.2" cy="354.4" r="0.51" opacity="0.88"/>
<circle cx="396.9" cy="324.1" r="0.50" opacity="0.90"/>
<circle cx="397.1" cy="324.8" r="0.49" opacity="0.70"/>
<circle cx="401.9" cy="321.8" r="0.48" opacity="0.75"/>
<circle cx="398.2" cy="330.9" r="0.51" opacity="0.94"/>
<circle cx="397.1" cy="324.9" r="0.57" opacity="0.74"/>
<circle cx="402.5" cy="339.4" r="0.52" opacity="0.84"/>
<circle cx="396.9" cy="329.8" r="0.57" opacity="0.91"/>
<circle cx="398.6" cy="348.4" r="0.59" opacity="0.72"/>
<circle cx="401.1" cy="364.0" r="0.51" opacity="0.81"/>
<circle cx="398.6" cy="354.3" r="0.49" opacity="1.00"/>
<circle cx="396.2" cy="344.0" r="0.61" opacity="0.74"/>
<circle cx="402.2" cy="342.9" r="0.59" opacity="0.88"/>
<circle cx="397.5" cy="356.1" r="0.51" opacity="0.82"/>
<circle cx="401.8" cy="361.3" r="0.56" opacity="0.78"/>
<circle cx="396.2" cy="345.1" r="0.56" opacity="0.87"/>
<circle cx="399.7" cy="343.7" r="0.51" opacity="0.76"/>
<circle cx="402.0" cy="357.1" r="0.55" opacity="0.92"/>
<circle cx="396.5" cy="328.8" r="0.51" opacity="0.76"/>
<circle cx="397.2" cy="339.7" r="0.61" opacity="0.79"/>
<circle cx="401.2" cy="336.7" r="0.56" opacity="0.97"/>
<circle cx="400.3" cy="343.3" r="0.54" opacity="0.95"/>
<circle cx="401.2" cy="342.8" r="0.49" opacity="0.75"/>
<circle cx="400.5" cy="341.5" r="0.55" opacity="0.90"/>
<circle cx="398.8" cy="350.9" r="0.62" opacity="0.87"/>
<circle cx="400.1" cy="350.0" r="0.62" opacity="0.84"/>
<circle cx="397.6" cy="337.0" r="0.57" opacity="0.79"/>
<circle cx="401.3" cy="362.1" r="0.53" opacity="0.97"/>
<circle cx="398.7" cy="344.1" r="0.48" opacity="0.96"/>
<circle cx="399.3" cy="352.3" r="0.55" opacity="0.99"/>
<circle cx="402.0" cy="350.4" r="0.59" opacity="0.86"/>
<circle cx="401.5" cy="342.0" r="0.57" opacity="0.73"/>
<circle cx="398.9" cy="338.0" r="0.57" opacity="0.76"/>
<circle cx="400.5" cy="356.0" r="0.62" opacity="0.73"/>
<circle cx="397.2" cy="351.2" r="0.52" opacity="0.91"/>
<circle cx="398.5" cy="348.4" r="0.57" opacity="0.93"/>
<circle cx="399.7" cy="344.3" r="0.56" opacity="0.87"/>
<circle cx="398.6" cy="353.8" r="0.51" opacity="0.90"/>
<circle cx="402.3" cy="354.3" r="0.52" opacity="0.87"/>
<circle cx="400.3" cy="359.6" r="0.48" opacity="0.85"/>
<circle cx="402.4" cy="344.9" r="0.54" opacity="0.86"/>
<circle cx="401.6" cy="335.2" r="0.54" opacity="0.97"/>
<circle cx="398.1" cy="358.3" r="0.49" opacity="0.85"/>
<circle cx="401.5" cy="333.2" r="0.62" opacity="0.76"/>
<circle cx="398.4" cy="337.7" r="0.54" opacity="0.74"/>
<circle cx="397.9" cy="339.5" r="0.57" opacity="0.73"/>
<circle cx="401.6" cy="333.8" r="0.48" opacity="0.76"/>
<circle cx="400.4" cy="318.2" r="0.51" opacity="0.97"/>
<circle cx="400.0" cy="361.3" r="0.49" opacity="0.71"/>
<circle cx="402.2" cy="347.0" r="0.61" opacity="0.79"/>
<circle cx="397.4" cy="324.8" r="0.60" opacity="0.98"/>
<circle cx="401.5" cy="344.9" r="0.53" opacity="0.92"/>
<circle cx="399.0" cy="323.0" r="0.62" opacity="0.94"/>
<circle cx="400.7" cy="361.8" r="0.56" opacity="0.89"/>
<circle cx="397.8" cy="334.5" r="0.58" opacity="0.97"/>
<circle cx="397.1" cy="347.5" r="0.52" opacity="0.87"/>
<circle cx="398.8" cy="360.2" r="0.58" opacity="0.80"/>
<circle cx="399.9" cy="342.1" r="0.50" opacity="0.98"/>
<circle cx="398.4" cy="321.8" r="0.61" opacity="0.79"/>
<circle cx="398.6" cy="323.1" r="0.59" opacity="0.90"/>
<circle cx="400.4" cy="336.1" r="0.58" opacity="0.80"/>
<circle cx="397.9" cy="305.6" r="0.5" opacity="0.95"/>
<circle cx="400.5" cy="305.6" r="0.5" opacity="0.95"/>
</g>
<path d="M406.5 308.8 V367.4" stroke="#2a2a2a" stroke-width="0.9" opacity="0.85"/>
<rect x="403.7" y="342.1" width="5.9" height="16.4" fill="#addfa6"/>
<g fill="#1a1a1a">
<circle cx="406.2" cy="345.8" r="0.49" opacity="0.86"/>
<circle cx="405.3" cy="350.1" r="0.59" opacity="0.92"/>
<circle cx="409.8" cy="327.5" r="0.56" opacity="1.00"/>
<circle cx="405.0" cy="350.2" r="0.50" opacity="0.78"/>
<circle cx="408.6" cy="342.0" r="0.59" opacity="0.71"/>
<circle cx="403.5" cy="356.0" r="0.60" opacity="0.74"/>
<circle cx="405.4" cy="356.7" r="0.59" opacity="0.98"/>
<circle cx="406.5" cy="338.4" r="0.49" opacity="0.77"/>
<circle cx="404.2" cy="362.5" r="0.50" opacity="0.80"/>
<circle cx="408.9" cy="337.4" r="0.51" opacity="0.85"/>
<circle cx="406.9" cy="330.6" r="0.48" opacity="0.97"/>
<circle cx="404.1" cy="350.3" r="0.61" opacity="0.87"/>
<circle cx="408.0" cy="351.2" r="0.58" opacity="0.75"/>
<circle cx="405.4" cy="328.4" r="0.53" opacity="0.96"/>
<circle cx="404.2" cy="349.4" r="0.58" opacity="0.92"/>
<circle cx="407.6" cy="339.0" r="0.49" opacity="0.79"/>
<circle cx="406.2" cy="354.6" r="0.55" opacity="0.73"/>
<circle cx="407.2" cy="344.0" r="0.48" opacity="0.80"/>
<circle cx="408.1" cy="349.3" r="0.53" opacity="0.75"/>
<circle cx="406.1" cy="349.0" r="0.56" opacity="0.91"/>
<circle cx="408.7" cy="354.4" r="0.57" opacity="0.94"/>
<circle cx="405.4" cy="356.7" r="0.52" opacity="0.81"/>
<circle cx="407.3" cy="361.4" r="0.52" opacity="0.97"/>
<circle cx="408.2" cy="333.5" r="0.53" opacity="1.00"/>
<circle cx="407.8" cy="353.5" r="0.54" opacity="0.86"/>
<circle cx="408.2" cy="357.4" r="0.50" opacity="0.76"/>
<circle cx="406.5" cy="343.5" r="0.60" opacity="0.71"/>
<circle cx="405.7" cy="342.7" r="0.55" opacity="0.82"/>
<circle cx="404.9" cy="341.5" r="0.60" opacity="0.76"/>
<circle cx="407.0" cy="362.0" r="0.58" opacity="0.89"/>
<circle cx="408.5" cy="352.6" r="0.53" opacity="0.79"/>
<circle cx="406.6" cy="350.5" r="0.50" opacity="0.80"/>
<circle cx="406.8" cy="339.8" r="0.53" opacity="0.73"/>
<circle cx="405.3" cy="340.8" r="0.49" opacity="0.79"/>
<circle cx="407.9" cy="348.0" r="0.52" opacity="0.81"/>
<circle cx="404.8" cy="357.5" r="0.59" opacity="0.98"/>
<circle cx="408.9" cy="358.2" r="0.53" opacity="0.84"/>
<circle cx="405.0" cy="338.7" r="0.51" opacity="0.95"/>
<circle cx="405.4" cy="357.8" r="0.56" opacity="0.76"/>
<circle cx="406.7" cy="330.1" r="0.56" opacity="0.94"/>
<circle cx="406.5" cy="362.5" r="0.56" opacity="0.79"/>
<circle cx="404.9" cy="350.8" r="0.62" opacity="0.88"/>
<circle cx="407.2" cy="339.8" r="0.55" opacity="1.00"/>
<circle cx="409.7" cy="330.1" r="0.58" opacity="0.99"/>
<circle cx="407.5" cy="343.2" r="0.58" opacity="0.94"/>
<circle cx="408.5" cy="347.9" r="0.56" opacity="0.99"/>
<circle cx="407.4" cy="358.2" r="0.60" opacity="0.93"/>
<circle cx="405.5" cy="348.2" r="0.57" opacity="0.71"/>
<circle cx="404.2" cy="347.0" r="0.51" opacity="0.78"/>
<circle cx="404.9" cy="355.8" r="0.49" opacity="0.96"/>
<circle cx="409.3" cy="365.8" r="0.58" opacity="0.74"/>
<circle cx="405.3" cy="349.7" r="0.60" opacity="0.97"/>
<circle cx="409.8" cy="339.2" r="0.61" opacity="0.82"/>
<circle cx="405.8" cy="331.9" r="0.57" opacity="0.93"/>
<circle cx="406.5" cy="356.3" r="0.49" opacity="0.75"/>
<circle cx="406.2" cy="356.4" r="0.58" opacity="0.79"/>
<circle cx="405.1" cy="324.7" r="0.51" opacity="0.84"/>
<circle cx="409.1" cy="333.3" r="0.58" opacity="0.83"/>
<circle cx="405.4" cy="355.4" r="0.56" opacity="0.98"/>
<circle cx="404.8" cy="354.5" r="0.62" opacity="0.94"/>
<circle cx="408.3" cy="353.3" r="0.51" opacity="0.95"/>
<circle cx="408.4" cy="349.9" r="0.56" opacity="0.77"/>
<circle cx="403.5" cy="327.6" r="0.55" opacity="0.93"/>
<circle cx="404.4" cy="360.3" r="0.51" opacity="0.88"/>
<circle cx="404.4" cy="346.8" r="0.51" opacity="0.98"/>
<circle cx="406.1" cy="340.3" r="0.48" opacity="0.78"/>
<circle cx="403.6" cy="342.4" r="0.61" opacity="0.79"/>
<circle cx="404.3" cy="346.4" r="0.55" opacity="0.79"/>
<circle cx="407.2" cy="353.3" r="0.61" opacity="0.82"/>
<circle cx="408.9" cy="335.2" r="0.54" opacity="0.72"/>
<circle cx="405.5" cy="350.5" r="0.57" opacity="0.92"/>
<circle cx="408.7" cy="340.6" r="0.60" opacity="0.94"/>
<circle cx="407.9" cy="341.4" r="0.49" opacity="0.90"/>
<circle cx="406.4" cy="339.9" r="0.58" opacity="0.98"/>
<circle cx="407.6" cy="362.8" r="0.57" opacity="0.81"/>
<circle cx="404.0" cy="344.2" r="0.49" opacity="0.90"/>
<circle cx="404.8" cy="342.2" r="0.61" opacity="0.79"/>
<circle cx="409.8" cy="357.0" r="0.59" opacity="0.97"/>
<circle cx="409.3" cy="351.4" r="0.61" opacity="0.98"/>
<circle cx="404.0" cy="349.5" r="0.58" opacity="0.72"/>
<circle cx="405.7" cy="348.3" r="0.58" opacity="0.71"/>
<circle cx="406.0" cy="342.8" r="0.58" opacity="0.79"/>
<circle cx="409.8" cy="353.7" r="0.51" opacity="0.84"/>
<circle cx="409.7" cy="359.0" r="0.58" opacity="1.00"/>
<circle cx="408.7" cy="354.8" r="0.53" opacity="0.90"/>
<circle cx="409.3" cy="336.0" r="0.62" opacity="0.75"/>
<circle cx="407.2" cy="360.3" r="0.52" opacity="0.96"/>
<circle cx="408.4" cy="343.2" r="0.58" opacity="0.99"/>
<circle cx="404.9" cy="361.9" r="0.49" opacity="0.94"/>
<circle cx="408.2" cy="358.8" r="0.59" opacity="0.76"/>
<circle cx="407.0" cy="362.3" r="0.60" opacity="0.72"/>
<circle cx="407.0" cy="363.8" r="0.57" opacity="0.82"/>
<circle cx="403.9" cy="314.7" r="0.60" opacity="0.77"/>
<circle cx="405.6" cy="356.8" r="0.51" opacity="0.86"/>
<circle cx="406.9" cy="355.2" r="0.52" opacity="0.74"/>
<circle cx="406.0" cy="353.4" r="0.52" opacity="0.92"/>
<circle cx="405.8" cy="312.9" r="0.58" opacity="0.80"/>
<circle cx="403.5" cy="352.5" r="0.56" opacity="0.89"/>
<circle cx="406.1" cy="349.2" r="0.54" opacity="0.81"/>
<circle cx="403.6" cy="361.8" r="0.60" opacity="0.78"/>
<circle cx="404.8" cy="355.3" r="0.57" opacity="0.82"/>
<circle cx="404.0" cy="359.4" r="0.62" opacity="0.83"/>
<circle cx="408.9" cy="344.8" r="0.52" opacity="0.94"/>
<circle cx="405.2" cy="340.7" r="0.51" opacity="1.00"/>
<circle cx="406.5" cy="342.0" r="0.59" opacity="0.90"/>
<circle cx="404.7" cy="341.6" r="0.59" opacity="0.88"/>
<circle cx="408.4" cy="340.8" r="0.62" opacity="0.84"/>
<circle cx="406.4" cy="353.4" r="0.53" opacity="0.98"/>
<circle cx="409.6" cy="351.2" r="0.50" opacity="0.81"/>
<circle cx="408.0" cy="341.8" r="0.48" opacity="0.77"/>
<circle cx="403.5" cy="344.9" r="0.58" opacity="0.91"/>
<circle cx="409.4" cy="354.8" r="0.60" opacity="0.98"/>
<circle cx="404.2" cy="362.1" r="0.57" opacity="0.81"/>
<circle cx="405.5" cy="355.6" r="0.49" opacity="0.94"/>
<circle cx="403.6" cy="337.4" r="0.56" opacity="0.75"/>
<circle cx="405.5" cy="351.1" r="0.55" opacity="0.78"/>
<circle cx="404.9" cy="342.3" r="0.58" opacity="0.81"/>
<circle cx="405.5" cy="351.3" r="0.50" opacity="0.84"/>
<circle cx="406.8" cy="340.5" r="0.56" opacity="0.76"/>
<circle cx="406.5" cy="359.8" r="0.57" opacity="0.74"/>
<circle cx="408.5" cy="341.7" r="0.58" opacity="0.75"/>
<circle cx="405.4" cy="353.1" r="0.61" opacity="0.82"/>
<circle cx="404.9" cy="349.3" r="0.57" opacity="0.83"/>
<circle cx="408.7" cy="350.3" r="0.57" opacity="1.00"/>
<circle cx="406.0" cy="348.6" r="0.50" opacity="0.88"/>
<circle cx="404.0" cy="354.3" r="0.49" opacity="0.84"/>
<circle cx="407.5" cy="359.0" r="0.58" opacity="0.91"/>
<circle cx="404.5" cy="345.1" r="0.60" opacity="0.71"/>
<circle cx="407.4" cy="346.7" r="0.49" opacity="0.85"/>
<circle cx="407.8" cy="336.6" r="0.49" opacity="0.92"/>
<circle cx="408.8" cy="355.1" r="0.57" opacity="0.94"/>
<circle cx="404.2" cy="348.4" r="0.54" opacity="0.72"/>
<circle cx="403.5" cy="318.5" r="0.53" opacity="0.71"/>
<circle cx="405.8" cy="349.2" r="0.62" opacity="0.78"/>
<circle cx="409.8" cy="351.9" r="0.61" opacity="0.82"/>
<circle cx="403.5" cy="349.3" r="0.53" opacity="0.91"/>
<circle cx="406.3" cy="358.7" r="0.54" opacity="0.81"/>
<circle cx="409.6" cy="318.8" r="0.48" opacity="0.70"/>
<circle cx="404.4" cy="348.7" r="0.59" opacity="0.96"/>
<circle cx="404.7" cy="344.5" r="0.53" opacity="0.84"/>
<circle cx="409.3" cy="354.0" r="0.59" opacity="0.79"/>
<circle cx="407.6" cy="353.6" r="0.59" opacity="0.98"/>
<circle cx="405.9" cy="339.7" r="0.61" opacity="0.84"/>
<circle cx="408.8" cy="340.5" r="0.54" opacity="0.81"/>
<circle cx="405.2" cy="364.4" r="0.61" opacity="0.85"/>
<circle cx="407.6" cy="366.0" r="0.56" opacity="0.96"/>
<circle cx="406.6" cy="337.7" r="0.59" opacity="0.76"/>
<circle cx="406.4" cy="343.1" r="0.58" opacity="0.86"/>
<circle cx="407.9" cy="346.7" r="0.53" opacity="0.86"/>
<circle cx="404.6" cy="345.5" r="0.51" opacity="0.78"/>
<circle cx="407.8" cy="356.8" r="0.51" opacity="0.83"/>
<circle cx="409.5" cy="344.4" r="0.49" opacity="1.00"/>
<circle cx="409.6" cy="353.3" r="0.48" opacity="0.91"/>
<circle cx="404.4" cy="346.0" r="0.51" opacity="0.98"/>
<circle cx="404.9" cy="360.4" r="0.53" opacity="0.88"/>
<circle cx="404.2" cy="347.1" r="0.57" opacity="0.82"/>
<circle cx="409.0" cy="323.7" r="0.58" opacity="0.93"/>
<circle cx="408.5" cy="318.3" r="0.48" opacity="0.77"/>
<circle cx="409.1" cy="342.3" r="0.49" opacity="0.78"/>
<circle cx="408.5" cy="358.8" r="0.51" opacity="0.87"/>
<circle cx="405.5" cy="352.4" r="0.59" opacity="0.91"/>
<circle cx="408.0" cy="359.4" r="0.52" opacity="0.85"/>
<circle cx="404.0" cy="356.5" r="0.52" opacity="0.81"/>
<circle cx="406.7" cy="342.1" r="0.61" opacity="0.95"/>
<circle cx="409.1" cy="349.0" r="0.59" opacity="0.92"/>
<circle cx="406.0" cy="348.6" r="0.50" opacity="0.73"/>
<circle cx="406.3" cy="351.3" r="0.49" opacity="0.76"/>
<circle cx="407.6" cy="355.3" r="0.61" opacity="0.80"/>
<circle cx="403.7" cy="345.5" r="0.48" opacity="0.73"/>
<circle cx="406.4" cy="349.4" r="0.61" opacity="0.85"/>
</g>
<path d="M416.5 327.6 V366.3" stroke="#2a2a2a" stroke-width="0.9" opacity="0.85"/>
<rect x="413.4" y="345.3" width="5.9" height="13.2" fill="#86d283"/>
<g fill="#1a1a1a">
<circle cx="417.7" cy="344.5" r="0.62" opacity="0.92"/>
<circle cx="416.0" cy="357.0" r="0.52" opacity="0.75"/>
<circle cx="419.4" cy="330.9" r="0.62" opacity="0.81"/>
<circle cx="414.5" cy="345.1" r="0.50" opacity="0.70"/>
<circle cx="414.7" cy="350.0" r="0.55" opacity="0.86"/>
<circle cx="416.1" cy="360.1" r="0.61" opacity="0.83"/>
<circle cx="419.1" cy="353.6" r="0.58" opacity="0.83"/>
<circle cx="417.4" cy="356.5" r="0.51" opacity="0.84"/>
<circle cx="417.0" cy="364.6" r="0.55" opacity="0.89"/>
<circle cx="417.0" cy="339.9" r="0.52" opacity="0.76"/>
<circle cx="416.3" cy="333.6" r="0.52" opacity="0.88"/>
<circle cx="418.2" cy="339.5" r="0.62" opacity="0.73"/>
<circle cx="416.3" cy="358.6" r="0.57" opacity="0.99"/>
<circle cx="416.3" cy="344.7" r="0.59" opacity="0.71"/>
<circle cx="414.3" cy="354.7" r="0.49" opacity="0.93"/>
<circle cx="416.6" cy="359.3" r="0.58" opacity="0.93"/>
<circle cx="413.7" cy="361.6" r="0.59" opacity="0.84"/>
<circle cx="414.8" cy="335.7" r="0.61" opacity="0.79"/>
<circle cx="418.5" cy="331.7" r="0.49" opacity="0.74"/>
<circle cx="413.4" cy="346.3" r="0.55" opacity="0.95"/>
<circle cx="415.2" cy="353.3" r="0.52" opacity="0.88"/>
<circle cx="419.4" cy="345.7" r="0.60" opacity="0.89"/>
<circle cx="416.3" cy="345.8" r="0.55" opacity="0.91"/>
<circle cx="415.1" cy="359.2" r="0.55" opacity="0.75"/>
<circle cx="413.9" cy="357.3" r="0.54" opacity="0.72"/>
<circle cx="413.3" cy="337.7" r="0.59" opacity="0.79"/>
<circle cx="415.3" cy="343.2" r="0.50" opacity="0.90"/>
<circle cx="414.9" cy="349.3" r="0.56" opacity="0.77"/>
<circle cx="413.7" cy="359.5" r="0.51" opacity="0.77"/>
<circle cx="417.0" cy="359.0" r="0.56" opacity="0.90"/>
<circle cx="416.2" cy="348.4" r="0.60" opacity="0.74"/>
<circle cx="418.8" cy="328.2" r="0.54" opacity="0.95"/>
<circle cx="419.2" cy="351.6" r="0.61" opacity="0.80"/>
<circle cx="416.2" cy="364.3" r="0.53" opacity="0.71"/>
<circle cx="419.1" cy="341.0" r="0.54" opacity="0.94"/>
<circle cx="416.4" cy="338.1" r="0.52" opacity="0.98"/>
<circle cx="418.0" cy="357.1" r="0.49" opacity="0.89"/>
<circle cx="416.1" cy="348.0" r="0.52" opacity="0.73"/>
<circle cx="416.1" cy="347.3" r="0.48" opacity="0.94"/>
<circle cx="415.2" cy="353.9" r="0.56" opacity="0.91"/>
<circle cx="417.8" cy="346.5" r="0.56" opacity="0.94"/>
<circle cx="415.4" cy="352.8" r="0.50" opacity="0.95"/>
<circle cx="419.1" cy="354.5" r="0.53" opacity="0.75"/>
<circle cx="416.0" cy="349.9" r="0.57" opacity="0.86"/>
<circle cx="418.3" cy="345.2" r="0.62" opacity="0.89"/>
<circle cx="418.5" cy="358.8" r="0.56" opacity="0.91"/>
<circle cx="417.7" cy="352.8" r="0.60" opacity="0.84"/>
<circle cx="418.4" cy="345.3" r="0.52" opacity="0.75"/>
<circle cx="416.7" cy="358.0" r="0.61" opacity="0.88"/>
<circle cx="414.8" cy="337.5" r="0.50" opacity="0.86"/>
<circle cx="416.9" cy="338.3" r="0.49" opacity="0.93"/>
<circle cx="416.4" cy="359.4" r="0.59" opacity="0.73"/>
<circle cx="418.0" cy="330.9" r="0.58" opacity="0.91"/>
<circle cx="413.5" cy="332.1" r="0.51" opacity="0.79"/>
<circle cx="413.8" cy="350.2" r="0.54" opacity="0.74"/>
<circle cx="418.3" cy="354.9" r="0.48" opacity="0.76"/>
<circle cx="415.8" cy="349.6" r="0.61" opacity="0.79"/>
<circle cx="419.5" cy="359.3" r="0.54" opacity="0.94"/>
<circle cx="415.4" cy="354.2" r="0.60" opacity="0.98"/>
<circle cx="418.0" cy="337.5" r="0.55" opacity="0.82"/>
<circle cx="414.5" cy="347.7" r="0.60" opacity="0.94"/>
<circle cx="418.2" cy="344.5" r="0.56" opacity="0.90"/>
<circle cx="419.6" cy="351.4" r="0.52" opacity="0.82"/>
<circle cx="414.9" cy="361.4" r="0.59" opacity="0.95"/>
<circle cx="414.9" cy="353.8" r="0.53" opacity="0.93"/>
<circle cx="415.7" cy="358.3" r="0.58" opacity="0.94"/>
<circle cx="417.3" cy="346.0" r="0.60" opacity="0.76"/>
<circle cx="417.7" cy="358.8" r="0.48" opacity="0.82"/>
<circle cx="418.6" cy="359.9" r="0.50" opacity="0.92"/>
<circle cx="413.7" cy="349.9" r="0.54" opacity="0.74"/>
<circle cx="414.1" cy="348.5" r="0.62" opacity="0.76"/>
<circle cx="417.1" cy="344.5" r="0.57" opacity="0.74"/>
<circle cx="415.9" cy="355.0" r="0.57" opacity="0.81"/>
<circle cx="415.2" cy="350.5" r="0.59" opacity="0.98"/>
<circle cx="416.6" cy="344.3" r="0.53" opacity="0.76"/>
<circle cx="414.0" cy="349.7" r="0.50" opacity="0.83"/>
<circle cx="417.5" cy="363.5" r="0.57" opacity="0.97"/>
<circle cx="417.9" cy="334.9" r="0.55" opacity="0.94"/>
<circle cx="413.7" cy="336.7" r="0.59" opacity="0.83"/>
<circle cx="418.6" cy="352.8" r="0.51" opacity="0.97"/>
<circle cx="418.1" cy="359.3" r="0.53" opacity="0.85"/>
<circle cx="415.4" cy="355.7" r="0.50" opacity="0.78"/>
<circle cx="414.2" cy="354.4" r="0.62" opacity="0.89"/>
<circle cx="418.1" cy="331.3" r="0.57" opacity="0.99"/>
<circle cx="414.1" cy="356.5" r="0.48" opacity="0.73"/>
<circle cx="413.6" cy="362.9" r="0.49" opacity="0.73"/>
<circle cx="419.2" cy="357.1" r="0.59" opacity="0.71"/>
<circle cx="415.3" cy="350.5" r="0.51" opacity="0.79"/>
<circle cx="415.4" cy="347.5" r="0.56" opacity="0.87"/>
<circle cx="416.9" cy="353.2" r="0.52" opacity="0.76"/>
<circle cx="419.3" cy="351.1" r="0.56" opacity="0.92"/>
<circle cx="417.7" cy="338.6" r="0.60" opacity="0.93"/>
<circle cx="413.3" cy="328.0" r="0.59" opacity="0.84"/>
<circle cx="413.7" cy="337.2" r="0.57" opacity="0.74"/>
<circle cx="414.0" cy="356.6" r="0.52" opacity="0.72"/>
<circle cx="418.2" cy="347.7" r="0.52" opacity="0.87"/>
<circle cx="417.3" cy="349.6" r="0.59" opacity="0.98"/>
<circle cx="419.1" cy="341.1" r="0.53" opacity="0.98"/>
<circle cx="418.7" cy="343.7" r="0.49" opacity="0.96"/>
<circle cx="416.9" cy="345.8" r="0.56" opacity="0.96"/>
<circle cx="418.7" cy="335.1" r="0.55" opacity="0.77"/>
<circle cx="415.9" cy="345.5" r="0.52" opacity="0.93"/>
<circle cx="413.3" cy="348.6" r="0.48" opacity="0.87"/>
<circle cx="414.0" cy="337.0" r="0.59" opacity="0.71"/>
<circle cx="414.6" cy="359.5" r="0.62" opacity="0.84"/>
<circle cx="419.4" cy="349.0" r="0.52" opacity="0.71"/>
<circle cx="415.5" cy="357.4" r="0.56" opacity="0.72"/>
<circle cx="419.5" cy="350.7" r="0.49" opacity="0.91"/>
<circle cx="414.3" cy="362.2" r="0.54" opacity="0.76"/>
<circle cx="414.8" cy="363.1" r="0.56" opacity="0.92"/>
<circle cx="414.9" cy="350.2" r="0.49" opacity="0.89"/>
<circle cx="415.2" cy="350.8" r="0.50" opacity="0.88"/>
<circle cx="414.6" cy="345.6" r="0.53" opacity="1.00"/>
<circle cx="419.2" cy="349.2" r="0.53" opacity="0.94"/>
<circle cx="416.7" cy="333.0" r="0.61" opacity="0.90"/>
<circle cx="413.9" cy="343.7" r="0.48" opacity="0.92"/>
<circle cx="418.8" cy="355.9" r="0.62" opacity="0.78"/>
<circle cx="413.8" cy="354.3" r="0.49" opacity="0.79"/>
<circle cx="414.4" cy="353.6" r="0.58" opacity="0.93"/>
<circle cx="418.3" cy="362.1" r="0.58" opacity="0.80"/>
<circle cx="417.1" cy="311.5" r="0.5" opacity="0.95"/>
<circle cx="418.5" cy="321.2" r="0.5" opacity="0.95"/>
<circle cx="415.2" cy="322.2" r="0.5" opacity="0.95"/>
</g>
<path d="M423.5 327.6 V366.8" stroke="#2a2a2a" stroke-width="0.9" opacity="0.85"/>
<rect x="420.8" y="345.3" width="5.9" height="14.3" fill="#58c557"/>
<g fill="#1a1a1a">
<circle cx="420.6" cy="357.2" r="0.56" opacity="0.73"/>
<circle cx="426.2" cy="352.1" r="0.53" opacity="0.99"/>
<circle cx="424.3" cy="349.6" r="0.55" opacity="0.89"/>
<circle cx="422.2" cy="349.6" r="0.51" opacity="0.77"/>
<circle cx="426.5" cy="341.8" r="0.54" opacity="0.75"/>
<circle cx="426.2" cy="356.2" r="0.55" opacity="0.85"/>
<circle cx="421.6" cy="344.9" r="0.53" opacity="0.83"/>
<circle cx="424.2" cy="342.7" r="0.56" opacity="0.78"/>
<circle cx="421.5" cy="338.1" r="0.48" opacity="0.99"/>
<circle cx="425.4" cy="346.0" r="0.60" opacity="0.89"/>
<circle cx="422.9" cy="343.1" r="0.54" opacity="0.87"/>
<circle cx="421.9" cy="356.2" r="0.48" opacity="0.82"/>
<circle cx="420.6" cy="343.6" r="0.60" opacity="0.77"/>
<circle cx="424.0" cy="355.6" r="0.59" opacity="0.77"/>
<circle cx="425.1" cy="354.7" r="0.56" opacity="0.81"/>
<circle cx="425.2" cy="357.5" r="0.58" opacity="0.93"/>
<circle cx="421.4" cy="360.0" r="0.50" opacity="0.79"/>
<circle cx="421.4" cy="346.0" r="0.55" opacity="0.76"/>
<circle cx="420.9" cy="351.0" r="0.53" opacity="0.92"/>
<circle cx="426.1" cy="364.3" r="0.56" opacity="0.80"/>
<circle cx="424.9" cy="337.0" r="0.49" opacity="0.89"/>
<circle cx="423.0" cy="348.9" r="0.49" opacity="0.74"/>
<circle cx="423.0" cy="340.3" r="0.59" opacity="0.89"/>
<circle cx="424.3" cy="342.1" r="0.51" opacity="0.74"/>
<circle cx="423.3" cy="358.4" r="0.62" opacity="0.77"/>
<circle cx="424.9" cy="336.4" r="0.60" opacity="0.73"/>
<circle cx="423.5" cy="339.8" r="0.52" opacity="0.74"/>
<circle cx="421.4" cy="343.5" r="0.48" opacity="0.73"/>
<circle cx="424.6" cy="351.2" r="0.53" opacity="0.94"/>
<circle cx="426.5" cy="340.9" r="0.49" opacity="0.74"/>
<circle cx="425.9" cy="355.4" r="0.59" opacity="0.88"/>
<circle cx="424.1" cy="351.1" r="0.55" opacity="0.87"/>
<circle cx="422.0" cy="349.4" r="0.56" opacity="0.93"/>
<circle cx="422.6" cy="360.9" r="0.56" opacity="0.91"/>
<circle cx="423.2" cy="346.3" r="0.55" opacity="0.93"/>
<circle cx="421.7" cy="358.4" r="0.55" opacity="0.70"/>
<circle cx="422.8" cy="349.6" r="0.61" opacity="0.88"/>
<circle cx="424.6" cy="349.4" r="0.55" opacity="0.70"/>
<circle cx="426.7" cy="357.6" r="0.48" opacity="0.85"/>
<circle cx="423.4" cy="363.8" r="0.59" opacity="0.83"/>
<circle cx="424.2" cy="352.7" r="0.55" opacity="0.73"/>
<circle cx="421.7" cy="364.9" r="0.59" opacity="0.90"/>
<circle cx="425.9" cy="364.1" r="0.53" opacity="0.81"/>
<circle cx="423.2" cy="360.2" r="0.62" opacity="0.96"/>
<circle cx="426.6" cy="349.5" r="0.53" opacity="0.78"/>
<circle cx="423.1" cy="353.7" r="0.51" opacity="0.99"/>
<circle cx="425.8" cy="345.4" r="0.59" opacity="0.84"/>
<circle cx="421.4" cy="349.2" r="0.59" opacity="0.93"/>
<circle cx="422.8" cy="360.5" r="0.51" opacity="0.92"/>
<circle cx="423.0" cy="364.3" r="0.48" opacity="0.80"/>
<circle cx="425.4" cy="349.8" r="0.53" opacity="0.74"/>
<circle cx="424.9" cy="343.1" r="0.57" opacity="0.97"/>
<circle cx="426.0" cy="360.9" r="0.53" opacity="0.77"/>
<circle cx="425.8" cy="354.2" r="0.58" opacity="0.76"/>
<circle cx="425.6" cy="344.9" r="0.58" opacity="0.88"/>
<circle cx="420.5" cy="354.2" r="0.60" opacity="0.80"/>
<circle cx="425.2" cy="341.2" r="0.58" opacity="0.95"/>
<circle cx="426.4" cy="363.1" r="0.60" opacity="0.80"/>
<circle cx="426.1" cy="348.8" r="0.56" opacity="0.99"/>
<circle cx="420.9" cy="350.6" r="0.50" opacity="0.96"/>
<circle cx="420.7" cy="362.0" r="0.61" opacity="0.78"/>
<circle cx="423.6" cy="347.8" r="0.55" opacity="0.85"/>
<circle cx="422.6" cy="347.0" r="0.54" opacity="0.97"/>
<circle cx="425.2" cy="335.2" r="0.59" opacity="0.83"/>
<circle cx="421.6" cy="364.6" r="0.58" opacity="0.84"/>
<circle cx="425.0" cy="355.8" r="0.61" opacity="0.82"/>
<circle cx="422.5" cy="353.6" r="0.51" opacity="0.89"/>
<circle cx="425.2" cy="347.3" r="0.59" opacity="0.99"/>
<circle cx="423.6" cy="359.9" r="0.53" opacity="0.79"/>
<circle cx="423.8" cy="359.3" r="0.54" opacity="0.86"/>
<circle cx="426.8" cy="339.7" r="0.52" opacity="0.88"/>
<circle cx="423.4" cy="354.5" r="0.54" opacity="0.77"/>
<circle cx="423.6" cy="335.4" r="0.53" opacity="0.79"/>
<circle cx="422.6" cy="345.8" r="0.56" opacity="0.82"/>
<circle cx="421.2" cy="361.2" r="0.48" opacity="0.90"/>
<circle cx="422.3" cy="339.1" r="0.58" opacity="0.80"/>
<circle cx="422.6" cy="344.4" r="0.57" opacity="0.91"/>
<circle cx="426.6" cy="356.9" r="0.56" opacity="0.71"/>
<circle cx="421.6" cy="359.4" r="0.54" opacity="0.77"/>
<circle cx="426.6" cy="342.8" r="0.53" opacity="0.85"/>
<circle cx="422.2" cy="353.0" r="0.57" opacity="0.79"/>
<circle cx="424.5" cy="360.0" r="0.56" opacity="0.99"/>
<circle cx="426.2" cy="351.8" r="0.60" opacity="0.72"/>
<circle cx="422.0" cy="343.8" r="0.59" opacity="0.91"/>
<circle cx="425.7" cy="349.2" r="0.53" opacity="0.95"/>
<circle cx="426.5" cy="364.6" r="0.50" opacity="0.82"/>
<circle cx="423.9" cy="346.8" r="0.56" opacity="0.79"/>
<circle cx="420.8" cy="363.0" r="0.58" opacity="0.99"/>
<circle cx="422.9" cy="361.9" r="0.61" opacity="0.76"/>
<circle cx="424.9" cy="351.1" r="0.58" opacity="0.79"/>
<circle cx="425.8" cy="355.2" r="0.48" opacity="0.96"/>
<circle cx="423.7" cy="357.2" r="0.60" opacity="0.93"/>
<circle cx="421.2" cy="353.9" r="0.49" opacity="0.90"/>
<circle cx="426.6" cy="349.8" r="0.53" opacity="0.81"/>
<circle cx="420.6" cy="346.9" r="0.61" opacity="0.82"/>
<circle cx="425.1" cy="363.3" r="0.58" opacity="0.73"/>
<circle cx="420.9" cy="356.9" r="0.59" opacity="0.87"/>
<circle cx="425.4" cy="351.0" r="0.51" opacity="0.98"/>
<circle cx="426.0" cy="333.5" r="0.51" opacity="0.81"/>
<circle cx="421.5" cy="348.8" r="0.55" opacity="0.84"/>
<circle cx="424.6" cy="329.9" r="0.55" opacity="0.78"/>
<circle cx="426.3" cy="352.7" r="0.54" opacity="0.85"/>
<circle cx="420.9" cy="363.2" r="0.58" opacity="0.74"/>
<circle cx="421.0" cy="341.8" r="0.60" opacity="0.97"/>
<circle cx="423.8" cy="357.2" r="0.61" opacity="0.92"/>
<circle cx="426.6" cy="328.0" r="0.56" opacity="0.71"/>
<circle cx="424.5" cy="353.6" r="0.48" opacity="0.83"/>
<circle cx="424.8" cy="345.1" r="0.59" opacity="0.80"/>
<circle cx="424.1" cy="354.5" r="0.52" opacity="0.97"/>
<circle cx="424.5" cy="343.6" r="0.54" opacity="0.72"/>
<circle cx="422.3" cy="347.0" r="0.59" opacity="0.77"/>
<circle cx="420.8" cy="357.2" r="0.55" opacity="0.73"/>
<circle cx="426.4" cy="359.9" r="0.50" opacity="0.99"/>
<circle cx="425.9" cy="351.6" r="0.61" opacity="0.78"/>
<circle cx="422.7" cy="353.3" r="0.57" opacity="0.79"/>
<circle cx="421.4" cy="357.1" r="0.57" opacity="0.90"/>
<circle cx="425.9" cy="340.7" r="0.56" opacity="0.90"/>
<circle cx="421.8" cy="358.3" r="0.54" opacity="0.74"/>
<circle cx="424.7" cy="363.9" r="0.53" opacity="0.91"/>
<circle cx="423.7" cy="360.6" r="0.57" opacity="0.93"/>
<circle cx="424.5" cy="353.4" r="0.49" opacity="0.86"/>
<circle cx="425.6" cy="336.9" r="0.53" opacity="0.83"/>
<circle cx="424.1" cy="361.7" r="0.62" opacity="0.95"/>
<circle cx="424.8" cy="355.2" r="0.51" opacity="0.91"/>
<circle cx="426.0" cy="351.3" r="0.49" opacity="0.84"/>
<circle cx="425.8" cy="356.8" r="0.54" opacity="0.87"/>
<circle cx="424.6" cy="338.4" r="0.50" opacity="0.80"/>
<circle cx="424.0" cy="347.7" r="0.49" opacity="0.99"/>
<circle cx="425.3" cy="351.7" r="0.61" opacity="0.83"/>
<circle cx="424.5" cy="354.6" r="0.52" opacity="0.77"/>
<circle cx="426.3" cy="309.9" r="0.5" opacity="0.95"/>
<circle cx="424.8" cy="311.5" r="0.5" opacity="0.95"/>
<circle cx="423.9" cy="312.1" r="0.5" opacity="0.95"/>
<circle cx="423.7" cy="324.3" r="0.5" opacity="0.95"/>
</g>
<path d="M435.5 329.9 V367.4" stroke="#2a2a2a" stroke-width="0.9" opacity="0.85"/>
<rect x="432.2" y="346.4" width="5.9" height="15.5" fill="#2fae3a"/>
<g fill="#1a1a1a">
<circle cx="434.0" cy="356.1" r="0.54" opacity="0.72"/>
<circle cx="432.7" cy="361.5" r="0.57" opacity="0.80"/>
<circle cx="433.5" cy="354.3" r="0.60" opacity="0.84"/>
<circle cx="434.0" cy="347.9" r="0.61" opacity="0.88"/>
<circle cx="438.4" cy="355.8" r="0.58" opacity="0.76"/>
<circle cx="437.8" cy="356.0" r="0.59" opacity="0.94"/>
<circle cx="435.7" cy="351.0" r="0.50" opacity="0.72"/>
<circle cx="437.9" cy="339.0" r="0.53" opacity="0.89"/>
<circle cx="437.7" cy="333.0" r="0.52" opacity="0.92"/>
<circle cx="432.3" cy="366.5" r="0.52" opacity="0.74"/>
<circle cx="436.7" cy="346.5" r="0.51" opacity="0.90"/>
<circle cx="435.6" cy="362.3" r="0.56" opacity="0.80"/>
<circle cx="433.0" cy="359.0" r="0.57" opacity="0.95"/>
<circle cx="433.1" cy="361.7" r="0.49" opacity="0.71"/>
<circle cx="432.8" cy="359.7" r="0.52" opacity="0.85"/>
<circle cx="433.4" cy="362.6" r="0.57" opacity="0.89"/>
<circle cx="434.1" cy="359.9" r="0.59" opacity="0.89"/>
<circle cx="434.7" cy="346.8" r="0.49" opacity="0.73"/>
<circle cx="432.7" cy="353.9" r="0.56" opacity="0.77"/>
<circle cx="434.9" cy="360.3" r="0.52" opacity="0.98"/>
<circle cx="432.8" cy="350.8" r="0.58" opacity="0.75"/>
<circle cx="435.3" cy="352.3" r="0.58" opacity="0.94"/>
<circle cx="434.4" cy="340.1" r="0.53" opacity="0.95"/>
<circle cx="434.4" cy="362.7" r="0.61" opacity="0.94"/>
<circle cx="433.8" cy="359.0" r="0.58" opacity="0.84"/>
<circle cx="432.9" cy="348.7" r="0.59" opacity="0.76"/>
<circle cx="434.6" cy="358.3" r="0.51" opacity="0.96"/>
<circle cx="435.1" cy="356.2" r="0.55" opacity="0.71"/>
<circle cx="435.6" cy="354.6" r="0.59" opacity="0.95"/>
<circle cx="437.8" cy="356.0" r="0.60" opacity="0.74"/>
<circle cx="437.6" cy="338.0" r="0.52" opacity="0.83"/>
<circle cx="438.3" cy="341.4" r="0.58" opacity="0.84"/>
<circle cx="433.3" cy="356.8" r="0.54" opacity="0.79"/>
<circle cx="435.8" cy="362.2" r="0.54" opacity="0.85"/>
<circle cx="437.4" cy="359.1" r="0.61" opacity="0.88"/>
<circle cx="434.0" cy="357.3" r="0.50" opacity="0.93"/>
<circle cx="436.1" cy="350.0" r="0.51" opacity="0.74"/>
<circle cx="438.3" cy="359.5" r="0.59" opacity="0.99"/>
<circle cx="437.0" cy="357.7" r="0.61" opacity="0.98"/>
<circle cx="436.1" cy="360.9" r="0.50" opacity="0.78"/>
<circle cx="438.2" cy="344.3" r="0.55" opacity="0.98"/>
<circle cx="434.4" cy="350.5" r="0.57" opacity="0.94"/>
<circle cx="432.8" cy="358.7" r="0.57" opacity="0.71"/>
<circle cx="432.8" cy="342.7" r="0.57" opacity="0.82"/>
<circle cx="434.1" cy="352.0" r="0.62" opacity="0.74"/>
<circle cx="435.2" cy="340.9" r="0.60" opacity="0.71"/>
<circle cx="437.2" cy="355.4" r="0.57" opacity="0.77"/>
<circle cx="436.9" cy="343.7" r="0.56" opacity="0.73"/>
<circle cx="433.5" cy="343.3" r="0.52" opacity="0.80"/>
<circle cx="432.5" cy="354.1" r="0.49" opacity="0.74"/>
<circle cx="436.6" cy="367.4" r="0.52" opacity="0.74"/>
<circle cx="437.3" cy="345.7" r="0.51" opacity="0.93"/>
<circle cx="437.1" cy="360.6" r="0.56" opacity="0.82"/>
<circle cx="435.6" cy="345.3" r="0.55" opacity="0.71"/>
<circle cx="432.7" cy="360.5" r="0.61" opacity="0.70"/>
<circle cx="436.0" cy="356.1" r="0.58" opacity="0.95"/>
<circle cx="432.7" cy="336.5" r="0.51" opacity="0.85"/>
<circle cx="435.3" cy="359.8" r="0.52" opacity="0.72"/>
<circle cx="434.9" cy="351.7" r="0.60" opacity="0.73"/>
<circle cx="434.8" cy="338.0" r="0.56" opacity="0.72"/>
<circle cx="434.5" cy="340.1" r="0.58" opacity="0.77"/>
<circle cx="435.0" cy="360.0" r="0.53" opacity="0.72"/>
<circle cx="438.3" cy="332.1" r="0.57" opacity="0.74"/>
<circle cx="434.0" cy="343.8" r="0.48" opacity="0.80"/>
<circle cx="435.6" cy="361.9" r="0.62" opacity="0.79"/>
<circle cx="436.6" cy="335.7" r="0.59" opacity="0.81"/>
<circle cx="432.6" cy="333.3" r="0.58" opacity="0.91"/>
<circle cx="434.7" cy="361.7" r="0.55" opacity="0.88"/>
<circle cx="434.1" cy="361.1" r="0.56" opacity="0.82"/>
<circle cx="437.6" cy="355.9" r="0.49" opacity="0.75"/>
<circle cx="434.8" cy="356.6" r="0.52" opacity="0.85"/>
<circle cx="438.1" cy="360.0" r="0.51" opacity="0.73"/>
<circle cx="437.1" cy="361.2" r="0.59" opacity="0.82"/>
<circle cx="438.0" cy="353.9" r="0.60" opacity="0.98"/>
<circle cx="436.5" cy="347.7" r="0.53" opacity="0.82"/>
<circle cx="433.0" cy="356.3" r="0.54" opacity="0.98"/>
<circle cx="436.6" cy="349.8" r="0.49" opacity="0.84"/>
<circle cx="433.2" cy="342.1" r="0.54" opacity="0.90"/>
<circle cx="437.6" cy="359.6" r="0.61" opacity="0.79"/>
<circle cx="437.4" cy="360.7" r="0.59" opacity="0.90"/>
<circle cx="433.9" cy="352.1" r="0.52" opacity="0.93"/>
<circle cx="432.9" cy="330.1" r="0.51" opacity="0.93"/>
<circle cx="435.2" cy="339.8" r="0.50" opacity="0.86"/>
<circle cx="437.9" cy="364.2" r="0.60" opacity="0.90"/>
<circle cx="437.5" cy="364.5" r="0.60" opacity="0.85"/>
<circle cx="433.3" cy="349.1" r="0.57" opacity="0.86"/>
<circle cx="435.2" cy="357.0" r="0.51" opacity="0.83"/>
<circle cx="432.6" cy="355.4" r="0.51" opacity="0.84"/>
<circle cx="433.8" cy="365.3" r="0.58" opacity="0.77"/>
<circle cx="437.4" cy="351.9" r="0.56" opacity="0.71"/>
<circle cx="435.4" cy="359.8" r="0.50" opacity="0.81"/>
<circle cx="437.7" cy="352.1" r="0.52" opacity="0.92"/>
<circle cx="437.3" cy="364.7" r="0.49" opacity="0.92"/>
<circle cx="438.2" cy="361.7" r="0.52" opacity="0.96"/>
<circle cx="433.4" cy="341.1" r="0.61" opacity="0.94"/>
<circle cx="434.7" cy="356.6" r="0.51" opacity="0.89"/>
<circle cx="432.4" cy="356.7" r="0.54" opacity="0.79"/>
<circle cx="436.3" cy="365.3" r="0.56" opacity="0.70"/>
<circle cx="433.8" cy="357.6" r="0.51" opacity="0.77"/>
<circle cx="437.6" cy="344.3" r="0.51" opacity="0.99"/>
<circle cx="436.8" cy="334.0" r="0.61" opacity="0.76"/>
<circle cx="434.3" cy="364.0" r="0.50" opacity="0.78"/>
<circle cx="437.4" cy="352.7" r="0.59" opacity="0.71"/>
<circle cx="432.0" cy="352.4" r="0.55" opacity="1.00"/>
<circle cx="436.6" cy="362.3" r="0.56" opacity="0.92"/>
<circle cx="437.0" cy="330.5" r="0.50" opacity="0.70"/>
<circle cx="437.0" cy="359.6" r="0.53" opacity="0.98"/>
<circle cx="435.1" cy="358.0" r="0.53" opacity="0.83"/>
<circle cx="437.4" cy="355.9" r="0.53" opacity="0.73"/>
<circle cx="434.2" cy="349.4" r="0.60" opacity="1.00"/>
<circle cx="432.9" cy="362.8" r="0.52" opacity="0.73"/>
<circle cx="436.1" cy="357.4" r="0.60" opacity="1.00"/>
<circle cx="434.9" cy="361.8" r="0.57" opacity="0.83"/>
<circle cx="435.7" cy="362.5" r="0.54" opacity="0.79"/>
<circle cx="437.0" cy="353.1" r="0.50" opacity="0.84"/>
<circle cx="434.2" cy="354.6" r="0.61" opacity="0.91"/>
<circle cx="436.7" cy="356.1" r="0.55" opacity="0.73"/>
<circle cx="433.8" cy="346.3" r="0.54" opacity="0.99"/>
<circle cx="436.0" cy="364.6" r="0.59" opacity="0.81"/>
<circle cx="433.4" cy="359.3" r="0.51" opacity="0.78"/>
<circle cx="432.2" cy="358.8" r="0.52" opacity="0.88"/>
<circle cx="437.0" cy="340.2" r="0.54" opacity="0.89"/>
<circle cx="436.2" cy="331.8" r="0.59" opacity="0.73"/>
<circle cx="436.9" cy="360.1" r="0.50" opacity="0.99"/>
<circle cx="432.8" cy="330.5" r="0.56" opacity="0.83"/>
<circle cx="434.0" cy="349.4" r="0.50" opacity="0.91"/>
<circle cx="432.5" cy="344.1" r="0.53" opacity="1.00"/>
<circle cx="436.0" cy="364.4" r="0.59" opacity="0.95"/>
<circle cx="438.0" cy="359.2" r="0.53" opacity="0.98"/>
<circle cx="432.3" cy="343.2" r="0.60" opacity="0.99"/>
<circle cx="437.1" cy="311.5" r="0.5" opacity="0.95"/>
<circle cx="434.1" cy="311.5" r="0.5" opacity="0.95"/>
<circle cx="435.6" cy="311.5" r="0.5" opacity="0.95"/>
<circle cx="432.9" cy="317.4" r="0.5" opacity="0.95"/>
</g>
<path d="M248.1 374.3 H251.2" stroke="#161616" stroke-width="1.1"/>
<text x="245.8" y="377.15000000000003" font-size="8" text-anchor="end" fill="#111" font-weight="normal" textLength="11" lengthAdjust="spacingAndGlyphs">0.0</text>
<path d="M248.1 347.5 H251.2" stroke="#161616" stroke-width="1.1"/>
<text x="245.8" y="350.32000000000005" font-size="8" text-anchor="end" fill="#111" font-weight="normal" textLength="11" lengthAdjust="spacingAndGlyphs">2.5</text>
<path d="M248.1 320.6 H251.2" stroke="#161616" stroke-width="1.1"/>
<text x="245.8" y="323.49" font-size="8" text-anchor="end" fill="#111" font-weight="normal" textLength="11" lengthAdjust="spacingAndGlyphs">5.0</text>
<path d="M248.1 293.8 H251.2" stroke="#161616" stroke-width="1.1"/>
<text x="245.8" y="296.66" font-size="8" text-anchor="end" fill="#111" font-weight="normal" textLength="11" lengthAdjust="spacingAndGlyphs">7.5</text>
<path d="M248.1 267.0 H251.2" stroke="#161616" stroke-width="1.1"/>
<text x="245.8" y="269.83000000000004" font-size="8" text-anchor="end" fill="#111" font-weight="normal" textLength="14.7" lengthAdjust="spacingAndGlyphs">10.0</text>
<text x="224.6" y="316" font-size="8.1" text-anchor="middle" fill="#111" font-weight="normal" transform="rotate(-90 224.6 316)" textLength="47.4" lengthAdjust="spacingAndGlyphs">Band size [kb]</text>
<text x="356.4" y="401.3" font-size="9" text-anchor="middle" fill="#111" font-weight="normal" textLength="81" lengthAdjust="spacingAndGlyphs">Days after differentiation</text>
<text x="470.3" y="271.2" font-size="7.9" text-anchor="start" fill="#111" font-weight="normal" textLength="12.7" lengthAdjust="spacingAndGlyphs">Day</text>
<path d="M476.6 278.2 V288.2" stroke="#444" stroke-width="0.55"/>
<rect x="471.2" y="280.2" width="10.8" height="6" fill="#c9ebc4"/>
<path d="M471.2 283.2 H482" stroke="#333" stroke-width="0.7" opacity="0.8"/>
<text x="484.1" y="286.0" font-size="7.9" text-anchor="start" fill="#111" font-weight="normal" textLength="7.7" lengthAdjust="spacingAndGlyphs">29</text>
<path d="M476.6 291.3 V301.3" stroke="#444" stroke-width="0.55"/>
<rect x="471.2" y="293.3" width="10.8" height="6" fill="#addfa6"/>
<path d="M471.2 296.3 H482" stroke="#333" stroke-width="0.7" opacity="0.8"/>
<text x="484.1" y="299.1" font-size="7.9" text-anchor="start" fill="#111" font-weight="normal" textLength="7.7" lengthAdjust="spacingAndGlyphs">50</text>
<path d="M476.6 304.4 V314.4" stroke="#444" stroke-width="0.55"/>
<rect x="471.2" y="306.4" width="10.8" height="6" fill="#86d283"/>
<path d="M471.2 309.4 H482" stroke="#333" stroke-width="0.7" opacity="0.8"/>
<text x="484.1" y="312.2" font-size="7.9" text-anchor="start" fill="#111" font-weight="normal" textLength="7.7" lengthAdjust="spacingAndGlyphs">78</text>
<path d="M476.6 317.5 V327.5" stroke="#444" stroke-width="0.55"/>
<rect x="471.2" y="319.5" width="10.8" height="6" fill="#58c557"/>
<path d="M471.2 322.5 H482" stroke="#333" stroke-width="0.7" opacity="0.8"/>
<text x="484.1" y="325.3" font-size="7.9" text-anchor="start" fill="#111" font-weight="normal" textLength="7.7" lengthAdjust="spacingAndGlyphs">99</text>
<path d="M476.6 330.59999999999997 V340.59999999999997" stroke="#444" stroke-width="0.55"/>
<rect x="471.2" y="332.59999999999997" width="10.8" height="6" fill="#2fae3a"/>
<path d="M471.2 335.59999999999997 H482" stroke="#333" stroke-width="0.7" opacity="0.8"/>
<text x="484.1" y="338.4" font-size="7.9" text-anchor="start" fill="#111" font-weight="normal" textLength="11.8" lengthAdjust="spacingAndGlyphs">132</text>
<path d="M476.6 343.7 V353.7" stroke="#444" stroke-width="0.55"/>
<rect x="471.2" y="345.7" width="10.8" height="6" fill="#2b9270"/>
<path d="M471.2 348.7 H482" stroke="#333" stroke-width="0.7" opacity="0.8"/>
<text x="484.1" y="351.5" font-size="7.9" text-anchor="start" fill="#111" font-weight="normal" textLength="11.8" lengthAdjust="spacingAndGlyphs">162</text>
<path d="M476.6 356.79999999999995 V366.79999999999995" stroke="#444" stroke-width="0.55"/>
<rect x="471.2" y="358.79999999999995" width="10.8" height="6" fill="#0e6a52"/>
<path d="M471.2 361.79999999999995 H482" stroke="#333" stroke-width="0.7" opacity="0.8"/>
<text x="484.1" y="364.59999999999997" font-size="7.9" text-anchor="start" fill="#111" font-weight="normal" textLength="11.8" lengthAdjust="spacingAndGlyphs">188</text>
<rect x="0" y="0" width="520" height="1" fill="#000"/><rect x="0" y="0" width="0.9" height="409" fill="#000"/><rect x="518.6" y="0" width="1.4" height="409" fill="#000"/><rect x="0" y="407.7" width="520" height="1.3" fill="#000"/>
</svg>
</body></html>
